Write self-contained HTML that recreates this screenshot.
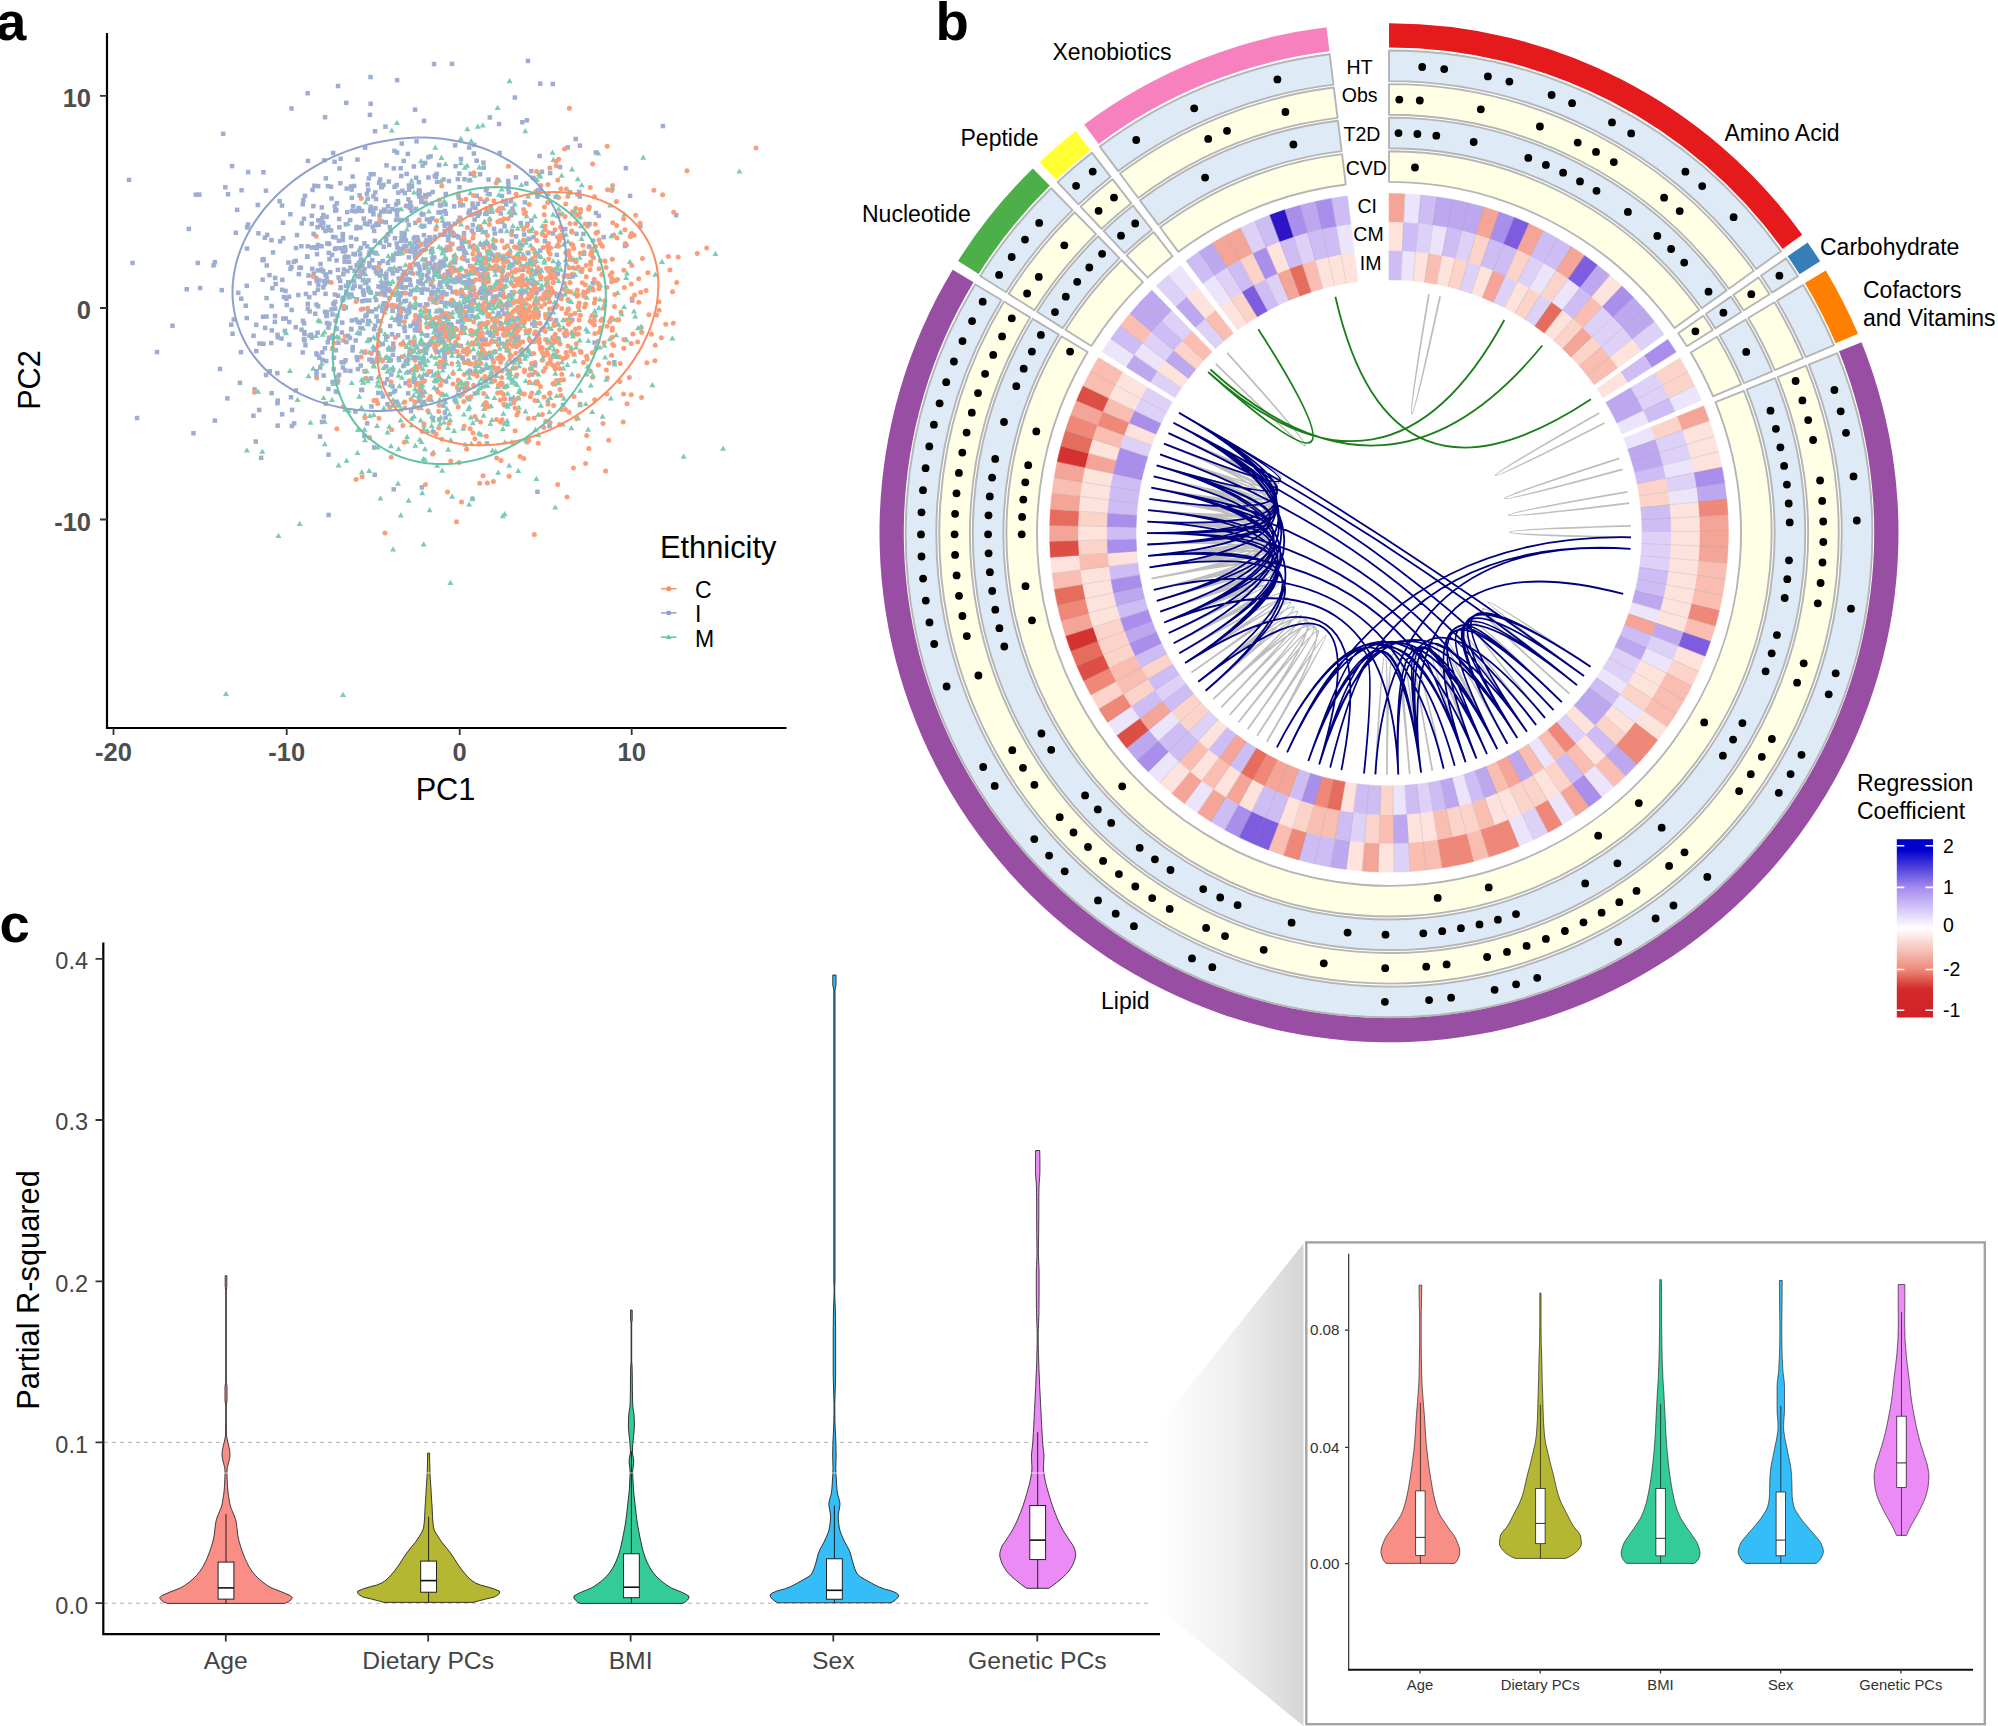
<!DOCTYPE html>
<html><head><meta charset="utf-8"><title>Figure</title>
<style>html,body{margin:0;padding:0;background:#fff}svg{display:block}text{font-family:"Liberation Sans", sans-serif}</style>
</head><body>
<svg width="1998" height="1726" viewBox="0 0 1998 1726">
<rect width="1998" height="1726" fill="#fff"/>
<g opacity="0.85">
<rect x="301.8" y="321.1" width="4.5" height="4.5" fill="#8da0cb"/>
<path d="M520 358.8l3 5.2h-6z" fill="#66c2a5"/>
<rect x="516.2" y="334.8" width="4.5" height="4.5" fill="#8da0cb"/>
<path d="M423.3 352.8l3 5.2h-6z" fill="#66c2a5"/>
<rect x="387.7" y="392" width="4.5" height="4.5" fill="#8da0cb"/>
<circle cx="520" cy="328.2" r="2.5" fill="#fc8d62"/>
<circle cx="481.9" cy="339.1" r="2.5" fill="#fc8d62"/>
<rect x="272.9" y="275.7" width="4.5" height="4.5" fill="#8da0cb"/>
<path d="M466.6 249.7l3 5.2h-6z" fill="#66c2a5"/>
<path d="M434.5 377.4l3 5.2h-6z" fill="#66c2a5"/>
<path d="M511 311l3 5.2h-6z" fill="#66c2a5"/>
<rect x="469.1" y="212.5" width="4.5" height="4.5" fill="#8da0cb"/>
<path d="M496.4 330.2l3 5.2h-6z" fill="#66c2a5"/>
<path d="M450.1 329.1l3 5.2h-6z" fill="#66c2a5"/>
<path d="M376.6 335.3l3 5.2h-6z" fill="#66c2a5"/>
<rect x="456.4" y="387.8" width="4.5" height="4.5" fill="#8da0cb"/>
<circle cx="427.4" cy="346.5" r="2.5" fill="#fc8d62"/>
<circle cx="494.5" cy="327.1" r="2.5" fill="#fc8d62"/>
<rect x="493" y="268.3" width="4.5" height="4.5" fill="#8da0cb"/>
<rect x="261.2" y="257.8" width="4.5" height="4.5" fill="#8da0cb"/>
<path d="M483.1 401.4l3 5.2h-6z" fill="#66c2a5"/>
<circle cx="520.8" cy="292.9" r="2.5" fill="#fc8d62"/>
<circle cx="565.6" cy="320" r="2.5" fill="#fc8d62"/>
<rect x="433.9" y="333.9" width="4.5" height="4.5" fill="#8da0cb"/>
<rect x="264.3" y="295.9" width="4.5" height="4.5" fill="#8da0cb"/>
<circle cx="557.9" cy="245.3" r="2.5" fill="#fc8d62"/>
<path d="M553.4 309.2l3 5.2h-6z" fill="#66c2a5"/>
<circle cx="457.3" cy="387.5" r="2.5" fill="#fc8d62"/>
<rect x="370" y="357.8" width="4.5" height="4.5" fill="#8da0cb"/>
<circle cx="609.6" cy="321.7" r="2.5" fill="#fc8d62"/>
<path d="M453.1 369l3 5.2h-6z" fill="#66c2a5"/>
<circle cx="544.7" cy="297" r="2.5" fill="#fc8d62"/>
<path d="M442.5 217.5l3 5.2h-6z" fill="#66c2a5"/>
<rect x="412.2" y="339.2" width="4.5" height="4.5" fill="#8da0cb"/>
<circle cx="547.7" cy="342.6" r="2.5" fill="#fc8d62"/>
<rect x="573.4" y="136.7" width="4.5" height="4.5" fill="#8da0cb"/>
<path d="M406.6 290.1l3 5.2h-6z" fill="#66c2a5"/>
<path d="M448.7 373.8l3 5.2h-6z" fill="#66c2a5"/>
<path d="M501.4 291.7l3 5.2h-6z" fill="#66c2a5"/>
<circle cx="557.8" cy="180.1" r="2.5" fill="#fc8d62"/>
<path d="M448 424.9l3 5.2h-6z" fill="#66c2a5"/>
<path d="M541.7 282.4l3 5.2h-6z" fill="#66c2a5"/>
<rect x="378.1" y="328.4" width="4.5" height="4.5" fill="#8da0cb"/>
<path d="M558.8 206l3 5.2h-6z" fill="#66c2a5"/>
<rect x="293.6" y="388.2" width="4.5" height="4.5" fill="#8da0cb"/>
<rect x="402.1" y="299" width="4.5" height="4.5" fill="#8da0cb"/>
<circle cx="579.2" cy="328" r="2.5" fill="#fc8d62"/>
<path d="M392.8 308.1l3 5.2h-6z" fill="#66c2a5"/>
<rect x="321" y="212.8" width="4.5" height="4.5" fill="#8da0cb"/>
<circle cx="550.6" cy="294.1" r="2.5" fill="#fc8d62"/>
<path d="M525.7 377.9l3 5.2h-6z" fill="#66c2a5"/>
<rect x="442.6" y="398" width="4.5" height="4.5" fill="#8da0cb"/>
<circle cx="542.4" cy="414.5" r="2.5" fill="#fc8d62"/>
<circle cx="470.1" cy="291.7" r="2.5" fill="#fc8d62"/>
<path d="M532.8 319.9l3 5.2h-6z" fill="#66c2a5"/>
<path d="M620.5 229.3l3 5.2h-6z" fill="#66c2a5"/>
<rect x="481.3" y="280.4" width="4.5" height="4.5" fill="#8da0cb"/>
<circle cx="756" cy="148" r="2.5" fill="#fc8d62"/>
<circle cx="485.5" cy="275.3" r="2.5" fill="#fc8d62"/>
<circle cx="510.2" cy="325.6" r="2.5" fill="#fc8d62"/>
<rect x="360.9" y="289.4" width="4.5" height="4.5" fill="#8da0cb"/>
<circle cx="550.4" cy="268.4" r="2.5" fill="#fc8d62"/>
<rect x="390.3" y="384.2" width="4.5" height="4.5" fill="#8da0cb"/>
<path d="M357.5 449.9l3 5.2h-6z" fill="#66c2a5"/>
<path d="M534.7 213.3l3 5.2h-6z" fill="#66c2a5"/>
<rect x="154.8" y="349.8" width="4.5" height="4.5" fill="#8da0cb"/>
<rect x="313.8" y="275.9" width="4.5" height="4.5" fill="#8da0cb"/>
<rect x="372.8" y="129" width="4.5" height="4.5" fill="#8da0cb"/>
<path d="M431.4 249.2l3 5.2h-6z" fill="#66c2a5"/>
<circle cx="521.8" cy="321.2" r="2.5" fill="#fc8d62"/>
<path d="M465.3 441.5l3 5.2h-6z" fill="#66c2a5"/>
<path d="M442.9 392l3 5.2h-6z" fill="#66c2a5"/>
<rect x="275.6" y="335.1" width="4.5" height="4.5" fill="#8da0cb"/>
<circle cx="485.8" cy="354.3" r="2.5" fill="#fc8d62"/>
<rect x="419.7" y="290.5" width="4.5" height="4.5" fill="#8da0cb"/>
<rect x="391" y="253" width="4.5" height="4.5" fill="#8da0cb"/>
<path d="M410.5 281.4l3 5.2h-6z" fill="#66c2a5"/>
<path d="M435.5 354.5l3 5.2h-6z" fill="#66c2a5"/>
<path d="M388.9 266.3l3 5.2h-6z" fill="#66c2a5"/>
<rect x="431.2" y="284.6" width="4.5" height="4.5" fill="#8da0cb"/>
<rect x="291.6" y="259.6" width="4.5" height="4.5" fill="#8da0cb"/>
<rect x="359.8" y="387.8" width="4.5" height="4.5" fill="#8da0cb"/>
<circle cx="634.6" cy="295" r="2.5" fill="#fc8d62"/>
<path d="M468.8 276.3l3 5.2h-6z" fill="#66c2a5"/>
<rect x="422.3" y="262.5" width="4.5" height="4.5" fill="#8da0cb"/>
<rect x="416.8" y="398.7" width="4.5" height="4.5" fill="#8da0cb"/>
<path d="M441.6 339.1l3 5.2h-6z" fill="#66c2a5"/>
<circle cx="554.1" cy="323.2" r="2.5" fill="#fc8d62"/>
<rect x="439.1" y="299.7" width="4.5" height="4.5" fill="#8da0cb"/>
<path d="M550 298.1l3 5.2h-6z" fill="#66c2a5"/>
<rect x="326.1" y="224.7" width="4.5" height="4.5" fill="#8da0cb"/>
<path d="M444.7 246.5l3 5.2h-6z" fill="#66c2a5"/>
<path d="M511.8 439.1l3 5.2h-6z" fill="#66c2a5"/>
<rect x="359.1" y="387.6" width="4.5" height="4.5" fill="#8da0cb"/>
<path d="M361.7 376.7l3 5.2h-6z" fill="#66c2a5"/>
<circle cx="586.6" cy="356.2" r="2.5" fill="#fc8d62"/>
<rect x="324.6" y="313.9" width="4.5" height="4.5" fill="#8da0cb"/>
<circle cx="337.2" cy="377.3" r="2.5" fill="#fc8d62"/>
<rect x="474.8" y="255.2" width="4.5" height="4.5" fill="#8da0cb"/>
<rect x="477.6" y="210.1" width="4.5" height="4.5" fill="#8da0cb"/>
<rect x="413.9" y="175.5" width="4.5" height="4.5" fill="#8da0cb"/>
<path d="M556.6 392.9l3 5.2h-6z" fill="#66c2a5"/>
<rect x="437" y="417.3" width="4.5" height="4.5" fill="#8da0cb"/>
<rect x="398.5" y="309.4" width="4.5" height="4.5" fill="#8da0cb"/>
<rect x="386.6" y="179.3" width="4.5" height="4.5" fill="#8da0cb"/>
<path d="M496.4 266.9l3 5.2h-6z" fill="#66c2a5"/>
<rect x="402.4" y="231.4" width="4.5" height="4.5" fill="#8da0cb"/>
<circle cx="579.2" cy="303.1" r="2.5" fill="#fc8d62"/>
<path d="M380.4 495.3l3 5.2h-6z" fill="#66c2a5"/>
<path d="M416.4 284.5l3 5.2h-6z" fill="#66c2a5"/>
<path d="M398.4 372.6l3 5.2h-6z" fill="#66c2a5"/>
<path d="M373.6 362.3l3 5.2h-6z" fill="#66c2a5"/>
<circle cx="544.6" cy="355.6" r="2.5" fill="#fc8d62"/>
<circle cx="476.3" cy="372.7" r="2.5" fill="#fc8d62"/>
<circle cx="438.7" cy="411.6" r="2.5" fill="#fc8d62"/>
<path d="M415.6 324.5l3 5.2h-6z" fill="#66c2a5"/>
<path d="M478 314.1l3 5.2h-6z" fill="#66c2a5"/>
<rect x="470.6" y="222.8" width="4.5" height="4.5" fill="#8da0cb"/>
<path d="M569.3 274.1l3 5.2h-6z" fill="#66c2a5"/>
<rect x="480.5" y="256.8" width="4.5" height="4.5" fill="#8da0cb"/>
<path d="M500.4 227.5l3 5.2h-6z" fill="#66c2a5"/>
<path d="M426.9 199.9l3 5.2h-6z" fill="#66c2a5"/>
<rect x="401.5" y="158.7" width="4.5" height="4.5" fill="#8da0cb"/>
<circle cx="604.1" cy="342.8" r="2.5" fill="#fc8d62"/>
<path d="M438.9 329.9l3 5.2h-6z" fill="#66c2a5"/>
<rect x="472" y="270" width="4.5" height="4.5" fill="#8da0cb"/>
<circle cx="448.4" cy="229.3" r="2.5" fill="#fc8d62"/>
<circle cx="598.4" cy="364.9" r="2.5" fill="#fc8d62"/>
<circle cx="421.1" cy="383.1" r="2.5" fill="#fc8d62"/>
<rect x="483.4" y="337.5" width="4.5" height="4.5" fill="#8da0cb"/>
<circle cx="473.5" cy="233.7" r="2.5" fill="#fc8d62"/>
<circle cx="610.9" cy="319.3" r="2.5" fill="#fc8d62"/>
<circle cx="555.1" cy="367.9" r="2.5" fill="#fc8d62"/>
<rect x="351.3" y="251.7" width="4.5" height="4.5" fill="#8da0cb"/>
<rect x="392.7" y="236" width="4.5" height="4.5" fill="#8da0cb"/>
<circle cx="528.3" cy="267.3" r="2.5" fill="#fc8d62"/>
<circle cx="518.3" cy="397.9" r="2.5" fill="#fc8d62"/>
<rect x="425.2" y="302.2" width="4.5" height="4.5" fill="#8da0cb"/>
<circle cx="528.6" cy="294.1" r="2.5" fill="#fc8d62"/>
<circle cx="590.6" cy="264.3" r="2.5" fill="#fc8d62"/>
<path d="M532.3 225.6l3 5.2h-6z" fill="#66c2a5"/>
<rect x="455.6" y="309" width="4.5" height="4.5" fill="#8da0cb"/>
<rect x="423.9" y="302.1" width="4.5" height="4.5" fill="#8da0cb"/>
<path d="M533.5 261.6l3 5.2h-6z" fill="#66c2a5"/>
<path d="M345.1 253.3l3 5.2h-6z" fill="#66c2a5"/>
<circle cx="508.5" cy="325.9" r="2.5" fill="#fc8d62"/>
<path d="M554.6 381.2l3 5.2h-6z" fill="#66c2a5"/>
<rect x="451.8" y="279" width="4.5" height="4.5" fill="#8da0cb"/>
<path d="M336.8 333.7l3 5.2h-6z" fill="#66c2a5"/>
<circle cx="532.1" cy="363.7" r="2.5" fill="#fc8d62"/>
<rect x="509.8" y="289.9" width="4.5" height="4.5" fill="#8da0cb"/>
<path d="M453.9 297.9l3 5.2h-6z" fill="#66c2a5"/>
<path d="M420.7 417.3l3 5.2h-6z" fill="#66c2a5"/>
<rect x="211.3" y="263.1" width="4.5" height="4.5" fill="#8da0cb"/>
<path d="M492.8 308.6l3 5.2h-6z" fill="#66c2a5"/>
<circle cx="441.1" cy="393.9" r="2.5" fill="#fc8d62"/>
<path d="M469.5 305.2l3 5.2h-6z" fill="#66c2a5"/>
<rect x="457.1" y="171.3" width="4.5" height="4.5" fill="#8da0cb"/>
<rect x="419.9" y="272.6" width="4.5" height="4.5" fill="#8da0cb"/>
<rect x="486.3" y="177.3" width="4.5" height="4.5" fill="#8da0cb"/>
<path d="M469.4 374.5l3 5.2h-6z" fill="#66c2a5"/>
<circle cx="443.9" cy="342.6" r="2.5" fill="#fc8d62"/>
<rect x="279.9" y="412.1" width="4.5" height="4.5" fill="#8da0cb"/>
<circle cx="519.3" cy="344.6" r="2.5" fill="#fc8d62"/>
<path d="M406.2 242.8l3 5.2h-6z" fill="#66c2a5"/>
<path d="M519.6 238.8l3 5.2h-6z" fill="#66c2a5"/>
<rect x="525.3" y="221.5" width="4.5" height="4.5" fill="#8da0cb"/>
<circle cx="473.2" cy="287.7" r="2.5" fill="#fc8d62"/>
<circle cx="553.6" cy="338.8" r="2.5" fill="#fc8d62"/>
<path d="M470.3 209.4l3 5.2h-6z" fill="#66c2a5"/>
<rect x="419" y="199.6" width="4.5" height="4.5" fill="#8da0cb"/>
<path d="M392.7 389.4l3 5.2h-6z" fill="#66c2a5"/>
<path d="M441.6 283.7l3 5.2h-6z" fill="#66c2a5"/>
<path d="M481.5 306.8l3 5.2h-6z" fill="#66c2a5"/>
<circle cx="634.1" cy="235.3" r="2.5" fill="#fc8d62"/>
<circle cx="494.5" cy="351.7" r="2.5" fill="#fc8d62"/>
<circle cx="537.7" cy="303.3" r="2.5" fill="#fc8d62"/>
<circle cx="522.2" cy="349.5" r="2.5" fill="#fc8d62"/>
<rect x="298.6" y="265.6" width="4.5" height="4.5" fill="#8da0cb"/>
<circle cx="502.2" cy="279.8" r="2.5" fill="#fc8d62"/>
<path d="M464.7 348l3 5.2h-6z" fill="#66c2a5"/>
<rect x="340.6" y="249.1" width="4.5" height="4.5" fill="#8da0cb"/>
<rect x="420.9" y="342.1" width="4.5" height="4.5" fill="#8da0cb"/>
<path d="M579.1 306.8l3 5.2h-6z" fill="#66c2a5"/>
<circle cx="502.5" cy="271.7" r="2.5" fill="#fc8d62"/>
<rect x="399" y="173.8" width="4.5" height="4.5" fill="#8da0cb"/>
<path d="M453.3 302.8l3 5.2h-6z" fill="#66c2a5"/>
<path d="M477.5 302.9l3 5.2h-6z" fill="#66c2a5"/>
<circle cx="495.3" cy="368.9" r="2.5" fill="#fc8d62"/>
<path d="M449.5 411l3 5.2h-6z" fill="#66c2a5"/>
<circle cx="412" cy="370" r="2.5" fill="#fc8d62"/>
<rect x="506.8" y="369" width="4.5" height="4.5" fill="#8da0cb"/>
<rect x="412.2" y="319.4" width="4.5" height="4.5" fill="#8da0cb"/>
<rect x="404.4" y="171.7" width="4.5" height="4.5" fill="#8da0cb"/>
<circle cx="511.2" cy="336.8" r="2.5" fill="#fc8d62"/>
<circle cx="469.2" cy="373.5" r="2.5" fill="#fc8d62"/>
<path d="M451.9 349l3 5.2h-6z" fill="#66c2a5"/>
<path d="M493.2 299l3 5.2h-6z" fill="#66c2a5"/>
<circle cx="569.1" cy="412.2" r="2.5" fill="#fc8d62"/>
<circle cx="585.2" cy="224" r="2.5" fill="#fc8d62"/>
<path d="M538.2 330.3l3 5.2h-6z" fill="#66c2a5"/>
<path d="M431.6 336.9l3 5.2h-6z" fill="#66c2a5"/>
<circle cx="424.7" cy="307.5" r="2.5" fill="#fc8d62"/>
<path d="M594.8 308l3 5.2h-6z" fill="#66c2a5"/>
<circle cx="422.2" cy="431.6" r="2.5" fill="#fc8d62"/>
<rect x="275.2" y="401" width="4.5" height="4.5" fill="#8da0cb"/>
<rect x="460.5" y="245.5" width="4.5" height="4.5" fill="#8da0cb"/>
<rect x="281" y="316.4" width="4.5" height="4.5" fill="#8da0cb"/>
<path d="M554.1 346.4l3 5.2h-6z" fill="#66c2a5"/>
<rect x="355.7" y="366.9" width="4.5" height="4.5" fill="#8da0cb"/>
<circle cx="459.1" cy="355.4" r="2.5" fill="#fc8d62"/>
<rect x="422.5" y="265.7" width="4.5" height="4.5" fill="#8da0cb"/>
<path d="M517.6 225.4l3 5.2h-6z" fill="#66c2a5"/>
<circle cx="520.7" cy="351.5" r="2.5" fill="#fc8d62"/>
<path d="M332.5 345.7l3 5.2h-6z" fill="#66c2a5"/>
<path d="M540.7 276.2l3 5.2h-6z" fill="#66c2a5"/>
<rect x="536.4" y="312.7" width="4.5" height="4.5" fill="#8da0cb"/>
<rect x="355.2" y="157.3" width="4.5" height="4.5" fill="#8da0cb"/>
<rect x="401" y="246.8" width="4.5" height="4.5" fill="#8da0cb"/>
<rect x="428.6" y="282.2" width="4.5" height="4.5" fill="#8da0cb"/>
<circle cx="449.1" cy="423.3" r="2.5" fill="#fc8d62"/>
<circle cx="504.6" cy="398.9" r="2.5" fill="#fc8d62"/>
<rect x="419" y="248.6" width="4.5" height="4.5" fill="#8da0cb"/>
<circle cx="502.7" cy="286" r="2.5" fill="#fc8d62"/>
<circle cx="519.3" cy="359.5" r="2.5" fill="#fc8d62"/>
<circle cx="653.9" cy="190.3" r="2.5" fill="#fc8d62"/>
<circle cx="492.2" cy="318.7" r="2.5" fill="#fc8d62"/>
<circle cx="546.5" cy="315.4" r="2.5" fill="#fc8d62"/>
<path d="M588.2 426.5l3 5.2h-6z" fill="#66c2a5"/>
<path d="M508.4 314.4l3 5.2h-6z" fill="#66c2a5"/>
<circle cx="493.4" cy="303.4" r="2.5" fill="#fc8d62"/>
<circle cx="502.6" cy="289.1" r="2.5" fill="#fc8d62"/>
<rect x="434.5" y="387.1" width="4.5" height="4.5" fill="#8da0cb"/>
<circle cx="544.2" cy="397" r="2.5" fill="#fc8d62"/>
<path d="M403.9 340.3l3 5.2h-6z" fill="#66c2a5"/>
<path d="M494.2 283.8l3 5.2h-6z" fill="#66c2a5"/>
<rect x="534.5" y="379.5" width="4.5" height="4.5" fill="#8da0cb"/>
<rect x="520.1" y="242.8" width="4.5" height="4.5" fill="#8da0cb"/>
<circle cx="553.7" cy="405.4" r="2.5" fill="#fc8d62"/>
<rect x="309.6" y="245.3" width="4.5" height="4.5" fill="#8da0cb"/>
<circle cx="483.9" cy="307.5" r="2.5" fill="#fc8d62"/>
<circle cx="463.8" cy="401.6" r="2.5" fill="#fc8d62"/>
<path d="M506.7 326.9l3 5.2h-6z" fill="#66c2a5"/>
<rect x="590.9" y="238.4" width="4.5" height="4.5" fill="#8da0cb"/>
<path d="M511.5 296.9l3 5.2h-6z" fill="#66c2a5"/>
<path d="M478.4 290.1l3 5.2h-6z" fill="#66c2a5"/>
<rect x="512.6" y="95.3" width="4.5" height="4.5" fill="#8da0cb"/>
<circle cx="513.8" cy="286" r="2.5" fill="#fc8d62"/>
<rect x="422.9" y="200.5" width="4.5" height="4.5" fill="#8da0cb"/>
<rect x="356.6" y="260.7" width="4.5" height="4.5" fill="#8da0cb"/>
<path d="M423.6 541.2l3 5.2h-6z" fill="#66c2a5"/>
<path d="M723.1 445.6l3 5.2h-6z" fill="#66c2a5"/>
<path d="M461.3 384.5l3 5.2h-6z" fill="#66c2a5"/>
<circle cx="420.6" cy="343.5" r="2.5" fill="#fc8d62"/>
<rect x="269" y="340.8" width="4.5" height="4.5" fill="#8da0cb"/>
<rect x="311.1" y="203.9" width="4.5" height="4.5" fill="#8da0cb"/>
<rect x="442.7" y="208.7" width="4.5" height="4.5" fill="#8da0cb"/>
<path d="M461.4 327.6l3 5.2h-6z" fill="#66c2a5"/>
<rect x="354.4" y="297.7" width="4.5" height="4.5" fill="#8da0cb"/>
<path d="M519.8 278.2l3 5.2h-6z" fill="#66c2a5"/>
<rect x="367.1" y="337.4" width="4.5" height="4.5" fill="#8da0cb"/>
<rect x="436.2" y="210.2" width="4.5" height="4.5" fill="#8da0cb"/>
<path d="M443.2 311.5l3 5.2h-6z" fill="#66c2a5"/>
<path d="M485 282.2l3 5.2h-6z" fill="#66c2a5"/>
<path d="M591.2 313.3l3 5.2h-6z" fill="#66c2a5"/>
<path d="M437.2 338.4l3 5.2h-6z" fill="#66c2a5"/>
<circle cx="562.2" cy="230" r="2.5" fill="#fc8d62"/>
<circle cx="464.2" cy="374.4" r="2.5" fill="#fc8d62"/>
<rect x="500" y="307.9" width="4.5" height="4.5" fill="#8da0cb"/>
<path d="M506.9 366.2l3 5.2h-6z" fill="#66c2a5"/>
<path d="M626.4 336.6l3 5.2h-6z" fill="#66c2a5"/>
<rect x="326.3" y="452.4" width="4.5" height="4.5" fill="#8da0cb"/>
<path d="M574.1 256.5l3 5.2h-6z" fill="#66c2a5"/>
<rect x="279.8" y="203.3" width="4.5" height="4.5" fill="#8da0cb"/>
<path d="M544.4 257.5l3 5.2h-6z" fill="#66c2a5"/>
<rect x="460.7" y="326.6" width="4.5" height="4.5" fill="#8da0cb"/>
<rect x="426.7" y="308.8" width="4.5" height="4.5" fill="#8da0cb"/>
<rect x="344.1" y="289.5" width="4.5" height="4.5" fill="#8da0cb"/>
<rect x="234.9" y="207.6" width="4.5" height="4.5" fill="#8da0cb"/>
<rect x="469.9" y="308.8" width="4.5" height="4.5" fill="#8da0cb"/>
<circle cx="599" cy="288.8" r="2.5" fill="#fc8d62"/>
<circle cx="453" cy="383.9" r="2.5" fill="#fc8d62"/>
<rect x="374.3" y="314.3" width="4.5" height="4.5" fill="#8da0cb"/>
<path d="M327.3 227.1l3 5.2h-6z" fill="#66c2a5"/>
<path d="M399.4 402.4l3 5.2h-6z" fill="#66c2a5"/>
<path d="M397 402.4l3 5.2h-6z" fill="#66c2a5"/>
<rect x="557.7" y="164.8" width="4.5" height="4.5" fill="#8da0cb"/>
<circle cx="560.4" cy="227" r="2.5" fill="#fc8d62"/>
<circle cx="503.8" cy="335.2" r="2.5" fill="#fc8d62"/>
<rect x="443.8" y="379.2" width="4.5" height="4.5" fill="#8da0cb"/>
<circle cx="517.9" cy="255.8" r="2.5" fill="#fc8d62"/>
<path d="M525.9 239.6l3 5.2h-6z" fill="#66c2a5"/>
<rect x="456.3" y="235.1" width="4.5" height="4.5" fill="#8da0cb"/>
<path d="M387.5 368.5l3 5.2h-6z" fill="#66c2a5"/>
<path d="M484 405.9l3 5.2h-6z" fill="#66c2a5"/>
<circle cx="575.5" cy="329" r="2.5" fill="#fc8d62"/>
<circle cx="506.7" cy="319.8" r="2.5" fill="#fc8d62"/>
<circle cx="525.4" cy="291.6" r="2.5" fill="#fc8d62"/>
<path d="M365.6 199.2l3 5.2h-6z" fill="#66c2a5"/>
<rect x="321" y="225.6" width="4.5" height="4.5" fill="#8da0cb"/>
<path d="M519.5 258.4l3 5.2h-6z" fill="#66c2a5"/>
<path d="M526.4 236.6l3 5.2h-6z" fill="#66c2a5"/>
<rect x="461.7" y="238.1" width="4.5" height="4.5" fill="#8da0cb"/>
<rect x="406.7" y="369.7" width="4.5" height="4.5" fill="#8da0cb"/>
<path d="M498.8 303.3l3 5.2h-6z" fill="#66c2a5"/>
<circle cx="489" cy="406.6" r="2.5" fill="#fc8d62"/>
<path d="M572.7 256.4l3 5.2h-6z" fill="#66c2a5"/>
<circle cx="331.2" cy="282.5" r="2.5" fill="#fc8d62"/>
<circle cx="447.9" cy="333" r="2.5" fill="#fc8d62"/>
<rect x="326.8" y="241.7" width="4.5" height="4.5" fill="#8da0cb"/>
<rect x="612.1" y="360" width="4.5" height="4.5" fill="#8da0cb"/>
<rect x="367.5" y="337.6" width="4.5" height="4.5" fill="#8da0cb"/>
<circle cx="489.8" cy="352.7" r="2.5" fill="#fc8d62"/>
<rect x="379.7" y="184.6" width="4.5" height="4.5" fill="#8da0cb"/>
<rect x="381.8" y="207.3" width="4.5" height="4.5" fill="#8da0cb"/>
<rect x="311.5" y="271.4" width="4.5" height="4.5" fill="#8da0cb"/>
<path d="M419.7 269.6l3 5.2h-6z" fill="#66c2a5"/>
<path d="M439.9 319.7l3 5.2h-6z" fill="#66c2a5"/>
<path d="M549.4 408.9l3 5.2h-6z" fill="#66c2a5"/>
<rect x="574.2" y="231.6" width="4.5" height="4.5" fill="#8da0cb"/>
<path d="M418.2 315.5l3 5.2h-6z" fill="#66c2a5"/>
<circle cx="457" cy="351.5" r="2.5" fill="#fc8d62"/>
<path d="M555.4 332.1l3 5.2h-6z" fill="#66c2a5"/>
<rect x="467.3" y="279.2" width="4.5" height="4.5" fill="#8da0cb"/>
<circle cx="594.4" cy="325" r="2.5" fill="#fc8d62"/>
<circle cx="433" cy="338.2" r="2.5" fill="#fc8d62"/>
<rect x="449.7" y="232.4" width="4.5" height="4.5" fill="#8da0cb"/>
<path d="M496.6 372.9l3 5.2h-6z" fill="#66c2a5"/>
<rect x="326.5" y="250.6" width="4.5" height="4.5" fill="#8da0cb"/>
<path d="M538.4 431.7l3 5.2h-6z" fill="#66c2a5"/>
<rect x="355.6" y="319.5" width="4.5" height="4.5" fill="#8da0cb"/>
<rect x="362.9" y="145.4" width="4.5" height="4.5" fill="#8da0cb"/>
<rect x="471.1" y="285.4" width="4.5" height="4.5" fill="#8da0cb"/>
<path d="M504.9 439.2l3 5.2h-6z" fill="#66c2a5"/>
<rect x="417.7" y="267.6" width="4.5" height="4.5" fill="#8da0cb"/>
<rect x="436.4" y="270.1" width="4.5" height="4.5" fill="#8da0cb"/>
<path d="M576.3 257l3 5.2h-6z" fill="#66c2a5"/>
<circle cx="482.1" cy="332.8" r="2.5" fill="#fc8d62"/>
<rect x="486.1" y="278" width="4.5" height="4.5" fill="#8da0cb"/>
<path d="M478.5 325.4l3 5.2h-6z" fill="#66c2a5"/>
<path d="M424 422.2l3 5.2h-6z" fill="#66c2a5"/>
<path d="M426.1 260.8l3 5.2h-6z" fill="#66c2a5"/>
<circle cx="453.3" cy="261.8" r="2.5" fill="#fc8d62"/>
<circle cx="572.8" cy="213.3" r="2.5" fill="#fc8d62"/>
<path d="M525.3 128.1l3 5.2h-6z" fill="#66c2a5"/>
<rect x="367.7" y="112.6" width="4.5" height="4.5" fill="#8da0cb"/>
<circle cx="549.1" cy="296.6" r="2.5" fill="#fc8d62"/>
<rect x="126.8" y="177.6" width="4.5" height="4.5" fill="#8da0cb"/>
<rect x="368.3" y="74.8" width="4.5" height="4.5" fill="#8da0cb"/>
<path d="M542.3 222.9l3 5.2h-6z" fill="#66c2a5"/>
<rect x="387.9" y="288.6" width="4.5" height="4.5" fill="#8da0cb"/>
<rect x="450.3" y="289.9" width="4.5" height="4.5" fill="#8da0cb"/>
<rect x="403.6" y="238" width="4.5" height="4.5" fill="#8da0cb"/>
<path d="M481.7 258.4l3 5.2h-6z" fill="#66c2a5"/>
<circle cx="536.1" cy="232.9" r="2.5" fill="#fc8d62"/>
<path d="M440.7 178.5l3 5.2h-6z" fill="#66c2a5"/>
<rect x="314.5" y="278.7" width="4.5" height="4.5" fill="#8da0cb"/>
<circle cx="456.4" cy="351.5" r="2.5" fill="#fc8d62"/>
<rect x="333" y="208.4" width="4.5" height="4.5" fill="#8da0cb"/>
<circle cx="409.7" cy="265.1" r="2.5" fill="#fc8d62"/>
<circle cx="474.6" cy="331.7" r="2.5" fill="#fc8d62"/>
<circle cx="612.8" cy="222.7" r="2.5" fill="#fc8d62"/>
<rect x="334.1" y="207.6" width="4.5" height="4.5" fill="#8da0cb"/>
<rect x="406.2" y="197.1" width="4.5" height="4.5" fill="#8da0cb"/>
<rect x="320.3" y="268.8" width="4.5" height="4.5" fill="#8da0cb"/>
<circle cx="530.4" cy="396.7" r="2.5" fill="#fc8d62"/>
<rect x="362.2" y="241.1" width="4.5" height="4.5" fill="#8da0cb"/>
<circle cx="591.6" cy="252" r="2.5" fill="#fc8d62"/>
<path d="M471.3 280.8l3 5.2h-6z" fill="#66c2a5"/>
<circle cx="529.3" cy="204.4" r="2.5" fill="#fc8d62"/>
<rect x="323.9" y="313" width="4.5" height="4.5" fill="#8da0cb"/>
<circle cx="676.7" cy="282.6" r="2.5" fill="#fc8d62"/>
<rect x="399.5" y="141.3" width="4.5" height="4.5" fill="#8da0cb"/>
<circle cx="594.2" cy="320.5" r="2.5" fill="#fc8d62"/>
<circle cx="452.4" cy="234.5" r="2.5" fill="#fc8d62"/>
<rect x="382.9" y="198.7" width="4.5" height="4.5" fill="#8da0cb"/>
<rect x="275.4" y="423.4" width="4.5" height="4.5" fill="#8da0cb"/>
<rect x="345" y="209.9" width="4.5" height="4.5" fill="#8da0cb"/>
<path d="M506.2 197.3l3 5.2h-6z" fill="#66c2a5"/>
<circle cx="592.4" cy="352.7" r="2.5" fill="#fc8d62"/>
<rect x="348.1" y="368.7" width="4.5" height="4.5" fill="#8da0cb"/>
<circle cx="548.4" cy="250.3" r="2.5" fill="#fc8d62"/>
<path d="M495.7 448.2l3 5.2h-6z" fill="#66c2a5"/>
<rect x="494.3" y="294" width="4.5" height="4.5" fill="#8da0cb"/>
<rect x="328" y="269.9" width="4.5" height="4.5" fill="#8da0cb"/>
<rect x="344" y="100.6" width="4.5" height="4.5" fill="#8da0cb"/>
<rect x="395.2" y="291.9" width="4.5" height="4.5" fill="#8da0cb"/>
<rect x="459.2" y="309.4" width="4.5" height="4.5" fill="#8da0cb"/>
<path d="M459.7 365.9l3 5.2h-6z" fill="#66c2a5"/>
<path d="M643.2 154.6l3 5.2h-6z" fill="#66c2a5"/>
<circle cx="440.6" cy="385.2" r="2.5" fill="#fc8d62"/>
<rect x="460.4" y="238.3" width="4.5" height="4.5" fill="#8da0cb"/>
<circle cx="425.1" cy="351.2" r="2.5" fill="#fc8d62"/>
<path d="M363.3 325.2l3 5.2h-6z" fill="#66c2a5"/>
<rect x="373" y="190.1" width="4.5" height="4.5" fill="#8da0cb"/>
<path d="M414.1 376.5l3 5.2h-6z" fill="#66c2a5"/>
<circle cx="581.7" cy="271.7" r="2.5" fill="#fc8d62"/>
<rect x="438.7" y="203" width="4.5" height="4.5" fill="#8da0cb"/>
<circle cx="486" cy="208.7" r="2.5" fill="#fc8d62"/>
<path d="M420.7 307l3 5.2h-6z" fill="#66c2a5"/>
<rect x="403.8" y="298.4" width="4.5" height="4.5" fill="#8da0cb"/>
<rect x="415.6" y="271.1" width="4.5" height="4.5" fill="#8da0cb"/>
<rect x="375.1" y="358.3" width="4.5" height="4.5" fill="#8da0cb"/>
<path d="M429.6 507.1l3 5.2h-6z" fill="#66c2a5"/>
<rect x="458.7" y="156.8" width="4.5" height="4.5" fill="#8da0cb"/>
<path d="M580.6 267.4l3 5.2h-6z" fill="#66c2a5"/>
<path d="M494.3 316.1l3 5.2h-6z" fill="#66c2a5"/>
<circle cx="514.6" cy="336.9" r="2.5" fill="#fc8d62"/>
<path d="M486 354.7l3 5.2h-6z" fill="#66c2a5"/>
<path d="M478.9 430.2l3 5.2h-6z" fill="#66c2a5"/>
<path d="M507.9 293.9l3 5.2h-6z" fill="#66c2a5"/>
<circle cx="624.4" cy="287.4" r="2.5" fill="#fc8d62"/>
<rect x="375.2" y="271.5" width="4.5" height="4.5" fill="#8da0cb"/>
<path d="M340.6 285l3 5.2h-6z" fill="#66c2a5"/>
<circle cx="580.2" cy="212.6" r="2.5" fill="#fc8d62"/>
<circle cx="613.8" cy="345.6" r="2.5" fill="#fc8d62"/>
<path d="M476.5 336.3l3 5.2h-6z" fill="#66c2a5"/>
<circle cx="544.2" cy="214.7" r="2.5" fill="#fc8d62"/>
<path d="M534.2 258.7l3 5.2h-6z" fill="#66c2a5"/>
<path d="M600.4 282.2l3 5.2h-6z" fill="#66c2a5"/>
<circle cx="470.5" cy="397.2" r="2.5" fill="#fc8d62"/>
<circle cx="503.2" cy="394" r="2.5" fill="#fc8d62"/>
<rect x="387.5" y="209.4" width="4.5" height="4.5" fill="#8da0cb"/>
<rect x="362.3" y="368.9" width="4.5" height="4.5" fill="#8da0cb"/>
<rect x="395.5" y="199" width="4.5" height="4.5" fill="#8da0cb"/>
<path d="M466.6 369.5l3 5.2h-6z" fill="#66c2a5"/>
<path d="M435.5 345l3 5.2h-6z" fill="#66c2a5"/>
<rect x="442.6" y="410.4" width="4.5" height="4.5" fill="#8da0cb"/>
<circle cx="637.6" cy="341.9" r="2.5" fill="#fc8d62"/>
<path d="M359.2 393.5l3 5.2h-6z" fill="#66c2a5"/>
<circle cx="487.5" cy="274" r="2.5" fill="#fc8d62"/>
<path d="M381.7 389.2l3 5.2h-6z" fill="#66c2a5"/>
<rect x="407" y="353.1" width="4.5" height="4.5" fill="#8da0cb"/>
<path d="M387.6 429.3l3 5.2h-6z" fill="#66c2a5"/>
<rect x="284.5" y="302.7" width="4.5" height="4.5" fill="#8da0cb"/>
<rect x="400.9" y="285.6" width="4.5" height="4.5" fill="#8da0cb"/>
<circle cx="494.7" cy="323.8" r="2.5" fill="#fc8d62"/>
<path d="M536.3 257.7l3 5.2h-6z" fill="#66c2a5"/>
<path d="M485.6 354.9l3 5.2h-6z" fill="#66c2a5"/>
<circle cx="551.8" cy="342.9" r="2.5" fill="#fc8d62"/>
<rect x="442.9" y="303.2" width="4.5" height="4.5" fill="#8da0cb"/>
<circle cx="570.9" cy="351.2" r="2.5" fill="#fc8d62"/>
<path d="M512.4 294.6l3 5.2h-6z" fill="#66c2a5"/>
<path d="M460.2 309.1l3 5.2h-6z" fill="#66c2a5"/>
<rect x="260.3" y="257.8" width="4.5" height="4.5" fill="#8da0cb"/>
<path d="M470.3 316.5l3 5.2h-6z" fill="#66c2a5"/>
<path d="M510.3 336.7l3 5.2h-6z" fill="#66c2a5"/>
<rect x="244.5" y="283.6" width="4.5" height="4.5" fill="#8da0cb"/>
<path d="M393.2 342.4l3 5.2h-6z" fill="#66c2a5"/>
<circle cx="550.2" cy="274.5" r="2.5" fill="#fc8d62"/>
<rect x="426.2" y="175.2" width="4.5" height="4.5" fill="#8da0cb"/>
<circle cx="560.1" cy="380.2" r="2.5" fill="#fc8d62"/>
<path d="M483.5 284l3 5.2h-6z" fill="#66c2a5"/>
<path d="M497.9 383.9l3 5.2h-6z" fill="#66c2a5"/>
<circle cx="441.8" cy="380.6" r="2.5" fill="#fc8d62"/>
<circle cx="500.7" cy="362.3" r="2.5" fill="#fc8d62"/>
<rect x="518.4" y="295.4" width="4.5" height="4.5" fill="#8da0cb"/>
<circle cx="543.5" cy="299.5" r="2.5" fill="#fc8d62"/>
<path d="M426.5 344.3l3 5.2h-6z" fill="#66c2a5"/>
<circle cx="480.8" cy="371.6" r="2.5" fill="#fc8d62"/>
<path d="M583.8 289l3 5.2h-6z" fill="#66c2a5"/>
<circle cx="527" cy="442.3" r="2.5" fill="#fc8d62"/>
<rect x="340.6" y="237.8" width="4.5" height="4.5" fill="#8da0cb"/>
<circle cx="313.4" cy="276.4" r="2.5" fill="#fc8d62"/>
<path d="M496.2 372.2l3 5.2h-6z" fill="#66c2a5"/>
<circle cx="552.9" cy="338.1" r="2.5" fill="#fc8d62"/>
<circle cx="500.2" cy="400.1" r="2.5" fill="#fc8d62"/>
<rect x="458.7" y="343.8" width="4.5" height="4.5" fill="#8da0cb"/>
<path d="M415 386l3 5.2h-6z" fill="#66c2a5"/>
<path d="M448.7 231.5l3 5.2h-6z" fill="#66c2a5"/>
<path d="M378.2 378.4l3 5.2h-6z" fill="#66c2a5"/>
<path d="M401.3 206l3 5.2h-6z" fill="#66c2a5"/>
<circle cx="540.9" cy="276.9" r="2.5" fill="#fc8d62"/>
<path d="M384.9 309.3l3 5.2h-6z" fill="#66c2a5"/>
<rect x="516" y="316" width="4.5" height="4.5" fill="#8da0cb"/>
<rect x="390.7" y="352.6" width="4.5" height="4.5" fill="#8da0cb"/>
<circle cx="495.2" cy="351.8" r="2.5" fill="#fc8d62"/>
<path d="M506.1 332l3 5.2h-6z" fill="#66c2a5"/>
<path d="M410 300.6l3 5.2h-6z" fill="#66c2a5"/>
<rect x="459.6" y="242.1" width="4.5" height="4.5" fill="#8da0cb"/>
<rect x="239" y="296.5" width="4.5" height="4.5" fill="#8da0cb"/>
<rect x="479.4" y="266.6" width="4.5" height="4.5" fill="#8da0cb"/>
<circle cx="582.2" cy="269.2" r="2.5" fill="#fc8d62"/>
<path d="M423.1 392.4l3 5.2h-6z" fill="#66c2a5"/>
<rect x="351.8" y="283.8" width="4.5" height="4.5" fill="#8da0cb"/>
<circle cx="380.5" cy="294.3" r="2.5" fill="#fc8d62"/>
<circle cx="665.8" cy="324.3" r="2.5" fill="#fc8d62"/>
<rect x="412.9" y="305.6" width="4.5" height="4.5" fill="#8da0cb"/>
<rect x="335.8" y="83.8" width="4.5" height="4.5" fill="#8da0cb"/>
<rect x="382.8" y="209.1" width="4.5" height="4.5" fill="#8da0cb"/>
<rect x="459.4" y="238" width="4.5" height="4.5" fill="#8da0cb"/>
<rect x="463.8" y="304.5" width="4.5" height="4.5" fill="#8da0cb"/>
<rect x="423.8" y="350.6" width="4.5" height="4.5" fill="#8da0cb"/>
<path d="M469.3 367.4l3 5.2h-6z" fill="#66c2a5"/>
<circle cx="557.5" cy="236.9" r="2.5" fill="#fc8d62"/>
<rect x="465.2" y="283.3" width="4.5" height="4.5" fill="#8da0cb"/>
<path d="M445.5 160.9l3 5.2h-6z" fill="#66c2a5"/>
<circle cx="497" cy="298.9" r="2.5" fill="#fc8d62"/>
<rect x="315.5" y="268.2" width="4.5" height="4.5" fill="#8da0cb"/>
<circle cx="561.4" cy="299.1" r="2.5" fill="#fc8d62"/>
<path d="M470.4 190.1l3 5.2h-6z" fill="#66c2a5"/>
<rect x="385.7" y="232.2" width="4.5" height="4.5" fill="#8da0cb"/>
<rect x="442.6" y="229.5" width="4.5" height="4.5" fill="#8da0cb"/>
<path d="M504.1 329.5l3 5.2h-6z" fill="#66c2a5"/>
<rect x="371.7" y="265.4" width="4.5" height="4.5" fill="#8da0cb"/>
<path d="M378.9 337.9l3 5.2h-6z" fill="#66c2a5"/>
<circle cx="560.9" cy="188.8" r="2.5" fill="#fc8d62"/>
<rect x="390.3" y="308.1" width="4.5" height="4.5" fill="#8da0cb"/>
<path d="M569.2 297.2l3 5.2h-6z" fill="#66c2a5"/>
<path d="M469.3 301.8l3 5.2h-6z" fill="#66c2a5"/>
<circle cx="590.2" cy="370.9" r="2.5" fill="#fc8d62"/>
<rect x="341.1" y="272" width="4.5" height="4.5" fill="#8da0cb"/>
<rect x="251.2" y="413.5" width="4.5" height="4.5" fill="#8da0cb"/>
<rect x="305.5" y="301.6" width="4.5" height="4.5" fill="#8da0cb"/>
<rect x="302" y="329.9" width="4.5" height="4.5" fill="#8da0cb"/>
<circle cx="596" cy="233.1" r="2.5" fill="#fc8d62"/>
<rect x="417" y="217.6" width="4.5" height="4.5" fill="#8da0cb"/>
<rect x="490.6" y="317.3" width="4.5" height="4.5" fill="#8da0cb"/>
<circle cx="594.6" cy="316.8" r="2.5" fill="#fc8d62"/>
<path d="M510.5 302.1l3 5.2h-6z" fill="#66c2a5"/>
<path d="M448.1 315.8l3 5.2h-6z" fill="#66c2a5"/>
<path d="M433.5 449.3l3 5.2h-6z" fill="#66c2a5"/>
<path d="M445 355.9l3 5.2h-6z" fill="#66c2a5"/>
<rect x="387.1" y="295.7" width="4.5" height="4.5" fill="#8da0cb"/>
<path d="M423.8 354.9l3 5.2h-6z" fill="#66c2a5"/>
<circle cx="529.1" cy="298.7" r="2.5" fill="#fc8d62"/>
<rect x="448.2" y="285.6" width="4.5" height="4.5" fill="#8da0cb"/>
<rect x="384" y="364.3" width="4.5" height="4.5" fill="#8da0cb"/>
<path d="M476.5 336.4l3 5.2h-6z" fill="#66c2a5"/>
<rect x="475.7" y="213.6" width="4.5" height="4.5" fill="#8da0cb"/>
<circle cx="647.9" cy="272.7" r="2.5" fill="#fc8d62"/>
<circle cx="545.5" cy="339.4" r="2.5" fill="#fc8d62"/>
<rect x="396.7" y="281.3" width="4.5" height="4.5" fill="#8da0cb"/>
<path d="M481 259.7l3 5.2h-6z" fill="#66c2a5"/>
<path d="M440.3 262l3 5.2h-6z" fill="#66c2a5"/>
<path d="M432.7 427.2l3 5.2h-6z" fill="#66c2a5"/>
<circle cx="464.8" cy="317.6" r="2.5" fill="#fc8d62"/>
<path d="M365.5 271.1l3 5.2h-6z" fill="#66c2a5"/>
<path d="M313.2 365.5l3 5.2h-6z" fill="#66c2a5"/>
<path d="M553.1 211.5l3 5.2h-6z" fill="#66c2a5"/>
<path d="M548.9 324.3l3 5.2h-6z" fill="#66c2a5"/>
<rect x="469.5" y="264.6" width="4.5" height="4.5" fill="#8da0cb"/>
<rect x="395.1" y="245.3" width="4.5" height="4.5" fill="#8da0cb"/>
<circle cx="532" cy="258.9" r="2.5" fill="#fc8d62"/>
<rect x="364.4" y="312.6" width="4.5" height="4.5" fill="#8da0cb"/>
<rect x="507.5" y="318.1" width="4.5" height="4.5" fill="#8da0cb"/>
<circle cx="374" cy="362.3" r="2.5" fill="#fc8d62"/>
<circle cx="466.5" cy="286.2" r="2.5" fill="#fc8d62"/>
<path d="M547.8 397l3 5.2h-6z" fill="#66c2a5"/>
<rect x="553.1" y="305" width="4.5" height="4.5" fill="#8da0cb"/>
<circle cx="510.5" cy="340.1" r="2.5" fill="#fc8d62"/>
<path d="M454.1 427.8l3 5.2h-6z" fill="#66c2a5"/>
<circle cx="465.8" cy="298.5" r="2.5" fill="#fc8d62"/>
<path d="M529.1 334.3l3 5.2h-6z" fill="#66c2a5"/>
<path d="M430.5 338l3 5.2h-6z" fill="#66c2a5"/>
<rect x="465.9" y="271.9" width="4.5" height="4.5" fill="#8da0cb"/>
<path d="M436.5 324.2l3 5.2h-6z" fill="#66c2a5"/>
<path d="M536.2 294.6l3 5.2h-6z" fill="#66c2a5"/>
<path d="M672.4 335.3l3 5.2h-6z" fill="#66c2a5"/>
<path d="M443 313.9l3 5.2h-6z" fill="#66c2a5"/>
<circle cx="458.7" cy="248.5" r="2.5" fill="#fc8d62"/>
<circle cx="516.2" cy="301.3" r="2.5" fill="#fc8d62"/>
<rect x="481.4" y="165.4" width="4.5" height="4.5" fill="#8da0cb"/>
<path d="M428.9 208.2l3 5.2h-6z" fill="#66c2a5"/>
<circle cx="486.8" cy="188.8" r="2.5" fill="#fc8d62"/>
<path d="M432.4 252.7l3 5.2h-6z" fill="#66c2a5"/>
<circle cx="599" cy="268.7" r="2.5" fill="#fc8d62"/>
<path d="M490.4 328.6l3 5.2h-6z" fill="#66c2a5"/>
<rect x="488.2" y="332.9" width="4.5" height="4.5" fill="#8da0cb"/>
<path d="M435.4 297l3 5.2h-6z" fill="#66c2a5"/>
<circle cx="515.7" cy="269.7" r="2.5" fill="#fc8d62"/>
<rect x="563" y="226.8" width="4.5" height="4.5" fill="#8da0cb"/>
<rect x="506.8" y="264.9" width="4.5" height="4.5" fill="#8da0cb"/>
<circle cx="482.1" cy="305.7" r="2.5" fill="#fc8d62"/>
<rect x="521.9" y="232.3" width="4.5" height="4.5" fill="#8da0cb"/>
<path d="M452.3 265.9l3 5.2h-6z" fill="#66c2a5"/>
<path d="M429.2 340.8l3 5.2h-6z" fill="#66c2a5"/>
<path d="M361.8 469l3 5.2h-6z" fill="#66c2a5"/>
<path d="M479.1 341.3l3 5.2h-6z" fill="#66c2a5"/>
<path d="M435.5 370.8l3 5.2h-6z" fill="#66c2a5"/>
<circle cx="485.9" cy="324.7" r="2.5" fill="#fc8d62"/>
<circle cx="502.3" cy="268.8" r="2.5" fill="#fc8d62"/>
<path d="M484.2 255.9l3 5.2h-6z" fill="#66c2a5"/>
<path d="M567.4 361.7l3 5.2h-6z" fill="#66c2a5"/>
<circle cx="611.9" cy="190.5" r="2.5" fill="#fc8d62"/>
<rect x="289.4" y="307.7" width="4.5" height="4.5" fill="#8da0cb"/>
<circle cx="483.1" cy="350.8" r="2.5" fill="#fc8d62"/>
<circle cx="518.4" cy="248.2" r="2.5" fill="#fc8d62"/>
<rect x="413.6" y="250.1" width="4.5" height="4.5" fill="#8da0cb"/>
<circle cx="524.4" cy="394.1" r="2.5" fill="#fc8d62"/>
<rect x="550.5" y="81.8" width="4.5" height="4.5" fill="#8da0cb"/>
<rect x="396.1" y="190.4" width="4.5" height="4.5" fill="#8da0cb"/>
<rect x="411.5" y="236.2" width="4.5" height="4.5" fill="#8da0cb"/>
<rect x="503.9" y="202.2" width="4.5" height="4.5" fill="#8da0cb"/>
<path d="M446.2 333.7l3 5.2h-6z" fill="#66c2a5"/>
<circle cx="487.3" cy="251.4" r="2.5" fill="#fc8d62"/>
<path d="M480.2 240.1l3 5.2h-6z" fill="#66c2a5"/>
<circle cx="523.7" cy="209.4" r="2.5" fill="#fc8d62"/>
<circle cx="415.4" cy="315.9" r="2.5" fill="#fc8d62"/>
<path d="M635.2 313.4l3 5.2h-6z" fill="#66c2a5"/>
<path d="M477.9 387.4l3 5.2h-6z" fill="#66c2a5"/>
<rect x="431.4" y="290.1" width="4.5" height="4.5" fill="#8da0cb"/>
<rect x="437.4" y="261.6" width="4.5" height="4.5" fill="#8da0cb"/>
<circle cx="471" cy="271.3" r="2.5" fill="#fc8d62"/>
<circle cx="540.7" cy="349.1" r="2.5" fill="#fc8d62"/>
<circle cx="556.6" cy="380.6" r="2.5" fill="#fc8d62"/>
<circle cx="542.2" cy="352.4" r="2.5" fill="#fc8d62"/>
<path d="M365 437.1l3 5.2h-6z" fill="#66c2a5"/>
<rect x="674" y="213" width="4.5" height="4.5" fill="#8da0cb"/>
<rect x="301.1" y="198" width="4.5" height="4.5" fill="#8da0cb"/>
<path d="M488.5 374.4l3 5.2h-6z" fill="#66c2a5"/>
<rect x="467.7" y="263.7" width="4.5" height="4.5" fill="#8da0cb"/>
<path d="M421.8 384.8l3 5.2h-6z" fill="#66c2a5"/>
<circle cx="546.7" cy="291.6" r="2.5" fill="#fc8d62"/>
<path d="M534.4 317.2l3 5.2h-6z" fill="#66c2a5"/>
<path d="M484.4 289.2l3 5.2h-6z" fill="#66c2a5"/>
<path d="M226 690.8l3 5.2h-6z" fill="#66c2a5"/>
<rect x="396.1" y="217.4" width="4.5" height="4.5" fill="#8da0cb"/>
<rect x="347.7" y="335.7" width="4.5" height="4.5" fill="#8da0cb"/>
<rect x="396.6" y="297.8" width="4.5" height="4.5" fill="#8da0cb"/>
<rect x="518.5" y="220.9" width="4.5" height="4.5" fill="#8da0cb"/>
<circle cx="343.5" cy="340.4" r="2.5" fill="#fc8d62"/>
<rect x="365.4" y="222.1" width="4.5" height="4.5" fill="#8da0cb"/>
<path d="M535.3 304.3l3 5.2h-6z" fill="#66c2a5"/>
<circle cx="522.7" cy="279.4" r="2.5" fill="#fc8d62"/>
<circle cx="511.4" cy="283.8" r="2.5" fill="#fc8d62"/>
<rect x="338.1" y="181" width="4.5" height="4.5" fill="#8da0cb"/>
<path d="M595.7 311.8l3 5.2h-6z" fill="#66c2a5"/>
<path d="M424.5 399.6l3 5.2h-6z" fill="#66c2a5"/>
<circle cx="571.8" cy="231" r="2.5" fill="#fc8d62"/>
<circle cx="411.3" cy="306.1" r="2.5" fill="#fc8d62"/>
<rect x="385.7" y="260.8" width="4.5" height="4.5" fill="#8da0cb"/>
<circle cx="564.4" cy="283.3" r="2.5" fill="#fc8d62"/>
<rect x="406.7" y="183.3" width="4.5" height="4.5" fill="#8da0cb"/>
<rect x="411.7" y="342.6" width="4.5" height="4.5" fill="#8da0cb"/>
<circle cx="459.8" cy="274.9" r="2.5" fill="#fc8d62"/>
<rect x="403.4" y="380.8" width="4.5" height="4.5" fill="#8da0cb"/>
<circle cx="547" cy="350.1" r="2.5" fill="#fc8d62"/>
<rect x="318" y="365.3" width="4.5" height="4.5" fill="#8da0cb"/>
<path d="M480.3 344.1l3 5.2h-6z" fill="#66c2a5"/>
<path d="M390.3 346.3l3 5.2h-6z" fill="#66c2a5"/>
<path d="M393.1 397l3 5.2h-6z" fill="#66c2a5"/>
<rect x="451.5" y="343.5" width="4.5" height="4.5" fill="#8da0cb"/>
<circle cx="535" cy="362.5" r="2.5" fill="#fc8d62"/>
<circle cx="573.7" cy="248.4" r="2.5" fill="#fc8d62"/>
<rect x="416.6" y="188.2" width="4.5" height="4.5" fill="#8da0cb"/>
<rect x="391.5" y="487.1" width="4.5" height="4.5" fill="#8da0cb"/>
<rect x="303.7" y="291.7" width="4.5" height="4.5" fill="#8da0cb"/>
<rect x="492.7" y="245.9" width="4.5" height="4.5" fill="#8da0cb"/>
<path d="M452.4 313.8l3 5.2h-6z" fill="#66c2a5"/>
<circle cx="561.8" cy="296.1" r="2.5" fill="#fc8d62"/>
<circle cx="393.7" cy="347.5" r="2.5" fill="#fc8d62"/>
<rect x="307.4" y="309.2" width="4.5" height="4.5" fill="#8da0cb"/>
<circle cx="486.5" cy="403.4" r="2.5" fill="#fc8d62"/>
<circle cx="537.9" cy="254.9" r="2.5" fill="#fc8d62"/>
<path d="M538.1 263.9l3 5.2h-6z" fill="#66c2a5"/>
<circle cx="436.3" cy="352" r="2.5" fill="#fc8d62"/>
<circle cx="409.4" cy="380.7" r="2.5" fill="#fc8d62"/>
<circle cx="451" cy="348.6" r="2.5" fill="#fc8d62"/>
<path d="M324.8 441.1l3 5.2h-6z" fill="#66c2a5"/>
<path d="M412.8 355l3 5.2h-6z" fill="#66c2a5"/>
<circle cx="399.4" cy="306.6" r="2.5" fill="#fc8d62"/>
<rect x="474.5" y="193.6" width="4.5" height="4.5" fill="#8da0cb"/>
<path d="M443.7 364.1l3 5.2h-6z" fill="#66c2a5"/>
<rect x="452.4" y="221.4" width="4.5" height="4.5" fill="#8da0cb"/>
<circle cx="392.2" cy="293.1" r="2.5" fill="#fc8d62"/>
<path d="M574.7 358l3 5.2h-6z" fill="#66c2a5"/>
<path d="M508.3 293.9l3 5.2h-6z" fill="#66c2a5"/>
<rect x="398.6" y="281.2" width="4.5" height="4.5" fill="#8da0cb"/>
<path d="M493.8 328.6l3 5.2h-6z" fill="#66c2a5"/>
<path d="M481 431.6l3 5.2h-6z" fill="#66c2a5"/>
<rect x="541.9" y="292.8" width="4.5" height="4.5" fill="#8da0cb"/>
<circle cx="626.4" cy="245" r="2.5" fill="#fc8d62"/>
<rect x="343.1" y="247.6" width="4.5" height="4.5" fill="#8da0cb"/>
<path d="M406.1 369.5l3 5.2h-6z" fill="#66c2a5"/>
<rect x="402.6" y="328.7" width="4.5" height="4.5" fill="#8da0cb"/>
<path d="M424.9 388.8l3 5.2h-6z" fill="#66c2a5"/>
<path d="M536.5 304.3l3 5.2h-6z" fill="#66c2a5"/>
<rect x="371.2" y="212" width="4.5" height="4.5" fill="#8da0cb"/>
<path d="M419.4 372.5l3 5.2h-6z" fill="#66c2a5"/>
<rect x="419.6" y="485.1" width="4.5" height="4.5" fill="#8da0cb"/>
<rect x="505.9" y="178.7" width="4.5" height="4.5" fill="#8da0cb"/>
<circle cx="472.7" cy="271.9" r="2.5" fill="#fc8d62"/>
<path d="M404.7 322.5l3 5.2h-6z" fill="#66c2a5"/>
<circle cx="507.1" cy="307.7" r="2.5" fill="#fc8d62"/>
<rect x="507.6" y="292.9" width="4.5" height="4.5" fill="#8da0cb"/>
<path d="M389.3 423.6l3 5.2h-6z" fill="#66c2a5"/>
<circle cx="491.2" cy="374" r="2.5" fill="#fc8d62"/>
<circle cx="493.4" cy="367" r="2.5" fill="#fc8d62"/>
<circle cx="563.5" cy="289.3" r="2.5" fill="#fc8d62"/>
<rect x="445.9" y="238" width="4.5" height="4.5" fill="#8da0cb"/>
<circle cx="646.9" cy="362.8" r="2.5" fill="#fc8d62"/>
<path d="M380.1 383.4l3 5.2h-6z" fill="#66c2a5"/>
<path d="M575.2 271.7l3 5.2h-6z" fill="#66c2a5"/>
<rect x="396.4" y="276.2" width="4.5" height="4.5" fill="#8da0cb"/>
<circle cx="570.9" cy="292.1" r="2.5" fill="#fc8d62"/>
<path d="M403.5 362.1l3 5.2h-6z" fill="#66c2a5"/>
<rect x="442.6" y="223.8" width="4.5" height="4.5" fill="#8da0cb"/>
<circle cx="593.2" cy="290" r="2.5" fill="#fc8d62"/>
<rect x="427.4" y="219.8" width="4.5" height="4.5" fill="#8da0cb"/>
<rect x="130.3" y="260.7" width="4.5" height="4.5" fill="#8da0cb"/>
<rect x="437.7" y="203.1" width="4.5" height="4.5" fill="#8da0cb"/>
<path d="M433.2 417.2l3 5.2h-6z" fill="#66c2a5"/>
<path d="M386.9 353.4l3 5.2h-6z" fill="#66c2a5"/>
<circle cx="415.1" cy="253.3" r="2.5" fill="#fc8d62"/>
<path d="M464.4 381.3l3 5.2h-6z" fill="#66c2a5"/>
<rect x="408.2" y="323.7" width="4.5" height="4.5" fill="#8da0cb"/>
<circle cx="493.4" cy="320.3" r="2.5" fill="#fc8d62"/>
<path d="M571.4 425.1l3 5.2h-6z" fill="#66c2a5"/>
<path d="M395.1 316.7l3 5.2h-6z" fill="#66c2a5"/>
<circle cx="547.3" cy="281.4" r="2.5" fill="#fc8d62"/>
<path d="M478.9 320.7l3 5.2h-6z" fill="#66c2a5"/>
<rect x="518" y="243.9" width="4.5" height="4.5" fill="#8da0cb"/>
<circle cx="477.2" cy="375.9" r="2.5" fill="#fc8d62"/>
<circle cx="538.9" cy="338.7" r="2.5" fill="#fc8d62"/>
<circle cx="506.4" cy="386.5" r="2.5" fill="#fc8d62"/>
<circle cx="506.7" cy="278" r="2.5" fill="#fc8d62"/>
<path d="M411.7 415.5l3 5.2h-6z" fill="#66c2a5"/>
<circle cx="466.6" cy="449.2" r="2.5" fill="#fc8d62"/>
<rect x="352.8" y="209.1" width="4.5" height="4.5" fill="#8da0cb"/>
<path d="M400.8 512.3l3 5.2h-6z" fill="#66c2a5"/>
<path d="M715.5 250.8l3 5.2h-6z" fill="#66c2a5"/>
<circle cx="507.7" cy="350.2" r="2.5" fill="#fc8d62"/>
<rect x="269.4" y="390.9" width="4.5" height="4.5" fill="#8da0cb"/>
<path d="M438.6 288.2l3 5.2h-6z" fill="#66c2a5"/>
<rect x="438.1" y="232.6" width="4.5" height="4.5" fill="#8da0cb"/>
<rect x="458.8" y="312.5" width="4.5" height="4.5" fill="#8da0cb"/>
<path d="M556.4 243.1l3 5.2h-6z" fill="#66c2a5"/>
<path d="M739.4 168.4l3 5.2h-6z" fill="#66c2a5"/>
<path d="M415.2 317.2l3 5.2h-6z" fill="#66c2a5"/>
<path d="M558.6 277.8l3 5.2h-6z" fill="#66c2a5"/>
<rect x="430.9" y="297.6" width="4.5" height="4.5" fill="#8da0cb"/>
<path d="M469 279.1l3 5.2h-6z" fill="#66c2a5"/>
<rect x="411.6" y="164.2" width="4.5" height="4.5" fill="#8da0cb"/>
<rect x="338.4" y="156.5" width="4.5" height="4.5" fill="#8da0cb"/>
<rect x="412.8" y="107.4" width="4.5" height="4.5" fill="#8da0cb"/>
<path d="M503.5 205.4l3 5.2h-6z" fill="#66c2a5"/>
<circle cx="570.2" cy="257.2" r="2.5" fill="#fc8d62"/>
<rect x="369.2" y="404.2" width="4.5" height="4.5" fill="#8da0cb"/>
<circle cx="458.8" cy="381.6" r="2.5" fill="#fc8d62"/>
<circle cx="489.4" cy="210.8" r="2.5" fill="#fc8d62"/>
<circle cx="480.2" cy="278.2" r="2.5" fill="#fc8d62"/>
<circle cx="582.3" cy="282.7" r="2.5" fill="#fc8d62"/>
<circle cx="553.8" cy="269.8" r="2.5" fill="#fc8d62"/>
<circle cx="460.8" cy="199.9" r="2.5" fill="#fc8d62"/>
<rect x="372.6" y="238.6" width="4.5" height="4.5" fill="#8da0cb"/>
<circle cx="542.4" cy="234.2" r="2.5" fill="#fc8d62"/>
<circle cx="495.5" cy="258.5" r="2.5" fill="#fc8d62"/>
<path d="M491 363.9l3 5.2h-6z" fill="#66c2a5"/>
<rect x="357.5" y="320.4" width="4.5" height="4.5" fill="#8da0cb"/>
<rect x="438.8" y="293.4" width="4.5" height="4.5" fill="#8da0cb"/>
<circle cx="466.1" cy="271.1" r="2.5" fill="#fc8d62"/>
<rect x="407.1" y="309.6" width="4.5" height="4.5" fill="#8da0cb"/>
<path d="M474.4 367.8l3 5.2h-6z" fill="#66c2a5"/>
<circle cx="373.9" cy="400.6" r="2.5" fill="#fc8d62"/>
<circle cx="609" cy="362.9" r="2.5" fill="#fc8d62"/>
<rect x="420.3" y="163.4" width="4.5" height="4.5" fill="#8da0cb"/>
<rect x="452.9" y="260.2" width="4.5" height="4.5" fill="#8da0cb"/>
<rect x="354.3" y="263.1" width="4.5" height="4.5" fill="#8da0cb"/>
<circle cx="550.1" cy="393" r="2.5" fill="#fc8d62"/>
<path d="M414 189.4l3 5.2h-6z" fill="#66c2a5"/>
<rect x="390.3" y="206.9" width="4.5" height="4.5" fill="#8da0cb"/>
<rect x="493.2" y="295.3" width="4.5" height="4.5" fill="#8da0cb"/>
<rect x="421.2" y="212.2" width="4.5" height="4.5" fill="#8da0cb"/>
<circle cx="535.5" cy="331.8" r="2.5" fill="#fc8d62"/>
<circle cx="612" cy="272.8" r="2.5" fill="#fc8d62"/>
<circle cx="548.6" cy="232.4" r="2.5" fill="#fc8d62"/>
<circle cx="603" cy="423.5" r="2.5" fill="#fc8d62"/>
<circle cx="473.4" cy="281.8" r="2.5" fill="#fc8d62"/>
<rect x="313" y="311.5" width="4.5" height="4.5" fill="#8da0cb"/>
<path d="M367.9 378l3 5.2h-6z" fill="#66c2a5"/>
<rect x="473.5" y="211.5" width="4.5" height="4.5" fill="#8da0cb"/>
<rect x="476.6" y="211.4" width="4.5" height="4.5" fill="#8da0cb"/>
<path d="M626.1 274.7l3 5.2h-6z" fill="#66c2a5"/>
<circle cx="592.2" cy="323.1" r="2.5" fill="#fc8d62"/>
<circle cx="432.9" cy="293.1" r="2.5" fill="#fc8d62"/>
<path d="M526.2 330.1l3 5.2h-6z" fill="#66c2a5"/>
<path d="M624.2 303.9l3 5.2h-6z" fill="#66c2a5"/>
<rect x="423.9" y="242.9" width="4.5" height="4.5" fill="#8da0cb"/>
<path d="M504.3 384.1l3 5.2h-6z" fill="#66c2a5"/>
<circle cx="517.5" cy="262.8" r="2.5" fill="#fc8d62"/>
<circle cx="495.8" cy="341.5" r="2.5" fill="#fc8d62"/>
<path d="M509.6 356.5l3 5.2h-6z" fill="#66c2a5"/>
<rect x="497.8" y="356.8" width="4.5" height="4.5" fill="#8da0cb"/>
<rect x="336.4" y="275.2" width="4.5" height="4.5" fill="#8da0cb"/>
<circle cx="523.2" cy="309.1" r="2.5" fill="#fc8d62"/>
<rect x="395.9" y="333" width="4.5" height="4.5" fill="#8da0cb"/>
<circle cx="462.9" cy="351.4" r="2.5" fill="#fc8d62"/>
<circle cx="559.8" cy="213.9" r="2.5" fill="#fc8d62"/>
<circle cx="536" cy="340.5" r="2.5" fill="#fc8d62"/>
<path d="M580.2 214l3 5.2h-6z" fill="#66c2a5"/>
<path d="M474.7 291.9l3 5.2h-6z" fill="#66c2a5"/>
<path d="M416 301.3l3 5.2h-6z" fill="#66c2a5"/>
<circle cx="552.4" cy="223.1" r="2.5" fill="#fc8d62"/>
<circle cx="494.9" cy="380.7" r="2.5" fill="#fc8d62"/>
<circle cx="553.3" cy="282.6" r="2.5" fill="#fc8d62"/>
<path d="M377.1 422.8l3 5.2h-6z" fill="#66c2a5"/>
<path d="M585.8 400.9l3 5.2h-6z" fill="#66c2a5"/>
<circle cx="527.9" cy="252.8" r="2.5" fill="#fc8d62"/>
<rect x="417.1" y="194.2" width="4.5" height="4.5" fill="#8da0cb"/>
<rect x="445.6" y="348.2" width="4.5" height="4.5" fill="#8da0cb"/>
<path d="M513.7 394.3l3 5.2h-6z" fill="#66c2a5"/>
<path d="M369.5 349l3 5.2h-6z" fill="#66c2a5"/>
<path d="M535.2 251.8l3 5.2h-6z" fill="#66c2a5"/>
<path d="M425 446l3 5.2h-6z" fill="#66c2a5"/>
<path d="M469.9 282.9l3 5.2h-6z" fill="#66c2a5"/>
<path d="M474.6 270.3l3 5.2h-6z" fill="#66c2a5"/>
<path d="M508 319.7l3 5.2h-6z" fill="#66c2a5"/>
<rect x="462.3" y="177" width="4.5" height="4.5" fill="#8da0cb"/>
<path d="M541.8 285.2l3 5.2h-6z" fill="#66c2a5"/>
<path d="M549.1 344.9l3 5.2h-6z" fill="#66c2a5"/>
<circle cx="620.2" cy="363.4" r="2.5" fill="#fc8d62"/>
<path d="M246.9 447.3l3 5.2h-6z" fill="#66c2a5"/>
<path d="M504 343.3l3 5.2h-6z" fill="#66c2a5"/>
<path d="M474.5 172.5l3 5.2h-6z" fill="#66c2a5"/>
<rect x="521.6" y="264.1" width="4.5" height="4.5" fill="#8da0cb"/>
<rect x="354.2" y="226.1" width="4.5" height="4.5" fill="#8da0cb"/>
<rect x="366" y="187.7" width="4.5" height="4.5" fill="#8da0cb"/>
<path d="M398.6 445.9l3 5.2h-6z" fill="#66c2a5"/>
<rect x="428.8" y="369.4" width="4.5" height="4.5" fill="#8da0cb"/>
<rect x="323.5" y="272.4" width="4.5" height="4.5" fill="#8da0cb"/>
<path d="M433 275.7l3 5.2h-6z" fill="#66c2a5"/>
<circle cx="567.3" cy="356.1" r="2.5" fill="#fc8d62"/>
<circle cx="465.3" cy="327.9" r="2.5" fill="#fc8d62"/>
<rect x="401.8" y="269.6" width="4.5" height="4.5" fill="#8da0cb"/>
<rect x="586.8" y="244.3" width="4.5" height="4.5" fill="#8da0cb"/>
<path d="M420.7 382.3l3 5.2h-6z" fill="#66c2a5"/>
<circle cx="413.4" cy="351.4" r="2.5" fill="#fc8d62"/>
<path d="M380.9 283.5l3 5.2h-6z" fill="#66c2a5"/>
<path d="M473.1 299l3 5.2h-6z" fill="#66c2a5"/>
<circle cx="566.3" cy="313.5" r="2.5" fill="#fc8d62"/>
<circle cx="522.2" cy="321.1" r="2.5" fill="#fc8d62"/>
<path d="M563.3 365.2l3 5.2h-6z" fill="#66c2a5"/>
<rect x="354.5" y="224.7" width="4.5" height="4.5" fill="#8da0cb"/>
<path d="M488 273.4l3 5.2h-6z" fill="#66c2a5"/>
<rect x="470.2" y="496.6" width="4.5" height="4.5" fill="#8da0cb"/>
<rect x="565.5" y="145.2" width="4.5" height="4.5" fill="#8da0cb"/>
<path d="M398.9 284.1l3 5.2h-6z" fill="#66c2a5"/>
<path d="M262.3 448.6l3 5.2h-6z" fill="#66c2a5"/>
<rect x="460.8" y="202.9" width="4.5" height="4.5" fill="#8da0cb"/>
<rect x="291.9" y="421.1" width="4.5" height="4.5" fill="#8da0cb"/>
<rect x="577.6" y="143.4" width="4.5" height="4.5" fill="#8da0cb"/>
<rect x="397.7" y="251.3" width="4.5" height="4.5" fill="#8da0cb"/>
<rect x="357" y="206.7" width="4.5" height="4.5" fill="#8da0cb"/>
<circle cx="361.3" cy="198.5" r="2.5" fill="#fc8d62"/>
<rect x="629.9" y="298.3" width="4.5" height="4.5" fill="#8da0cb"/>
<path d="M545.6 281.6l3 5.2h-6z" fill="#66c2a5"/>
<path d="M497.7 312.2l3 5.2h-6z" fill="#66c2a5"/>
<path d="M440.8 273.6l3 5.2h-6z" fill="#66c2a5"/>
<path d="M501.7 186.3l3 5.2h-6z" fill="#66c2a5"/>
<path d="M495.6 324.6l3 5.2h-6z" fill="#66c2a5"/>
<rect x="422.8" y="160.7" width="4.5" height="4.5" fill="#8da0cb"/>
<rect x="360.4" y="318.4" width="4.5" height="4.5" fill="#8da0cb"/>
<rect x="371.3" y="171.9" width="4.5" height="4.5" fill="#8da0cb"/>
<rect x="279.3" y="336.3" width="4.5" height="4.5" fill="#8da0cb"/>
<circle cx="359.9" cy="272.3" r="2.5" fill="#fc8d62"/>
<circle cx="540.1" cy="346.9" r="2.5" fill="#fc8d62"/>
<path d="M554.6 299.2l3 5.2h-6z" fill="#66c2a5"/>
<rect x="344.5" y="186.3" width="4.5" height="4.5" fill="#8da0cb"/>
<rect x="446" y="235.3" width="4.5" height="4.5" fill="#8da0cb"/>
<circle cx="592.4" cy="288.3" r="2.5" fill="#fc8d62"/>
<rect x="417.1" y="191.4" width="4.5" height="4.5" fill="#8da0cb"/>
<path d="M321.6 360.5l3 5.2h-6z" fill="#66c2a5"/>
<rect x="385.1" y="377" width="4.5" height="4.5" fill="#8da0cb"/>
<path d="M399.7 367.8l3 5.2h-6z" fill="#66c2a5"/>
<path d="M437.4 314.4l3 5.2h-6z" fill="#66c2a5"/>
<rect x="134.8" y="415.8" width="4.5" height="4.5" fill="#8da0cb"/>
<path d="M531.5 271.5l3 5.2h-6z" fill="#66c2a5"/>
<circle cx="641.7" cy="332.2" r="2.5" fill="#fc8d62"/>
<rect x="312.1" y="183.5" width="4.5" height="4.5" fill="#8da0cb"/>
<rect x="414.3" y="252" width="4.5" height="4.5" fill="#8da0cb"/>
<rect x="371.9" y="228.7" width="4.5" height="4.5" fill="#8da0cb"/>
<circle cx="480.1" cy="226.6" r="2.5" fill="#fc8d62"/>
<circle cx="607.1" cy="326.3" r="2.5" fill="#fc8d62"/>
<path d="M518.4 308l3 5.2h-6z" fill="#66c2a5"/>
<rect x="332.9" y="299.6" width="4.5" height="4.5" fill="#8da0cb"/>
<circle cx="462.2" cy="357.4" r="2.5" fill="#fc8d62"/>
<path d="M505.1 319.4l3 5.2h-6z" fill="#66c2a5"/>
<rect x="468.5" y="171.6" width="4.5" height="4.5" fill="#8da0cb"/>
<circle cx="451.9" cy="299.9" r="2.5" fill="#fc8d62"/>
<path d="M508.1 298.1l3 5.2h-6z" fill="#66c2a5"/>
<rect x="351.9" y="183.7" width="4.5" height="4.5" fill="#8da0cb"/>
<path d="M492.8 293.3l3 5.2h-6z" fill="#66c2a5"/>
<rect x="319.7" y="220.5" width="4.5" height="4.5" fill="#8da0cb"/>
<circle cx="502.5" cy="328.8" r="2.5" fill="#fc8d62"/>
<path d="M440.1 374.7l3 5.2h-6z" fill="#66c2a5"/>
<rect x="330.4" y="379.7" width="4.5" height="4.5" fill="#8da0cb"/>
<path d="M400.9 279.2l3 5.2h-6z" fill="#66c2a5"/>
<path d="M483.2 354.9l3 5.2h-6z" fill="#66c2a5"/>
<rect x="371.9" y="265.7" width="4.5" height="4.5" fill="#8da0cb"/>
<rect x="261.1" y="256.9" width="4.5" height="4.5" fill="#8da0cb"/>
<path d="M542.4 228.8l3 5.2h-6z" fill="#66c2a5"/>
<rect x="483.9" y="355.8" width="4.5" height="4.5" fill="#8da0cb"/>
<rect x="427.6" y="239.2" width="4.5" height="4.5" fill="#8da0cb"/>
<rect x="191.2" y="431" width="4.5" height="4.5" fill="#8da0cb"/>
<path d="M421 337.7l3 5.2h-6z" fill="#66c2a5"/>
<path d="M555.2 504.4l3 5.2h-6z" fill="#66c2a5"/>
<rect x="370" y="257.9" width="4.5" height="4.5" fill="#8da0cb"/>
<circle cx="516.9" cy="374.8" r="2.5" fill="#fc8d62"/>
<rect x="306.3" y="273.3" width="4.5" height="4.5" fill="#8da0cb"/>
<rect x="405.9" y="391.1" width="4.5" height="4.5" fill="#8da0cb"/>
<circle cx="458.3" cy="380" r="2.5" fill="#fc8d62"/>
<circle cx="529.6" cy="340.2" r="2.5" fill="#fc8d62"/>
<rect x="252.3" y="387.1" width="4.5" height="4.5" fill="#8da0cb"/>
<path d="M490.6 256l3 5.2h-6z" fill="#66c2a5"/>
<rect x="332.6" y="292.3" width="4.5" height="4.5" fill="#8da0cb"/>
<path d="M495.1 298.1l3 5.2h-6z" fill="#66c2a5"/>
<rect x="557.8" y="292.4" width="4.5" height="4.5" fill="#8da0cb"/>
<circle cx="444.9" cy="346.6" r="2.5" fill="#fc8d62"/>
<rect x="317.1" y="355.5" width="4.5" height="4.5" fill="#8da0cb"/>
<rect x="530.7" y="175.5" width="4.5" height="4.5" fill="#8da0cb"/>
<rect x="357.4" y="331.2" width="4.5" height="4.5" fill="#8da0cb"/>
<rect x="287" y="319.8" width="4.5" height="4.5" fill="#8da0cb"/>
<path d="M486.5 209.1l3 5.2h-6z" fill="#66c2a5"/>
<rect x="431.6" y="290.2" width="4.5" height="4.5" fill="#8da0cb"/>
<rect x="421.1" y="358.5" width="4.5" height="4.5" fill="#8da0cb"/>
<path d="M445.5 332.8l3 5.2h-6z" fill="#66c2a5"/>
<circle cx="581.1" cy="352.6" r="2.5" fill="#fc8d62"/>
<circle cx="534.1" cy="263.7" r="2.5" fill="#fc8d62"/>
<path d="M488.9 247.9l3 5.2h-6z" fill="#66c2a5"/>
<path d="M338.6 462.2l3 5.2h-6z" fill="#66c2a5"/>
<path d="M458.4 380.4l3 5.2h-6z" fill="#66c2a5"/>
<rect x="377.8" y="240.7" width="4.5" height="4.5" fill="#8da0cb"/>
<path d="M445.1 325l3 5.2h-6z" fill="#66c2a5"/>
<rect x="383.2" y="288.9" width="4.5" height="4.5" fill="#8da0cb"/>
<rect x="446.3" y="221.5" width="4.5" height="4.5" fill="#8da0cb"/>
<circle cx="567" cy="497" r="2.5" fill="#fc8d62"/>
<circle cx="498" cy="266.9" r="2.5" fill="#fc8d62"/>
<path d="M521.4 181.7l3 5.2h-6z" fill="#66c2a5"/>
<circle cx="540.1" cy="323.4" r="2.5" fill="#fc8d62"/>
<circle cx="485.8" cy="402.5" r="2.5" fill="#fc8d62"/>
<circle cx="584.1" cy="252.3" r="2.5" fill="#fc8d62"/>
<circle cx="526.8" cy="225.9" r="2.5" fill="#fc8d62"/>
<circle cx="530.7" cy="341.6" r="2.5" fill="#fc8d62"/>
<rect x="354.7" y="297.1" width="4.5" height="4.5" fill="#8da0cb"/>
<circle cx="497.5" cy="358.2" r="2.5" fill="#fc8d62"/>
<path d="M477.2 306l3 5.2h-6z" fill="#66c2a5"/>
<rect x="376" y="390.7" width="4.5" height="4.5" fill="#8da0cb"/>
<circle cx="458.1" cy="194.1" r="2.5" fill="#fc8d62"/>
<circle cx="553.1" cy="282.8" r="2.5" fill="#fc8d62"/>
<path d="M435.2 377.5l3 5.2h-6z" fill="#66c2a5"/>
<rect x="452.4" y="279.9" width="4.5" height="4.5" fill="#8da0cb"/>
<path d="M510.1 340.4l3 5.2h-6z" fill="#66c2a5"/>
<circle cx="538.9" cy="338.7" r="2.5" fill="#fc8d62"/>
<circle cx="608.7" cy="440.2" r="2.5" fill="#fc8d62"/>
<circle cx="468.2" cy="360.6" r="2.5" fill="#fc8d62"/>
<rect x="417.4" y="250.7" width="4.5" height="4.5" fill="#8da0cb"/>
<path d="M561.9 359.1l3 5.2h-6z" fill="#66c2a5"/>
<rect x="384.5" y="286.8" width="4.5" height="4.5" fill="#8da0cb"/>
<circle cx="597.6" cy="283" r="2.5" fill="#fc8d62"/>
<circle cx="577.2" cy="295" r="2.5" fill="#fc8d62"/>
<rect x="244.5" y="315.8" width="4.5" height="4.5" fill="#8da0cb"/>
<rect x="479" y="227.3" width="4.5" height="4.5" fill="#8da0cb"/>
<rect x="322.6" y="346" width="4.5" height="4.5" fill="#8da0cb"/>
<path d="M577.8 176.1l3 5.2h-6z" fill="#66c2a5"/>
<path d="M352.8 293.4l3 5.2h-6z" fill="#66c2a5"/>
<path d="M487.7 190.6l3 5.2h-6z" fill="#66c2a5"/>
<path d="M569 315.1l3 5.2h-6z" fill="#66c2a5"/>
<path d="M530.7 275.1l3 5.2h-6z" fill="#66c2a5"/>
<rect x="408" y="200.3" width="4.5" height="4.5" fill="#8da0cb"/>
<rect x="537.8" y="187.6" width="4.5" height="4.5" fill="#8da0cb"/>
<rect x="350.9" y="204" width="4.5" height="4.5" fill="#8da0cb"/>
<path d="M525.5 408.3l3 5.2h-6z" fill="#66c2a5"/>
<rect x="340.6" y="231.8" width="4.5" height="4.5" fill="#8da0cb"/>
<circle cx="547.7" cy="287" r="2.5" fill="#fc8d62"/>
<rect x="322.8" y="309.5" width="4.5" height="4.5" fill="#8da0cb"/>
<rect x="461.8" y="236.2" width="4.5" height="4.5" fill="#8da0cb"/>
<rect x="509.6" y="228.7" width="4.5" height="4.5" fill="#8da0cb"/>
<path d="M507.2 417.7l3 5.2h-6z" fill="#66c2a5"/>
<circle cx="528.3" cy="418.6" r="2.5" fill="#fc8d62"/>
<circle cx="515.2" cy="324.4" r="2.5" fill="#fc8d62"/>
<path d="M480.6 324.9l3 5.2h-6z" fill="#66c2a5"/>
<rect x="289.7" y="423.7" width="4.5" height="4.5" fill="#8da0cb"/>
<rect x="424.9" y="372.4" width="4.5" height="4.5" fill="#8da0cb"/>
<path d="M411.5 177.6l3 5.2h-6z" fill="#66c2a5"/>
<rect x="289.3" y="106.2" width="4.5" height="4.5" fill="#8da0cb"/>
<rect x="468.3" y="293.4" width="4.5" height="4.5" fill="#8da0cb"/>
<rect x="535.2" y="489.5" width="4.5" height="4.5" fill="#8da0cb"/>
<path d="M416.7 381.5l3 5.2h-6z" fill="#66c2a5"/>
<path d="M507.4 293.7l3 5.2h-6z" fill="#66c2a5"/>
<path d="M510.9 278.2l3 5.2h-6z" fill="#66c2a5"/>
<rect x="305" y="254.5" width="4.5" height="4.5" fill="#8da0cb"/>
<rect x="321.1" y="285.2" width="4.5" height="4.5" fill="#8da0cb"/>
<rect x="525.9" y="278.6" width="4.5" height="4.5" fill="#8da0cb"/>
<rect x="323.5" y="401.4" width="4.5" height="4.5" fill="#8da0cb"/>
<rect x="312.4" y="245" width="4.5" height="4.5" fill="#8da0cb"/>
<circle cx="515.6" cy="359.8" r="2.5" fill="#fc8d62"/>
<path d="M540.3 173.2l3 5.2h-6z" fill="#66c2a5"/>
<path d="M501 265.3l3 5.2h-6z" fill="#66c2a5"/>
<rect x="394.5" y="241.2" width="4.5" height="4.5" fill="#8da0cb"/>
<circle cx="555.6" cy="320.8" r="2.5" fill="#fc8d62"/>
<rect x="315.9" y="183.9" width="4.5" height="4.5" fill="#8da0cb"/>
<circle cx="585.4" cy="292.5" r="2.5" fill="#fc8d62"/>
<rect x="380.5" y="258.8" width="4.5" height="4.5" fill="#8da0cb"/>
<circle cx="596.4" cy="347.2" r="2.5" fill="#fc8d62"/>
<rect x="373.6" y="269.4" width="4.5" height="4.5" fill="#8da0cb"/>
<path d="M586.1 326.3l3 5.2h-6z" fill="#66c2a5"/>
<path d="M548.7 309.4l3 5.2h-6z" fill="#66c2a5"/>
<circle cx="488.3" cy="281.4" r="2.5" fill="#fc8d62"/>
<path d="M502.7 218.7l3 5.2h-6z" fill="#66c2a5"/>
<circle cx="487" cy="199.4" r="2.5" fill="#fc8d62"/>
<rect x="425.2" y="333.1" width="4.5" height="4.5" fill="#8da0cb"/>
<circle cx="379" cy="418.3" r="2.5" fill="#fc8d62"/>
<circle cx="564.3" cy="333.8" r="2.5" fill="#fc8d62"/>
<rect x="350.4" y="174.3" width="4.5" height="4.5" fill="#8da0cb"/>
<rect x="348.9" y="326.7" width="4.5" height="4.5" fill="#8da0cb"/>
<rect x="472.1" y="142.6" width="4.5" height="4.5" fill="#8da0cb"/>
<circle cx="618.7" cy="319.7" r="2.5" fill="#fc8d62"/>
<circle cx="504.6" cy="247.8" r="2.5" fill="#fc8d62"/>
<rect x="378.9" y="185" width="4.5" height="4.5" fill="#8da0cb"/>
<circle cx="484.5" cy="276.9" r="2.5" fill="#fc8d62"/>
<circle cx="415.1" cy="298.3" r="2.5" fill="#fc8d62"/>
<circle cx="577.4" cy="194.4" r="2.5" fill="#fc8d62"/>
<rect x="429.1" y="249.1" width="4.5" height="4.5" fill="#8da0cb"/>
<rect x="319.4" y="244" width="4.5" height="4.5" fill="#8da0cb"/>
<rect x="421.8" y="118.7" width="4.5" height="4.5" fill="#8da0cb"/>
<path d="M508.6 374.1l3 5.2h-6z" fill="#66c2a5"/>
<rect x="492.6" y="231.2" width="4.5" height="4.5" fill="#8da0cb"/>
<circle cx="484.3" cy="343.8" r="2.5" fill="#fc8d62"/>
<path d="M484.3 219.1l3 5.2h-6z" fill="#66c2a5"/>
<circle cx="518.2" cy="412" r="2.5" fill="#fc8d62"/>
<path d="M614.6 361.3l3 5.2h-6z" fill="#66c2a5"/>
<circle cx="404.9" cy="408" r="2.5" fill="#fc8d62"/>
<path d="M475.8 366.5l3 5.2h-6z" fill="#66c2a5"/>
<rect x="341.6" y="304.2" width="4.5" height="4.5" fill="#8da0cb"/>
<circle cx="413.2" cy="341.8" r="2.5" fill="#fc8d62"/>
<path d="M529.8 303.3l3 5.2h-6z" fill="#66c2a5"/>
<rect x="443.5" y="191.8" width="4.5" height="4.5" fill="#8da0cb"/>
<circle cx="545.9" cy="279.1" r="2.5" fill="#fc8d62"/>
<path d="M476.1 368.2l3 5.2h-6z" fill="#66c2a5"/>
<rect x="362.7" y="221.2" width="4.5" height="4.5" fill="#8da0cb"/>
<rect x="325.3" y="279.5" width="4.5" height="4.5" fill="#8da0cb"/>
<circle cx="594.5" cy="196.8" r="2.5" fill="#fc8d62"/>
<rect x="424.9" y="273.4" width="4.5" height="4.5" fill="#8da0cb"/>
<path d="M534.8 248.7l3 5.2h-6z" fill="#66c2a5"/>
<path d="M421.9 329.7l3 5.2h-6z" fill="#66c2a5"/>
<circle cx="551" cy="278.1" r="2.5" fill="#fc8d62"/>
<rect x="388.7" y="266.8" width="4.5" height="4.5" fill="#8da0cb"/>
<path d="M638 325l3 5.2h-6z" fill="#66c2a5"/>
<circle cx="448.8" cy="339.9" r="2.5" fill="#fc8d62"/>
<rect x="382.8" y="301.1" width="4.5" height="4.5" fill="#8da0cb"/>
<rect x="524.1" y="181.3" width="4.5" height="4.5" fill="#8da0cb"/>
<path d="M484.4 287.8l3 5.2h-6z" fill="#66c2a5"/>
<rect x="430.8" y="415.8" width="4.5" height="4.5" fill="#8da0cb"/>
<circle cx="435" cy="344.8" r="2.5" fill="#fc8d62"/>
<path d="M537.5 252.2l3 5.2h-6z" fill="#66c2a5"/>
<rect x="452.6" y="325.8" width="4.5" height="4.5" fill="#8da0cb"/>
<circle cx="606.1" cy="267.6" r="2.5" fill="#fc8d62"/>
<rect x="460.5" y="326.9" width="4.5" height="4.5" fill="#8da0cb"/>
<rect x="338.4" y="285.1" width="4.5" height="4.5" fill="#8da0cb"/>
<rect x="487.6" y="115.2" width="4.5" height="4.5" fill="#8da0cb"/>
<circle cx="583.4" cy="362.6" r="2.5" fill="#fc8d62"/>
<circle cx="687" cy="170.7" r="2.5" fill="#fc8d62"/>
<circle cx="443.2" cy="251.5" r="2.5" fill="#fc8d62"/>
<path d="M518.9 404.4l3 5.2h-6z" fill="#66c2a5"/>
<path d="M397 314.9l3 5.2h-6z" fill="#66c2a5"/>
<path d="M434.3 272.3l3 5.2h-6z" fill="#66c2a5"/>
<circle cx="450.4" cy="266.8" r="2.5" fill="#fc8d62"/>
<path d="M499.4 365.3l3 5.2h-6z" fill="#66c2a5"/>
<rect x="237.7" y="380.6" width="4.5" height="4.5" fill="#8da0cb"/>
<circle cx="467.9" cy="388.2" r="2.5" fill="#fc8d62"/>
<circle cx="402.9" cy="425.6" r="2.5" fill="#fc8d62"/>
<circle cx="560" cy="343.9" r="2.5" fill="#fc8d62"/>
<circle cx="557.7" cy="484.6" r="2.5" fill="#fc8d62"/>
<path d="M530.7 242.3l3 5.2h-6z" fill="#66c2a5"/>
<path d="M419.8 436.6l3 5.2h-6z" fill="#66c2a5"/>
<circle cx="661.3" cy="337.8" r="2.5" fill="#fc8d62"/>
<rect x="638.1" y="224" width="4.5" height="4.5" fill="#8da0cb"/>
<rect x="342.5" y="248.8" width="4.5" height="4.5" fill="#8da0cb"/>
<circle cx="579.1" cy="319.9" r="2.5" fill="#fc8d62"/>
<path d="M492.6 355.5l3 5.2h-6z" fill="#66c2a5"/>
<rect x="195.5" y="260.7" width="4.5" height="4.5" fill="#8da0cb"/>
<path d="M492.4 447.5l3 5.2h-6z" fill="#66c2a5"/>
<path d="M448.4 245.9l3 5.2h-6z" fill="#66c2a5"/>
<rect x="360.5" y="306.7" width="4.5" height="4.5" fill="#8da0cb"/>
<rect x="262.6" y="235.4" width="4.5" height="4.5" fill="#8da0cb"/>
<rect x="350.3" y="348.1" width="4.5" height="4.5" fill="#8da0cb"/>
<circle cx="485" cy="377.6" r="2.5" fill="#fc8d62"/>
<circle cx="631.2" cy="343.5" r="2.5" fill="#fc8d62"/>
<circle cx="428.5" cy="399.4" r="2.5" fill="#fc8d62"/>
<rect x="358" y="284.6" width="4.5" height="4.5" fill="#8da0cb"/>
<path d="M529.9 379.1l3 5.2h-6z" fill="#66c2a5"/>
<rect x="334.7" y="200.9" width="4.5" height="4.5" fill="#8da0cb"/>
<path d="M555.5 353.8l3 5.2h-6z" fill="#66c2a5"/>
<circle cx="501" cy="460.4" r="2.5" fill="#fc8d62"/>
<circle cx="578.4" cy="307.1" r="2.5" fill="#fc8d62"/>
<rect x="438.4" y="259.3" width="4.5" height="4.5" fill="#8da0cb"/>
<circle cx="543" cy="329.4" r="2.5" fill="#fc8d62"/>
<path d="M379.7 325.6l3 5.2h-6z" fill="#66c2a5"/>
<circle cx="484.4" cy="298.4" r="2.5" fill="#fc8d62"/>
<path d="M422.3 400.4l3 5.2h-6z" fill="#66c2a5"/>
<path d="M407 433.8l3 5.2h-6z" fill="#66c2a5"/>
<path d="M535.1 297.2l3 5.2h-6z" fill="#66c2a5"/>
<circle cx="613.8" cy="235" r="2.5" fill="#fc8d62"/>
<circle cx="507.6" cy="313.9" r="2.5" fill="#fc8d62"/>
<circle cx="460" cy="202.7" r="2.5" fill="#fc8d62"/>
<rect x="412.2" y="404.3" width="4.5" height="4.5" fill="#8da0cb"/>
<rect x="457.6" y="246.7" width="4.5" height="4.5" fill="#8da0cb"/>
<circle cx="522.7" cy="341.8" r="2.5" fill="#fc8d62"/>
<rect x="453.3" y="163.9" width="4.5" height="4.5" fill="#8da0cb"/>
<path d="M522.9 315.1l3 5.2h-6z" fill="#66c2a5"/>
<circle cx="361" cy="357.1" r="2.5" fill="#fc8d62"/>
<rect x="323.6" y="176.1" width="4.5" height="4.5" fill="#8da0cb"/>
<path d="M413.8 372.9l3 5.2h-6z" fill="#66c2a5"/>
<rect x="397.3" y="308.4" width="4.5" height="4.5" fill="#8da0cb"/>
<rect x="244.7" y="246.3" width="4.5" height="4.5" fill="#8da0cb"/>
<circle cx="461.3" cy="290" r="2.5" fill="#fc8d62"/>
<path d="M445.8 262.4l3 5.2h-6z" fill="#66c2a5"/>
<path d="M525 288.6l3 5.2h-6z" fill="#66c2a5"/>
<path d="M406.4 343.9l3 5.2h-6z" fill="#66c2a5"/>
<path d="M568 238.6l3 5.2h-6z" fill="#66c2a5"/>
<circle cx="507.8" cy="261.3" r="2.5" fill="#fc8d62"/>
<path d="M392.4 278.5l3 5.2h-6z" fill="#66c2a5"/>
<circle cx="617.6" cy="279.5" r="2.5" fill="#fc8d62"/>
<rect x="456.9" y="277.1" width="4.5" height="4.5" fill="#8da0cb"/>
<circle cx="535.7" cy="273.3" r="2.5" fill="#fc8d62"/>
<circle cx="467.1" cy="383.2" r="2.5" fill="#fc8d62"/>
<rect x="355.5" y="274.1" width="4.5" height="4.5" fill="#8da0cb"/>
<path d="M367.3 338l3 5.2h-6z" fill="#66c2a5"/>
<circle cx="616.7" cy="225.6" r="2.5" fill="#fc8d62"/>
<circle cx="528.9" cy="440.6" r="2.5" fill="#fc8d62"/>
<rect x="366.2" y="308.9" width="4.5" height="4.5" fill="#8da0cb"/>
<rect x="401.2" y="363.8" width="4.5" height="4.5" fill="#8da0cb"/>
<circle cx="638.7" cy="302.3" r="2.5" fill="#fc8d62"/>
<path d="M537.9 397.7l3 5.2h-6z" fill="#66c2a5"/>
<rect x="352.8" y="252.1" width="4.5" height="4.5" fill="#8da0cb"/>
<path d="M482.5 283.6l3 5.2h-6z" fill="#66c2a5"/>
<path d="M402.4 250.1l3 5.2h-6z" fill="#66c2a5"/>
<circle cx="527.3" cy="298.7" r="2.5" fill="#fc8d62"/>
<path d="M613.7 316.3l3 5.2h-6z" fill="#66c2a5"/>
<rect x="441.2" y="321.1" width="4.5" height="4.5" fill="#8da0cb"/>
<circle cx="500.8" cy="392.3" r="2.5" fill="#fc8d62"/>
<rect x="348.9" y="243.8" width="4.5" height="4.5" fill="#8da0cb"/>
<rect x="416.1" y="243.7" width="4.5" height="4.5" fill="#8da0cb"/>
<path d="M468.5 357.9l3 5.2h-6z" fill="#66c2a5"/>
<path d="M498.3 265l3 5.2h-6z" fill="#66c2a5"/>
<path d="M590.4 368.2l3 5.2h-6z" fill="#66c2a5"/>
<circle cx="415" cy="360.2" r="2.5" fill="#fc8d62"/>
<circle cx="391.1" cy="457.3" r="2.5" fill="#fc8d62"/>
<circle cx="416.1" cy="330.2" r="2.5" fill="#fc8d62"/>
<rect x="432.9" y="262.5" width="4.5" height="4.5" fill="#8da0cb"/>
<rect x="484.2" y="211.6" width="4.5" height="4.5" fill="#8da0cb"/>
<path d="M558.8 321.8l3 5.2h-6z" fill="#66c2a5"/>
<path d="M552.4 340.4l3 5.2h-6z" fill="#66c2a5"/>
<rect x="477.8" y="172" width="4.5" height="4.5" fill="#8da0cb"/>
<circle cx="534.1" cy="305" r="2.5" fill="#fc8d62"/>
<circle cx="488.8" cy="305" r="2.5" fill="#fc8d62"/>
<circle cx="550.6" cy="319.1" r="2.5" fill="#fc8d62"/>
<rect x="418.9" y="242.4" width="4.5" height="4.5" fill="#8da0cb"/>
<circle cx="512.9" cy="211.3" r="2.5" fill="#fc8d62"/>
<rect x="352.4" y="283.5" width="4.5" height="4.5" fill="#8da0cb"/>
<path d="M361.5 348.3l3 5.2h-6z" fill="#66c2a5"/>
<path d="M323.6 394.9l3 5.2h-6z" fill="#66c2a5"/>
<rect x="258.9" y="455.6" width="4.5" height="4.5" fill="#8da0cb"/>
<circle cx="585.6" cy="463.5" r="2.5" fill="#fc8d62"/>
<rect x="409.1" y="265.9" width="4.5" height="4.5" fill="#8da0cb"/>
<circle cx="536.7" cy="240.4" r="2.5" fill="#fc8d62"/>
<rect x="357.7" y="274.7" width="4.5" height="4.5" fill="#8da0cb"/>
<circle cx="487.8" cy="316.4" r="2.5" fill="#fc8d62"/>
<path d="M419.8 316.7l3 5.2h-6z" fill="#66c2a5"/>
<circle cx="545.4" cy="367.9" r="2.5" fill="#fc8d62"/>
<path d="M455.8 326l3 5.2h-6z" fill="#66c2a5"/>
<path d="M370.1 318.2l3 5.2h-6z" fill="#66c2a5"/>
<circle cx="421" cy="391.9" r="2.5" fill="#fc8d62"/>
<rect x="448" y="347.2" width="4.5" height="4.5" fill="#8da0cb"/>
<rect x="441.8" y="358.6" width="4.5" height="4.5" fill="#8da0cb"/>
<circle cx="496.7" cy="457.9" r="2.5" fill="#fc8d62"/>
<path d="M324.7 418.5l3 5.2h-6z" fill="#66c2a5"/>
<path d="M553.4 352.4l3 5.2h-6z" fill="#66c2a5"/>
<rect x="366.3" y="278.1" width="4.5" height="4.5" fill="#8da0cb"/>
<circle cx="580.3" cy="315.3" r="2.5" fill="#fc8d62"/>
<circle cx="437.8" cy="375.5" r="2.5" fill="#fc8d62"/>
<rect x="325.5" y="340" width="4.5" height="4.5" fill="#8da0cb"/>
<circle cx="423.9" cy="424" r="2.5" fill="#fc8d62"/>
<path d="M516.1 276.6l3 5.2h-6z" fill="#66c2a5"/>
<rect x="436.9" y="162.8" width="4.5" height="4.5" fill="#8da0cb"/>
<circle cx="590.6" cy="262.1" r="2.5" fill="#fc8d62"/>
<path d="M509.1 329.3l3 5.2h-6z" fill="#66c2a5"/>
<circle cx="444.8" cy="332.9" r="2.5" fill="#fc8d62"/>
<circle cx="516.6" cy="246.9" r="2.5" fill="#fc8d62"/>
<path d="M449.9 345.8l3 5.2h-6z" fill="#66c2a5"/>
<rect x="393.9" y="202.2" width="4.5" height="4.5" fill="#8da0cb"/>
<circle cx="583.8" cy="296.1" r="2.5" fill="#fc8d62"/>
<circle cx="254.5" cy="392.3" r="2.5" fill="#fc8d62"/>
<rect x="365.5" y="196.6" width="4.5" height="4.5" fill="#8da0cb"/>
<circle cx="487.9" cy="322.2" r="2.5" fill="#fc8d62"/>
<rect x="414.6" y="345.4" width="4.5" height="4.5" fill="#8da0cb"/>
<circle cx="498.4" cy="345.1" r="2.5" fill="#fc8d62"/>
<circle cx="529.1" cy="311.1" r="2.5" fill="#fc8d62"/>
<circle cx="474.2" cy="344.1" r="2.5" fill="#fc8d62"/>
<path d="M480.5 272.6l3 5.2h-6z" fill="#66c2a5"/>
<circle cx="496.9" cy="256.2" r="2.5" fill="#fc8d62"/>
<path d="M468.1 295.3l3 5.2h-6z" fill="#66c2a5"/>
<path d="M538.3 411.5l3 5.2h-6z" fill="#66c2a5"/>
<rect x="467.2" y="305.8" width="4.5" height="4.5" fill="#8da0cb"/>
<rect x="467.6" y="208.2" width="4.5" height="4.5" fill="#8da0cb"/>
<rect x="307" y="294.9" width="4.5" height="4.5" fill="#8da0cb"/>
<rect x="320.3" y="357.7" width="4.5" height="4.5" fill="#8da0cb"/>
<path d="M461.2 313.2l3 5.2h-6z" fill="#66c2a5"/>
<circle cx="553" cy="383.5" r="2.5" fill="#fc8d62"/>
<circle cx="632.9" cy="334.1" r="2.5" fill="#fc8d62"/>
<path d="M423.8 425.9l3 5.2h-6z" fill="#66c2a5"/>
<path d="M507.2 344.3l3 5.2h-6z" fill="#66c2a5"/>
<circle cx="514.5" cy="246.9" r="2.5" fill="#fc8d62"/>
<circle cx="600.3" cy="243.8" r="2.5" fill="#fc8d62"/>
<circle cx="361.1" cy="309.5" r="2.5" fill="#fc8d62"/>
<path d="M431.6 353l3 5.2h-6z" fill="#66c2a5"/>
<circle cx="537.5" cy="382.1" r="2.5" fill="#fc8d62"/>
<circle cx="492.1" cy="327.5" r="2.5" fill="#fc8d62"/>
<circle cx="503.3" cy="256.1" r="2.5" fill="#fc8d62"/>
<rect x="309.6" y="213.5" width="4.5" height="4.5" fill="#8da0cb"/>
<circle cx="465.1" cy="386.1" r="2.5" fill="#fc8d62"/>
<rect x="376.9" y="180.5" width="4.5" height="4.5" fill="#8da0cb"/>
<rect x="408.8" y="408.9" width="4.5" height="4.5" fill="#8da0cb"/>
<rect x="438.4" y="209.9" width="4.5" height="4.5" fill="#8da0cb"/>
<circle cx="567.2" cy="291.8" r="2.5" fill="#fc8d62"/>
<path d="M373.1 343.4l3 5.2h-6z" fill="#66c2a5"/>
<rect x="399.8" y="277.9" width="4.5" height="4.5" fill="#8da0cb"/>
<rect x="369.7" y="309.2" width="4.5" height="4.5" fill="#8da0cb"/>
<circle cx="545.3" cy="331.4" r="2.5" fill="#fc8d62"/>
<rect x="384.3" y="163.1" width="4.5" height="4.5" fill="#8da0cb"/>
<path d="M444 419.2l3 5.2h-6z" fill="#66c2a5"/>
<circle cx="508.4" cy="166.2" r="2.5" fill="#fc8d62"/>
<path d="M523.3 251.6l3 5.2h-6z" fill="#66c2a5"/>
<path d="M445.5 303.2l3 5.2h-6z" fill="#66c2a5"/>
<rect x="394.8" y="150.3" width="4.5" height="4.5" fill="#8da0cb"/>
<rect x="440.6" y="263.9" width="4.5" height="4.5" fill="#8da0cb"/>
<path d="M425.7 361.7l3 5.2h-6z" fill="#66c2a5"/>
<path d="M299.7 520.7l3 5.2h-6z" fill="#66c2a5"/>
<circle cx="559.5" cy="357.1" r="2.5" fill="#fc8d62"/>
<rect x="326.6" y="241.5" width="4.5" height="4.5" fill="#8da0cb"/>
<path d="M457.3 391.3l3 5.2h-6z" fill="#66c2a5"/>
<path d="M515.2 257l3 5.2h-6z" fill="#66c2a5"/>
<rect x="432.2" y="266.3" width="4.5" height="4.5" fill="#8da0cb"/>
<path d="M500.3 339.2l3 5.2h-6z" fill="#66c2a5"/>
<circle cx="448.3" cy="303.2" r="2.5" fill="#fc8d62"/>
<circle cx="543.8" cy="355.3" r="2.5" fill="#fc8d62"/>
<path d="M492 416.9l3 5.2h-6z" fill="#66c2a5"/>
<circle cx="506.3" cy="334.9" r="2.5" fill="#fc8d62"/>
<circle cx="431.9" cy="281.8" r="2.5" fill="#fc8d62"/>
<path d="M506.9 228.1l3 5.2h-6z" fill="#66c2a5"/>
<circle cx="545.3" cy="236.3" r="2.5" fill="#fc8d62"/>
<rect x="401.9" y="325" width="4.5" height="4.5" fill="#8da0cb"/>
<rect x="279.9" y="287.6" width="4.5" height="4.5" fill="#8da0cb"/>
<path d="M450 260.2l3 5.2h-6z" fill="#66c2a5"/>
<circle cx="524.3" cy="371.7" r="2.5" fill="#fc8d62"/>
<rect x="490.9" y="244.5" width="4.5" height="4.5" fill="#8da0cb"/>
<rect x="413.7" y="206.7" width="4.5" height="4.5" fill="#8da0cb"/>
<path d="M417 388.6l3 5.2h-6z" fill="#66c2a5"/>
<rect x="415.5" y="261.7" width="4.5" height="4.5" fill="#8da0cb"/>
<path d="M486.3 378.4l3 5.2h-6z" fill="#66c2a5"/>
<circle cx="420.4" cy="351.2" r="2.5" fill="#fc8d62"/>
<rect x="355.1" y="357.7" width="4.5" height="4.5" fill="#8da0cb"/>
<rect x="380.2" y="289.5" width="4.5" height="4.5" fill="#8da0cb"/>
<circle cx="512.1" cy="272" r="2.5" fill="#fc8d62"/>
<path d="M507 337.9l3 5.2h-6z" fill="#66c2a5"/>
<path d="M537.2 390l3 5.2h-6z" fill="#66c2a5"/>
<circle cx="458.2" cy="270.9" r="2.5" fill="#fc8d62"/>
<rect x="415.2" y="235.2" width="4.5" height="4.5" fill="#8da0cb"/>
<rect x="596.5" y="213.6" width="4.5" height="4.5" fill="#8da0cb"/>
<path d="M447.3 316.6l3 5.2h-6z" fill="#66c2a5"/>
<rect x="467.1" y="209.5" width="4.5" height="4.5" fill="#8da0cb"/>
<path d="M586.8 294.6l3 5.2h-6z" fill="#66c2a5"/>
<circle cx="532.4" cy="315.1" r="2.5" fill="#fc8d62"/>
<circle cx="412.9" cy="273.4" r="2.5" fill="#fc8d62"/>
<path d="M345.1 406.6l3 5.2h-6z" fill="#66c2a5"/>
<rect x="506.2" y="182.4" width="4.5" height="4.5" fill="#8da0cb"/>
<path d="M450.7 436.9l3 5.2h-6z" fill="#66c2a5"/>
<rect x="567.7" y="190" width="4.5" height="4.5" fill="#8da0cb"/>
<rect x="230.3" y="331.5" width="4.5" height="4.5" fill="#8da0cb"/>
<circle cx="646.1" cy="290.5" r="2.5" fill="#fc8d62"/>
<rect x="451.5" y="233.4" width="4.5" height="4.5" fill="#8da0cb"/>
<rect x="375.9" y="319" width="4.5" height="4.5" fill="#8da0cb"/>
<circle cx="560" cy="389.5" r="2.5" fill="#fc8d62"/>
<rect x="251.3" y="333.5" width="4.5" height="4.5" fill="#8da0cb"/>
<circle cx="500.2" cy="316.4" r="2.5" fill="#fc8d62"/>
<rect x="225.1" y="396.1" width="4.5" height="4.5" fill="#8da0cb"/>
<circle cx="569.4" cy="108.3" r="2.5" fill="#fc8d62"/>
<rect x="403.3" y="238.4" width="4.5" height="4.5" fill="#8da0cb"/>
<circle cx="440.9" cy="315.9" r="2.5" fill="#fc8d62"/>
<circle cx="448.5" cy="334.1" r="2.5" fill="#fc8d62"/>
<path d="M514.2 339.8l3 5.2h-6z" fill="#66c2a5"/>
<rect x="455" y="275.5" width="4.5" height="4.5" fill="#8da0cb"/>
<rect x="310" y="266.6" width="4.5" height="4.5" fill="#8da0cb"/>
<rect x="255.6" y="202.7" width="4.5" height="4.5" fill="#8da0cb"/>
<path d="M403.1 338.4l3 5.2h-6z" fill="#66c2a5"/>
<circle cx="507.7" cy="254.1" r="2.5" fill="#fc8d62"/>
<path d="M580.3 387.5l3 5.2h-6z" fill="#66c2a5"/>
<circle cx="523.6" cy="229.5" r="2.5" fill="#fc8d62"/>
<rect x="560.8" y="402.8" width="4.5" height="4.5" fill="#8da0cb"/>
<rect x="315.9" y="304.1" width="4.5" height="4.5" fill="#8da0cb"/>
<circle cx="577" cy="296.2" r="2.5" fill="#fc8d62"/>
<path d="M414.6 404l3 5.2h-6z" fill="#66c2a5"/>
<path d="M574.8 290.6l3 5.2h-6z" fill="#66c2a5"/>
<rect x="470.4" y="292.6" width="4.5" height="4.5" fill="#8da0cb"/>
<path d="M511.5 376.2l3 5.2h-6z" fill="#66c2a5"/>
<path d="M532.3 366.1l3 5.2h-6z" fill="#66c2a5"/>
<rect x="358.2" y="325.9" width="4.5" height="4.5" fill="#8da0cb"/>
<path d="M379.1 303.2l3 5.2h-6z" fill="#66c2a5"/>
<circle cx="607.3" cy="377.9" r="2.5" fill="#fc8d62"/>
<rect x="451.5" y="268.3" width="4.5" height="4.5" fill="#8da0cb"/>
<rect x="383.9" y="236.5" width="4.5" height="4.5" fill="#8da0cb"/>
<circle cx="575" cy="313.6" r="2.5" fill="#fc8d62"/>
<path d="M448.7 313.4l3 5.2h-6z" fill="#66c2a5"/>
<rect x="377.7" y="356.9" width="4.5" height="4.5" fill="#8da0cb"/>
<circle cx="548.1" cy="341.6" r="2.5" fill="#fc8d62"/>
<circle cx="575.7" cy="261.7" r="2.5" fill="#fc8d62"/>
<rect x="623.6" y="165.9" width="4.5" height="4.5" fill="#8da0cb"/>
<rect x="336.9" y="216.7" width="4.5" height="4.5" fill="#8da0cb"/>
<circle cx="430.7" cy="344.1" r="2.5" fill="#fc8d62"/>
<path d="M452.9 327.5l3 5.2h-6z" fill="#66c2a5"/>
<circle cx="587.9" cy="291.2" r="2.5" fill="#fc8d62"/>
<circle cx="611.5" cy="318.1" r="2.5" fill="#fc8d62"/>
<path d="M490.3 420.9l3 5.2h-6z" fill="#66c2a5"/>
<circle cx="585.3" cy="284.8" r="2.5" fill="#fc8d62"/>
<rect x="280.1" y="277.6" width="4.5" height="4.5" fill="#8da0cb"/>
<rect x="413.3" y="262.3" width="4.5" height="4.5" fill="#8da0cb"/>
<path d="M487.1 298.8l3 5.2h-6z" fill="#66c2a5"/>
<circle cx="519.7" cy="308.5" r="2.5" fill="#fc8d62"/>
<path d="M483.7 412.6l3 5.2h-6z" fill="#66c2a5"/>
<rect x="442.7" y="248.2" width="4.5" height="4.5" fill="#8da0cb"/>
<circle cx="451.3" cy="335.5" r="2.5" fill="#fc8d62"/>
<rect x="326.2" y="325.4" width="4.5" height="4.5" fill="#8da0cb"/>
<circle cx="565.7" cy="204.1" r="2.5" fill="#fc8d62"/>
<rect x="501.9" y="311.5" width="4.5" height="4.5" fill="#8da0cb"/>
<circle cx="547.9" cy="184.4" r="2.5" fill="#fc8d62"/>
<rect x="296.1" y="292.8" width="4.5" height="4.5" fill="#8da0cb"/>
<rect x="360.2" y="263.7" width="4.5" height="4.5" fill="#8da0cb"/>
<rect x="336.7" y="238.5" width="4.5" height="4.5" fill="#8da0cb"/>
<path d="M561.1 266.6l3 5.2h-6z" fill="#66c2a5"/>
<path d="M399.2 357.1l3 5.2h-6z" fill="#66c2a5"/>
<circle cx="387.4" cy="336.8" r="2.5" fill="#fc8d62"/>
<circle cx="561.7" cy="308.6" r="2.5" fill="#fc8d62"/>
<circle cx="559.7" cy="368.5" r="2.5" fill="#fc8d62"/>
<rect x="406.6" y="255.1" width="4.5" height="4.5" fill="#8da0cb"/>
<path d="M576.3 265.5l3 5.2h-6z" fill="#66c2a5"/>
<path d="M595.5 345.5l3 5.2h-6z" fill="#66c2a5"/>
<circle cx="513.8" cy="318.3" r="2.5" fill="#fc8d62"/>
<path d="M515 210.1l3 5.2h-6z" fill="#66c2a5"/>
<path d="M486.1 364.5l3 5.2h-6z" fill="#66c2a5"/>
<path d="M525.1 355.5l3 5.2h-6z" fill="#66c2a5"/>
<rect x="327.1" y="321.5" width="4.5" height="4.5" fill="#8da0cb"/>
<circle cx="556.2" cy="165.7" r="2.5" fill="#fc8d62"/>
<circle cx="654.9" cy="360.8" r="2.5" fill="#fc8d62"/>
<circle cx="564.1" cy="276.4" r="2.5" fill="#fc8d62"/>
<path d="M426 278.1l3 5.2h-6z" fill="#66c2a5"/>
<rect x="432.1" y="268" width="4.5" height="4.5" fill="#8da0cb"/>
<rect x="513.6" y="175.1" width="4.5" height="4.5" fill="#8da0cb"/>
<circle cx="560.8" cy="395.6" r="2.5" fill="#fc8d62"/>
<path d="M518.5 395.4l3 5.2h-6z" fill="#66c2a5"/>
<rect x="468.4" y="300" width="4.5" height="4.5" fill="#8da0cb"/>
<rect x="324.4" y="214.6" width="4.5" height="4.5" fill="#8da0cb"/>
<circle cx="466.9" cy="354.3" r="2.5" fill="#fc8d62"/>
<rect x="383.2" y="284.5" width="4.5" height="4.5" fill="#8da0cb"/>
<path d="M547 278.9l3 5.2h-6z" fill="#66c2a5"/>
<path d="M459.8 278.5l3 5.2h-6z" fill="#66c2a5"/>
<path d="M581 223l3 5.2h-6z" fill="#66c2a5"/>
<rect x="369.9" y="249.6" width="4.5" height="4.5" fill="#8da0cb"/>
<circle cx="611.6" cy="355.2" r="2.5" fill="#fc8d62"/>
<path d="M404.5 352.5l3 5.2h-6z" fill="#66c2a5"/>
<path d="M512.5 316.9l3 5.2h-6z" fill="#66c2a5"/>
<rect x="397" y="249.7" width="4.5" height="4.5" fill="#8da0cb"/>
<circle cx="525.9" cy="330.7" r="2.5" fill="#fc8d62"/>
<path d="M555.6 351l3 5.2h-6z" fill="#66c2a5"/>
<circle cx="600.9" cy="320.5" r="2.5" fill="#fc8d62"/>
<path d="M477.1 244.6l3 5.2h-6z" fill="#66c2a5"/>
<path d="M598.3 150.3l3 5.2h-6z" fill="#66c2a5"/>
<circle cx="473.1" cy="433" r="2.5" fill="#fc8d62"/>
<circle cx="536.8" cy="313.1" r="2.5" fill="#fc8d62"/>
<path d="M363.2 379.2l3 5.2h-6z" fill="#66c2a5"/>
<circle cx="497.5" cy="210.5" r="2.5" fill="#fc8d62"/>
<circle cx="545.8" cy="317.7" r="2.5" fill="#fc8d62"/>
<path d="M520.4 313.3l3 5.2h-6z" fill="#66c2a5"/>
<rect x="323.3" y="291.6" width="4.5" height="4.5" fill="#8da0cb"/>
<rect x="340.4" y="298.1" width="4.5" height="4.5" fill="#8da0cb"/>
<rect x="483.1" y="240.8" width="4.5" height="4.5" fill="#8da0cb"/>
<rect x="325.1" y="241.2" width="4.5" height="4.5" fill="#8da0cb"/>
<rect x="233.5" y="230.5" width="4.5" height="4.5" fill="#8da0cb"/>
<rect x="529.8" y="372.3" width="4.5" height="4.5" fill="#8da0cb"/>
<rect x="466.9" y="145.3" width="4.5" height="4.5" fill="#8da0cb"/>
<rect x="323.2" y="228.7" width="4.5" height="4.5" fill="#8da0cb"/>
<path d="M562.7 211.1l3 5.2h-6z" fill="#66c2a5"/>
<circle cx="499.9" cy="220.5" r="2.5" fill="#fc8d62"/>
<path d="M400.4 299.5l3 5.2h-6z" fill="#66c2a5"/>
<rect x="486.1" y="305.3" width="4.5" height="4.5" fill="#8da0cb"/>
<path d="M511.8 379.5l3 5.2h-6z" fill="#66c2a5"/>
<circle cx="436.6" cy="220.8" r="2.5" fill="#fc8d62"/>
<rect x="406.7" y="248.4" width="4.5" height="4.5" fill="#8da0cb"/>
<path d="M558 265.5l3 5.2h-6z" fill="#66c2a5"/>
<rect x="433.3" y="347.3" width="4.5" height="4.5" fill="#8da0cb"/>
<rect x="443.4" y="247.7" width="4.5" height="4.5" fill="#8da0cb"/>
<circle cx="485" cy="269.7" r="2.5" fill="#fc8d62"/>
<circle cx="472.9" cy="253.9" r="2.5" fill="#fc8d62"/>
<path d="M479.3 301.1l3 5.2h-6z" fill="#66c2a5"/>
<path d="M516.4 357l3 5.2h-6z" fill="#66c2a5"/>
<path d="M467.3 293.6l3 5.2h-6z" fill="#66c2a5"/>
<circle cx="473.7" cy="249.8" r="2.5" fill="#fc8d62"/>
<rect x="553.5" y="194.7" width="4.5" height="4.5" fill="#8da0cb"/>
<circle cx="640.1" cy="223.2" r="2.5" fill="#fc8d62"/>
<rect x="365.7" y="321.9" width="4.5" height="4.5" fill="#8da0cb"/>
<rect x="442.1" y="352.7" width="4.5" height="4.5" fill="#8da0cb"/>
<circle cx="371.3" cy="353.4" r="2.5" fill="#fc8d62"/>
<circle cx="532.8" cy="249.1" r="2.5" fill="#fc8d62"/>
<circle cx="467.6" cy="397.7" r="2.5" fill="#fc8d62"/>
<circle cx="430.5" cy="323.1" r="2.5" fill="#fc8d62"/>
<rect x="407.4" y="349.3" width="4.5" height="4.5" fill="#8da0cb"/>
<path d="M436.4 271.9l3 5.2h-6z" fill="#66c2a5"/>
<circle cx="530.3" cy="368.7" r="2.5" fill="#fc8d62"/>
<rect x="332.3" y="159.5" width="4.5" height="4.5" fill="#8da0cb"/>
<rect x="396.2" y="313" width="4.5" height="4.5" fill="#8da0cb"/>
<path d="M316 332.7l3 5.2h-6z" fill="#66c2a5"/>
<path d="M420.1 339.6l3 5.2h-6z" fill="#66c2a5"/>
<rect x="315.7" y="287.4" width="4.5" height="4.5" fill="#8da0cb"/>
<rect x="484.1" y="287.5" width="4.5" height="4.5" fill="#8da0cb"/>
<circle cx="490.1" cy="287.3" r="2.5" fill="#fc8d62"/>
<path d="M397.7 398.8l3 5.2h-6z" fill="#66c2a5"/>
<path d="M422.4 398.9l3 5.2h-6z" fill="#66c2a5"/>
<path d="M523.4 319.9l3 5.2h-6z" fill="#66c2a5"/>
<circle cx="480.4" cy="199" r="2.5" fill="#fc8d62"/>
<rect x="409.6" y="340.1" width="4.5" height="4.5" fill="#8da0cb"/>
<rect x="443.4" y="300.7" width="4.5" height="4.5" fill="#8da0cb"/>
<circle cx="475.9" cy="365.3" r="2.5" fill="#fc8d62"/>
<circle cx="433.1" cy="324.9" r="2.5" fill="#fc8d62"/>
<circle cx="450.1" cy="338.2" r="2.5" fill="#fc8d62"/>
<circle cx="572.4" cy="273.9" r="2.5" fill="#fc8d62"/>
<circle cx="457.2" cy="269.9" r="2.5" fill="#fc8d62"/>
<path d="M337.9 389.1l3 5.2h-6z" fill="#66c2a5"/>
<rect x="353.1" y="208.6" width="4.5" height="4.5" fill="#8da0cb"/>
<circle cx="508" cy="218.8" r="2.5" fill="#fc8d62"/>
<circle cx="485.3" cy="294" r="2.5" fill="#fc8d62"/>
<rect x="404.7" y="218.2" width="4.5" height="4.5" fill="#8da0cb"/>
<circle cx="610.2" cy="275.2" r="2.5" fill="#fc8d62"/>
<rect x="405.4" y="335" width="4.5" height="4.5" fill="#8da0cb"/>
<rect x="449.4" y="323.6" width="4.5" height="4.5" fill="#8da0cb"/>
<path d="M413.7 370.1l3 5.2h-6z" fill="#66c2a5"/>
<rect x="394.4" y="304.5" width="4.5" height="4.5" fill="#8da0cb"/>
<rect x="451.9" y="204.1" width="4.5" height="4.5" fill="#8da0cb"/>
<circle cx="548" cy="278.1" r="2.5" fill="#fc8d62"/>
<rect x="380.3" y="308.6" width="4.5" height="4.5" fill="#8da0cb"/>
<circle cx="578.3" cy="375.7" r="2.5" fill="#fc8d62"/>
<path d="M408.6 497.6l3 5.2h-6z" fill="#66c2a5"/>
<path d="M590.8 382.3l3 5.2h-6z" fill="#66c2a5"/>
<path d="M526.7 260.2l3 5.2h-6z" fill="#66c2a5"/>
<circle cx="547.6" cy="285.1" r="2.5" fill="#fc8d62"/>
<circle cx="563.7" cy="379.7" r="2.5" fill="#fc8d62"/>
<path d="M450.5 340.6l3 5.2h-6z" fill="#66c2a5"/>
<path d="M374.7 344.9l3 5.2h-6z" fill="#66c2a5"/>
<path d="M534.1 380.1l3 5.2h-6z" fill="#66c2a5"/>
<rect x="282.7" y="328.7" width="4.5" height="4.5" fill="#8da0cb"/>
<circle cx="572" cy="332.6" r="2.5" fill="#fc8d62"/>
<path d="M437.2 462.5l3 5.2h-6z" fill="#66c2a5"/>
<path d="M477.6 312.8l3 5.2h-6z" fill="#66c2a5"/>
<path d="M510.1 350.4l3 5.2h-6z" fill="#66c2a5"/>
<rect x="184.5" y="287" width="4.5" height="4.5" fill="#8da0cb"/>
<rect x="348.7" y="235.2" width="4.5" height="4.5" fill="#8da0cb"/>
<rect x="315.9" y="242.7" width="4.5" height="4.5" fill="#8da0cb"/>
<circle cx="461.5" cy="501.9" r="2.5" fill="#fc8d62"/>
<circle cx="585.6" cy="303.9" r="2.5" fill="#fc8d62"/>
<path d="M513.5 377.7l3 5.2h-6z" fill="#66c2a5"/>
<path d="M426.2 245.9l3 5.2h-6z" fill="#66c2a5"/>
<rect x="461.8" y="230.9" width="4.5" height="4.5" fill="#8da0cb"/>
<path d="M463.9 411.4l3 5.2h-6z" fill="#66c2a5"/>
<rect x="380.7" y="394.2" width="4.5" height="4.5" fill="#8da0cb"/>
<rect x="305.4" y="91" width="4.5" height="4.5" fill="#8da0cb"/>
<rect x="314.3" y="369.1" width="4.5" height="4.5" fill="#8da0cb"/>
<circle cx="511.7" cy="234.7" r="2.5" fill="#fc8d62"/>
<path d="M470.4 177.1l3 5.2h-6z" fill="#66c2a5"/>
<rect x="305.7" y="158.7" width="4.5" height="4.5" fill="#8da0cb"/>
<rect x="337.1" y="225" width="4.5" height="4.5" fill="#8da0cb"/>
<path d="M522 285.4l3 5.2h-6z" fill="#66c2a5"/>
<path d="M436.1 265l3 5.2h-6z" fill="#66c2a5"/>
<path d="M491.2 204.4l3 5.2h-6z" fill="#66c2a5"/>
<circle cx="455.6" cy="342.2" r="2.5" fill="#fc8d62"/>
<path d="M410.4 345.1l3 5.2h-6z" fill="#66c2a5"/>
<rect x="367.2" y="264" width="4.5" height="4.5" fill="#8da0cb"/>
<rect x="553.7" y="317.8" width="4.5" height="4.5" fill="#8da0cb"/>
<rect x="478.9" y="287.1" width="4.5" height="4.5" fill="#8da0cb"/>
<rect x="394.4" y="182.9" width="4.5" height="4.5" fill="#8da0cb"/>
<path d="M415.6 299.1l3 5.2h-6z" fill="#66c2a5"/>
<path d="M415.3 442.6l3 5.2h-6z" fill="#66c2a5"/>
<path d="M440 316.5l3 5.2h-6z" fill="#66c2a5"/>
<rect x="436.7" y="329.2" width="4.5" height="4.5" fill="#8da0cb"/>
<rect x="315.9" y="243.7" width="4.5" height="4.5" fill="#8da0cb"/>
<rect x="483.1" y="211.6" width="4.5" height="4.5" fill="#8da0cb"/>
<circle cx="567.6" cy="310.2" r="2.5" fill="#fc8d62"/>
<path d="M373.6 334.3l3 5.2h-6z" fill="#66c2a5"/>
<circle cx="576.3" cy="343.8" r="2.5" fill="#fc8d62"/>
<rect x="245.9" y="169.9" width="4.5" height="4.5" fill="#8da0cb"/>
<circle cx="441.8" cy="297" r="2.5" fill="#fc8d62"/>
<rect x="331.1" y="301.3" width="4.5" height="4.5" fill="#8da0cb"/>
<rect x="365.5" y="182.2" width="4.5" height="4.5" fill="#8da0cb"/>
<rect x="363.3" y="313.8" width="4.5" height="4.5" fill="#8da0cb"/>
<rect x="424.3" y="237.9" width="4.5" height="4.5" fill="#8da0cb"/>
<rect x="508.9" y="213.1" width="4.5" height="4.5" fill="#8da0cb"/>
<rect x="462.8" y="387.4" width="4.5" height="4.5" fill="#8da0cb"/>
<circle cx="316.7" cy="378" r="2.5" fill="#fc8d62"/>
<rect x="504.2" y="278" width="4.5" height="4.5" fill="#8da0cb"/>
<rect x="459.6" y="323.6" width="4.5" height="4.5" fill="#8da0cb"/>
<circle cx="462.2" cy="312.8" r="2.5" fill="#fc8d62"/>
<rect x="475.2" y="258.8" width="4.5" height="4.5" fill="#8da0cb"/>
<circle cx="519.1" cy="313.2" r="2.5" fill="#fc8d62"/>
<circle cx="538.9" cy="341.9" r="2.5" fill="#fc8d62"/>
<rect x="421.7" y="232.9" width="4.5" height="4.5" fill="#8da0cb"/>
<circle cx="425.1" cy="311.6" r="2.5" fill="#fc8d62"/>
<path d="M563.5 241.5l3 5.2h-6z" fill="#66c2a5"/>
<circle cx="519.2" cy="278.5" r="2.5" fill="#fc8d62"/>
<path d="M490.9 371.2l3 5.2h-6z" fill="#66c2a5"/>
<path d="M564.5 271l3 5.2h-6z" fill="#66c2a5"/>
<rect x="399.5" y="230.8" width="4.5" height="4.5" fill="#8da0cb"/>
<rect x="322.6" y="281.6" width="4.5" height="4.5" fill="#8da0cb"/>
<rect x="528.1" y="258.5" width="4.5" height="4.5" fill="#8da0cb"/>
<circle cx="535.4" cy="312" r="2.5" fill="#fc8d62"/>
<rect x="318.3" y="223.1" width="4.5" height="4.5" fill="#8da0cb"/>
<rect x="554.6" y="252.6" width="4.5" height="4.5" fill="#8da0cb"/>
<path d="M412.6 303.7l3 5.2h-6z" fill="#66c2a5"/>
<rect x="286.1" y="260.3" width="4.5" height="4.5" fill="#8da0cb"/>
<circle cx="523.5" cy="239.9" r="2.5" fill="#fc8d62"/>
<rect x="417.5" y="188.5" width="4.5" height="4.5" fill="#8da0cb"/>
<circle cx="515.1" cy="399.8" r="2.5" fill="#fc8d62"/>
<path d="M450.8 268.1l3 5.2h-6z" fill="#66c2a5"/>
<rect x="428.1" y="217" width="4.5" height="4.5" fill="#8da0cb"/>
<rect x="432.8" y="234.5" width="4.5" height="4.5" fill="#8da0cb"/>
<path d="M383.8 405.2l3 5.2h-6z" fill="#66c2a5"/>
<path d="M547.1 320.1l3 5.2h-6z" fill="#66c2a5"/>
<path d="M605.1 354.2l3 5.2h-6z" fill="#66c2a5"/>
<path d="M528.8 329.4l3 5.2h-6z" fill="#66c2a5"/>
<rect x="441.8" y="364.3" width="4.5" height="4.5" fill="#8da0cb"/>
<circle cx="545.2" cy="226" r="2.5" fill="#fc8d62"/>
<rect x="275.3" y="332.5" width="4.5" height="4.5" fill="#8da0cb"/>
<path d="M377.3 382.4l3 5.2h-6z" fill="#66c2a5"/>
<circle cx="404.4" cy="321.7" r="2.5" fill="#fc8d62"/>
<rect x="373.2" y="206.1" width="4.5" height="4.5" fill="#8da0cb"/>
<circle cx="529.3" cy="230.9" r="2.5" fill="#fc8d62"/>
<rect x="377.2" y="261" width="4.5" height="4.5" fill="#8da0cb"/>
<rect x="349.5" y="318.2" width="4.5" height="4.5" fill="#8da0cb"/>
<circle cx="586.7" cy="435.6" r="2.5" fill="#fc8d62"/>
<path d="M471.4 440.7l3 5.2h-6z" fill="#66c2a5"/>
<path d="M472.9 304l3 5.2h-6z" fill="#66c2a5"/>
<path d="M492 300.5l3 5.2h-6z" fill="#66c2a5"/>
<path d="M494.3 282.9l3 5.2h-6z" fill="#66c2a5"/>
<path d="M431.6 422.8l3 5.2h-6z" fill="#66c2a5"/>
<circle cx="524.5" cy="321.9" r="2.5" fill="#fc8d62"/>
<circle cx="332.3" cy="335.5" r="2.5" fill="#fc8d62"/>
<rect x="622.7" y="243.8" width="4.5" height="4.5" fill="#8da0cb"/>
<circle cx="516.9" cy="309.5" r="2.5" fill="#fc8d62"/>
<circle cx="471" cy="363.9" r="2.5" fill="#fc8d62"/>
<rect x="412.8" y="255.1" width="4.5" height="4.5" fill="#8da0cb"/>
<circle cx="463.9" cy="256.3" r="2.5" fill="#fc8d62"/>
<path d="M324.6 329l3 5.2h-6z" fill="#66c2a5"/>
<path d="M504.5 420.5l3 5.2h-6z" fill="#66c2a5"/>
<circle cx="506.4" cy="347.5" r="2.5" fill="#fc8d62"/>
<rect x="256.2" y="231.1" width="4.5" height="4.5" fill="#8da0cb"/>
<circle cx="570" cy="223.5" r="2.5" fill="#fc8d62"/>
<circle cx="460.2" cy="276.2" r="2.5" fill="#fc8d62"/>
<circle cx="416.4" cy="370.3" r="2.5" fill="#fc8d62"/>
<circle cx="580" cy="403.9" r="2.5" fill="#fc8d62"/>
<circle cx="429" cy="371.7" r="2.5" fill="#fc8d62"/>
<path d="M408.4 305.1l3 5.2h-6z" fill="#66c2a5"/>
<rect x="340.7" y="365.3" width="4.5" height="4.5" fill="#8da0cb"/>
<circle cx="494.7" cy="289.5" r="2.5" fill="#fc8d62"/>
<rect x="293.5" y="258.6" width="4.5" height="4.5" fill="#8da0cb"/>
<path d="M422.3 490.1l3 5.2h-6z" fill="#66c2a5"/>
<circle cx="550" cy="422.6" r="2.5" fill="#fc8d62"/>
<path d="M610.3 202.2l3 5.2h-6z" fill="#66c2a5"/>
<path d="M422.3 313l3 5.2h-6z" fill="#66c2a5"/>
<circle cx="575.8" cy="208.2" r="2.5" fill="#fc8d62"/>
<rect x="469.6" y="228.3" width="4.5" height="4.5" fill="#8da0cb"/>
<circle cx="527.6" cy="349.5" r="2.5" fill="#fc8d62"/>
<rect x="236" y="290.6" width="4.5" height="4.5" fill="#8da0cb"/>
<circle cx="377.5" cy="357.5" r="2.5" fill="#fc8d62"/>
<rect x="416.2" y="191.3" width="4.5" height="4.5" fill="#8da0cb"/>
<circle cx="443" cy="338.7" r="2.5" fill="#fc8d62"/>
<rect x="229" y="322.5" width="4.5" height="4.5" fill="#8da0cb"/>
<rect x="469.6" y="280.1" width="4.5" height="4.5" fill="#8da0cb"/>
<path d="M415.3 362.9l3 5.2h-6z" fill="#66c2a5"/>
<path d="M465.8 380.6l3 5.2h-6z" fill="#66c2a5"/>
<circle cx="403.2" cy="344.3" r="2.5" fill="#fc8d62"/>
<circle cx="432.6" cy="453.9" r="2.5" fill="#fc8d62"/>
<rect x="509.1" y="264" width="4.5" height="4.5" fill="#8da0cb"/>
<rect x="362.3" y="266.9" width="4.5" height="4.5" fill="#8da0cb"/>
<rect x="454.2" y="302.3" width="4.5" height="4.5" fill="#8da0cb"/>
<rect x="386.2" y="347.1" width="4.5" height="4.5" fill="#8da0cb"/>
<rect x="263.8" y="372.7" width="4.5" height="4.5" fill="#8da0cb"/>
<path d="M421.4 438.7l3 5.2h-6z" fill="#66c2a5"/>
<circle cx="535" cy="302" r="2.5" fill="#fc8d62"/>
<circle cx="611.6" cy="281.8" r="2.5" fill="#fc8d62"/>
<path d="M422.4 280.9l3 5.2h-6z" fill="#66c2a5"/>
<rect x="382.6" y="381.1" width="4.5" height="4.5" fill="#8da0cb"/>
<rect x="498.1" y="291.7" width="4.5" height="4.5" fill="#8da0cb"/>
<path d="M458 358.9l3 5.2h-6z" fill="#66c2a5"/>
<circle cx="505.4" cy="261.5" r="2.5" fill="#fc8d62"/>
<circle cx="485.5" cy="344.2" r="2.5" fill="#fc8d62"/>
<rect x="443.4" y="415.4" width="4.5" height="4.5" fill="#8da0cb"/>
<circle cx="594.7" cy="399.7" r="2.5" fill="#fc8d62"/>
<rect x="489.5" y="299.6" width="4.5" height="4.5" fill="#8da0cb"/>
<rect x="312.4" y="290.9" width="4.5" height="4.5" fill="#8da0cb"/>
<rect x="370.4" y="224.4" width="4.5" height="4.5" fill="#8da0cb"/>
<rect x="506.7" y="189.9" width="4.5" height="4.5" fill="#8da0cb"/>
<circle cx="497.6" cy="393" r="2.5" fill="#fc8d62"/>
<rect x="432.3" y="236.3" width="4.5" height="4.5" fill="#8da0cb"/>
<path d="M388.6 279.5l3 5.2h-6z" fill="#66c2a5"/>
<rect x="539.7" y="169.5" width="4.5" height="4.5" fill="#8da0cb"/>
<rect x="509.5" y="239.3" width="4.5" height="4.5" fill="#8da0cb"/>
<rect x="314.2" y="372.6" width="4.5" height="4.5" fill="#8da0cb"/>
<path d="M447.1 281.3l3 5.2h-6z" fill="#66c2a5"/>
<path d="M381.9 271.3l3 5.2h-6z" fill="#66c2a5"/>
<circle cx="555.6" cy="293.5" r="2.5" fill="#fc8d62"/>
<path d="M538.1 306.8l3 5.2h-6z" fill="#66c2a5"/>
<circle cx="545.4" cy="314.6" r="2.5" fill="#fc8d62"/>
<rect x="309.5" y="221.6" width="4.5" height="4.5" fill="#8da0cb"/>
<path d="M430.5 321l3 5.2h-6z" fill="#66c2a5"/>
<circle cx="623.5" cy="394" r="2.5" fill="#fc8d62"/>
<rect x="499.3" y="268.8" width="4.5" height="4.5" fill="#8da0cb"/>
<path d="M446.8 405.8l3 5.2h-6z" fill="#66c2a5"/>
<rect x="593.8" y="210.7" width="4.5" height="4.5" fill="#8da0cb"/>
<circle cx="503.2" cy="293.1" r="2.5" fill="#fc8d62"/>
<circle cx="516.6" cy="285" r="2.5" fill="#fc8d62"/>
<circle cx="526.3" cy="303.7" r="2.5" fill="#fc8d62"/>
<rect x="423" y="257.3" width="4.5" height="4.5" fill="#8da0cb"/>
<circle cx="543.4" cy="371.3" r="2.5" fill="#fc8d62"/>
<circle cx="590.3" cy="187.4" r="2.5" fill="#fc8d62"/>
<path d="M463.2 279.6l3 5.2h-6z" fill="#66c2a5"/>
<rect x="301.8" y="336.9" width="4.5" height="4.5" fill="#8da0cb"/>
<circle cx="571.8" cy="232.2" r="2.5" fill="#fc8d62"/>
<path d="M385.1 354.7l3 5.2h-6z" fill="#66c2a5"/>
<circle cx="389.6" cy="407.6" r="2.5" fill="#fc8d62"/>
<rect x="383.3" y="274.6" width="4.5" height="4.5" fill="#8da0cb"/>
<path d="M457.9 342.2l3 5.2h-6z" fill="#66c2a5"/>
<path d="M523.9 352.1l3 5.2h-6z" fill="#66c2a5"/>
<rect x="455.7" y="319.5" width="4.5" height="4.5" fill="#8da0cb"/>
<circle cx="439.3" cy="337.1" r="2.5" fill="#fc8d62"/>
<rect x="416" y="238.5" width="4.5" height="4.5" fill="#8da0cb"/>
<rect x="314.2" y="302.3" width="4.5" height="4.5" fill="#8da0cb"/>
<rect x="272.6" y="319.6" width="4.5" height="4.5" fill="#8da0cb"/>
<circle cx="588.6" cy="209.3" r="2.5" fill="#fc8d62"/>
<path d="M493.4 332.7l3 5.2h-6z" fill="#66c2a5"/>
<path d="M450.4 579.8l3 5.2h-6z" fill="#66c2a5"/>
<circle cx="631.2" cy="284.1" r="2.5" fill="#fc8d62"/>
<rect x="437.3" y="339.2" width="4.5" height="4.5" fill="#8da0cb"/>
<circle cx="452.9" cy="328.2" r="2.5" fill="#fc8d62"/>
<rect x="395.4" y="207.6" width="4.5" height="4.5" fill="#8da0cb"/>
<circle cx="641.5" cy="397.4" r="2.5" fill="#fc8d62"/>
<rect x="481.4" y="244.6" width="4.5" height="4.5" fill="#8da0cb"/>
<rect x="349.5" y="195.6" width="4.5" height="4.5" fill="#8da0cb"/>
<circle cx="555" cy="229.8" r="2.5" fill="#fc8d62"/>
<path d="M592.2 408.8l3 5.2h-6z" fill="#66c2a5"/>
<path d="M481.2 376l3 5.2h-6z" fill="#66c2a5"/>
<rect x="431.2" y="429.8" width="4.5" height="4.5" fill="#8da0cb"/>
<rect x="353.9" y="317.3" width="4.5" height="4.5" fill="#8da0cb"/>
<circle cx="512.7" cy="346.3" r="2.5" fill="#fc8d62"/>
<circle cx="606.9" cy="393.9" r="2.5" fill="#fc8d62"/>
<path d="M478 223.4l3 5.2h-6z" fill="#66c2a5"/>
<rect x="344" y="254.7" width="4.5" height="4.5" fill="#8da0cb"/>
<circle cx="529.6" cy="306.8" r="2.5" fill="#fc8d62"/>
<rect x="522.7" y="200.1" width="4.5" height="4.5" fill="#8da0cb"/>
<rect x="407.9" y="241.3" width="4.5" height="4.5" fill="#8da0cb"/>
<path d="M558 321l3 5.2h-6z" fill="#66c2a5"/>
<rect x="383.1" y="287.5" width="4.5" height="4.5" fill="#8da0cb"/>
<circle cx="425.8" cy="345.3" r="2.5" fill="#fc8d62"/>
<path d="M517.7 335.9l3 5.2h-6z" fill="#66c2a5"/>
<circle cx="531.7" cy="296.6" r="2.5" fill="#fc8d62"/>
<path d="M509.5 320.9l3 5.2h-6z" fill="#66c2a5"/>
<rect x="416.9" y="264.4" width="4.5" height="4.5" fill="#8da0cb"/>
<circle cx="444.7" cy="327.7" r="2.5" fill="#fc8d62"/>
<path d="M502.8 513l3 5.2h-6z" fill="#66c2a5"/>
<rect x="243.5" y="303.5" width="4.5" height="4.5" fill="#8da0cb"/>
<rect x="537.4" y="153.8" width="4.5" height="4.5" fill="#8da0cb"/>
<rect x="339.4" y="360" width="4.5" height="4.5" fill="#8da0cb"/>
<path d="M405.4 262l3 5.2h-6z" fill="#66c2a5"/>
<path d="M458.9 361.5l3 5.2h-6z" fill="#66c2a5"/>
<rect x="277.9" y="239.1" width="4.5" height="4.5" fill="#8da0cb"/>
<path d="M553.4 156.7l3 5.2h-6z" fill="#66c2a5"/>
<circle cx="520.6" cy="248.7" r="2.5" fill="#fc8d62"/>
<path d="M380.6 328.1l3 5.2h-6z" fill="#66c2a5"/>
<circle cx="673.7" cy="212.2" r="2.5" fill="#fc8d62"/>
<path d="M493.3 236l3 5.2h-6z" fill="#66c2a5"/>
<circle cx="464" cy="362.3" r="2.5" fill="#fc8d62"/>
<circle cx="482.6" cy="337" r="2.5" fill="#fc8d62"/>
<path d="M522.1 314.9l3 5.2h-6z" fill="#66c2a5"/>
<circle cx="522.5" cy="258.2" r="2.5" fill="#fc8d62"/>
<rect x="445.2" y="311.3" width="4.5" height="4.5" fill="#8da0cb"/>
<rect x="371.9" y="445.2" width="4.5" height="4.5" fill="#8da0cb"/>
<path d="M399.4 383l3 5.2h-6z" fill="#66c2a5"/>
<path d="M507.2 382.5l3 5.2h-6z" fill="#66c2a5"/>
<rect x="260.4" y="277.4" width="4.5" height="4.5" fill="#8da0cb"/>
<path d="M406.7 438.3l3 5.2h-6z" fill="#66c2a5"/>
<circle cx="558.7" cy="159.2" r="2.5" fill="#fc8d62"/>
<circle cx="497.1" cy="254.5" r="2.5" fill="#fc8d62"/>
<path d="M514 320.2l3 5.2h-6z" fill="#66c2a5"/>
<circle cx="555.9" cy="161.3" r="2.5" fill="#fc8d62"/>
<rect x="272.8" y="313.8" width="4.5" height="4.5" fill="#8da0cb"/>
<path d="M472.3 495.5l3 5.2h-6z" fill="#66c2a5"/>
<rect x="434.5" y="321.7" width="4.5" height="4.5" fill="#8da0cb"/>
<circle cx="391.9" cy="305.1" r="2.5" fill="#fc8d62"/>
<rect x="326.2" y="386.7" width="4.5" height="4.5" fill="#8da0cb"/>
<path d="M502.9 425.9l3 5.2h-6z" fill="#66c2a5"/>
<path d="M604.4 342.5l3 5.2h-6z" fill="#66c2a5"/>
<path d="M520 244.9l3 5.2h-6z" fill="#66c2a5"/>
<path d="M506.1 282.5l3 5.2h-6z" fill="#66c2a5"/>
<rect x="528.4" y="351.8" width="4.5" height="4.5" fill="#8da0cb"/>
<circle cx="411.1" cy="399.3" r="2.5" fill="#fc8d62"/>
<circle cx="464.9" cy="391" r="2.5" fill="#fc8d62"/>
<rect x="355" y="263.4" width="4.5" height="4.5" fill="#8da0cb"/>
<rect x="385.3" y="402" width="4.5" height="4.5" fill="#8da0cb"/>
<path d="M401.3 232.9l3 5.2h-6z" fill="#66c2a5"/>
<circle cx="477" cy="272.2" r="2.5" fill="#fc8d62"/>
<path d="M436.8 326.8l3 5.2h-6z" fill="#66c2a5"/>
<circle cx="611.8" cy="278.3" r="2.5" fill="#fc8d62"/>
<rect x="269.6" y="328.2" width="4.5" height="4.5" fill="#8da0cb"/>
<rect x="510.7" y="262.2" width="4.5" height="4.5" fill="#8da0cb"/>
<path d="M423.3 456.1l3 5.2h-6z" fill="#66c2a5"/>
<circle cx="448.2" cy="329.4" r="2.5" fill="#fc8d62"/>
<circle cx="447.2" cy="247" r="2.5" fill="#fc8d62"/>
<circle cx="655.2" cy="345.2" r="2.5" fill="#fc8d62"/>
<circle cx="456.8" cy="309.5" r="2.5" fill="#fc8d62"/>
<path d="M518.1 322.8l3 5.2h-6z" fill="#66c2a5"/>
<path d="M512.5 273.6l3 5.2h-6z" fill="#66c2a5"/>
<circle cx="440.5" cy="310.2" r="2.5" fill="#fc8d62"/>
<path d="M436.3 308.2l3 5.2h-6z" fill="#66c2a5"/>
<rect x="390.6" y="367.9" width="4.5" height="4.5" fill="#8da0cb"/>
<rect x="229.8" y="163.8" width="4.5" height="4.5" fill="#8da0cb"/>
<rect x="502.3" y="224" width="4.5" height="4.5" fill="#8da0cb"/>
<circle cx="464.5" cy="318.6" r="2.5" fill="#fc8d62"/>
<path d="M420.5 364l3 5.2h-6z" fill="#66c2a5"/>
<circle cx="555.1" cy="334.3" r="2.5" fill="#fc8d62"/>
<rect x="362.1" y="433.7" width="4.5" height="4.5" fill="#8da0cb"/>
<rect x="479.1" y="291" width="4.5" height="4.5" fill="#8da0cb"/>
<circle cx="336.8" cy="428.8" r="2.5" fill="#fc8d62"/>
<rect x="484.7" y="441.2" width="4.5" height="4.5" fill="#8da0cb"/>
<path d="M526.5 275.6l3 5.2h-6z" fill="#66c2a5"/>
<path d="M406.6 343.8l3 5.2h-6z" fill="#66c2a5"/>
<path d="M363 379.6l3 5.2h-6z" fill="#66c2a5"/>
<rect x="441.7" y="277.1" width="4.5" height="4.5" fill="#8da0cb"/>
<circle cx="473" cy="238" r="2.5" fill="#fc8d62"/>
<path d="M357.9 426.7l3 5.2h-6z" fill="#66c2a5"/>
<circle cx="536.7" cy="292.2" r="2.5" fill="#fc8d62"/>
<rect x="263.7" y="188.4" width="4.5" height="4.5" fill="#8da0cb"/>
<path d="M509.6 78.1l3 5.2h-6z" fill="#66c2a5"/>
<path d="M483.8 282.7l3 5.2h-6z" fill="#66c2a5"/>
<rect x="422" y="223.6" width="4.5" height="4.5" fill="#8da0cb"/>
<rect x="373.7" y="222.9" width="4.5" height="4.5" fill="#8da0cb"/>
<path d="M414.4 333.6l3 5.2h-6z" fill="#66c2a5"/>
<path d="M407.5 359.9l3 5.2h-6z" fill="#66c2a5"/>
<path d="M521.7 222.7l3 5.2h-6z" fill="#66c2a5"/>
<path d="M412.9 243.2l3 5.2h-6z" fill="#66c2a5"/>
<rect x="322.1" y="158" width="4.5" height="4.5" fill="#8da0cb"/>
<path d="M617.6 289.7l3 5.2h-6z" fill="#66c2a5"/>
<circle cx="516.9" cy="415" r="2.5" fill="#fc8d62"/>
<path d="M415.3 366.3l3 5.2h-6z" fill="#66c2a5"/>
<circle cx="512.8" cy="312" r="2.5" fill="#fc8d62"/>
<circle cx="493.4" cy="260.6" r="2.5" fill="#fc8d62"/>
<path d="M553.2 258.1l3 5.2h-6z" fill="#66c2a5"/>
<path d="M469.4 284.9l3 5.2h-6z" fill="#66c2a5"/>
<path d="M430.2 314.1l3 5.2h-6z" fill="#66c2a5"/>
<circle cx="605.1" cy="261.1" r="2.5" fill="#fc8d62"/>
<rect x="485.4" y="241.6" width="4.5" height="4.5" fill="#8da0cb"/>
<path d="M513.7 327.4l3 5.2h-6z" fill="#66c2a5"/>
<rect x="335.1" y="313.4" width="4.5" height="4.5" fill="#8da0cb"/>
<path d="M509.2 264.9l3 5.2h-6z" fill="#66c2a5"/>
<path d="M487.1 278.5l3 5.2h-6z" fill="#66c2a5"/>
<rect x="294.8" y="232.8" width="4.5" height="4.5" fill="#8da0cb"/>
<circle cx="525" cy="258.4" r="2.5" fill="#fc8d62"/>
<path d="M389.7 355.1l3 5.2h-6z" fill="#66c2a5"/>
<path d="M486.9 265.9l3 5.2h-6z" fill="#66c2a5"/>
<circle cx="524.9" cy="284.7" r="2.5" fill="#fc8d62"/>
<circle cx="537.9" cy="312.7" r="2.5" fill="#fc8d62"/>
<rect x="244.9" y="225.2" width="4.5" height="4.5" fill="#8da0cb"/>
<rect x="424.2" y="333.4" width="4.5" height="4.5" fill="#8da0cb"/>
<path d="M579.8 254.5l3 5.2h-6z" fill="#66c2a5"/>
<circle cx="500.3" cy="258.8" r="2.5" fill="#fc8d62"/>
<path d="M425.1 456.5l3 5.2h-6z" fill="#66c2a5"/>
<path d="M587.6 363.4l3 5.2h-6z" fill="#66c2a5"/>
<path d="M467.9 272l3 5.2h-6z" fill="#66c2a5"/>
<rect x="413.2" y="220.6" width="4.5" height="4.5" fill="#8da0cb"/>
<circle cx="531.8" cy="393.1" r="2.5" fill="#fc8d62"/>
<rect x="420.3" y="224.4" width="4.5" height="4.5" fill="#8da0cb"/>
<rect x="462.2" y="250.6" width="4.5" height="4.5" fill="#8da0cb"/>
<rect x="479.6" y="350.9" width="4.5" height="4.5" fill="#8da0cb"/>
<path d="M495.9 326.7l3 5.2h-6z" fill="#66c2a5"/>
<circle cx="558.6" cy="197.5" r="2.5" fill="#fc8d62"/>
<rect x="496.6" y="336.6" width="4.5" height="4.5" fill="#8da0cb"/>
<circle cx="416.3" cy="253.9" r="2.5" fill="#fc8d62"/>
<rect x="485.4" y="352.6" width="4.5" height="4.5" fill="#8da0cb"/>
<rect x="364.8" y="244.1" width="4.5" height="4.5" fill="#8da0cb"/>
<path d="M520.1 248.9l3 5.2h-6z" fill="#66c2a5"/>
<circle cx="467" cy="319.4" r="2.5" fill="#fc8d62"/>
<circle cx="503.7" cy="218.8" r="2.5" fill="#fc8d62"/>
<rect x="367.1" y="260.8" width="4.5" height="4.5" fill="#8da0cb"/>
<circle cx="623.9" cy="270.3" r="2.5" fill="#fc8d62"/>
<rect x="409.2" y="208.6" width="4.5" height="4.5" fill="#8da0cb"/>
<path d="M370.8 288.2l3 5.2h-6z" fill="#66c2a5"/>
<circle cx="554.1" cy="342" r="2.5" fill="#fc8d62"/>
<path d="M286.1 330.1l3 5.2h-6z" fill="#66c2a5"/>
<rect x="416.8" y="314.7" width="4.5" height="4.5" fill="#8da0cb"/>
<circle cx="672.5" cy="291.8" r="2.5" fill="#fc8d62"/>
<rect x="333.4" y="318.5" width="4.5" height="4.5" fill="#8da0cb"/>
<circle cx="495.7" cy="328" r="2.5" fill="#fc8d62"/>
<path d="M505.4 402.2l3 5.2h-6z" fill="#66c2a5"/>
<circle cx="445.8" cy="313.8" r="2.5" fill="#fc8d62"/>
<path d="M499 191.9l3 5.2h-6z" fill="#66c2a5"/>
<circle cx="515.1" cy="430.8" r="2.5" fill="#fc8d62"/>
<path d="M549.3 248.7l3 5.2h-6z" fill="#66c2a5"/>
<circle cx="535.2" cy="311.3" r="2.5" fill="#fc8d62"/>
<path d="M423.7 309.4l3 5.2h-6z" fill="#66c2a5"/>
<rect x="448.8" y="322.9" width="4.5" height="4.5" fill="#8da0cb"/>
<path d="M491.5 368l3 5.2h-6z" fill="#66c2a5"/>
<circle cx="417.6" cy="366.6" r="2.5" fill="#fc8d62"/>
<path d="M579.7 337.2l3 5.2h-6z" fill="#66c2a5"/>
<path d="M482 353.4l3 5.2h-6z" fill="#66c2a5"/>
<circle cx="568.5" cy="324.2" r="2.5" fill="#fc8d62"/>
<circle cx="575.8" cy="334.3" r="2.5" fill="#fc8d62"/>
<circle cx="543.8" cy="427.4" r="2.5" fill="#fc8d62"/>
<path d="M548.3 190.9l3 5.2h-6z" fill="#66c2a5"/>
<rect x="479.7" y="295.8" width="4.5" height="4.5" fill="#8da0cb"/>
<rect x="474.4" y="158.5" width="4.5" height="4.5" fill="#8da0cb"/>
<path d="M389.8 345.3l3 5.2h-6z" fill="#66c2a5"/>
<circle cx="455.3" cy="400.4" r="2.5" fill="#fc8d62"/>
<circle cx="659" cy="301.8" r="2.5" fill="#fc8d62"/>
<rect x="394.4" y="208.4" width="4.5" height="4.5" fill="#8da0cb"/>
<rect x="289.2" y="264.7" width="4.5" height="4.5" fill="#8da0cb"/>
<circle cx="419.8" cy="330.7" r="2.5" fill="#fc8d62"/>
<rect x="333.6" y="389.2" width="4.5" height="4.5" fill="#8da0cb"/>
<rect x="342.5" y="254.9" width="4.5" height="4.5" fill="#8da0cb"/>
<rect x="330.4" y="336" width="4.5" height="4.5" fill="#8da0cb"/>
<path d="M535.4 426.5l3 5.2h-6z" fill="#66c2a5"/>
<rect x="370" y="359.4" width="4.5" height="4.5" fill="#8da0cb"/>
<path d="M509.8 401l3 5.2h-6z" fill="#66c2a5"/>
<path d="M348.8 407.5l3 5.2h-6z" fill="#66c2a5"/>
<rect x="382.5" y="302.8" width="4.5" height="4.5" fill="#8da0cb"/>
<rect x="489.8" y="265.4" width="4.5" height="4.5" fill="#8da0cb"/>
<rect x="590.6" y="281" width="4.5" height="4.5" fill="#8da0cb"/>
<rect x="286.8" y="294.5" width="4.5" height="4.5" fill="#8da0cb"/>
<rect x="461.4" y="255.7" width="4.5" height="4.5" fill="#8da0cb"/>
<circle cx="612.3" cy="259.3" r="2.5" fill="#fc8d62"/>
<circle cx="548.3" cy="248" r="2.5" fill="#fc8d62"/>
<rect x="392.3" y="184.6" width="4.5" height="4.5" fill="#8da0cb"/>
<path d="M414 413.5l3 5.2h-6z" fill="#66c2a5"/>
<path d="M464.8 164.5l3 5.2h-6z" fill="#66c2a5"/>
<rect x="284.1" y="296.5" width="4.5" height="4.5" fill="#8da0cb"/>
<circle cx="592.1" cy="315.4" r="2.5" fill="#fc8d62"/>
<rect x="416.8" y="318.8" width="4.5" height="4.5" fill="#8da0cb"/>
<rect x="443.5" y="256.9" width="4.5" height="4.5" fill="#8da0cb"/>
<circle cx="502.7" cy="358.1" r="2.5" fill="#fc8d62"/>
<circle cx="614.8" cy="294.5" r="2.5" fill="#fc8d62"/>
<circle cx="513.5" cy="402.7" r="2.5" fill="#fc8d62"/>
<rect x="288.1" y="212" width="4.5" height="4.5" fill="#8da0cb"/>
<path d="M364.9 280l3 5.2h-6z" fill="#66c2a5"/>
<rect x="264.3" y="314.3" width="4.5" height="4.5" fill="#8da0cb"/>
<circle cx="550.1" cy="254" r="2.5" fill="#fc8d62"/>
<path d="M450.2 416.9l3 5.2h-6z" fill="#66c2a5"/>
<rect x="316.1" y="282.5" width="4.5" height="4.5" fill="#8da0cb"/>
<circle cx="509.1" cy="476.3" r="2.5" fill="#fc8d62"/>
<circle cx="572.5" cy="211.8" r="2.5" fill="#fc8d62"/>
<circle cx="526" cy="309.9" r="2.5" fill="#fc8d62"/>
<circle cx="640.7" cy="292.3" r="2.5" fill="#fc8d62"/>
<rect x="361.2" y="259" width="4.5" height="4.5" fill="#8da0cb"/>
<rect x="327.2" y="256.9" width="4.5" height="4.5" fill="#8da0cb"/>
<path d="M403.1 273.6l3 5.2h-6z" fill="#66c2a5"/>
<rect x="270.1" y="286" width="4.5" height="4.5" fill="#8da0cb"/>
<path d="M468.4 406.1l3 5.2h-6z" fill="#66c2a5"/>
<rect x="419.5" y="375.5" width="4.5" height="4.5" fill="#8da0cb"/>
<rect x="481" y="367.4" width="4.5" height="4.5" fill="#8da0cb"/>
<circle cx="382.6" cy="360.9" r="2.5" fill="#fc8d62"/>
<rect x="257.2" y="341.3" width="4.5" height="4.5" fill="#8da0cb"/>
<rect x="386.5" y="287.1" width="4.5" height="4.5" fill="#8da0cb"/>
<rect x="328.8" y="184.5" width="4.5" height="4.5" fill="#8da0cb"/>
<rect x="416.7" y="321.9" width="4.5" height="4.5" fill="#8da0cb"/>
<circle cx="565.3" cy="336" r="2.5" fill="#fc8d62"/>
<rect x="337.3" y="166.2" width="4.5" height="4.5" fill="#8da0cb"/>
<rect x="340.8" y="295.6" width="4.5" height="4.5" fill="#8da0cb"/>
<circle cx="398.7" cy="268.8" r="2.5" fill="#fc8d62"/>
<circle cx="498.9" cy="304.7" r="2.5" fill="#fc8d62"/>
<path d="M443.2 360.4l3 5.2h-6z" fill="#66c2a5"/>
<path d="M443.6 391.4l3 5.2h-6z" fill="#66c2a5"/>
<rect x="556" y="336.6" width="4.5" height="4.5" fill="#8da0cb"/>
<circle cx="592.6" cy="377.2" r="2.5" fill="#fc8d62"/>
<circle cx="496.6" cy="419.4" r="2.5" fill="#fc8d62"/>
<circle cx="456" cy="258.2" r="2.5" fill="#fc8d62"/>
<circle cx="474" cy="289.6" r="2.5" fill="#fc8d62"/>
<path d="M320 318.3l3 5.2h-6z" fill="#66c2a5"/>
<rect x="440.3" y="327.4" width="4.5" height="4.5" fill="#8da0cb"/>
<circle cx="593.4" cy="257.8" r="2.5" fill="#fc8d62"/>
<rect x="416.6" y="180" width="4.5" height="4.5" fill="#8da0cb"/>
<circle cx="482.1" cy="323.3" r="2.5" fill="#fc8d62"/>
<rect x="470.3" y="201.3" width="4.5" height="4.5" fill="#8da0cb"/>
<circle cx="453.5" cy="333.4" r="2.5" fill="#fc8d62"/>
<path d="M629.9 258.7l3 5.2h-6z" fill="#66c2a5"/>
<circle cx="470.1" cy="428.7" r="2.5" fill="#fc8d62"/>
<path d="M361.5 404.5l3 5.2h-6z" fill="#66c2a5"/>
<path d="M377.5 358.4l3 5.2h-6z" fill="#66c2a5"/>
<rect x="426.1" y="155" width="4.5" height="4.5" fill="#8da0cb"/>
<rect x="383.2" y="124.4" width="4.5" height="4.5" fill="#8da0cb"/>
<rect x="452.9" y="143.1" width="4.5" height="4.5" fill="#8da0cb"/>
<circle cx="556.4" cy="273.4" r="2.5" fill="#fc8d62"/>
<rect x="457.6" y="215.5" width="4.5" height="4.5" fill="#8da0cb"/>
<circle cx="439.1" cy="405.3" r="2.5" fill="#fc8d62"/>
<circle cx="540.8" cy="185.6" r="2.5" fill="#fc8d62"/>
<path d="M436.3 376.7l3 5.2h-6z" fill="#66c2a5"/>
<path d="M467.1 162.6l3 5.2h-6z" fill="#66c2a5"/>
<rect x="360.2" y="269.7" width="4.5" height="4.5" fill="#8da0cb"/>
<circle cx="483.1" cy="475.7" r="2.5" fill="#fc8d62"/>
<circle cx="489.7" cy="219.7" r="2.5" fill="#fc8d62"/>
<circle cx="589.3" cy="207" r="2.5" fill="#fc8d62"/>
<path d="M464.7 329.8l3 5.2h-6z" fill="#66c2a5"/>
<circle cx="566.9" cy="334.8" r="2.5" fill="#fc8d62"/>
<rect x="441.3" y="331.5" width="4.5" height="4.5" fill="#8da0cb"/>
<path d="M460 309.8l3 5.2h-6z" fill="#66c2a5"/>
<circle cx="467.3" cy="227.6" r="2.5" fill="#fc8d62"/>
<rect x="300.7" y="318.6" width="4.5" height="4.5" fill="#8da0cb"/>
<rect x="414.7" y="245.1" width="4.5" height="4.5" fill="#8da0cb"/>
<circle cx="463.9" cy="295.3" r="2.5" fill="#fc8d62"/>
<rect x="489" y="354.5" width="4.5" height="4.5" fill="#8da0cb"/>
<rect x="488.6" y="203.9" width="4.5" height="4.5" fill="#8da0cb"/>
<circle cx="515.1" cy="407.9" r="2.5" fill="#fc8d62"/>
<rect x="513.2" y="336" width="4.5" height="4.5" fill="#8da0cb"/>
<rect x="332.9" y="306.5" width="4.5" height="4.5" fill="#8da0cb"/>
<path d="M503.1 293.1l3 5.2h-6z" fill="#66c2a5"/>
<rect x="335.6" y="267.6" width="4.5" height="4.5" fill="#8da0cb"/>
<circle cx="429.4" cy="344.4" r="2.5" fill="#fc8d62"/>
<rect x="373.8" y="196.8" width="4.5" height="4.5" fill="#8da0cb"/>
<circle cx="535.2" cy="282.7" r="2.5" fill="#fc8d62"/>
<path d="M461 287.2l3 5.2h-6z" fill="#66c2a5"/>
<rect x="267.5" y="369" width="4.5" height="4.5" fill="#8da0cb"/>
<rect x="403.8" y="314.9" width="4.5" height="4.5" fill="#8da0cb"/>
<circle cx="501.6" cy="377.5" r="2.5" fill="#fc8d62"/>
<rect x="427.6" y="296.8" width="4.5" height="4.5" fill="#8da0cb"/>
<circle cx="502" cy="419.8" r="2.5" fill="#fc8d62"/>
<rect x="349.9" y="208.5" width="4.5" height="4.5" fill="#8da0cb"/>
<rect x="368.6" y="247.2" width="4.5" height="4.5" fill="#8da0cb"/>
<rect x="435.9" y="287.6" width="4.5" height="4.5" fill="#8da0cb"/>
<rect x="366.3" y="287.9" width="4.5" height="4.5" fill="#8da0cb"/>
<circle cx="475.3" cy="317.6" r="2.5" fill="#fc8d62"/>
<circle cx="480.1" cy="336.4" r="2.5" fill="#fc8d62"/>
<path d="M514.7 201.3l3 5.2h-6z" fill="#66c2a5"/>
<circle cx="462.3" cy="308.8" r="2.5" fill="#fc8d62"/>
<rect x="368.5" y="204.6" width="4.5" height="4.5" fill="#8da0cb"/>
<rect x="502.6" y="326.5" width="4.5" height="4.5" fill="#8da0cb"/>
<circle cx="490.5" cy="288.3" r="2.5" fill="#fc8d62"/>
<circle cx="454.1" cy="256.2" r="2.5" fill="#fc8d62"/>
<rect x="254" y="348.8" width="4.5" height="4.5" fill="#8da0cb"/>
<path d="M396.7 216.9l3 5.2h-6z" fill="#66c2a5"/>
<circle cx="509.6" cy="372.2" r="2.5" fill="#fc8d62"/>
<path d="M390.3 381.9l3 5.2h-6z" fill="#66c2a5"/>
<circle cx="531.2" cy="290" r="2.5" fill="#fc8d62"/>
<circle cx="478.8" cy="338.6" r="2.5" fill="#fc8d62"/>
<rect x="358" y="252.2" width="4.5" height="4.5" fill="#8da0cb"/>
<rect x="381.5" y="290.5" width="4.5" height="4.5" fill="#8da0cb"/>
<path d="M535.6 248.1l3 5.2h-6z" fill="#66c2a5"/>
<rect x="408.2" y="282.8" width="4.5" height="4.5" fill="#8da0cb"/>
<rect x="373" y="323.5" width="4.5" height="4.5" fill="#8da0cb"/>
<circle cx="568.4" cy="308.7" r="2.5" fill="#fc8d62"/>
<path d="M485 382.5l3 5.2h-6z" fill="#66c2a5"/>
<rect x="339.7" y="330.3" width="4.5" height="4.5" fill="#8da0cb"/>
<rect x="324.4" y="275.3" width="4.5" height="4.5" fill="#8da0cb"/>
<circle cx="495.8" cy="265.8" r="2.5" fill="#fc8d62"/>
<rect x="368.8" y="376.2" width="4.5" height="4.5" fill="#8da0cb"/>
<path d="M462.1 265.2l3 5.2h-6z" fill="#66c2a5"/>
<rect x="336.1" y="340.5" width="4.5" height="4.5" fill="#8da0cb"/>
<path d="M397.4 287.9l3 5.2h-6z" fill="#66c2a5"/>
<rect x="542.7" y="239" width="4.5" height="4.5" fill="#8da0cb"/>
<rect x="447.9" y="229.6" width="4.5" height="4.5" fill="#8da0cb"/>
<path d="M479.2 379.9l3 5.2h-6z" fill="#66c2a5"/>
<circle cx="557" cy="305.6" r="2.5" fill="#fc8d62"/>
<path d="M507.7 390.5l3 5.2h-6z" fill="#66c2a5"/>
<circle cx="497.7" cy="179.7" r="2.5" fill="#fc8d62"/>
<circle cx="491.2" cy="379.8" r="2.5" fill="#fc8d62"/>
<circle cx="369.5" cy="437.4" r="2.5" fill="#fc8d62"/>
<path d="M439.2 273.7l3 5.2h-6z" fill="#66c2a5"/>
<rect x="474.6" y="267" width="4.5" height="4.5" fill="#8da0cb"/>
<path d="M493 240.2l3 5.2h-6z" fill="#66c2a5"/>
<path d="M536.5 268.5l3 5.2h-6z" fill="#66c2a5"/>
<rect x="390.7" y="347.4" width="4.5" height="4.5" fill="#8da0cb"/>
<rect x="412.9" y="234.8" width="4.5" height="4.5" fill="#8da0cb"/>
<path d="M421.2 336.4l3 5.2h-6z" fill="#66c2a5"/>
<rect x="470.4" y="205.1" width="4.5" height="4.5" fill="#8da0cb"/>
<rect x="331.7" y="355.6" width="4.5" height="4.5" fill="#8da0cb"/>
<circle cx="612.5" cy="328" r="2.5" fill="#fc8d62"/>
<rect x="358.8" y="245.7" width="4.5" height="4.5" fill="#8da0cb"/>
<rect x="343.6" y="222.1" width="4.5" height="4.5" fill="#8da0cb"/>
<path d="M423.2 347.3l3 5.2h-6z" fill="#66c2a5"/>
<circle cx="521.2" cy="393.6" r="2.5" fill="#fc8d62"/>
<circle cx="483.8" cy="393.4" r="2.5" fill="#fc8d62"/>
<rect x="331.4" y="366.9" width="4.5" height="4.5" fill="#8da0cb"/>
<rect x="446.6" y="246.9" width="4.5" height="4.5" fill="#8da0cb"/>
<path d="M450.9 273.6l3 5.2h-6z" fill="#66c2a5"/>
<rect x="448.6" y="322.1" width="4.5" height="4.5" fill="#8da0cb"/>
<rect x="425.4" y="287.4" width="4.5" height="4.5" fill="#8da0cb"/>
<path d="M440.2 363.1l3 5.2h-6z" fill="#66c2a5"/>
<path d="M536.4 475.7l3 5.2h-6z" fill="#66c2a5"/>
<path d="M497.5 302.9l3 5.2h-6z" fill="#66c2a5"/>
<circle cx="493.6" cy="362.3" r="2.5" fill="#fc8d62"/>
<rect x="477.8" y="272.4" width="4.5" height="4.5" fill="#8da0cb"/>
<path d="M420.5 405l3 5.2h-6z" fill="#66c2a5"/>
<path d="M489.8 304.8l3 5.2h-6z" fill="#66c2a5"/>
<path d="M504.7 511.1l3 5.2h-6z" fill="#66c2a5"/>
<path d="M427.3 264l3 5.2h-6z" fill="#66c2a5"/>
<rect x="408.8" y="288.6" width="4.5" height="4.5" fill="#8da0cb"/>
<rect x="409.5" y="183.2" width="4.5" height="4.5" fill="#8da0cb"/>
<circle cx="550.6" cy="359" r="2.5" fill="#fc8d62"/>
<circle cx="457.3" cy="308.3" r="2.5" fill="#fc8d62"/>
<rect x="459.4" y="318.3" width="4.5" height="4.5" fill="#8da0cb"/>
<rect x="423.7" y="194.5" width="4.5" height="4.5" fill="#8da0cb"/>
<circle cx="486" cy="404.2" r="2.5" fill="#fc8d62"/>
<rect x="512.8" y="326.5" width="4.5" height="4.5" fill="#8da0cb"/>
<rect x="186.6" y="226.7" width="4.5" height="4.5" fill="#8da0cb"/>
<circle cx="338.1" cy="380.9" r="2.5" fill="#fc8d62"/>
<path d="M393.5 402.1l3 5.2h-6z" fill="#66c2a5"/>
<path d="M538.4 330.7l3 5.2h-6z" fill="#66c2a5"/>
<rect x="452.5" y="397.6" width="4.5" height="4.5" fill="#8da0cb"/>
<circle cx="501.7" cy="258.2" r="2.5" fill="#fc8d62"/>
<path d="M403.4 399.4l3 5.2h-6z" fill="#66c2a5"/>
<rect x="404.3" y="308.7" width="4.5" height="4.5" fill="#8da0cb"/>
<rect x="462" y="299.9" width="4.5" height="4.5" fill="#8da0cb"/>
<rect x="392.2" y="148.6" width="4.5" height="4.5" fill="#8da0cb"/>
<circle cx="533.9" cy="341.7" r="2.5" fill="#fc8d62"/>
<path d="M421 404.6l3 5.2h-6z" fill="#66c2a5"/>
<circle cx="505.5" cy="344.9" r="2.5" fill="#fc8d62"/>
<rect x="401.1" y="306.5" width="4.5" height="4.5" fill="#8da0cb"/>
<rect x="270.8" y="250.2" width="4.5" height="4.5" fill="#8da0cb"/>
<rect x="441.6" y="248.1" width="4.5" height="4.5" fill="#8da0cb"/>
<circle cx="552.1" cy="273.8" r="2.5" fill="#fc8d62"/>
<circle cx="432.6" cy="319.5" r="2.5" fill="#fc8d62"/>
<path d="M464.8 325.1l3 5.2h-6z" fill="#66c2a5"/>
<circle cx="496.8" cy="372" r="2.5" fill="#fc8d62"/>
<rect x="321.5" y="414.3" width="4.5" height="4.5" fill="#8da0cb"/>
<circle cx="473.9" cy="245.4" r="2.5" fill="#fc8d62"/>
<circle cx="507.4" cy="245.9" r="2.5" fill="#fc8d62"/>
<rect x="529.1" y="218.3" width="4.5" height="4.5" fill="#8da0cb"/>
<circle cx="508.4" cy="331.2" r="2.5" fill="#fc8d62"/>
<circle cx="566.1" cy="330.8" r="2.5" fill="#fc8d62"/>
<rect x="442.7" y="346.3" width="4.5" height="4.5" fill="#8da0cb"/>
<rect x="345.3" y="268.9" width="4.5" height="4.5" fill="#8da0cb"/>
<path d="M388.7 344.5l3 5.2h-6z" fill="#66c2a5"/>
<rect x="303.2" y="343" width="4.5" height="4.5" fill="#8da0cb"/>
<path d="M625.5 337l3 5.2h-6z" fill="#66c2a5"/>
<circle cx="524.2" cy="318.9" r="2.5" fill="#fc8d62"/>
<circle cx="481.2" cy="310" r="2.5" fill="#fc8d62"/>
<circle cx="456.1" cy="291.4" r="2.5" fill="#fc8d62"/>
<rect x="296.6" y="271.8" width="4.5" height="4.5" fill="#8da0cb"/>
<path d="M506 301.1l3 5.2h-6z" fill="#66c2a5"/>
<path d="M525.7 287.2l3 5.2h-6z" fill="#66c2a5"/>
<circle cx="546.6" cy="268.3" r="2.5" fill="#fc8d62"/>
<circle cx="453.1" cy="373.4" r="2.5" fill="#fc8d62"/>
<path d="M464.9 280.3l3 5.2h-6z" fill="#66c2a5"/>
<path d="M522.5 310.6l3 5.2h-6z" fill="#66c2a5"/>
<path d="M454.1 276.7l3 5.2h-6z" fill="#66c2a5"/>
<rect x="537.4" y="287.1" width="4.5" height="4.5" fill="#8da0cb"/>
<path d="M492 208.7l3 5.2h-6z" fill="#66c2a5"/>
<circle cx="465.9" cy="199.3" r="2.5" fill="#fc8d62"/>
<rect x="554.5" y="293.7" width="4.5" height="4.5" fill="#8da0cb"/>
<circle cx="486.3" cy="436.2" r="2.5" fill="#fc8d62"/>
<rect x="418.1" y="280.4" width="4.5" height="4.5" fill="#8da0cb"/>
<rect x="371.7" y="347.8" width="4.5" height="4.5" fill="#8da0cb"/>
<rect x="447.6" y="245.8" width="4.5" height="4.5" fill="#8da0cb"/>
<path d="M509.2 462.5l3 5.2h-6z" fill="#66c2a5"/>
<circle cx="516.1" cy="194.2" r="2.5" fill="#fc8d62"/>
<path d="M537 176.9l3 5.2h-6z" fill="#66c2a5"/>
<rect x="499.5" y="278.1" width="4.5" height="4.5" fill="#8da0cb"/>
<rect x="361.7" y="292.5" width="4.5" height="4.5" fill="#8da0cb"/>
<path d="M509.6 312.6l3 5.2h-6z" fill="#66c2a5"/>
<circle cx="406.2" cy="251.2" r="2.5" fill="#fc8d62"/>
<circle cx="485.4" cy="408.1" r="2.5" fill="#fc8d62"/>
<rect x="420.6" y="281.9" width="4.5" height="4.5" fill="#8da0cb"/>
<rect x="383.4" y="280.3" width="4.5" height="4.5" fill="#8da0cb"/>
<rect x="451.1" y="265.7" width="4.5" height="4.5" fill="#8da0cb"/>
<path d="M574.2 351.3l3 5.2h-6z" fill="#66c2a5"/>
<circle cx="435.4" cy="266.8" r="2.5" fill="#fc8d62"/>
<rect x="467.8" y="244.3" width="4.5" height="4.5" fill="#8da0cb"/>
<path d="M683.7 453.6l3 5.2h-6z" fill="#66c2a5"/>
<rect x="372.9" y="250.6" width="4.5" height="4.5" fill="#8da0cb"/>
<circle cx="577.3" cy="290.1" r="2.5" fill="#fc8d62"/>
<path d="M467.9 339.8l3 5.2h-6z" fill="#66c2a5"/>
<rect x="589.5" y="252.9" width="4.5" height="4.5" fill="#8da0cb"/>
<rect x="408.4" y="249.3" width="4.5" height="4.5" fill="#8da0cb"/>
<rect x="334.4" y="246" width="4.5" height="4.5" fill="#8da0cb"/>
<path d="M494.7 254.6l3 5.2h-6z" fill="#66c2a5"/>
<circle cx="522.4" cy="275.5" r="2.5" fill="#fc8d62"/>
<path d="M390 255.9l3 5.2h-6z" fill="#66c2a5"/>
<rect x="397.5" y="247.3" width="4.5" height="4.5" fill="#8da0cb"/>
<circle cx="560.6" cy="235.1" r="2.5" fill="#fc8d62"/>
<path d="M413.7 392.3l3 5.2h-6z" fill="#66c2a5"/>
<circle cx="453.5" cy="233.2" r="2.5" fill="#fc8d62"/>
<path d="M513.2 330l3 5.2h-6z" fill="#66c2a5"/>
<circle cx="439.3" cy="297.2" r="2.5" fill="#fc8d62"/>
<path d="M400.6 417.3l3 5.2h-6z" fill="#66c2a5"/>
<path d="M381.2 277.8l3 5.2h-6z" fill="#66c2a5"/>
<path d="M497.7 283.1l3 5.2h-6z" fill="#66c2a5"/>
<rect x="390.7" y="258" width="4.5" height="4.5" fill="#8da0cb"/>
<rect x="570" y="317.7" width="4.5" height="4.5" fill="#8da0cb"/>
<rect x="467.2" y="178" width="4.5" height="4.5" fill="#8da0cb"/>
<path d="M477.8 123.5l3 5.2h-6z" fill="#66c2a5"/>
<circle cx="573.6" cy="275.3" r="2.5" fill="#fc8d62"/>
<path d="M452.6 328.2l3 5.2h-6z" fill="#66c2a5"/>
<path d="M566.1 231.5l3 5.2h-6z" fill="#66c2a5"/>
<circle cx="469.1" cy="363.6" r="2.5" fill="#fc8d62"/>
<rect x="441.3" y="259.8" width="4.5" height="4.5" fill="#8da0cb"/>
<rect x="319.1" y="267.2" width="4.5" height="4.5" fill="#8da0cb"/>
<path d="M471.3 341.4l3 5.2h-6z" fill="#66c2a5"/>
<path d="M360.5 256.4l3 5.2h-6z" fill="#66c2a5"/>
<path d="M551.5 342.5l3 5.2h-6z" fill="#66c2a5"/>
<rect x="280.9" y="236" width="4.5" height="4.5" fill="#8da0cb"/>
<path d="M461.6 306.5l3 5.2h-6z" fill="#66c2a5"/>
<circle cx="641.2" cy="327.5" r="2.5" fill="#fc8d62"/>
<circle cx="501.1" cy="384.9" r="2.5" fill="#fc8d62"/>
<path d="M465.5 359.8l3 5.2h-6z" fill="#66c2a5"/>
<circle cx="547.6" cy="292.6" r="2.5" fill="#fc8d62"/>
<rect x="397.1" y="307.7" width="4.5" height="4.5" fill="#8da0cb"/>
<path d="M493 349.3l3 5.2h-6z" fill="#66c2a5"/>
<path d="M526.6 213l3 5.2h-6z" fill="#66c2a5"/>
<rect x="381.8" y="283.8" width="4.5" height="4.5" fill="#8da0cb"/>
<circle cx="502.4" cy="305.7" r="2.5" fill="#fc8d62"/>
<circle cx="498.1" cy="316.3" r="2.5" fill="#fc8d62"/>
<path d="M423.2 347.6l3 5.2h-6z" fill="#66c2a5"/>
<rect x="346.8" y="259.6" width="4.5" height="4.5" fill="#8da0cb"/>
<path d="M641 323.6l3 5.2h-6z" fill="#66c2a5"/>
<path d="M392 314.8l3 5.2h-6z" fill="#66c2a5"/>
<path d="M528.1 347.7l3 5.2h-6z" fill="#66c2a5"/>
<circle cx="559.2" cy="241.1" r="2.5" fill="#fc8d62"/>
<rect x="380.1" y="282.3" width="4.5" height="4.5" fill="#8da0cb"/>
<circle cx="542.3" cy="360.2" r="2.5" fill="#fc8d62"/>
<path d="M418.5 393.4l3 5.2h-6z" fill="#66c2a5"/>
<path d="M510.1 246.7l3 5.2h-6z" fill="#66c2a5"/>
<path d="M482.9 289.1l3 5.2h-6z" fill="#66c2a5"/>
<path d="M454.3 301.9l3 5.2h-6z" fill="#66c2a5"/>
<path d="M539.2 388.2l3 5.2h-6z" fill="#66c2a5"/>
<rect x="412.7" y="328" width="4.5" height="4.5" fill="#8da0cb"/>
<path d="M588.3 337.7l3 5.2h-6z" fill="#66c2a5"/>
<path d="M483.8 263l3 5.2h-6z" fill="#66c2a5"/>
<circle cx="462.5" cy="394.2" r="2.5" fill="#fc8d62"/>
<circle cx="624.9" cy="229.8" r="2.5" fill="#fc8d62"/>
<path d="M499.8 251.8l3 5.2h-6z" fill="#66c2a5"/>
<path d="M407.5 310.4l3 5.2h-6z" fill="#66c2a5"/>
<path d="M477.6 246.8l3 5.2h-6z" fill="#66c2a5"/>
<circle cx="497.9" cy="368.3" r="2.5" fill="#fc8d62"/>
<rect x="532.8" y="363.1" width="4.5" height="4.5" fill="#8da0cb"/>
<rect x="299.1" y="244" width="4.5" height="4.5" fill="#8da0cb"/>
<circle cx="572.9" cy="245.2" r="2.5" fill="#fc8d62"/>
<circle cx="629.3" cy="377.4" r="2.5" fill="#fc8d62"/>
<rect x="394.8" y="212.6" width="4.5" height="4.5" fill="#8da0cb"/>
<path d="M442.3 339.1l3 5.2h-6z" fill="#66c2a5"/>
<path d="M385.7 270.6l3 5.2h-6z" fill="#66c2a5"/>
<circle cx="436.2" cy="317.4" r="2.5" fill="#fc8d62"/>
<rect x="324.6" y="310.1" width="4.5" height="4.5" fill="#8da0cb"/>
<circle cx="538.3" cy="443.2" r="2.5" fill="#fc8d62"/>
<circle cx="420.4" cy="407.5" r="2.5" fill="#fc8d62"/>
<circle cx="490.8" cy="291.9" r="2.5" fill="#fc8d62"/>
<circle cx="395.4" cy="337.4" r="2.5" fill="#fc8d62"/>
<rect x="398.5" y="314.5" width="4.5" height="4.5" fill="#8da0cb"/>
<rect x="465.3" y="258.5" width="4.5" height="4.5" fill="#8da0cb"/>
<rect x="397.7" y="318.3" width="4.5" height="4.5" fill="#8da0cb"/>
<rect x="456.4" y="195.2" width="4.5" height="4.5" fill="#8da0cb"/>
<circle cx="503.8" cy="404.2" r="2.5" fill="#fc8d62"/>
<circle cx="565.7" cy="252.7" r="2.5" fill="#fc8d62"/>
<rect x="438" y="280.2" width="4.5" height="4.5" fill="#8da0cb"/>
<path d="M459.5 266.6l3 5.2h-6z" fill="#66c2a5"/>
<circle cx="466.7" cy="362.7" r="2.5" fill="#fc8d62"/>
<circle cx="623.8" cy="348.3" r="2.5" fill="#fc8d62"/>
<circle cx="526.2" cy="316.7" r="2.5" fill="#fc8d62"/>
<circle cx="551.1" cy="288.3" r="2.5" fill="#fc8d62"/>
<rect x="412.8" y="240.4" width="4.5" height="4.5" fill="#8da0cb"/>
<rect x="371.9" y="327" width="4.5" height="4.5" fill="#8da0cb"/>
<circle cx="519.8" cy="323.4" r="2.5" fill="#fc8d62"/>
<circle cx="553.3" cy="307.8" r="2.5" fill="#fc8d62"/>
<path d="M581.7 182.1l3 5.2h-6z" fill="#66c2a5"/>
<circle cx="548.6" cy="243.4" r="2.5" fill="#fc8d62"/>
<circle cx="565.4" cy="409.6" r="2.5" fill="#fc8d62"/>
<circle cx="513.2" cy="303.1" r="2.5" fill="#fc8d62"/>
<rect x="329.2" y="307.2" width="4.5" height="4.5" fill="#8da0cb"/>
<path d="M524 303.9l3 5.2h-6z" fill="#66c2a5"/>
<rect x="482.3" y="267.7" width="4.5" height="4.5" fill="#8da0cb"/>
<circle cx="446.7" cy="331.1" r="2.5" fill="#fc8d62"/>
<circle cx="392.4" cy="306" r="2.5" fill="#fc8d62"/>
<path d="M516 380.8l3 5.2h-6z" fill="#66c2a5"/>
<rect x="408" y="292.1" width="4.5" height="4.5" fill="#8da0cb"/>
<path d="M537.9 280l3 5.2h-6z" fill="#66c2a5"/>
<rect x="317" y="277.8" width="4.5" height="4.5" fill="#8da0cb"/>
<rect x="361.5" y="216.4" width="4.5" height="4.5" fill="#8da0cb"/>
<rect x="429.7" y="201.3" width="4.5" height="4.5" fill="#8da0cb"/>
<path d="M530.2 349l3 5.2h-6z" fill="#66c2a5"/>
<path d="M575.8 330.2l3 5.2h-6z" fill="#66c2a5"/>
<path d="M377.6 444.2l3 5.2h-6z" fill="#66c2a5"/>
<rect x="408.9" y="204.2" width="4.5" height="4.5" fill="#8da0cb"/>
<path d="M446.4 360.4l3 5.2h-6z" fill="#66c2a5"/>
<rect x="406.5" y="222.8" width="4.5" height="4.5" fill="#8da0cb"/>
<circle cx="456.5" cy="521.7" r="2.5" fill="#fc8d62"/>
<path d="M523.7 323l3 5.2h-6z" fill="#66c2a5"/>
<circle cx="543.1" cy="247.4" r="2.5" fill="#fc8d62"/>
<circle cx="631.8" cy="265.4" r="2.5" fill="#fc8d62"/>
<path d="M426.8 345.4l3 5.2h-6z" fill="#66c2a5"/>
<rect x="383.6" y="306.6" width="4.5" height="4.5" fill="#8da0cb"/>
<path d="M406.9 226.4l3 5.2h-6z" fill="#66c2a5"/>
<rect x="407" y="187.4" width="4.5" height="4.5" fill="#8da0cb"/>
<circle cx="463.7" cy="237" r="2.5" fill="#fc8d62"/>
<circle cx="503.7" cy="267" r="2.5" fill="#fc8d62"/>
<circle cx="566.1" cy="352.4" r="2.5" fill="#fc8d62"/>
<rect x="307.3" y="281" width="4.5" height="4.5" fill="#8da0cb"/>
<path d="M455.7 396l3 5.2h-6z" fill="#66c2a5"/>
<circle cx="500.3" cy="281.2" r="2.5" fill="#fc8d62"/>
<rect x="367" y="298.2" width="4.5" height="4.5" fill="#8da0cb"/>
<rect x="372.5" y="472.5" width="4.5" height="4.5" fill="#8da0cb"/>
<rect x="520.1" y="120" width="4.5" height="4.5" fill="#8da0cb"/>
<circle cx="384.9" cy="533" r="2.5" fill="#fc8d62"/>
<rect x="305.6" y="306.4" width="4.5" height="4.5" fill="#8da0cb"/>
<path d="M439.7 396.8l3 5.2h-6z" fill="#66c2a5"/>
<rect x="342.4" y="259.4" width="4.5" height="4.5" fill="#8da0cb"/>
<rect x="400.2" y="188.5" width="4.5" height="4.5" fill="#8da0cb"/>
<rect x="300.5" y="350.2" width="4.5" height="4.5" fill="#8da0cb"/>
<circle cx="568" cy="299.5" r="2.5" fill="#fc8d62"/>
<path d="M357.3 329.8l3 5.2h-6z" fill="#66c2a5"/>
<circle cx="473.8" cy="321.9" r="2.5" fill="#fc8d62"/>
<path d="M392.6 402.2l3 5.2h-6z" fill="#66c2a5"/>
<circle cx="404.3" cy="442.2" r="2.5" fill="#fc8d62"/>
<circle cx="377.6" cy="403.4" r="2.5" fill="#fc8d62"/>
<rect x="489.8" y="252.6" width="4.5" height="4.5" fill="#8da0cb"/>
<path d="M378.5 270.4l3 5.2h-6z" fill="#66c2a5"/>
<path d="M479.3 257.8l3 5.2h-6z" fill="#66c2a5"/>
<rect x="449.8" y="61.6" width="4.5" height="4.5" fill="#8da0cb"/>
<circle cx="524.3" cy="213.4" r="2.5" fill="#fc8d62"/>
<circle cx="555.2" cy="369.1" r="2.5" fill="#fc8d62"/>
<circle cx="450.7" cy="460.9" r="2.5" fill="#fc8d62"/>
<circle cx="356" cy="301.5" r="2.5" fill="#fc8d62"/>
<rect x="520.4" y="290" width="4.5" height="4.5" fill="#8da0cb"/>
<path d="M439.1 243.7l3 5.2h-6z" fill="#66c2a5"/>
<circle cx="545.7" cy="421.3" r="2.5" fill="#fc8d62"/>
<circle cx="590.6" cy="254.3" r="2.5" fill="#fc8d62"/>
<circle cx="612.6" cy="185.6" r="2.5" fill="#fc8d62"/>
<path d="M549.2 310.2l3 5.2h-6z" fill="#66c2a5"/>
<path d="M493.1 338l3 5.2h-6z" fill="#66c2a5"/>
<circle cx="485.1" cy="261.4" r="2.5" fill="#fc8d62"/>
<path d="M390 366.2l3 5.2h-6z" fill="#66c2a5"/>
<rect x="352.3" y="268.5" width="4.5" height="4.5" fill="#8da0cb"/>
<rect x="458.6" y="303.3" width="4.5" height="4.5" fill="#8da0cb"/>
<circle cx="567.8" cy="196.5" r="2.5" fill="#fc8d62"/>
<rect x="380.9" y="302.9" width="4.5" height="4.5" fill="#8da0cb"/>
<rect x="504.4" y="311.9" width="4.5" height="4.5" fill="#8da0cb"/>
<rect x="310.3" y="187.7" width="4.5" height="4.5" fill="#8da0cb"/>
<rect x="277.4" y="199" width="4.5" height="4.5" fill="#8da0cb"/>
<path d="M599.9 296.2l3 5.2h-6z" fill="#66c2a5"/>
<circle cx="606.9" cy="287.4" r="2.5" fill="#fc8d62"/>
<rect x="383.5" y="220" width="4.5" height="4.5" fill="#8da0cb"/>
<circle cx="485.5" cy="311.5" r="2.5" fill="#fc8d62"/>
<rect x="368.4" y="172" width="4.5" height="4.5" fill="#8da0cb"/>
<path d="M391.8 127.4l3 5.2h-6z" fill="#66c2a5"/>
<circle cx="557.9" cy="363.7" r="2.5" fill="#fc8d62"/>
<circle cx="513" cy="293.8" r="2.5" fill="#fc8d62"/>
<path d="M500.4 298.1l3 5.2h-6z" fill="#66c2a5"/>
<path d="M468 297.8l3 5.2h-6z" fill="#66c2a5"/>
<path d="M419.6 279l3 5.2h-6z" fill="#66c2a5"/>
<circle cx="473.8" cy="299.9" r="2.5" fill="#fc8d62"/>
<circle cx="572.6" cy="334.5" r="2.5" fill="#fc8d62"/>
<path d="M484.7 218.5l3 5.2h-6z" fill="#66c2a5"/>
<circle cx="480.8" cy="363.3" r="2.5" fill="#fc8d62"/>
<path d="M580.1 402.1l3 5.2h-6z" fill="#66c2a5"/>
<path d="M509.7 260.5l3 5.2h-6z" fill="#66c2a5"/>
<circle cx="376.4" cy="400.2" r="2.5" fill="#fc8d62"/>
<rect x="375" y="291.5" width="4.5" height="4.5" fill="#8da0cb"/>
<rect x="368.5" y="290.5" width="4.5" height="4.5" fill="#8da0cb"/>
<rect x="374.4" y="221.2" width="4.5" height="4.5" fill="#8da0cb"/>
<path d="M526.6 352.7l3 5.2h-6z" fill="#66c2a5"/>
<rect x="461.8" y="256.8" width="4.5" height="4.5" fill="#8da0cb"/>
<path d="M548.3 316.3l3 5.2h-6z" fill="#66c2a5"/>
<circle cx="513.3" cy="443.2" r="2.5" fill="#fc8d62"/>
<rect x="483.2" y="278.5" width="4.5" height="4.5" fill="#8da0cb"/>
<rect x="498.7" y="228.8" width="4.5" height="4.5" fill="#8da0cb"/>
<path d="M383.4 364.9l3 5.2h-6z" fill="#66c2a5"/>
<path d="M460.5 330.1l3 5.2h-6z" fill="#66c2a5"/>
<circle cx="406" cy="206.1" r="2.5" fill="#fc8d62"/>
<rect x="262.9" y="325.7" width="4.5" height="4.5" fill="#8da0cb"/>
<circle cx="577.2" cy="215.3" r="2.5" fill="#fc8d62"/>
<path d="M565.8 256.9l3 5.2h-6z" fill="#66c2a5"/>
<path d="M420.9 222.3l3 5.2h-6z" fill="#66c2a5"/>
<rect x="340" y="320.4" width="4.5" height="4.5" fill="#8da0cb"/>
<circle cx="422.4" cy="395.5" r="2.5" fill="#fc8d62"/>
<circle cx="595.2" cy="299.1" r="2.5" fill="#fc8d62"/>
<circle cx="583.7" cy="292.1" r="2.5" fill="#fc8d62"/>
<path d="M544.4 293.4l3 5.2h-6z" fill="#66c2a5"/>
<rect x="475.8" y="227.5" width="4.5" height="4.5" fill="#8da0cb"/>
<path d="M278.5 532.9l3 5.2h-6z" fill="#66c2a5"/>
<rect x="466.3" y="210.8" width="4.5" height="4.5" fill="#8da0cb"/>
<circle cx="591.8" cy="248.8" r="2.5" fill="#fc8d62"/>
<path d="M492.6 337.6l3 5.2h-6z" fill="#66c2a5"/>
<rect x="427.3" y="235" width="4.5" height="4.5" fill="#8da0cb"/>
<path d="M422.4 331l3 5.2h-6z" fill="#66c2a5"/>
<rect x="364.6" y="191.7" width="4.5" height="4.5" fill="#8da0cb"/>
<rect x="321.4" y="373.3" width="4.5" height="4.5" fill="#8da0cb"/>
<rect x="491.8" y="226.5" width="4.5" height="4.5" fill="#8da0cb"/>
<path d="M395 291.8l3 5.2h-6z" fill="#66c2a5"/>
<path d="M494.3 304.8l3 5.2h-6z" fill="#66c2a5"/>
<rect x="368.4" y="208.9" width="4.5" height="4.5" fill="#8da0cb"/>
<rect x="366" y="285.5" width="4.5" height="4.5" fill="#8da0cb"/>
<rect x="393.9" y="217.6" width="4.5" height="4.5" fill="#8da0cb"/>
<circle cx="489.7" cy="246.6" r="2.5" fill="#fc8d62"/>
<rect x="443.3" y="202.2" width="4.5" height="4.5" fill="#8da0cb"/>
<path d="M519.1 288.4l3 5.2h-6z" fill="#66c2a5"/>
<circle cx="468.8" cy="241.9" r="2.5" fill="#fc8d62"/>
<circle cx="425.4" cy="484.6" r="2.5" fill="#fc8d62"/>
<rect x="362.3" y="350.3" width="4.5" height="4.5" fill="#8da0cb"/>
<circle cx="561.6" cy="409.4" r="2.5" fill="#fc8d62"/>
<rect x="461.9" y="273.9" width="4.5" height="4.5" fill="#8da0cb"/>
<path d="M369.2 467.7l3 5.2h-6z" fill="#66c2a5"/>
<circle cx="573.3" cy="267.8" r="2.5" fill="#fc8d62"/>
<path d="M530.9 227.8l3 5.2h-6z" fill="#66c2a5"/>
<rect x="546.2" y="289.9" width="4.5" height="4.5" fill="#8da0cb"/>
<path d="M446.4 391.9l3 5.2h-6z" fill="#66c2a5"/>
<path d="M506.4 272l3 5.2h-6z" fill="#66c2a5"/>
<path d="M348.9 294.3l3 5.2h-6z" fill="#66c2a5"/>
<path d="M450.3 311.3l3 5.2h-6z" fill="#66c2a5"/>
<path d="M479.1 362.8l3 5.2h-6z" fill="#66c2a5"/>
<circle cx="590.1" cy="321.2" r="2.5" fill="#fc8d62"/>
<path d="M523.2 297.3l3 5.2h-6z" fill="#66c2a5"/>
<path d="M487.9 250.6l3 5.2h-6z" fill="#66c2a5"/>
<rect x="424.6" y="217.2" width="4.5" height="4.5" fill="#8da0cb"/>
<rect x="332.7" y="246.7" width="4.5" height="4.5" fill="#8da0cb"/>
<path d="M448.7 331.3l3 5.2h-6z" fill="#66c2a5"/>
<circle cx="445.8" cy="294.2" r="2.5" fill="#fc8d62"/>
<circle cx="515.8" cy="353.2" r="2.5" fill="#fc8d62"/>
<path d="M460.2 265l3 5.2h-6z" fill="#66c2a5"/>
<circle cx="439.3" cy="200.2" r="2.5" fill="#fc8d62"/>
<circle cx="484.2" cy="303" r="2.5" fill="#fc8d62"/>
<rect x="348.2" y="265.5" width="4.5" height="4.5" fill="#8da0cb"/>
<rect x="404.4" y="203.7" width="4.5" height="4.5" fill="#8da0cb"/>
<rect x="373.8" y="307" width="4.5" height="4.5" fill="#8da0cb"/>
<circle cx="427.9" cy="263" r="2.5" fill="#fc8d62"/>
<circle cx="520" cy="310.9" r="2.5" fill="#fc8d62"/>
<path d="M413.7 286.8l3 5.2h-6z" fill="#66c2a5"/>
<rect x="576.9" y="189.7" width="4.5" height="4.5" fill="#8da0cb"/>
<path d="M467.4 347.4l3 5.2h-6z" fill="#66c2a5"/>
<path d="M491.2 379l3 5.2h-6z" fill="#66c2a5"/>
<rect x="273.4" y="281.7" width="4.5" height="4.5" fill="#8da0cb"/>
<circle cx="527.6" cy="283.4" r="2.5" fill="#fc8d62"/>
<path d="M389.9 281l3 5.2h-6z" fill="#66c2a5"/>
<rect x="527.1" y="236.5" width="4.5" height="4.5" fill="#8da0cb"/>
<path d="M480.5 321.1l3 5.2h-6z" fill="#66c2a5"/>
<circle cx="521.1" cy="316.1" r="2.5" fill="#fc8d62"/>
<rect x="283.3" y="288.7" width="4.5" height="4.5" fill="#8da0cb"/>
<circle cx="552.4" cy="291.1" r="2.5" fill="#fc8d62"/>
<circle cx="496" cy="297.4" r="2.5" fill="#fc8d62"/>
<path d="M470.4 270.5l3 5.2h-6z" fill="#66c2a5"/>
<rect x="265" y="232.6" width="4.5" height="4.5" fill="#8da0cb"/>
<circle cx="401" cy="311.7" r="2.5" fill="#fc8d62"/>
<path d="M559.5 339.1l3 5.2h-6z" fill="#66c2a5"/>
<rect x="337.9" y="278.7" width="4.5" height="4.5" fill="#8da0cb"/>
<rect x="434.8" y="308.8" width="4.5" height="4.5" fill="#8da0cb"/>
<rect x="492.1" y="295.7" width="4.5" height="4.5" fill="#8da0cb"/>
<circle cx="534.9" cy="400.4" r="2.5" fill="#fc8d62"/>
<rect x="341.6" y="306.3" width="4.5" height="4.5" fill="#8da0cb"/>
<circle cx="542.2" cy="347.7" r="2.5" fill="#fc8d62"/>
<path d="M427.1 342.4l3 5.2h-6z" fill="#66c2a5"/>
<path d="M492.2 207.2l3 5.2h-6z" fill="#66c2a5"/>
<path d="M516.9 326l3 5.2h-6z" fill="#66c2a5"/>
<circle cx="431.1" cy="299.2" r="2.5" fill="#fc8d62"/>
<circle cx="587.7" cy="226.3" r="2.5" fill="#fc8d62"/>
<path d="M381 318.1l3 5.2h-6z" fill="#66c2a5"/>
<path d="M459.7 312.5l3 5.2h-6z" fill="#66c2a5"/>
<path d="M551.2 325.7l3 5.2h-6z" fill="#66c2a5"/>
<circle cx="535.8" cy="256.3" r="2.5" fill="#fc8d62"/>
<rect x="472.3" y="217.3" width="4.5" height="4.5" fill="#8da0cb"/>
<circle cx="635.7" cy="215.3" r="2.5" fill="#fc8d62"/>
<path d="M487.5 382.7l3 5.2h-6z" fill="#66c2a5"/>
<rect x="441.2" y="403.4" width="4.5" height="4.5" fill="#8da0cb"/>
<circle cx="498.8" cy="269.9" r="2.5" fill="#fc8d62"/>
<circle cx="600.4" cy="260.7" r="2.5" fill="#fc8d62"/>
<circle cx="469.3" cy="351.5" r="2.5" fill="#fc8d62"/>
<path d="M439.4 353.1l3 5.2h-6z" fill="#66c2a5"/>
<rect x="429.1" y="292.1" width="4.5" height="4.5" fill="#8da0cb"/>
<rect x="402.6" y="190.8" width="4.5" height="4.5" fill="#8da0cb"/>
<circle cx="514.2" cy="292.2" r="2.5" fill="#fc8d62"/>
<circle cx="669.9" cy="270" r="2.5" fill="#fc8d62"/>
<path d="M421.5 209.8l3 5.2h-6z" fill="#66c2a5"/>
<circle cx="417.1" cy="383" r="2.5" fill="#fc8d62"/>
<circle cx="479.2" cy="443.4" r="2.5" fill="#fc8d62"/>
<path d="M435.3 144.6l3 5.2h-6z" fill="#66c2a5"/>
<circle cx="416.4" cy="385.1" r="2.5" fill="#fc8d62"/>
<circle cx="571.3" cy="244.1" r="2.5" fill="#fc8d62"/>
<path d="M415.9 342.3l3 5.2h-6z" fill="#66c2a5"/>
<circle cx="533.1" cy="317.2" r="2.5" fill="#fc8d62"/>
<path d="M483 310l3 5.2h-6z" fill="#66c2a5"/>
<rect x="437.3" y="283" width="4.5" height="4.5" fill="#8da0cb"/>
<path d="M489.7 215.4l3 5.2h-6z" fill="#66c2a5"/>
<circle cx="487.3" cy="482.9" r="2.5" fill="#fc8d62"/>
<rect x="411.4" y="321.8" width="4.5" height="4.5" fill="#8da0cb"/>
<rect x="322.8" y="115" width="4.5" height="4.5" fill="#8da0cb"/>
<path d="M557.8 212.7l3 5.2h-6z" fill="#66c2a5"/>
<path d="M358.9 246.7l3 5.2h-6z" fill="#66c2a5"/>
<rect x="519.2" y="292" width="4.5" height="4.5" fill="#8da0cb"/>
<rect x="341.8" y="359.9" width="4.5" height="4.5" fill="#8da0cb"/>
<path d="M504.8 253.8l3 5.2h-6z" fill="#66c2a5"/>
<path d="M558.3 258.8l3 5.2h-6z" fill="#66c2a5"/>
<path d="M512.6 291.3l3 5.2h-6z" fill="#66c2a5"/>
<rect x="434.9" y="179.6" width="4.5" height="4.5" fill="#8da0cb"/>
<rect x="483.2" y="229.9" width="4.5" height="4.5" fill="#8da0cb"/>
<rect x="526.2" y="250.9" width="4.5" height="4.5" fill="#8da0cb"/>
<rect x="513.9" y="234" width="4.5" height="4.5" fill="#8da0cb"/>
<circle cx="584.6" cy="306.9" r="2.5" fill="#fc8d62"/>
<circle cx="516.7" cy="331.4" r="2.5" fill="#fc8d62"/>
<path d="M480 385l3 5.2h-6z" fill="#66c2a5"/>
<rect x="341.3" y="296.3" width="4.5" height="4.5" fill="#8da0cb"/>
<rect x="556.2" y="262.3" width="4.5" height="4.5" fill="#8da0cb"/>
<rect x="375.8" y="332.3" width="4.5" height="4.5" fill="#8da0cb"/>
<circle cx="547.3" cy="246" r="2.5" fill="#fc8d62"/>
<path d="M486.2 361l3 5.2h-6z" fill="#66c2a5"/>
<path d="M388.3 252.9l3 5.2h-6z" fill="#66c2a5"/>
<rect x="485.8" y="365.7" width="4.5" height="4.5" fill="#8da0cb"/>
<path d="M453.8 300.2l3 5.2h-6z" fill="#66c2a5"/>
<path d="M473.5 346.1l3 5.2h-6z" fill="#66c2a5"/>
<circle cx="541.3" cy="329.5" r="2.5" fill="#fc8d62"/>
<circle cx="484.9" cy="376.6" r="2.5" fill="#fc8d62"/>
<circle cx="513.1" cy="368.2" r="2.5" fill="#fc8d62"/>
<rect x="340.6" y="233.7" width="4.5" height="4.5" fill="#8da0cb"/>
<rect x="397.8" y="266.2" width="4.5" height="4.5" fill="#8da0cb"/>
<rect x="342.8" y="245" width="4.5" height="4.5" fill="#8da0cb"/>
<rect x="495.3" y="279.4" width="4.5" height="4.5" fill="#8da0cb"/>
<circle cx="498.5" cy="385.2" r="2.5" fill="#fc8d62"/>
<circle cx="496.3" cy="183" r="2.5" fill="#fc8d62"/>
<rect x="332.6" y="204.1" width="4.5" height="4.5" fill="#8da0cb"/>
<circle cx="418.6" cy="407.7" r="2.5" fill="#fc8d62"/>
<rect x="419.6" y="212.3" width="4.5" height="4.5" fill="#8da0cb"/>
<path d="M463.2 425.6l3 5.2h-6z" fill="#66c2a5"/>
<path d="M364.9 412l3 5.2h-6z" fill="#66c2a5"/>
<path d="M593 372.5l3 5.2h-6z" fill="#66c2a5"/>
<circle cx="473.7" cy="385.3" r="2.5" fill="#fc8d62"/>
<path d="M599.9 344.4l3 5.2h-6z" fill="#66c2a5"/>
<path d="M515.4 373.4l3 5.2h-6z" fill="#66c2a5"/>
<path d="M517.3 250.9l3 5.2h-6z" fill="#66c2a5"/>
<circle cx="430.3" cy="396.5" r="2.5" fill="#fc8d62"/>
<circle cx="556.7" cy="351.3" r="2.5" fill="#fc8d62"/>
<path d="M337.3 373.3l3 5.2h-6z" fill="#66c2a5"/>
<rect x="475.7" y="201.5" width="4.5" height="4.5" fill="#8da0cb"/>
<circle cx="594.3" cy="302.9" r="2.5" fill="#fc8d62"/>
<rect x="366.7" y="176.2" width="4.5" height="4.5" fill="#8da0cb"/>
<circle cx="599" cy="240" r="2.5" fill="#fc8d62"/>
<rect x="448.2" y="224.2" width="4.5" height="4.5" fill="#8da0cb"/>
<circle cx="574" cy="396.5" r="2.5" fill="#fc8d62"/>
<rect x="524.6" y="118.1" width="4.5" height="4.5" fill="#8da0cb"/>
<circle cx="485.3" cy="405.5" r="2.5" fill="#fc8d62"/>
<rect x="432.9" y="328.4" width="4.5" height="4.5" fill="#8da0cb"/>
<rect x="446.1" y="284.5" width="4.5" height="4.5" fill="#8da0cb"/>
<circle cx="488.6" cy="344.3" r="2.5" fill="#fc8d62"/>
<rect x="507" y="253.9" width="4.5" height="4.5" fill="#8da0cb"/>
<rect x="318.3" y="261.8" width="4.5" height="4.5" fill="#8da0cb"/>
<circle cx="549.2" cy="277.7" r="2.5" fill="#fc8d62"/>
<rect x="593.6" y="150.2" width="4.5" height="4.5" fill="#8da0cb"/>
<circle cx="365.4" cy="371.5" r="2.5" fill="#fc8d62"/>
<rect x="328.8" y="228.2" width="4.5" height="4.5" fill="#8da0cb"/>
<rect x="430.3" y="216.1" width="4.5" height="4.5" fill="#8da0cb"/>
<path d="M480.5 309.1l3 5.2h-6z" fill="#66c2a5"/>
<path d="M485.9 276.3l3 5.2h-6z" fill="#66c2a5"/>
<path d="M610.8 395.4l3 5.2h-6z" fill="#66c2a5"/>
<circle cx="438.3" cy="344.3" r="2.5" fill="#fc8d62"/>
<path d="M609.8 336l3 5.2h-6z" fill="#66c2a5"/>
<circle cx="518.9" cy="270.3" r="2.5" fill="#fc8d62"/>
<circle cx="474" cy="172.8" r="2.5" fill="#fc8d62"/>
<rect x="390.7" y="271.2" width="4.5" height="4.5" fill="#8da0cb"/>
<rect x="344.2" y="339.8" width="4.5" height="4.5" fill="#8da0cb"/>
<path d="M475.2 300l3 5.2h-6z" fill="#66c2a5"/>
<path d="M519.8 386.6l3 5.2h-6z" fill="#66c2a5"/>
<path d="M551.9 268l3 5.2h-6z" fill="#66c2a5"/>
<circle cx="470.8" cy="396.8" r="2.5" fill="#fc8d62"/>
<circle cx="493.9" cy="200.7" r="2.5" fill="#fc8d62"/>
<rect x="421.7" y="399.7" width="4.5" height="4.5" fill="#8da0cb"/>
<circle cx="461.1" cy="219.3" r="2.5" fill="#fc8d62"/>
<rect x="403.6" y="359" width="4.5" height="4.5" fill="#8da0cb"/>
<path d="M586.6 371.3l3 5.2h-6z" fill="#66c2a5"/>
<rect x="360.7" y="278.1" width="4.5" height="4.5" fill="#8da0cb"/>
<rect x="414.3" y="139.1" width="4.5" height="4.5" fill="#8da0cb"/>
<rect x="360.5" y="271.4" width="4.5" height="4.5" fill="#8da0cb"/>
<path d="M634 308.4l3 5.2h-6z" fill="#66c2a5"/>
<circle cx="576.7" cy="418.8" r="2.5" fill="#fc8d62"/>
<path d="M308.5 373l3 5.2h-6z" fill="#66c2a5"/>
<rect x="350.5" y="344.8" width="4.5" height="4.5" fill="#8da0cb"/>
<circle cx="417.7" cy="323" r="2.5" fill="#fc8d62"/>
<rect x="378.9" y="209.5" width="4.5" height="4.5" fill="#8da0cb"/>
<circle cx="524.5" cy="369.9" r="2.5" fill="#fc8d62"/>
<path d="M627 270.2l3 5.2h-6z" fill="#66c2a5"/>
<circle cx="419.8" cy="366.9" r="2.5" fill="#fc8d62"/>
<path d="M463.1 318.5l3 5.2h-6z" fill="#66c2a5"/>
<circle cx="472.2" cy="335.2" r="2.5" fill="#fc8d62"/>
<circle cx="662.6" cy="194.7" r="2.5" fill="#fc8d62"/>
<circle cx="462" cy="332.7" r="2.5" fill="#fc8d62"/>
<path d="M655.3 271.6l3 5.2h-6z" fill="#66c2a5"/>
<rect x="409.8" y="184.3" width="4.5" height="4.5" fill="#8da0cb"/>
<circle cx="467.9" cy="347.9" r="2.5" fill="#fc8d62"/>
<path d="M520.7 262.4l3 5.2h-6z" fill="#66c2a5"/>
<circle cx="507.2" cy="303.8" r="2.5" fill="#fc8d62"/>
<circle cx="503" cy="358.7" r="2.5" fill="#fc8d62"/>
<circle cx="630.5" cy="236.4" r="2.5" fill="#fc8d62"/>
<circle cx="580.4" cy="351.2" r="2.5" fill="#fc8d62"/>
<circle cx="578.3" cy="305.9" r="2.5" fill="#fc8d62"/>
<circle cx="499.3" cy="208.4" r="2.5" fill="#fc8d62"/>
<rect x="193.6" y="192.4" width="4.5" height="4.5" fill="#8da0cb"/>
<path d="M369.9 412.7l3 5.2h-6z" fill="#66c2a5"/>
<circle cx="568.7" cy="250.8" r="2.5" fill="#fc8d62"/>
<path d="M432.7 338.7l3 5.2h-6z" fill="#66c2a5"/>
<circle cx="508.7" cy="343.7" r="2.5" fill="#fc8d62"/>
<rect x="447.8" y="272.8" width="4.5" height="4.5" fill="#8da0cb"/>
<rect x="407.5" y="205.5" width="4.5" height="4.5" fill="#8da0cb"/>
<rect x="390" y="268.6" width="4.5" height="4.5" fill="#8da0cb"/>
<circle cx="457.9" cy="338.2" r="2.5" fill="#fc8d62"/>
<circle cx="528.9" cy="319.3" r="2.5" fill="#fc8d62"/>
<circle cx="468.4" cy="284.1" r="2.5" fill="#fc8d62"/>
<circle cx="582.8" cy="245.3" r="2.5" fill="#fc8d62"/>
<rect x="377.6" y="273.4" width="4.5" height="4.5" fill="#8da0cb"/>
<circle cx="534.2" cy="287.7" r="2.5" fill="#fc8d62"/>
<circle cx="458.2" cy="406.9" r="2.5" fill="#fc8d62"/>
<rect x="380.5" y="341.9" width="4.5" height="4.5" fill="#8da0cb"/>
<circle cx="402.1" cy="356.7" r="2.5" fill="#fc8d62"/>
<rect x="521" y="267.5" width="4.5" height="4.5" fill="#8da0cb"/>
<path d="M515.3 338l3 5.2h-6z" fill="#66c2a5"/>
<circle cx="518.5" cy="301.8" r="2.5" fill="#fc8d62"/>
<rect x="367.2" y="357.3" width="4.5" height="4.5" fill="#8da0cb"/>
<path d="M332 396.8l3 5.2h-6z" fill="#66c2a5"/>
<rect x="442.6" y="315.2" width="4.5" height="4.5" fill="#8da0cb"/>
<circle cx="535" cy="286.5" r="2.5" fill="#fc8d62"/>
<rect x="454.7" y="306.5" width="4.5" height="4.5" fill="#8da0cb"/>
<rect x="351.8" y="278.7" width="4.5" height="4.5" fill="#8da0cb"/>
<rect x="324.7" y="320.7" width="4.5" height="4.5" fill="#8da0cb"/>
<circle cx="362.2" cy="476.7" r="2.5" fill="#fc8d62"/>
<path d="M536.1 312.3l3 5.2h-6z" fill="#66c2a5"/>
<rect x="419.1" y="275.6" width="4.5" height="4.5" fill="#8da0cb"/>
<rect x="446" y="322" width="4.5" height="4.5" fill="#8da0cb"/>
<circle cx="443.5" cy="360.4" r="2.5" fill="#fc8d62"/>
<path d="M318.3 317.2l3 5.2h-6z" fill="#66c2a5"/>
<rect x="443.6" y="211.5" width="4.5" height="4.5" fill="#8da0cb"/>
<circle cx="539.4" cy="342.8" r="2.5" fill="#fc8d62"/>
<rect x="256.9" y="407.7" width="4.5" height="4.5" fill="#8da0cb"/>
<circle cx="530.3" cy="272.4" r="2.5" fill="#fc8d62"/>
<path d="M584 250.9l3 5.2h-6z" fill="#66c2a5"/>
<path d="M496.9 312.6l3 5.2h-6z" fill="#66c2a5"/>
<circle cx="535.3" cy="372.4" r="2.5" fill="#fc8d62"/>
<circle cx="573.4" cy="467.9" r="2.5" fill="#fc8d62"/>
<rect x="287.1" y="342.4" width="4.5" height="4.5" fill="#8da0cb"/>
<rect x="315.4" y="330.4" width="4.5" height="4.5" fill="#8da0cb"/>
<rect x="546.1" y="268.3" width="4.5" height="4.5" fill="#8da0cb"/>
<path d="M572.3 329.3l3 5.2h-6z" fill="#66c2a5"/>
<circle cx="602.4" cy="319" r="2.5" fill="#fc8d62"/>
<rect x="441.3" y="177.2" width="4.5" height="4.5" fill="#8da0cb"/>
<rect x="426.3" y="269.6" width="4.5" height="4.5" fill="#8da0cb"/>
<rect x="302.7" y="193.6" width="4.5" height="4.5" fill="#8da0cb"/>
<circle cx="570" cy="259.3" r="2.5" fill="#fc8d62"/>
<rect x="387" y="242.7" width="4.5" height="4.5" fill="#8da0cb"/>
<path d="M472.8 420.1l3 5.2h-6z" fill="#66c2a5"/>
<rect x="418" y="302.9" width="4.5" height="4.5" fill="#8da0cb"/>
<circle cx="522.9" cy="315.1" r="2.5" fill="#fc8d62"/>
<rect x="377.9" y="177.3" width="4.5" height="4.5" fill="#8da0cb"/>
<rect x="447.6" y="279" width="4.5" height="4.5" fill="#8da0cb"/>
<circle cx="539.6" cy="273" r="2.5" fill="#fc8d62"/>
<rect x="469.3" y="313.8" width="4.5" height="4.5" fill="#8da0cb"/>
<path d="M494.9 321.4l3 5.2h-6z" fill="#66c2a5"/>
<circle cx="575.6" cy="223.6" r="2.5" fill="#fc8d62"/>
<rect x="398.4" y="166" width="4.5" height="4.5" fill="#8da0cb"/>
<path d="M486.9 329.4l3 5.2h-6z" fill="#66c2a5"/>
<circle cx="550" cy="362.8" r="2.5" fill="#fc8d62"/>
<path d="M479.3 164.3l3 5.2h-6z" fill="#66c2a5"/>
<path d="M471.3 138l3 5.2h-6z" fill="#66c2a5"/>
<path d="M422.9 360l3 5.2h-6z" fill="#66c2a5"/>
<circle cx="524.5" cy="320.5" r="2.5" fill="#fc8d62"/>
<circle cx="436.3" cy="302.8" r="2.5" fill="#fc8d62"/>
<rect x="366.7" y="252.8" width="4.5" height="4.5" fill="#8da0cb"/>
<rect x="412.4" y="251.8" width="4.5" height="4.5" fill="#8da0cb"/>
<path d="M488.9 313.3l3 5.2h-6z" fill="#66c2a5"/>
<rect x="464.9" y="282.7" width="4.5" height="4.5" fill="#8da0cb"/>
<circle cx="598.5" cy="284.6" r="2.5" fill="#fc8d62"/>
<rect x="496.8" y="121.7" width="4.5" height="4.5" fill="#8da0cb"/>
<circle cx="612.3" cy="337.3" r="2.5" fill="#fc8d62"/>
<circle cx="534.3" cy="534.6" r="2.5" fill="#fc8d62"/>
<rect x="547.9" y="170.9" width="4.5" height="4.5" fill="#8da0cb"/>
<rect x="219.5" y="287.9" width="4.5" height="4.5" fill="#8da0cb"/>
<circle cx="464" cy="349.7" r="2.5" fill="#fc8d62"/>
<rect x="430.2" y="257.7" width="4.5" height="4.5" fill="#8da0cb"/>
<rect x="393.9" y="399.6" width="4.5" height="4.5" fill="#8da0cb"/>
<circle cx="550.4" cy="274.1" r="2.5" fill="#fc8d62"/>
<circle cx="536.1" cy="323.3" r="2.5" fill="#fc8d62"/>
<circle cx="600.5" cy="327.7" r="2.5" fill="#fc8d62"/>
<path d="M413.9 374.3l3 5.2h-6z" fill="#66c2a5"/>
<rect x="473.2" y="205.6" width="4.5" height="4.5" fill="#8da0cb"/>
<circle cx="521.4" cy="285.8" r="2.5" fill="#fc8d62"/>
<rect x="170.2" y="323.5" width="4.5" height="4.5" fill="#8da0cb"/>
<circle cx="568" cy="345.9" r="2.5" fill="#fc8d62"/>
<rect x="212.6" y="259.9" width="4.5" height="4.5" fill="#8da0cb"/>
<path d="M322.7 331.6l3 5.2h-6z" fill="#66c2a5"/>
<circle cx="449.6" cy="316.4" r="2.5" fill="#fc8d62"/>
<circle cx="566.4" cy="189.1" r="2.5" fill="#fc8d62"/>
<circle cx="668.3" cy="256.5" r="2.5" fill="#fc8d62"/>
<circle cx="504.3" cy="297.3" r="2.5" fill="#fc8d62"/>
<circle cx="474.9" cy="416.5" r="2.5" fill="#fc8d62"/>
<rect x="314.4" y="245.9" width="4.5" height="4.5" fill="#8da0cb"/>
<circle cx="522.7" cy="267.1" r="2.5" fill="#fc8d62"/>
<rect x="330.8" y="234.7" width="4.5" height="4.5" fill="#8da0cb"/>
<path d="M491 403l3 5.2h-6z" fill="#66c2a5"/>
<circle cx="473.8" cy="259" r="2.5" fill="#fc8d62"/>
<circle cx="449.3" cy="303.1" r="2.5" fill="#fc8d62"/>
<path d="M427.8 357.6l3 5.2h-6z" fill="#66c2a5"/>
<rect x="470.4" y="287.4" width="4.5" height="4.5" fill="#8da0cb"/>
<path d="M417.5 283.9l3 5.2h-6z" fill="#66c2a5"/>
<circle cx="631.2" cy="394.8" r="2.5" fill="#fc8d62"/>
<path d="M611.3 233l3 5.2h-6z" fill="#66c2a5"/>
<circle cx="493.4" cy="481.4" r="2.5" fill="#fc8d62"/>
<path d="M440.8 414.3l3 5.2h-6z" fill="#66c2a5"/>
<path d="M534.7 322.7l3 5.2h-6z" fill="#66c2a5"/>
<path d="M519 363.1l3 5.2h-6z" fill="#66c2a5"/>
<path d="M552.5 149.5l3 5.2h-6z" fill="#66c2a5"/>
<rect x="498.5" y="211.2" width="4.5" height="4.5" fill="#8da0cb"/>
<circle cx="415.6" cy="320.2" r="2.5" fill="#fc8d62"/>
<circle cx="510.1" cy="315" r="2.5" fill="#fc8d62"/>
<rect x="399.3" y="217.9" width="4.5" height="4.5" fill="#8da0cb"/>
<path d="M442.9 250.3l3 5.2h-6z" fill="#66c2a5"/>
<path d="M502.8 266.8l3 5.2h-6z" fill="#66c2a5"/>
<circle cx="410.9" cy="352.3" r="2.5" fill="#fc8d62"/>
<rect x="260.9" y="314.5" width="4.5" height="4.5" fill="#8da0cb"/>
<circle cx="474.9" cy="438.8" r="2.5" fill="#fc8d62"/>
<rect x="356.4" y="205.7" width="4.5" height="4.5" fill="#8da0cb"/>
<circle cx="465.2" cy="312.2" r="2.5" fill="#fc8d62"/>
<circle cx="602.4" cy="246.3" r="2.5" fill="#fc8d62"/>
<path d="M364.5 426.5l3 5.2h-6z" fill="#66c2a5"/>
<circle cx="511.1" cy="361.8" r="2.5" fill="#fc8d62"/>
<circle cx="544.6" cy="293.5" r="2.5" fill="#fc8d62"/>
<rect x="550.4" y="335.5" width="4.5" height="4.5" fill="#8da0cb"/>
<circle cx="615.6" cy="280.5" r="2.5" fill="#fc8d62"/>
<path d="M333.6 332.7l3 5.2h-6z" fill="#66c2a5"/>
<circle cx="378.4" cy="267.2" r="2.5" fill="#fc8d62"/>
<path d="M510.7 374.9l3 5.2h-6z" fill="#66c2a5"/>
<rect x="334.3" y="258.2" width="4.5" height="4.5" fill="#8da0cb"/>
<path d="M454 332.7l3 5.2h-6z" fill="#66c2a5"/>
<circle cx="578.3" cy="294.7" r="2.5" fill="#fc8d62"/>
<circle cx="488.6" cy="268.1" r="2.5" fill="#fc8d62"/>
<circle cx="550.8" cy="248" r="2.5" fill="#fc8d62"/>
<rect x="275.5" y="398.4" width="4.5" height="4.5" fill="#8da0cb"/>
<path d="M420.3 310.7l3 5.2h-6z" fill="#66c2a5"/>
<circle cx="479.7" cy="335.2" r="2.5" fill="#fc8d62"/>
<rect x="379.6" y="219.3" width="4.5" height="4.5" fill="#8da0cb"/>
<circle cx="458.7" cy="345.5" r="2.5" fill="#fc8d62"/>
<path d="M364.4 276.4l3 5.2h-6z" fill="#66c2a5"/>
<rect x="231.5" y="317.2" width="4.5" height="4.5" fill="#8da0cb"/>
<rect x="510.2" y="206.4" width="4.5" height="4.5" fill="#8da0cb"/>
<path d="M470.8 414.3l3 5.2h-6z" fill="#66c2a5"/>
<circle cx="366.2" cy="378.3" r="2.5" fill="#fc8d62"/>
<circle cx="480.4" cy="326.8" r="2.5" fill="#fc8d62"/>
<path d="M478.1 327l3 5.2h-6z" fill="#66c2a5"/>
<path d="M578 415l3 5.2h-6z" fill="#66c2a5"/>
<circle cx="462.1" cy="292.8" r="2.5" fill="#fc8d62"/>
<path d="M481.9 348.8l3 5.2h-6z" fill="#66c2a5"/>
<path d="M432.8 372.5l3 5.2h-6z" fill="#66c2a5"/>
<circle cx="541.1" cy="349.5" r="2.5" fill="#fc8d62"/>
<path d="M366.7 368l3 5.2h-6z" fill="#66c2a5"/>
<rect x="423.2" y="240.6" width="4.5" height="4.5" fill="#8da0cb"/>
<path d="M494.4 394.7l3 5.2h-6z" fill="#66c2a5"/>
<path d="M436.6 222.7l3 5.2h-6z" fill="#66c2a5"/>
<circle cx="316.1" cy="236.2" r="2.5" fill="#fc8d62"/>
<rect x="413" y="247.8" width="4.5" height="4.5" fill="#8da0cb"/>
<rect x="343.3" y="358" width="4.5" height="4.5" fill="#8da0cb"/>
<path d="M569.3 297.7l3 5.2h-6z" fill="#66c2a5"/>
<path d="M517.1 381.7l3 5.2h-6z" fill="#66c2a5"/>
<path d="M539.1 171.2l3 5.2h-6z" fill="#66c2a5"/>
<circle cx="565.8" cy="357.4" r="2.5" fill="#fc8d62"/>
<rect x="461.8" y="248.5" width="4.5" height="4.5" fill="#8da0cb"/>
<circle cx="489" cy="314.6" r="2.5" fill="#fc8d62"/>
<rect x="505.9" y="186.4" width="4.5" height="4.5" fill="#8da0cb"/>
<path d="M419.3 391.3l3 5.2h-6z" fill="#66c2a5"/>
<rect x="501" y="199.2" width="4.5" height="4.5" fill="#8da0cb"/>
<rect x="304.9" y="254.2" width="4.5" height="4.5" fill="#8da0cb"/>
<circle cx="540.5" cy="386.5" r="2.5" fill="#fc8d62"/>
<circle cx="497.2" cy="288.4" r="2.5" fill="#fc8d62"/>
<rect x="357.4" y="265.3" width="4.5" height="4.5" fill="#8da0cb"/>
<circle cx="523.7" cy="458.6" r="2.5" fill="#fc8d62"/>
<circle cx="569.2" cy="267.7" r="2.5" fill="#fc8d62"/>
<rect x="350.4" y="286.2" width="4.5" height="4.5" fill="#8da0cb"/>
<circle cx="500" cy="328.5" r="2.5" fill="#fc8d62"/>
<circle cx="514.9" cy="272.1" r="2.5" fill="#fc8d62"/>
<circle cx="656.6" cy="315.1" r="2.5" fill="#fc8d62"/>
<rect x="417.3" y="324.9" width="4.5" height="4.5" fill="#8da0cb"/>
<path d="M522.3 300.9l3 5.2h-6z" fill="#66c2a5"/>
<rect x="389.1" y="372.4" width="4.5" height="4.5" fill="#8da0cb"/>
<rect x="564" y="332.4" width="4.5" height="4.5" fill="#8da0cb"/>
<path d="M394.4 264.6l3 5.2h-6z" fill="#66c2a5"/>
<circle cx="515.9" cy="367.9" r="2.5" fill="#fc8d62"/>
<path d="M491.7 302l3 5.2h-6z" fill="#66c2a5"/>
<path d="M563.9 395.6l3 5.2h-6z" fill="#66c2a5"/>
<rect x="472.6" y="391.3" width="4.5" height="4.5" fill="#8da0cb"/>
<circle cx="568.4" cy="291.2" r="2.5" fill="#fc8d62"/>
<path d="M469 396.3l3 5.2h-6z" fill="#66c2a5"/>
<circle cx="404.8" cy="401.9" r="2.5" fill="#fc8d62"/>
<path d="M537.2 297.5l3 5.2h-6z" fill="#66c2a5"/>
<rect x="363.1" y="298.2" width="4.5" height="4.5" fill="#8da0cb"/>
<circle cx="520.4" cy="298.4" r="2.5" fill="#fc8d62"/>
<circle cx="592.6" cy="164" r="2.5" fill="#fc8d62"/>
<rect x="587.2" y="221.7" width="4.5" height="4.5" fill="#8da0cb"/>
<circle cx="343.2" cy="406.7" r="2.5" fill="#fc8d62"/>
<circle cx="429" cy="371.6" r="2.5" fill="#fc8d62"/>
<circle cx="425.8" cy="317" r="2.5" fill="#fc8d62"/>
<circle cx="588.8" cy="448.6" r="2.5" fill="#fc8d62"/>
<circle cx="365.2" cy="351.6" r="2.5" fill="#fc8d62"/>
<circle cx="472.5" cy="302.6" r="2.5" fill="#fc8d62"/>
<circle cx="619.8" cy="381.5" r="2.5" fill="#fc8d62"/>
<circle cx="508.6" cy="274.6" r="2.5" fill="#fc8d62"/>
<circle cx="486.3" cy="282.3" r="2.5" fill="#fc8d62"/>
<rect x="471.6" y="151.3" width="4.5" height="4.5" fill="#8da0cb"/>
<circle cx="605.6" cy="470.9" r="2.5" fill="#fc8d62"/>
<path d="M410.8 352l3 5.2h-6z" fill="#66c2a5"/>
<rect x="479.9" y="337.6" width="4.5" height="4.5" fill="#8da0cb"/>
<circle cx="533.7" cy="312" r="2.5" fill="#fc8d62"/>
<circle cx="459.1" cy="462.5" r="2.5" fill="#fc8d62"/>
<circle cx="549.8" cy="167.9" r="2.5" fill="#fc8d62"/>
<path d="M498.2 469.5l3 5.2h-6z" fill="#66c2a5"/>
<circle cx="483.9" cy="324.4" r="2.5" fill="#fc8d62"/>
<rect x="418.8" y="287.5" width="4.5" height="4.5" fill="#8da0cb"/>
<rect x="433.7" y="174.5" width="4.5" height="4.5" fill="#8da0cb"/>
<rect x="334.4" y="326.6" width="4.5" height="4.5" fill="#8da0cb"/>
<rect x="307.3" y="333.5" width="4.5" height="4.5" fill="#8da0cb"/>
<path d="M450.8 323.9l3 5.2h-6z" fill="#66c2a5"/>
<path d="M439 307l3 5.2h-6z" fill="#66c2a5"/>
<circle cx="536.3" cy="289.5" r="2.5" fill="#fc8d62"/>
<path d="M550.3 394.8l3 5.2h-6z" fill="#66c2a5"/>
<rect x="429.8" y="246.6" width="4.5" height="4.5" fill="#8da0cb"/>
<path d="M469.4 404l3 5.2h-6z" fill="#66c2a5"/>
<rect x="367.2" y="250.2" width="4.5" height="4.5" fill="#8da0cb"/>
<circle cx="472.6" cy="303.3" r="2.5" fill="#fc8d62"/>
<circle cx="659" cy="310.2" r="2.5" fill="#fc8d62"/>
<path d="M442.7 367.4l3 5.2h-6z" fill="#66c2a5"/>
<circle cx="441.8" cy="186.1" r="2.5" fill="#fc8d62"/>
<circle cx="452.2" cy="272.2" r="2.5" fill="#fc8d62"/>
<rect x="269.4" y="303.8" width="4.5" height="4.5" fill="#8da0cb"/>
<rect x="404.5" y="358.4" width="4.5" height="4.5" fill="#8da0cb"/>
<rect x="401.9" y="244.2" width="4.5" height="4.5" fill="#8da0cb"/>
<rect x="431.8" y="61.8" width="4.5" height="4.5" fill="#8da0cb"/>
<path d="M445.2 253.8l3 5.2h-6z" fill="#66c2a5"/>
<path d="M413.8 347.5l3 5.2h-6z" fill="#66c2a5"/>
<path d="M448.2 446.5l3 5.2h-6z" fill="#66c2a5"/>
<path d="M431.3 264.5l3 5.2h-6z" fill="#66c2a5"/>
<rect x="416" y="319.8" width="4.5" height="4.5" fill="#8da0cb"/>
<circle cx="517.8" cy="307.2" r="2.5" fill="#fc8d62"/>
<circle cx="517.2" cy="283.9" r="2.5" fill="#fc8d62"/>
<rect x="376.6" y="342.8" width="4.5" height="4.5" fill="#8da0cb"/>
<rect x="486.2" y="330.4" width="4.5" height="4.5" fill="#8da0cb"/>
<path d="M392.6 278.6l3 5.2h-6z" fill="#66c2a5"/>
<circle cx="541.1" cy="306.5" r="2.5" fill="#fc8d62"/>
<circle cx="535.7" cy="191.6" r="2.5" fill="#fc8d62"/>
<path d="M471.5 280l3 5.2h-6z" fill="#66c2a5"/>
<rect x="329.3" y="196.2" width="4.5" height="4.5" fill="#8da0cb"/>
<rect x="403.6" y="272.3" width="4.5" height="4.5" fill="#8da0cb"/>
<circle cx="446.7" cy="327.7" r="2.5" fill="#fc8d62"/>
<circle cx="500.7" cy="383.1" r="2.5" fill="#fc8d62"/>
<circle cx="437.8" cy="338.7" r="2.5" fill="#fc8d62"/>
<rect x="396" y="297.3" width="4.5" height="4.5" fill="#8da0cb"/>
<path d="M434.2 384.5l3 5.2h-6z" fill="#66c2a5"/>
<rect x="239.3" y="188" width="4.5" height="4.5" fill="#8da0cb"/>
<path d="M442 339.1l3 5.2h-6z" fill="#66c2a5"/>
<circle cx="471" cy="266.7" r="2.5" fill="#fc8d62"/>
<rect x="660.7" y="123.8" width="4.5" height="4.5" fill="#8da0cb"/>
<rect x="288.2" y="266.7" width="4.5" height="4.5" fill="#8da0cb"/>
<path d="M476.3 329.6l3 5.2h-6z" fill="#66c2a5"/>
<rect x="514" y="323.3" width="4.5" height="4.5" fill="#8da0cb"/>
<path d="M516.2 316.5l3 5.2h-6z" fill="#66c2a5"/>
<circle cx="414.9" cy="402" r="2.5" fill="#fc8d62"/>
<path d="M529.4 379.5l3 5.2h-6z" fill="#66c2a5"/>
<path d="M452.7 309.2l3 5.2h-6z" fill="#66c2a5"/>
<rect x="349.4" y="187.4" width="4.5" height="4.5" fill="#8da0cb"/>
<rect x="403.2" y="277.6" width="4.5" height="4.5" fill="#8da0cb"/>
<circle cx="473.5" cy="195.5" r="2.5" fill="#fc8d62"/>
<circle cx="673.2" cy="323.3" r="2.5" fill="#fc8d62"/>
<path d="M480.8 367.2l3 5.2h-6z" fill="#66c2a5"/>
<rect x="261.1" y="341.5" width="4.5" height="4.5" fill="#8da0cb"/>
<path d="M441.9 214l3 5.2h-6z" fill="#66c2a5"/>
<rect x="427.8" y="261.6" width="4.5" height="4.5" fill="#8da0cb"/>
<path d="M429.7 338.8l3 5.2h-6z" fill="#66c2a5"/>
<circle cx="549.4" cy="301.8" r="2.5" fill="#fc8d62"/>
<circle cx="642.4" cy="258.5" r="2.5" fill="#fc8d62"/>
<rect x="409.5" y="245.1" width="4.5" height="4.5" fill="#8da0cb"/>
<rect x="376.2" y="284.2" width="4.5" height="4.5" fill="#8da0cb"/>
<path d="M489.2 261.6l3 5.2h-6z" fill="#66c2a5"/>
<circle cx="515" cy="279.4" r="2.5" fill="#fc8d62"/>
<path d="M400.8 406.5l3 5.2h-6z" fill="#66c2a5"/>
<rect x="333.6" y="348" width="4.5" height="4.5" fill="#8da0cb"/>
<rect x="358.8" y="257.2" width="4.5" height="4.5" fill="#8da0cb"/>
<rect x="400.5" y="272.7" width="4.5" height="4.5" fill="#8da0cb"/>
<rect x="359.8" y="208.7" width="4.5" height="4.5" fill="#8da0cb"/>
<path d="M602.5 413.6l3 5.2h-6z" fill="#66c2a5"/>
<circle cx="648.9" cy="314.8" r="2.5" fill="#fc8d62"/>
<path d="M393.1 546.3l3 5.2h-6z" fill="#66c2a5"/>
<rect x="280.8" y="220.5" width="4.5" height="4.5" fill="#8da0cb"/>
<rect x="448" y="224.5" width="4.5" height="4.5" fill="#8da0cb"/>
<circle cx="580.3" cy="253.3" r="2.5" fill="#fc8d62"/>
<circle cx="447.3" cy="352.5" r="2.5" fill="#fc8d62"/>
<rect x="440.4" y="289.9" width="4.5" height="4.5" fill="#8da0cb"/>
<circle cx="415.6" cy="315.2" r="2.5" fill="#fc8d62"/>
<path d="M587.8 328.6l3 5.2h-6z" fill="#66c2a5"/>
<rect x="341.7" y="267.3" width="4.5" height="4.5" fill="#8da0cb"/>
<path d="M433.1 318.4l3 5.2h-6z" fill="#66c2a5"/>
<rect x="383.8" y="238.6" width="4.5" height="4.5" fill="#8da0cb"/>
<circle cx="504.1" cy="398.4" r="2.5" fill="#fc8d62"/>
<path d="M378.9 351.2l3 5.2h-6z" fill="#66c2a5"/>
<circle cx="502.1" cy="276.2" r="2.5" fill="#fc8d62"/>
<path d="M510.6 370.8l3 5.2h-6z" fill="#66c2a5"/>
<path d="M509.1 209l3 5.2h-6z" fill="#66c2a5"/>
<path d="M565.8 283.6l3 5.2h-6z" fill="#66c2a5"/>
<rect x="397.2" y="313.7" width="4.5" height="4.5" fill="#8da0cb"/>
<rect x="336.9" y="372.6" width="4.5" height="4.5" fill="#8da0cb"/>
<rect x="627.8" y="193.6" width="4.5" height="4.5" fill="#8da0cb"/>
<path d="M442.2 467.5l3 5.2h-6z" fill="#66c2a5"/>
<circle cx="485.9" cy="281" r="2.5" fill="#fc8d62"/>
<rect x="394.3" y="251.6" width="4.5" height="4.5" fill="#8da0cb"/>
<circle cx="496.5" cy="259.6" r="2.5" fill="#fc8d62"/>
<path d="M446.8 324.9l3 5.2h-6z" fill="#66c2a5"/>
<rect x="485.7" y="257.1" width="4.5" height="4.5" fill="#8da0cb"/>
<circle cx="378.2" cy="344.9" r="2.5" fill="#fc8d62"/>
<circle cx="431.6" cy="298.4" r="2.5" fill="#fc8d62"/>
<circle cx="553.9" cy="366.1" r="2.5" fill="#fc8d62"/>
<path d="M528.1 193.3l3 5.2h-6z" fill="#66c2a5"/>
<circle cx="511.3" cy="356" r="2.5" fill="#fc8d62"/>
<rect x="254" y="322.6" width="4.5" height="4.5" fill="#8da0cb"/>
<circle cx="471.9" cy="342.7" r="2.5" fill="#fc8d62"/>
<circle cx="451.6" cy="231.9" r="2.5" fill="#fc8d62"/>
<rect x="450" y="241.8" width="4.5" height="4.5" fill="#8da0cb"/>
<rect x="434.3" y="296.2" width="4.5" height="4.5" fill="#8da0cb"/>
<path d="M433.5 299l3 5.2h-6z" fill="#66c2a5"/>
<circle cx="561.8" cy="374.3" r="2.5" fill="#fc8d62"/>
<rect x="504.5" y="302.5" width="4.5" height="4.5" fill="#8da0cb"/>
<circle cx="538" cy="268.7" r="2.5" fill="#fc8d62"/>
<rect x="555.7" y="271.6" width="4.5" height="4.5" fill="#8da0cb"/>
<rect x="437.7" y="265.9" width="4.5" height="4.5" fill="#8da0cb"/>
<rect x="391" y="341.2" width="4.5" height="4.5" fill="#8da0cb"/>
<rect x="423.2" y="344.9" width="4.5" height="4.5" fill="#8da0cb"/>
<rect x="253.5" y="439.3" width="4.5" height="4.5" fill="#8da0cb"/>
<rect x="339" y="246" width="4.5" height="4.5" fill="#8da0cb"/>
<circle cx="620.9" cy="312" r="2.5" fill="#fc8d62"/>
<rect x="483.4" y="295.6" width="4.5" height="4.5" fill="#8da0cb"/>
<rect x="460.5" y="356" width="4.5" height="4.5" fill="#8da0cb"/>
<path d="M368.1 305.5l3 5.2h-6z" fill="#66c2a5"/>
<circle cx="483.9" cy="247.5" r="2.5" fill="#fc8d62"/>
<circle cx="501.3" cy="326" r="2.5" fill="#fc8d62"/>
<path d="M310.5 419.6l3 5.2h-6z" fill="#66c2a5"/>
<circle cx="540.6" cy="348.5" r="2.5" fill="#fc8d62"/>
<path d="M571.2 298.9l3 5.2h-6z" fill="#66c2a5"/>
<rect x="427.4" y="236.6" width="4.5" height="4.5" fill="#8da0cb"/>
<circle cx="532.3" cy="284.1" r="2.5" fill="#fc8d62"/>
<circle cx="503.6" cy="333.8" r="2.5" fill="#fc8d62"/>
<path d="M459.8 393.1l3 5.2h-6z" fill="#66c2a5"/>
<path d="M595.8 247.2l3 5.2h-6z" fill="#66c2a5"/>
<path d="M566.7 261.1l3 5.2h-6z" fill="#66c2a5"/>
<rect x="535.2" y="194.4" width="4.5" height="4.5" fill="#8da0cb"/>
<rect x="358.2" y="225.4" width="4.5" height="4.5" fill="#8da0cb"/>
<circle cx="502.1" cy="383.2" r="2.5" fill="#fc8d62"/>
<path d="M572 166.3l3 5.2h-6z" fill="#66c2a5"/>
<circle cx="400.9" cy="344.2" r="2.5" fill="#fc8d62"/>
<path d="M408.6 340.2l3 5.2h-6z" fill="#66c2a5"/>
<path d="M452 352.6l3 5.2h-6z" fill="#66c2a5"/>
<path d="M499.7 345.5l3 5.2h-6z" fill="#66c2a5"/>
<path d="M415 374.6l3 5.2h-6z" fill="#66c2a5"/>
<rect x="428.3" y="154.1" width="4.5" height="4.5" fill="#8da0cb"/>
<rect x="395.9" y="200.5" width="4.5" height="4.5" fill="#8da0cb"/>
<rect x="346" y="279.9" width="4.5" height="4.5" fill="#8da0cb"/>
<rect x="458" y="203.1" width="4.5" height="4.5" fill="#8da0cb"/>
<rect x="299.5" y="221.1" width="4.5" height="4.5" fill="#8da0cb"/>
<path d="M471.6 286.6l3 5.2h-6z" fill="#66c2a5"/>
<rect x="525.7" y="58.6" width="4.5" height="4.5" fill="#8da0cb"/>
<rect x="354.5" y="354.9" width="4.5" height="4.5" fill="#8da0cb"/>
<rect x="378.5" y="268.4" width="4.5" height="4.5" fill="#8da0cb"/>
<rect x="433.4" y="322.4" width="4.5" height="4.5" fill="#8da0cb"/>
<path d="M451.5 333.9l3 5.2h-6z" fill="#66c2a5"/>
<circle cx="601.8" cy="274.5" r="2.5" fill="#fc8d62"/>
<path d="M431.8 413.6l3 5.2h-6z" fill="#66c2a5"/>
<path d="M456.6 399.3l3 5.2h-6z" fill="#66c2a5"/>
<circle cx="356.1" cy="479.4" r="2.5" fill="#fc8d62"/>
<circle cx="486.3" cy="343.2" r="2.5" fill="#fc8d62"/>
<rect x="335.8" y="293.5" width="4.5" height="4.5" fill="#8da0cb"/>
<path d="M453.6 256.3l3 5.2h-6z" fill="#66c2a5"/>
<rect x="441.9" y="348.2" width="4.5" height="4.5" fill="#8da0cb"/>
<circle cx="395.1" cy="305.6" r="2.5" fill="#fc8d62"/>
<circle cx="491.8" cy="268.6" r="2.5" fill="#fc8d62"/>
<rect x="388.6" y="358.1" width="4.5" height="4.5" fill="#8da0cb"/>
<path d="M477.3 331l3 5.2h-6z" fill="#66c2a5"/>
<rect x="432" y="255.2" width="4.5" height="4.5" fill="#8da0cb"/>
<rect x="364.9" y="421.1" width="4.5" height="4.5" fill="#8da0cb"/>
<circle cx="599.2" cy="332.2" r="2.5" fill="#fc8d62"/>
<circle cx="479.7" cy="483.2" r="2.5" fill="#fc8d62"/>
<circle cx="422.6" cy="382.1" r="2.5" fill="#fc8d62"/>
<path d="M438.1 369.1l3 5.2h-6z" fill="#66c2a5"/>
<circle cx="470.6" cy="331" r="2.5" fill="#fc8d62"/>
<path d="M297.5 396.8l3 5.2h-6z" fill="#66c2a5"/>
<rect x="225.8" y="192" width="4.5" height="4.5" fill="#8da0cb"/>
<path d="M432.9 248.4l3 5.2h-6z" fill="#66c2a5"/>
<rect x="288.8" y="395" width="4.5" height="4.5" fill="#8da0cb"/>
<path d="M477.1 294.4l3 5.2h-6z" fill="#66c2a5"/>
<path d="M506.9 402.1l3 5.2h-6z" fill="#66c2a5"/>
<rect x="385.2" y="303.8" width="4.5" height="4.5" fill="#8da0cb"/>
<circle cx="419.2" cy="326.8" r="2.5" fill="#fc8d62"/>
<path d="M427.2 315l3 5.2h-6z" fill="#66c2a5"/>
<circle cx="438.8" cy="428.1" r="2.5" fill="#fc8d62"/>
<path d="M477.7 340.5l3 5.2h-6z" fill="#66c2a5"/>
<path d="M557.5 353.4l3 5.2h-6z" fill="#66c2a5"/>
<circle cx="507.2" cy="317.1" r="2.5" fill="#fc8d62"/>
<rect x="348.9" y="292.2" width="4.5" height="4.5" fill="#8da0cb"/>
<path d="M351.7 379.9l3 5.2h-6z" fill="#66c2a5"/>
<path d="M423.6 371.2l3 5.2h-6z" fill="#66c2a5"/>
<path d="M563 317.1l3 5.2h-6z" fill="#66c2a5"/>
<circle cx="438.1" cy="392" r="2.5" fill="#fc8d62"/>
<path d="M518.8 388.7l3 5.2h-6z" fill="#66c2a5"/>
<circle cx="420.4" cy="243.7" r="2.5" fill="#fc8d62"/>
<path d="M367.9 320.7l3 5.2h-6z" fill="#66c2a5"/>
<rect x="391.6" y="166.1" width="4.5" height="4.5" fill="#8da0cb"/>
<path d="M503.2 340.5l3 5.2h-6z" fill="#66c2a5"/>
<circle cx="420" cy="389.2" r="2.5" fill="#fc8d62"/>
<path d="M487.4 254.4l3 5.2h-6z" fill="#66c2a5"/>
<circle cx="435.9" cy="229.2" r="2.5" fill="#fc8d62"/>
<circle cx="473.4" cy="373.9" r="2.5" fill="#fc8d62"/>
<path d="M392.9 364.4l3 5.2h-6z" fill="#66c2a5"/>
<circle cx="606.4" cy="370.1" r="2.5" fill="#fc8d62"/>
<rect x="364.1" y="280.5" width="4.5" height="4.5" fill="#8da0cb"/>
<rect x="297.3" y="265.5" width="4.5" height="4.5" fill="#8da0cb"/>
<rect x="387.6" y="224.9" width="4.5" height="4.5" fill="#8da0cb"/>
<path d="M459.6 299.5l3 5.2h-6z" fill="#66c2a5"/>
<rect x="487.4" y="192" width="4.5" height="4.5" fill="#8da0cb"/>
<path d="M460.8 160.1l3 5.2h-6z" fill="#66c2a5"/>
<rect x="601.4" y="234.9" width="4.5" height="4.5" fill="#8da0cb"/>
<path d="M572 371.3l3 5.2h-6z" fill="#66c2a5"/>
<path d="M522.2 351.7l3 5.2h-6z" fill="#66c2a5"/>
<rect x="538" y="81.4" width="4.5" height="4.5" fill="#8da0cb"/>
<rect x="223.1" y="185" width="4.5" height="4.5" fill="#8da0cb"/>
<path d="M507.7 308.9l3 5.2h-6z" fill="#66c2a5"/>
<path d="M470.7 330.6l3 5.2h-6z" fill="#66c2a5"/>
<path d="M507.7 370.2l3 5.2h-6z" fill="#66c2a5"/>
<path d="M460.8 135.7l3 5.2h-6z" fill="#66c2a5"/>
<path d="M531.1 260.1l3 5.2h-6z" fill="#66c2a5"/>
<path d="M499.2 177.4l3 5.2h-6z" fill="#66c2a5"/>
<rect x="550.7" y="231.2" width="4.5" height="4.5" fill="#8da0cb"/>
<rect x="427" y="192.1" width="4.5" height="4.5" fill="#8da0cb"/>
<path d="M420.6 272l3 5.2h-6z" fill="#66c2a5"/>
<circle cx="533.9" cy="314.5" r="2.5" fill="#fc8d62"/>
<circle cx="631.7" cy="233.4" r="2.5" fill="#fc8d62"/>
<path d="M477.6 389.7l3 5.2h-6z" fill="#66c2a5"/>
<circle cx="570" cy="282.5" r="2.5" fill="#fc8d62"/>
<circle cx="516.5" cy="346.8" r="2.5" fill="#fc8d62"/>
<rect x="293.7" y="245.8" width="4.5" height="4.5" fill="#8da0cb"/>
<rect x="371" y="208.1" width="4.5" height="4.5" fill="#8da0cb"/>
<rect x="402.2" y="235.2" width="4.5" height="4.5" fill="#8da0cb"/>
<path d="M425.9 342.4l3 5.2h-6z" fill="#66c2a5"/>
<circle cx="506.7" cy="328.5" r="2.5" fill="#fc8d62"/>
<rect x="442.4" y="354.6" width="4.5" height="4.5" fill="#8da0cb"/>
<path d="M548 336.7l3 5.2h-6z" fill="#66c2a5"/>
<path d="M525.9 437.3l3 5.2h-6z" fill="#66c2a5"/>
<path d="M469.1 307.8l3 5.2h-6z" fill="#66c2a5"/>
<circle cx="441.2" cy="327.4" r="2.5" fill="#fc8d62"/>
<circle cx="578.3" cy="267" r="2.5" fill="#fc8d62"/>
<rect x="392.8" y="388.6" width="4.5" height="4.5" fill="#8da0cb"/>
<path d="M482.8 122.3l3 5.2h-6z" fill="#66c2a5"/>
<circle cx="391" cy="382" r="2.5" fill="#fc8d62"/>
<path d="M363.9 375.9l3 5.2h-6z" fill="#66c2a5"/>
<path d="M444.2 278.5l3 5.2h-6z" fill="#66c2a5"/>
<rect x="378.7" y="285.1" width="4.5" height="4.5" fill="#8da0cb"/>
<rect x="321" y="269" width="4.5" height="4.5" fill="#8da0cb"/>
<circle cx="345.3" cy="336.3" r="2.5" fill="#fc8d62"/>
<path d="M347.9 220.6l3 5.2h-6z" fill="#66c2a5"/>
<path d="M612.3 184.7l3 5.2h-6z" fill="#66c2a5"/>
<path d="M506.8 360.5l3 5.2h-6z" fill="#66c2a5"/>
<rect x="429.9" y="289.5" width="4.5" height="4.5" fill="#8da0cb"/>
<rect x="385.8" y="204.1" width="4.5" height="4.5" fill="#8da0cb"/>
<path d="M621.6 311.1l3 5.2h-6z" fill="#66c2a5"/>
<path d="M598.9 305l3 5.2h-6z" fill="#66c2a5"/>
<rect x="429.4" y="324.1" width="4.5" height="4.5" fill="#8da0cb"/>
<circle cx="549.4" cy="309" r="2.5" fill="#fc8d62"/>
<rect x="316" y="218.1" width="4.5" height="4.5" fill="#8da0cb"/>
<circle cx="436.1" cy="433.9" r="2.5" fill="#fc8d62"/>
<rect x="323.4" y="272.4" width="4.5" height="4.5" fill="#8da0cb"/>
<circle cx="595.3" cy="224.3" r="2.5" fill="#fc8d62"/>
<circle cx="539.9" cy="298.5" r="2.5" fill="#fc8d62"/>
<rect x="245.8" y="222.3" width="4.5" height="4.5" fill="#8da0cb"/>
<circle cx="540.5" cy="276.6" r="2.5" fill="#fc8d62"/>
<path d="M445.3 398.8l3 5.2h-6z" fill="#66c2a5"/>
<path d="M464.2 296.4l3 5.2h-6z" fill="#66c2a5"/>
<path d="M475.9 260.4l3 5.2h-6z" fill="#66c2a5"/>
<path d="M535.5 176.1l3 5.2h-6z" fill="#66c2a5"/>
<circle cx="548" cy="404.2" r="2.5" fill="#fc8d62"/>
<circle cx="450.2" cy="249.8" r="2.5" fill="#fc8d62"/>
<path d="M541 253.9l3 5.2h-6z" fill="#66c2a5"/>
<circle cx="500.8" cy="284.8" r="2.5" fill="#fc8d62"/>
<rect x="212.6" y="418.4" width="4.5" height="4.5" fill="#8da0cb"/>
<circle cx="528.3" cy="271.6" r="2.5" fill="#fc8d62"/>
<path d="M339 334.6l3 5.2h-6z" fill="#66c2a5"/>
<circle cx="484.1" cy="273.7" r="2.5" fill="#fc8d62"/>
<circle cx="475.6" cy="279.7" r="2.5" fill="#fc8d62"/>
<circle cx="523.3" cy="310.4" r="2.5" fill="#fc8d62"/>
<rect x="419.2" y="195.6" width="4.5" height="4.5" fill="#8da0cb"/>
<circle cx="706.7" cy="247.9" r="2.5" fill="#fc8d62"/>
<rect x="388.4" y="229.1" width="4.5" height="4.5" fill="#8da0cb"/>
<path d="M486.1 266.2l3 5.2h-6z" fill="#66c2a5"/>
<rect x="383.9" y="275.8" width="4.5" height="4.5" fill="#8da0cb"/>
<rect x="485.4" y="290" width="4.5" height="4.5" fill="#8da0cb"/>
<path d="M515.6 258.5l3 5.2h-6z" fill="#66c2a5"/>
<rect x="343.1" y="368.3" width="4.5" height="4.5" fill="#8da0cb"/>
<path d="M475.4 314.2l3 5.2h-6z" fill="#66c2a5"/>
<circle cx="457.2" cy="293.6" r="2.5" fill="#fc8d62"/>
<path d="M544.3 259.6l3 5.2h-6z" fill="#66c2a5"/>
<path d="M521.4 347.3l3 5.2h-6z" fill="#66c2a5"/>
<rect x="472.1" y="355.3" width="4.5" height="4.5" fill="#8da0cb"/>
<circle cx="623.6" cy="218.7" r="2.5" fill="#fc8d62"/>
<circle cx="513.7" cy="325.1" r="2.5" fill="#fc8d62"/>
<path d="M411.6 422l3 5.2h-6z" fill="#66c2a5"/>
<circle cx="456.9" cy="329.6" r="2.5" fill="#fc8d62"/>
<path d="M465.7 284.8l3 5.2h-6z" fill="#66c2a5"/>
<rect x="397.1" y="321.9" width="4.5" height="4.5" fill="#8da0cb"/>
<rect x="436.1" y="349.7" width="4.5" height="4.5" fill="#8da0cb"/>
<path d="M467.3 126.1l3 5.2h-6z" fill="#66c2a5"/>
<circle cx="503.5" cy="262.7" r="2.5" fill="#fc8d62"/>
<rect x="349" y="327.2" width="4.5" height="4.5" fill="#8da0cb"/>
<rect x="264.5" y="263.2" width="4.5" height="4.5" fill="#8da0cb"/>
<rect x="394.2" y="317.6" width="4.5" height="4.5" fill="#8da0cb"/>
<path d="M443.7 321.2l3 5.2h-6z" fill="#66c2a5"/>
<rect x="197.9" y="285.8" width="4.5" height="4.5" fill="#8da0cb"/>
<circle cx="526.4" cy="314.1" r="2.5" fill="#fc8d62"/>
<rect x="432.5" y="271.9" width="4.5" height="4.5" fill="#8da0cb"/>
<rect x="384" y="271.7" width="4.5" height="4.5" fill="#8da0cb"/>
<circle cx="612.2" cy="330.3" r="2.5" fill="#fc8d62"/>
<circle cx="379.8" cy="220.1" r="2.5" fill="#fc8d62"/>
<path d="M413.3 347.6l3 5.2h-6z" fill="#66c2a5"/>
<circle cx="607.2" cy="146.2" r="2.5" fill="#fc8d62"/>
<circle cx="586.1" cy="265.5" r="2.5" fill="#fc8d62"/>
<circle cx="451.3" cy="268.3" r="2.5" fill="#fc8d62"/>
<path d="M409.9 240.5l3 5.2h-6z" fill="#66c2a5"/>
<rect x="470.6" y="298.1" width="4.5" height="4.5" fill="#8da0cb"/>
<rect x="440.4" y="339" width="4.5" height="4.5" fill="#8da0cb"/>
<path d="M456.6 341.7l3 5.2h-6z" fill="#66c2a5"/>
<rect x="454.7" y="233.7" width="4.5" height="4.5" fill="#8da0cb"/>
<circle cx="543.1" cy="297" r="2.5" fill="#fc8d62"/>
<rect x="380.2" y="307.6" width="4.5" height="4.5" fill="#8da0cb"/>
<circle cx="479.5" cy="355.6" r="2.5" fill="#fc8d62"/>
<circle cx="508.9" cy="333.3" r="2.5" fill="#fc8d62"/>
<circle cx="564.5" cy="149" r="2.5" fill="#fc8d62"/>
<path d="M616.2 332l3 5.2h-6z" fill="#66c2a5"/>
<rect x="478.6" y="242.3" width="4.5" height="4.5" fill="#8da0cb"/>
<path d="M444.3 197.9l3 5.2h-6z" fill="#66c2a5"/>
<circle cx="471" cy="330.2" r="2.5" fill="#fc8d62"/>
<rect x="220.9" y="131.6" width="4.5" height="4.5" fill="#8da0cb"/>
<rect x="302.3" y="338.3" width="4.5" height="4.5" fill="#8da0cb"/>
<path d="M436 291.3l3 5.2h-6z" fill="#66c2a5"/>
<rect x="408.1" y="270.3" width="4.5" height="4.5" fill="#8da0cb"/>
<circle cx="638.7" cy="278.7" r="2.5" fill="#fc8d62"/>
<path d="M522.1 349.6l3 5.2h-6z" fill="#66c2a5"/>
<rect x="375.8" y="350.7" width="4.5" height="4.5" fill="#8da0cb"/>
<circle cx="563" cy="358.8" r="2.5" fill="#fc8d62"/>
<rect x="391.1" y="256.7" width="4.5" height="4.5" fill="#8da0cb"/>
<rect x="343.6" y="305.3" width="4.5" height="4.5" fill="#8da0cb"/>
<rect x="283.5" y="316.2" width="4.5" height="4.5" fill="#8da0cb"/>
<path d="M374.2 363.4l3 5.2h-6z" fill="#66c2a5"/>
<rect x="376.4" y="222.5" width="4.5" height="4.5" fill="#8da0cb"/>
<path d="M422.5 382l3 5.2h-6z" fill="#66c2a5"/>
<path d="M452.2 493.6l3 5.2h-6z" fill="#66c2a5"/>
<rect x="419.1" y="390.3" width="4.5" height="4.5" fill="#8da0cb"/>
<circle cx="450.8" cy="243.7" r="2.5" fill="#fc8d62"/>
<path d="M561.7 172.5l3 5.2h-6z" fill="#66c2a5"/>
<circle cx="534.2" cy="418.1" r="2.5" fill="#fc8d62"/>
<path d="M369.3 288.1l3 5.2h-6z" fill="#66c2a5"/>
<circle cx="404.6" cy="292.9" r="2.5" fill="#fc8d62"/>
<rect x="483.7" y="188" width="4.5" height="4.5" fill="#8da0cb"/>
<rect x="331.8" y="302.1" width="4.5" height="4.5" fill="#8da0cb"/>
<path d="M542.7 355.4l3 5.2h-6z" fill="#66c2a5"/>
<path d="M475.3 362.9l3 5.2h-6z" fill="#66c2a5"/>
<path d="M355.1 272.2l3 5.2h-6z" fill="#66c2a5"/>
<circle cx="623.2" cy="421.9" r="2.5" fill="#fc8d62"/>
<path d="M487 320.2l3 5.2h-6z" fill="#66c2a5"/>
<path d="M487.1 393.5l3 5.2h-6z" fill="#66c2a5"/>
<path d="M447.4 343.2l3 5.2h-6z" fill="#66c2a5"/>
<rect x="457.2" y="184.9" width="4.5" height="4.5" fill="#8da0cb"/>
<rect x="477.7" y="289.6" width="4.5" height="4.5" fill="#8da0cb"/>
<circle cx="444.1" cy="324.9" r="2.5" fill="#fc8d62"/>
<path d="M433.7 329.3l3 5.2h-6z" fill="#66c2a5"/>
<rect x="368.4" y="101.5" width="4.5" height="4.5" fill="#8da0cb"/>
<circle cx="462.1" cy="258.3" r="2.5" fill="#fc8d62"/>
<path d="M401.8 374.5l3 5.2h-6z" fill="#66c2a5"/>
<rect x="411.6" y="379.7" width="4.5" height="4.5" fill="#8da0cb"/>
<rect x="466.5" y="277.9" width="4.5" height="4.5" fill="#8da0cb"/>
<rect x="531.3" y="235" width="4.5" height="4.5" fill="#8da0cb"/>
<rect x="367.9" y="207.6" width="4.5" height="4.5" fill="#8da0cb"/>
<circle cx="554" cy="325.4" r="2.5" fill="#fc8d62"/>
<rect x="451.3" y="346.5" width="4.5" height="4.5" fill="#8da0cb"/>
<circle cx="514.8" cy="310" r="2.5" fill="#fc8d62"/>
<rect x="345.9" y="333.6" width="4.5" height="4.5" fill="#8da0cb"/>
<path d="M503.4 410.5l3 5.2h-6z" fill="#66c2a5"/>
<rect x="359.8" y="298.9" width="4.5" height="4.5" fill="#8da0cb"/>
<path d="M497.6 104.8l3 5.2h-6z" fill="#66c2a5"/>
<circle cx="534.5" cy="333.9" r="2.5" fill="#fc8d62"/>
<rect x="398.5" y="284.4" width="4.5" height="4.5" fill="#8da0cb"/>
<circle cx="441.4" cy="297.8" r="2.5" fill="#fc8d62"/>
<circle cx="552.7" cy="273.9" r="2.5" fill="#fc8d62"/>
<path d="M538.7 268.4l3 5.2h-6z" fill="#66c2a5"/>
<path d="M512.9 364.4l3 5.2h-6z" fill="#66c2a5"/>
<circle cx="530.8" cy="316.1" r="2.5" fill="#fc8d62"/>
<path d="M433.6 322.2l3 5.2h-6z" fill="#66c2a5"/>
<circle cx="484.9" cy="353.3" r="2.5" fill="#fc8d62"/>
<circle cx="678.2" cy="256.9" r="2.5" fill="#fc8d62"/>
<rect x="358.5" y="363.3" width="4.5" height="4.5" fill="#8da0cb"/>
<circle cx="588.2" cy="290.5" r="2.5" fill="#fc8d62"/>
<circle cx="549.6" cy="393.4" r="2.5" fill="#fc8d62"/>
<rect x="405.8" y="357.8" width="4.5" height="4.5" fill="#8da0cb"/>
<path d="M490.8 248.4l3 5.2h-6z" fill="#66c2a5"/>
<path d="M477 416.5l3 5.2h-6z" fill="#66c2a5"/>
<circle cx="500.4" cy="355.6" r="2.5" fill="#fc8d62"/>
<path d="M343 691.8l3 5.2h-6z" fill="#66c2a5"/>
<circle cx="424.6" cy="380.8" r="2.5" fill="#fc8d62"/>
<rect x="407.7" y="304.9" width="4.5" height="4.5" fill="#8da0cb"/>
<rect x="269.2" y="237.9" width="4.5" height="4.5" fill="#8da0cb"/>
<rect x="403.3" y="243.7" width="4.5" height="4.5" fill="#8da0cb"/>
<path d="M652.4 382l3 5.2h-6z" fill="#66c2a5"/>
<path d="M388.6 357.9l3 5.2h-6z" fill="#66c2a5"/>
<rect x="398.1" y="293.5" width="4.5" height="4.5" fill="#8da0cb"/>
<circle cx="570.5" cy="321.8" r="2.5" fill="#fc8d62"/>
<rect x="360.8" y="288.1" width="4.5" height="4.5" fill="#8da0cb"/>
<circle cx="598" cy="341.3" r="2.5" fill="#fc8d62"/>
<circle cx="484.9" cy="258.3" r="2.5" fill="#fc8d62"/>
<circle cx="515.7" cy="247.2" r="2.5" fill="#fc8d62"/>
<rect x="281.7" y="294.8" width="4.5" height="4.5" fill="#8da0cb"/>
<circle cx="508.7" cy="316" r="2.5" fill="#fc8d62"/>
<path d="M443.3 347.6l3 5.2h-6z" fill="#66c2a5"/>
<rect x="533.3" y="290.8" width="4.5" height="4.5" fill="#8da0cb"/>
<circle cx="485.4" cy="378.9" r="2.5" fill="#fc8d62"/>
<rect x="371.1" y="194.1" width="4.5" height="4.5" fill="#8da0cb"/>
<path d="M442.4 249.5l3 5.2h-6z" fill="#66c2a5"/>
<path d="M373.8 411.8l3 5.2h-6z" fill="#66c2a5"/>
<circle cx="519.1" cy="341.4" r="2.5" fill="#fc8d62"/>
<rect x="458" y="278.2" width="4.5" height="4.5" fill="#8da0cb"/>
<rect x="418.1" y="278.9" width="4.5" height="4.5" fill="#8da0cb"/>
<circle cx="540.6" cy="270.3" r="2.5" fill="#fc8d62"/>
<path d="M486.6 237.5l3 5.2h-6z" fill="#66c2a5"/>
<circle cx="451.8" cy="363.7" r="2.5" fill="#fc8d62"/>
<path d="M416.5 287l3 5.2h-6z" fill="#66c2a5"/>
<path d="M441.9 320.6l3 5.2h-6z" fill="#66c2a5"/>
<path d="M446.5 275.1l3 5.2h-6z" fill="#66c2a5"/>
<path d="M441.3 335.4l3 5.2h-6z" fill="#66c2a5"/>
<rect x="197.1" y="192.4" width="4.5" height="4.5" fill="#8da0cb"/>
<rect x="430.4" y="189.8" width="4.5" height="4.5" fill="#8da0cb"/>
<circle cx="497.8" cy="221.8" r="2.5" fill="#fc8d62"/>
<rect x="348.9" y="184.2" width="4.5" height="4.5" fill="#8da0cb"/>
<rect x="441.1" y="289.8" width="4.5" height="4.5" fill="#8da0cb"/>
<circle cx="427.8" cy="410.7" r="2.5" fill="#fc8d62"/>
<circle cx="616.4" cy="201.5" r="2.5" fill="#fc8d62"/>
<path d="M460 275.6l3 5.2h-6z" fill="#66c2a5"/>
<rect x="480.2" y="286.2" width="4.5" height="4.5" fill="#8da0cb"/>
<circle cx="580.5" cy="209.6" r="2.5" fill="#fc8d62"/>
<path d="M562.8 421.4l3 5.2h-6z" fill="#66c2a5"/>
<circle cx="586.3" cy="276.8" r="2.5" fill="#fc8d62"/>
<rect x="463.6" y="280" width="4.5" height="4.5" fill="#8da0cb"/>
<rect x="437.1" y="334.5" width="4.5" height="4.5" fill="#8da0cb"/>
<circle cx="630.2" cy="236.3" r="2.5" fill="#fc8d62"/>
<circle cx="481.3" cy="344.8" r="2.5" fill="#fc8d62"/>
<rect x="217.8" y="366.7" width="4.5" height="4.5" fill="#8da0cb"/>
<path d="M488.8 350.6l3 5.2h-6z" fill="#66c2a5"/>
<rect x="405.6" y="151.7" width="4.5" height="4.5" fill="#8da0cb"/>
<circle cx="594.8" cy="333.4" r="2.5" fill="#fc8d62"/>
<circle cx="427" cy="326.9" r="2.5" fill="#fc8d62"/>
<path d="M541.5 267.6l3 5.2h-6z" fill="#66c2a5"/>
<circle cx="482.7" cy="349.5" r="2.5" fill="#fc8d62"/>
<path d="M437.2 376.2l3 5.2h-6z" fill="#66c2a5"/>
<rect x="459.4" y="293.8" width="4.5" height="4.5" fill="#8da0cb"/>
<path d="M484.4 283.7l3 5.2h-6z" fill="#66c2a5"/>
<circle cx="475.1" cy="294.2" r="2.5" fill="#fc8d62"/>
<rect x="333.9" y="326.4" width="4.5" height="4.5" fill="#8da0cb"/>
<rect x="498.6" y="287" width="4.5" height="4.5" fill="#8da0cb"/>
<rect x="357.4" y="193.1" width="4.5" height="4.5" fill="#8da0cb"/>
<path d="M429.2 409.4l3 5.2h-6z" fill="#66c2a5"/>
<circle cx="617" cy="320.1" r="2.5" fill="#fc8d62"/>
<path d="M568.9 189.5l3 5.2h-6z" fill="#66c2a5"/>
<path d="M398 480.5l3 5.2h-6z" fill="#66c2a5"/>
<circle cx="559.5" cy="329.7" r="2.5" fill="#fc8d62"/>
<circle cx="568.7" cy="254.7" r="2.5" fill="#fc8d62"/>
<circle cx="487.2" cy="322.9" r="2.5" fill="#fc8d62"/>
<rect x="398.7" y="281.6" width="4.5" height="4.5" fill="#8da0cb"/>
<path d="M454.1 299.8l3 5.2h-6z" fill="#66c2a5"/>
<rect x="394.9" y="77.9" width="4.5" height="4.5" fill="#8da0cb"/>
<rect x="384" y="334.5" width="4.5" height="4.5" fill="#8da0cb"/>
<circle cx="500.1" cy="328.6" r="2.5" fill="#fc8d62"/>
<rect x="508.8" y="199" width="4.5" height="4.5" fill="#8da0cb"/>
<rect x="434.4" y="171.6" width="4.5" height="4.5" fill="#8da0cb"/>
<circle cx="536.8" cy="383.5" r="2.5" fill="#fc8d62"/>
<rect x="309.6" y="335.4" width="4.5" height="4.5" fill="#8da0cb"/>
<rect x="421.8" y="247.7" width="4.5" height="4.5" fill="#8da0cb"/>
<rect x="442.4" y="221.9" width="4.5" height="4.5" fill="#8da0cb"/>
<circle cx="595.5" cy="246.5" r="2.5" fill="#fc8d62"/>
<path d="M547.2 295l3 5.2h-6z" fill="#66c2a5"/>
<rect x="333.3" y="235.1" width="4.5" height="4.5" fill="#8da0cb"/>
<path d="M555.3 370.6l3 5.2h-6z" fill="#66c2a5"/>
<path d="M514.5 359.5l3 5.2h-6z" fill="#66c2a5"/>
<circle cx="343.4" cy="306.4" r="2.5" fill="#fc8d62"/>
<circle cx="480.6" cy="421.9" r="2.5" fill="#fc8d62"/>
<circle cx="509.8" cy="327.4" r="2.5" fill="#fc8d62"/>
<path d="M534.9 271l3 5.2h-6z" fill="#66c2a5"/>
<rect x="441.9" y="232.5" width="4.5" height="4.5" fill="#8da0cb"/>
<path d="M535.3 322.7l3 5.2h-6z" fill="#66c2a5"/>
<circle cx="508.5" cy="349.9" r="2.5" fill="#fc8d62"/>
<circle cx="367.6" cy="308.2" r="2.5" fill="#fc8d62"/>
<circle cx="559.6" cy="424.6" r="2.5" fill="#fc8d62"/>
<rect x="326.8" y="335.5" width="4.5" height="4.5" fill="#8da0cb"/>
<circle cx="501.9" cy="240.8" r="2.5" fill="#fc8d62"/>
<rect x="373.9" y="297.8" width="4.5" height="4.5" fill="#8da0cb"/>
<path d="M478.3 349.4l3 5.2h-6z" fill="#66c2a5"/>
<circle cx="473.2" cy="287.2" r="2.5" fill="#fc8d62"/>
<path d="M458.1 353.1l3 5.2h-6z" fill="#66c2a5"/>
<rect x="367.6" y="219.3" width="4.5" height="4.5" fill="#8da0cb"/>
<path d="M419.8 394l3 5.2h-6z" fill="#66c2a5"/>
<path d="M419.8 354.7l3 5.2h-6z" fill="#66c2a5"/>
<circle cx="544.5" cy="207.1" r="2.5" fill="#fc8d62"/>
<circle cx="511.3" cy="327.5" r="2.5" fill="#fc8d62"/>
<circle cx="464.1" cy="426.3" r="2.5" fill="#fc8d62"/>
<circle cx="499.3" cy="285.8" r="2.5" fill="#fc8d62"/>
<rect x="320" y="350.2" width="4.5" height="4.5" fill="#8da0cb"/>
<rect x="416.1" y="279.2" width="4.5" height="4.5" fill="#8da0cb"/>
<circle cx="552.8" cy="291.9" r="2.5" fill="#fc8d62"/>
<circle cx="578.4" cy="334" r="2.5" fill="#fc8d62"/>
<circle cx="440.3" cy="328.5" r="2.5" fill="#fc8d62"/>
<rect x="330.9" y="150.7" width="4.5" height="4.5" fill="#8da0cb"/>
<rect x="456.2" y="218.9" width="4.5" height="4.5" fill="#8da0cb"/>
<rect x="449.3" y="229.6" width="4.5" height="4.5" fill="#8da0cb"/>
<rect x="321" y="220.8" width="4.5" height="4.5" fill="#8da0cb"/>
<circle cx="554.2" cy="336.9" r="2.5" fill="#fc8d62"/>
<circle cx="332.6" cy="348" r="2.5" fill="#fc8d62"/>
<path d="M455.1 251.7l3 5.2h-6z" fill="#66c2a5"/>
<circle cx="548.7" cy="259.1" r="2.5" fill="#fc8d62"/>
<path d="M606.2 376.6l3 5.2h-6z" fill="#66c2a5"/>
<path d="M491.4 284.5l3 5.2h-6z" fill="#66c2a5"/>
<rect x="547.2" y="423.6" width="4.5" height="4.5" fill="#8da0cb"/>
<rect x="479" y="264.8" width="4.5" height="4.5" fill="#8da0cb"/>
<circle cx="516.5" cy="334.6" r="2.5" fill="#fc8d62"/>
<circle cx="439.7" cy="321.7" r="2.5" fill="#fc8d62"/>
<circle cx="457.4" cy="336.5" r="2.5" fill="#fc8d62"/>
<rect x="501" y="256.8" width="4.5" height="4.5" fill="#8da0cb"/>
<circle cx="445.2" cy="334.8" r="2.5" fill="#fc8d62"/>
<path d="M346.6 457.5l3 5.2h-6z" fill="#66c2a5"/>
<path d="M483.3 271.3l3 5.2h-6z" fill="#66c2a5"/>
<path d="M439.6 397.6l3 5.2h-6z" fill="#66c2a5"/>
<rect x="330.2" y="312.2" width="4.5" height="4.5" fill="#8da0cb"/>
<circle cx="480.5" cy="333.3" r="2.5" fill="#fc8d62"/>
<circle cx="547.7" cy="363.8" r="2.5" fill="#fc8d62"/>
<rect x="399.7" y="237.1" width="4.5" height="4.5" fill="#8da0cb"/>
<rect x="478.8" y="275.7" width="4.5" height="4.5" fill="#8da0cb"/>
<circle cx="419.4" cy="322.9" r="2.5" fill="#fc8d62"/>
<circle cx="518" cy="330.5" r="2.5" fill="#fc8d62"/>
<rect x="456.1" y="277.9" width="4.5" height="4.5" fill="#8da0cb"/>
<circle cx="478.3" cy="273.8" r="2.5" fill="#fc8d62"/>
<path d="M581.5 235.8l3 5.2h-6z" fill="#66c2a5"/>
<rect x="535.8" y="188" width="4.5" height="4.5" fill="#8da0cb"/>
<path d="M564.9 291.3l3 5.2h-6z" fill="#66c2a5"/>
<path d="M445.4 341l3 5.2h-6z" fill="#66c2a5"/>
<path d="M589.3 284l3 5.2h-6z" fill="#66c2a5"/>
<rect x="238.7" y="349.9" width="4.5" height="4.5" fill="#8da0cb"/>
<circle cx="474.1" cy="268.2" r="2.5" fill="#fc8d62"/>
<circle cx="439.3" cy="366.8" r="2.5" fill="#fc8d62"/>
<rect x="398.1" y="246.6" width="4.5" height="4.5" fill="#8da0cb"/>
<circle cx="441.9" cy="439.3" r="2.5" fill="#fc8d62"/>
<rect x="267.2" y="272.9" width="4.5" height="4.5" fill="#8da0cb"/>
<path d="M538.4 371.2l3 5.2h-6z" fill="#66c2a5"/>
<rect x="381.5" y="244.5" width="4.5" height="4.5" fill="#8da0cb"/>
<path d="M556.7 264.2l3 5.2h-6z" fill="#66c2a5"/>
<circle cx="566.8" cy="333.6" r="2.5" fill="#fc8d62"/>
<rect x="403.5" y="285" width="4.5" height="4.5" fill="#8da0cb"/>
<circle cx="500.7" cy="422.2" r="2.5" fill="#fc8d62"/>
<path d="M448 300.4l3 5.2h-6z" fill="#66c2a5"/>
<rect x="497.4" y="150.7" width="4.5" height="4.5" fill="#8da0cb"/>
<rect x="343.7" y="283.7" width="4.5" height="4.5" fill="#8da0cb"/>
<circle cx="604.7" cy="300.8" r="2.5" fill="#fc8d62"/>
<circle cx="594.2" cy="279.3" r="2.5" fill="#fc8d62"/>
<rect x="396.4" y="318.6" width="4.5" height="4.5" fill="#8da0cb"/>
<circle cx="617" cy="238.1" r="2.5" fill="#fc8d62"/>
<rect x="431" y="264.6" width="4.5" height="4.5" fill="#8da0cb"/>
<circle cx="478.7" cy="253.5" r="2.5" fill="#fc8d62"/>
<circle cx="475.8" cy="362.4" r="2.5" fill="#fc8d62"/>
<circle cx="531.3" cy="269.9" r="2.5" fill="#fc8d62"/>
<circle cx="533.7" cy="353.6" r="2.5" fill="#fc8d62"/>
<rect x="300.5" y="202" width="4.5" height="4.5" fill="#8da0cb"/>
<circle cx="496.9" cy="260.4" r="2.5" fill="#fc8d62"/>
<rect x="396.6" y="356" width="4.5" height="4.5" fill="#8da0cb"/>
<rect x="275.1" y="370.9" width="4.5" height="4.5" fill="#8da0cb"/>
<rect x="477.5" y="253.1" width="4.5" height="4.5" fill="#8da0cb"/>
<rect x="426.9" y="342.5" width="4.5" height="4.5" fill="#8da0cb"/>
<circle cx="627.1" cy="403.7" r="2.5" fill="#fc8d62"/>
<rect x="314.8" y="251.9" width="4.5" height="4.5" fill="#8da0cb"/>
<path d="M532.2 266.7l3 5.2h-6z" fill="#66c2a5"/>
<path d="M558.4 379.9l3 5.2h-6z" fill="#66c2a5"/>
<rect x="377.3" y="213.3" width="4.5" height="4.5" fill="#8da0cb"/>
<rect x="570.3" y="274.2" width="4.5" height="4.5" fill="#8da0cb"/>
<rect x="315.3" y="225" width="4.5" height="4.5" fill="#8da0cb"/>
<path d="M558.6 335.5l3 5.2h-6z" fill="#66c2a5"/>
<rect x="416" y="328.4" width="4.5" height="4.5" fill="#8da0cb"/>
<path d="M576.1 344.4l3 5.2h-6z" fill="#66c2a5"/>
<path d="M429.2 310.8l3 5.2h-6z" fill="#66c2a5"/>
<rect x="387.9" y="323.8" width="4.5" height="4.5" fill="#8da0cb"/>
<circle cx="447.5" cy="491.9" r="2.5" fill="#fc8d62"/>
<circle cx="418.8" cy="220.6" r="2.5" fill="#fc8d62"/>
<path d="M533.4 276.3l3 5.2h-6z" fill="#66c2a5"/>
<rect x="448.7" y="302.3" width="4.5" height="4.5" fill="#8da0cb"/>
<path d="M504.4 284.1l3 5.2h-6z" fill="#66c2a5"/>
<path d="M436.3 360.8l3 5.2h-6z" fill="#66c2a5"/>
<path d="M385.8 336.6l3 5.2h-6z" fill="#66c2a5"/>
<circle cx="603.6" cy="308.2" r="2.5" fill="#fc8d62"/>
<circle cx="521.6" cy="305.5" r="2.5" fill="#fc8d62"/>
<circle cx="597.7" cy="231.9" r="2.5" fill="#fc8d62"/>
<circle cx="537.6" cy="268.2" r="2.5" fill="#fc8d62"/>
<rect x="467.7" y="368.7" width="4.5" height="4.5" fill="#8da0cb"/>
<path d="M487.7 328.4l3 5.2h-6z" fill="#66c2a5"/>
<circle cx="614.4" cy="306.6" r="2.5" fill="#fc8d62"/>
<path d="M421 158.1l3 5.2h-6z" fill="#66c2a5"/>
<circle cx="518.9" cy="258.4" r="2.5" fill="#fc8d62"/>
<circle cx="697.3" cy="253.4" r="2.5" fill="#fc8d62"/>
<path d="M258.1 388.5l3 5.2h-6z" fill="#66c2a5"/>
<circle cx="439.9" cy="361.9" r="2.5" fill="#fc8d62"/>
<path d="M395 250.2l3 5.2h-6z" fill="#66c2a5"/>
<rect x="311.4" y="231.6" width="4.5" height="4.5" fill="#8da0cb"/>
<circle cx="529.7" cy="330.3" r="2.5" fill="#fc8d62"/>
<path d="M418 354.5l3 5.2h-6z" fill="#66c2a5"/>
<circle cx="590" cy="269.8" r="2.5" fill="#fc8d62"/>
<rect x="469.4" y="279.3" width="4.5" height="4.5" fill="#8da0cb"/>
<path d="M483 254.8l3 5.2h-6z" fill="#66c2a5"/>
<path d="M540.9 402.6l3 5.2h-6z" fill="#66c2a5"/>
<path d="M333.4 380.8l3 5.2h-6z" fill="#66c2a5"/>
<path d="M507.7 421.2l3 5.2h-6z" fill="#66c2a5"/>
<path d="M486.3 324.1l3 5.2h-6z" fill="#66c2a5"/>
<rect x="530.2" y="321.8" width="4.5" height="4.5" fill="#8da0cb"/>
<rect x="319.5" y="205.2" width="4.5" height="4.5" fill="#8da0cb"/>
<circle cx="544.1" cy="327.7" r="2.5" fill="#fc8d62"/>
<path d="M485 294.3l3 5.2h-6z" fill="#66c2a5"/>
<circle cx="547.7" cy="202.4" r="2.5" fill="#fc8d62"/>
<rect x="389.7" y="332" width="4.5" height="4.5" fill="#8da0cb"/>
<circle cx="607.6" cy="189.8" r="2.5" fill="#fc8d62"/>
<path d="M482.6 383.6l3 5.2h-6z" fill="#66c2a5"/>
<rect x="442.8" y="228.9" width="4.5" height="4.5" fill="#8da0cb"/>
<circle cx="434.6" cy="347.8" r="2.5" fill="#fc8d62"/>
<circle cx="525.4" cy="212.6" r="2.5" fill="#fc8d62"/>
<circle cx="510.1" cy="356.8" r="2.5" fill="#fc8d62"/>
<rect x="464.3" y="313.4" width="4.5" height="4.5" fill="#8da0cb"/>
<path d="M530.6 364.6l3 5.2h-6z" fill="#66c2a5"/>
<circle cx="532.5" cy="292.1" r="2.5" fill="#fc8d62"/>
<path d="M397 119.7l3 5.2h-6z" fill="#66c2a5"/>
<rect x="395" y="268.5" width="4.5" height="4.5" fill="#8da0cb"/>
<rect x="487.2" y="291.2" width="4.5" height="4.5" fill="#8da0cb"/>
<path d="M479 356.2l3 5.2h-6z" fill="#66c2a5"/>
<rect x="301.7" y="216.5" width="4.5" height="4.5" fill="#8da0cb"/>
<circle cx="513.7" cy="257.8" r="2.5" fill="#fc8d62"/>
<rect x="346.2" y="254.6" width="4.5" height="4.5" fill="#8da0cb"/>
<rect x="335.2" y="380.3" width="4.5" height="4.5" fill="#8da0cb"/>
<rect x="305.5" y="244" width="4.5" height="4.5" fill="#8da0cb"/>
<path d="M441.4 154.7l3 5.2h-6z" fill="#66c2a5"/>
<circle cx="500.3" cy="358.4" r="2.5" fill="#fc8d62"/>
<circle cx="632" cy="298.6" r="2.5" fill="#fc8d62"/>
<rect x="455.6" y="176.9" width="4.5" height="4.5" fill="#8da0cb"/>
<path d="M482.8 229l3 5.2h-6z" fill="#66c2a5"/>
<circle cx="501.1" cy="323.9" r="2.5" fill="#fc8d62"/>
<path d="M624.5 211.4l3 5.2h-6z" fill="#66c2a5"/>
<rect x="407.7" y="278" width="4.5" height="4.5" fill="#8da0cb"/>
<path d="M406.6 360.7l3 5.2h-6z" fill="#66c2a5"/>
<circle cx="495.6" cy="240.7" r="2.5" fill="#fc8d62"/>
<rect x="353.5" y="338.2" width="4.5" height="4.5" fill="#8da0cb"/>
<circle cx="612.6" cy="344.2" r="2.5" fill="#fc8d62"/>
<rect x="361.5" y="291.9" width="4.5" height="4.5" fill="#8da0cb"/>
<path d="M507.6 403.6l3 5.2h-6z" fill="#66c2a5"/>
<path d="M436.4 378.3l3 5.2h-6z" fill="#66c2a5"/>
<circle cx="364.9" cy="417.8" r="2.5" fill="#fc8d62"/>
<circle cx="480.3" cy="279.8" r="2.5" fill="#fc8d62"/>
<path d="M426.3 319.6l3 5.2h-6z" fill="#66c2a5"/>
<path d="M512.8 222.9l3 5.2h-6z" fill="#66c2a5"/>
<rect x="482.2" y="199.5" width="4.5" height="4.5" fill="#8da0cb"/>
<circle cx="425.7" cy="197.3" r="2.5" fill="#fc8d62"/>
<rect x="422.9" y="192.9" width="4.5" height="4.5" fill="#8da0cb"/>
<circle cx="623.8" cy="339.5" r="2.5" fill="#fc8d62"/>
<path d="M563.6 324.6l3 5.2h-6z" fill="#66c2a5"/>
<path d="M572.9 333.4l3 5.2h-6z" fill="#66c2a5"/>
<path d="M378.2 374l3 5.2h-6z" fill="#66c2a5"/>
<rect x="317.8" y="434.3" width="4.5" height="4.5" fill="#8da0cb"/>
<rect x="412.7" y="355" width="4.5" height="4.5" fill="#8da0cb"/>
<rect x="481.2" y="160.4" width="4.5" height="4.5" fill="#8da0cb"/>
<rect x="497.6" y="320.8" width="4.5" height="4.5" fill="#8da0cb"/>
<rect x="529" y="168.9" width="4.5" height="4.5" fill="#8da0cb"/>
<rect x="382.7" y="292.9" width="4.5" height="4.5" fill="#8da0cb"/>
<path d="M465.2 238.8l3 5.2h-6z" fill="#66c2a5"/>
<circle cx="496.9" cy="320.8" r="2.5" fill="#fc8d62"/>
<rect x="443.5" y="272.7" width="4.5" height="4.5" fill="#8da0cb"/>
<rect x="356.2" y="208.5" width="4.5" height="4.5" fill="#8da0cb"/>
<circle cx="496.7" cy="333.4" r="2.5" fill="#fc8d62"/>
<circle cx="485.8" cy="263.3" r="2.5" fill="#fc8d62"/>
<circle cx="491.4" cy="341.9" r="2.5" fill="#fc8d62"/>
<circle cx="509.7" cy="253.3" r="2.5" fill="#fc8d62"/>
<circle cx="501.5" cy="207.9" r="2.5" fill="#fc8d62"/>
<rect x="329.8" y="252.5" width="4.5" height="4.5" fill="#8da0cb"/>
<rect x="417.9" y="360.5" width="4.5" height="4.5" fill="#8da0cb"/>
<rect x="398.9" y="291.1" width="4.5" height="4.5" fill="#8da0cb"/>
<path d="M410.1 338.7l3 5.2h-6z" fill="#66c2a5"/>
<rect x="444.3" y="291.8" width="4.5" height="4.5" fill="#8da0cb"/>
<path d="M495.5 280.6l3 5.2h-6z" fill="#66c2a5"/>
<rect x="406.4" y="276.9" width="4.5" height="4.5" fill="#8da0cb"/>
<circle cx="558.6" cy="246.2" r="2.5" fill="#fc8d62"/>
<circle cx="522.9" cy="282.4" r="2.5" fill="#fc8d62"/>
<circle cx="537.8" cy="317.5" r="2.5" fill="#fc8d62"/>
<path d="M437.3 376.1l3 5.2h-6z" fill="#66c2a5"/>
<circle cx="625.3" cy="243.4" r="2.5" fill="#fc8d62"/>
<path d="M528 284.5l3 5.2h-6z" fill="#66c2a5"/>
<rect x="345.6" y="292.7" width="4.5" height="4.5" fill="#8da0cb"/>
<circle cx="552.7" cy="364.9" r="2.5" fill="#fc8d62"/>
<path d="M377.2 250.6l3 5.2h-6z" fill="#66c2a5"/>
<circle cx="568" cy="275.4" r="2.5" fill="#fc8d62"/>
<circle cx="412.5" cy="342.4" r="2.5" fill="#fc8d62"/>
<path d="M461 221.3l3 5.2h-6z" fill="#66c2a5"/>
<circle cx="436.1" cy="345.3" r="2.5" fill="#fc8d62"/>
<path d="M390.9 443.1l3 5.2h-6z" fill="#66c2a5"/>
<path d="M552.9 351.8l3 5.2h-6z" fill="#66c2a5"/>
<rect x="325.8" y="183.9" width="4.5" height="4.5" fill="#8da0cb"/>
<path d="M506.7 347.3l3 5.2h-6z" fill="#66c2a5"/>
<rect x="426.4" y="276.8" width="4.5" height="4.5" fill="#8da0cb"/>
<circle cx="545.5" cy="353.7" r="2.5" fill="#fc8d62"/>
<circle cx="501.9" cy="370.9" r="2.5" fill="#fc8d62"/>
<path d="M604.5 301.2l3 5.2h-6z" fill="#66c2a5"/>
<circle cx="555.6" cy="277.9" r="2.5" fill="#fc8d62"/>
<path d="M662 258.7l3 5.2h-6z" fill="#66c2a5"/>
<rect x="314.1" y="351.2" width="4.5" height="4.5" fill="#8da0cb"/>
<path d="M422.4 256.2l3 5.2h-6z" fill="#66c2a5"/>
<path d="M441.4 346.9l3 5.2h-6z" fill="#66c2a5"/>
<path d="M556.9 192.5l3 5.2h-6z" fill="#66c2a5"/>
<rect x="496.4" y="310.8" width="4.5" height="4.5" fill="#8da0cb"/>
<circle cx="547.5" cy="268.9" r="2.5" fill="#fc8d62"/>
<rect x="432.6" y="173.7" width="4.5" height="4.5" fill="#8da0cb"/>
<rect x="347.9" y="217.9" width="4.5" height="4.5" fill="#8da0cb"/>
<rect x="321.6" y="278.9" width="4.5" height="4.5" fill="#8da0cb"/>
<rect x="534.3" y="269" width="4.5" height="4.5" fill="#8da0cb"/>
<rect x="354.1" y="236.9" width="4.5" height="4.5" fill="#8da0cb"/>
<path d="M502.4 301.1l3 5.2h-6z" fill="#66c2a5"/>
<circle cx="489.4" cy="224.6" r="2.5" fill="#fc8d62"/>
<path d="M571.5 344.8l3 5.2h-6z" fill="#66c2a5"/>
<rect x="395.2" y="251.3" width="4.5" height="4.5" fill="#8da0cb"/>
<circle cx="491.6" cy="340.7" r="2.5" fill="#fc8d62"/>
<rect x="315.2" y="352.6" width="4.5" height="4.5" fill="#8da0cb"/>
<rect x="592.3" y="340.3" width="4.5" height="4.5" fill="#8da0cb"/>
<path d="M441.7 245.4l3 5.2h-6z" fill="#66c2a5"/>
<path d="M445 346.3l3 5.2h-6z" fill="#66c2a5"/>
<rect x="439.7" y="309.3" width="4.5" height="4.5" fill="#8da0cb"/>
<circle cx="444" cy="274.9" r="2.5" fill="#fc8d62"/>
<rect x="445.4" y="269" width="4.5" height="4.5" fill="#8da0cb"/>
<circle cx="391.7" cy="429.7" r="2.5" fill="#fc8d62"/>
<rect x="261.2" y="170" width="4.5" height="4.5" fill="#8da0cb"/>
<circle cx="522.7" cy="300.1" r="2.5" fill="#fc8d62"/>
<circle cx="520" cy="456.5" r="2.5" fill="#fc8d62"/>
<circle cx="476.5" cy="296.1" r="2.5" fill="#fc8d62"/>
<path d="M427.5 427.9l3 5.2h-6z" fill="#66c2a5"/>
<path d="M422.5 357.1l3 5.2h-6z" fill="#66c2a5"/>
<circle cx="548.5" cy="269.7" r="2.5" fill="#fc8d62"/>
<rect x="508.5" y="396.6" width="4.5" height="4.5" fill="#8da0cb"/>
<rect x="366" y="318.7" width="4.5" height="4.5" fill="#8da0cb"/>
<path d="M431.4 396.9l3 5.2h-6z" fill="#66c2a5"/>
<path d="M418.3 349.3l3 5.2h-6z" fill="#66c2a5"/>
<circle cx="333.9" cy="342.9" r="2.5" fill="#fc8d62"/>
<rect x="289.9" y="407.7" width="4.5" height="4.5" fill="#8da0cb"/>
<rect x="299.3" y="327.4" width="4.5" height="4.5" fill="#8da0cb"/>
<rect x="319.8" y="216.2" width="4.5" height="4.5" fill="#8da0cb"/>
<rect x="381.6" y="301" width="4.5" height="4.5" fill="#8da0cb"/>
<rect x="382.9" y="208.7" width="4.5" height="4.5" fill="#8da0cb"/>
<circle cx="561.6" cy="238" r="2.5" fill="#fc8d62"/>
<rect x="581.2" y="231.7" width="4.5" height="4.5" fill="#8da0cb"/>
<path d="M487 362.7l3 5.2h-6z" fill="#66c2a5"/>
<path d="M495.4 271.6l3 5.2h-6z" fill="#66c2a5"/>
<path d="M437.3 337.6l3 5.2h-6z" fill="#66c2a5"/>
<path d="M440 420.6l3 5.2h-6z" fill="#66c2a5"/>
<circle cx="565.1" cy="216.6" r="2.5" fill="#fc8d62"/>
<circle cx="409.6" cy="385.4" r="2.5" fill="#fc8d62"/>
<circle cx="536.6" cy="171.6" r="2.5" fill="#fc8d62"/>
<rect x="530.4" y="281.6" width="4.5" height="4.5" fill="#8da0cb"/>
<path d="M509.3 330.4l3 5.2h-6z" fill="#66c2a5"/>
<circle cx="529.6" cy="382.3" r="2.5" fill="#fc8d62"/>
<rect x="308.9" y="332.5" width="4.5" height="4.5" fill="#8da0cb"/>
<path d="M289.9 367.8l3 5.2h-6z" fill="#66c2a5"/>
<rect x="293.5" y="325" width="4.5" height="4.5" fill="#8da0cb"/>
<rect x="577.6" y="194.4" width="4.5" height="4.5" fill="#8da0cb"/>
<path d="M460.7 379.8l3 5.2h-6z" fill="#66c2a5"/>
<rect x="499.7" y="193.8" width="4.5" height="4.5" fill="#8da0cb"/>
<circle cx="587.3" cy="359" r="2.5" fill="#fc8d62"/>
<path d="M494.9 349l3 5.2h-6z" fill="#66c2a5"/>
<rect x="421.4" y="286.7" width="4.5" height="4.5" fill="#8da0cb"/>
<path d="M422.9 366l3 5.2h-6z" fill="#66c2a5"/>
<circle cx="492.8" cy="301" r="2.5" fill="#fc8d62"/>
<circle cx="529.1" cy="375.2" r="2.5" fill="#fc8d62"/>
<path d="M448.1 278l3 5.2h-6z" fill="#66c2a5"/>
<rect x="381.2" y="182.6" width="4.5" height="4.5" fill="#8da0cb"/>
<circle cx="531.5" cy="363.6" r="2.5" fill="#fc8d62"/>
<circle cx="548.1" cy="354.6" r="2.5" fill="#fc8d62"/>
<rect x="414.8" y="322.7" width="4.5" height="4.5" fill="#8da0cb"/>
<rect x="302.3" y="331.7" width="4.5" height="4.5" fill="#8da0cb"/>
<path d="M469.1 501.4l3 5.2h-6z" fill="#66c2a5"/>
<circle cx="548.1" cy="294.4" r="2.5" fill="#fc8d62"/>
<rect x="398.9" y="238.8" width="4.5" height="4.5" fill="#8da0cb"/>
<path d="M479.6 306.4l3 5.2h-6z" fill="#66c2a5"/>
<rect x="326.4" y="512.7" width="4.5" height="4.5" fill="#8da0cb"/>
<path d="M385 330.9l3 5.2h-6z" fill="#66c2a5"/>
<circle cx="487.5" cy="235.6" r="2.5" fill="#fc8d62"/>
<path d="M518.3 467.7l3 5.2h-6z" fill="#66c2a5"/>
<rect x="538" y="248.4" width="4.5" height="4.5" fill="#8da0cb"/>
<rect x="446.7" y="178.8" width="4.5" height="4.5" fill="#8da0cb"/>
<circle cx="544.9" cy="304" r="2.5" fill="#fc8d62"/>
<path d="M435.6 270.3l3 5.2h-6z" fill="#66c2a5"/>
<path d="M461.8 379.3l3 5.2h-6z" fill="#66c2a5"/>
<rect x="324" y="358.9" width="4.5" height="4.5" fill="#8da0cb"/>
<circle cx="545.1" cy="229.4" r="2.5" fill="#fc8d62"/>
<circle cx="558.1" cy="341.6" r="2.5" fill="#fc8d62"/>
<circle cx="573.9" cy="354.2" r="2.5" fill="#fc8d62"/>
<rect x="353.2" y="409.3" width="4.5" height="4.5" fill="#8da0cb"/>
<path d="M529.5 260.6l3 5.2h-6z" fill="#66c2a5"/>
<circle cx="570.7" cy="314.9" r="2.5" fill="#fc8d62"/>
<path d="M545.6 217.7l3 5.2h-6z" fill="#66c2a5"/>
<path d="M375 293.5l3 5.2h-6z" fill="#66c2a5"/>
<path d="M574.9 208.1l3 5.2h-6z" fill="#66c2a5"/>
<circle cx="651.4" cy="334.2" r="2.5" fill="#fc8d62"/>
<rect x="319.8" y="419.7" width="4.5" height="4.5" fill="#8da0cb"/>
</g>
<path d="M658.4 284.9 L658.2 278.6 L657.6 272.3 L656.7 266.2 L655.3 260.3 L653.6 254.5 L651.5 248.9 L649.1 243.4 L646.2 238.2 L643.1 233.2 L639.6 228.4 L635.7 223.9 L631.5 219.6 L627.1 215.7 L622.3 211.9 L617.2 208.5 L611.9 205.4 L606.3 202.6 L600.4 200.1 L594.4 198 L588.1 196.1 L581.6 194.6 L575 193.5 L568.2 192.7 L561.2 192.2 L554.2 192.1 L547 192.3 L539.8 192.9 L532.5 193.8 L525.2 195.1 L517.8 196.7 L510.4 198.6 L503.1 200.9 L495.8 203.5 L488.6 206.4 L481.4 209.6 L474.4 213.1 L467.4 216.9 L460.6 221 L454 225.3 L447.5 229.9 L441.2 234.8 L435.2 239.9 L429.3 245.2 L423.7 250.7 L418.4 256.3 L413.3 262.2 L408.5 268.2 L404.1 274.3 L399.9 280.6 L396 287 L392.5 293.4 L389.4 300 L386.5 306.5 L384.1 313.1 L382 319.8 L380.3 326.4 L378.9 333 L378 339.6 L377.4 346.1 L377.2 352.5 L377.4 358.8 L378 365.1 L378.9 371.2 L380.3 377.1 L382 382.9 L384.1 388.5 L386.5 394 L389.4 399.2 L392.5 404.2 L396 409 L399.9 413.5 L404.1 417.8 L408.5 421.7 L413.3 425.5 L418.4 428.9 L423.7 432 L429.3 434.8 L435.2 437.3 L441.2 439.4 L447.5 441.3 L454 442.8 L460.6 443.9 L467.4 444.7 L474.4 445.2 L481.4 445.3 L488.6 445.1 L495.8 444.5 L503.1 443.6 L510.4 442.3 L517.8 440.7 L525.2 438.8 L532.5 436.5 L539.8 433.9 L547 431 L554.2 427.8 L561.2 424.3 L568.2 420.5 L575 416.4 L581.6 412.1 L588.1 407.5 L594.4 402.6 L600.4 397.5 L606.3 392.2 L611.9 386.7 L617.2 381.1 L622.3 375.2 L627.1 369.2 L631.5 363.1 L635.7 356.8 L639.6 350.4 L643.1 344 L646.2 337.4 L649.1 330.9 L651.5 324.3 L653.6 317.6 L655.3 311 L656.7 304.4 L657.6 297.8 L658.2 291.3 L658.4 284.9Z" fill="none" stroke="#fc8d62" stroke-width="2"/>
<path d="M565.9 256.5 L565.7 249.5 L565 242.5 L563.8 235.5 L562.3 228.7 L560.2 222.1 L557.7 215.5 L554.8 209.1 L551.5 202.9 L547.7 196.9 L543.6 191.1 L539 185.6 L534.1 180.3 L528.8 175.2 L523.1 170.4 L517.1 165.9 L510.7 161.7 L504.1 157.8 L497.2 154.2 L490 150.9 L482.6 148 L474.9 145.5 L467 143.2 L458.9 141.4 L450.7 139.9 L442.3 138.8 L433.9 138 L425.3 137.6 L416.6 137.6 L407.9 138 L399.2 138.8 L390.5 139.9 L381.8 141.4 L373.1 143.2 L364.5 145.4 L356.1 148 L347.7 150.9 L339.5 154.1 L331.4 157.7 L323.5 161.6 L315.9 165.8 L308.4 170.3 L301.2 175.1 L294.3 180.1 L287.7 185.5 L281.3 191 L275.3 196.8 L269.6 202.8 L264.3 209 L259.4 215.4 L254.8 221.9 L250.7 228.6 L246.9 235.4 L243.6 242.3 L240.7 249.3 L238.2 256.4 L236.1 263.5 L234.6 270.6 L233.4 277.8 L232.7 285 L232.5 292.1 L232.7 299.1 L233.4 306.1 L234.6 313.1 L236.1 319.9 L238.2 326.5 L240.7 333.1 L243.6 339.5 L246.9 345.7 L250.7 351.7 L254.8 357.5 L259.4 363 L264.3 368.3 L269.6 373.4 L275.3 378.2 L281.3 382.7 L287.7 386.9 L294.3 390.8 L301.2 394.4 L308.4 397.7 L315.8 400.6 L323.5 403.1 L331.4 405.4 L339.5 407.2 L347.7 408.7 L356.1 409.8 L364.5 410.6 L373.1 411 L381.8 411 L390.5 410.6 L399.2 409.8 L407.9 408.7 L416.6 407.2 L425.3 405.4 L433.9 403.2 L442.3 400.6 L450.7 397.7 L458.9 394.5 L467 390.9 L474.9 387 L482.5 382.8 L490 378.3 L497.2 373.5 L504.1 368.5 L510.7 363.1 L517.1 357.6 L523.1 351.8 L528.8 345.8 L534.1 339.6 L539 333.2 L543.6 326.7 L547.7 320 L551.5 313.2 L554.8 306.3 L557.7 299.3 L560.2 292.2 L562.3 285.1 L563.8 278 L565 270.8 L565.7 263.6 L565.9 256.5Z" fill="none" stroke="#8da0cb" stroke-width="2"/>
<path d="M605.9 297.9 L605.7 290.8 L605.2 283.9 L604.2 277 L602.9 270.3 L601.2 263.7 L599.2 257.3 L596.8 251.1 L594.1 245.1 L591 239.3 L587.6 233.8 L583.9 228.5 L579.8 223.4 L575.5 218.7 L570.8 214.2 L565.9 210.1 L560.7 206.2 L555.3 202.7 L549.6 199.5 L543.7 196.7 L537.6 194.2 L531.3 192.1 L524.9 190.4 L518.3 189 L511.5 188 L504.7 187.4 L497.7 187.1 L490.7 187.2 L483.6 187.7 L476.4 188.6 L469.3 189.9 L462.2 191.5 L455 193.5 L447.9 195.9 L440.9 198.6 L433.9 201.7 L427.1 205.1 L420.3 208.8 L413.7 212.9 L407.3 217.3 L401 221.9 L394.9 226.9 L389 232.1 L383.3 237.6 L377.9 243.3 L372.7 249.2 L367.8 255.4 L363.1 261.7 L358.8 268.2 L354.7 274.9 L351 281.7 L347.6 288.7 L344.5 295.7 L341.8 302.8 L339.4 310 L337.4 317.2 L335.7 324.5 L334.4 331.7 L333.4 339 L332.9 346.2 L332.7 353.3 L332.9 360.4 L333.4 367.3 L334.4 374.2 L335.7 380.9 L337.4 387.5 L339.4 393.9 L341.8 400.1 L344.5 406.1 L347.6 411.9 L351 417.4 L354.7 422.7 L358.8 427.8 L363.1 432.5 L367.8 437 L372.7 441.1 L377.9 445 L383.3 448.5 L389 451.7 L394.9 454.5 L401 457 L407.3 459.1 L413.7 460.8 L420.3 462.2 L427.1 463.2 L433.9 463.8 L440.9 464.1 L447.9 464 L455 463.5 L462.2 462.6 L469.3 461.3 L476.4 459.7 L483.6 457.7 L490.7 455.3 L497.7 452.6 L504.7 449.5 L511.5 446.1 L518.3 442.4 L524.9 438.3 L531.3 433.9 L537.6 429.3 L543.7 424.3 L549.6 419.1 L555.3 413.6 L560.7 407.9 L565.9 402 L570.8 395.8 L575.5 389.5 L579.8 383 L583.9 376.3 L587.6 369.5 L591 362.5 L594.1 355.5 L596.8 348.4 L599.2 341.2 L601.2 334 L602.9 326.7 L604.2 319.5 L605.2 312.2 L605.7 305 L605.9 297.9Z" fill="none" stroke="#66c2a5" stroke-width="2"/>
<path d="M107 33V728H786.5" fill="none" stroke="#000" stroke-width="2.2"/>
<text x="91" y="106.8" text-anchor="end" font-weight="bold" font-size="25.5" fill="#4d4d4d">10</text>
<text x="91" y="319" text-anchor="end" font-weight="bold" font-size="25.5" fill="#4d4d4d">0</text>
<text x="91" y="530.5" text-anchor="end" font-weight="bold" font-size="25.5" fill="#4d4d4d">-10</text>
<text x="113.5" y="761.3" text-anchor="middle" font-weight="bold" font-size="25.5" fill="#4d4d4d">-20</text>
<text x="286.7" y="761.3" text-anchor="middle" font-weight="bold" font-size="25.5" fill="#4d4d4d">-10</text>
<text x="459.7" y="761.3" text-anchor="middle" font-weight="bold" font-size="25.5" fill="#4d4d4d">0</text>
<text x="631.7" y="761.3" text-anchor="middle" font-weight="bold" font-size="25.5" fill="#4d4d4d">10</text>
<path d="M100 95.8H107 M100 308H107 M100 519.5H107 M113.5 728V735 M286.7 728V735 M459.7 728V735 M631.7 728V735" stroke="#333" stroke-width="1.8" fill="none"/>
<text x="445.5" y="799.5" text-anchor="middle" font-size="30.7" fill="#000">PC1</text>
<text transform="translate(39.5,380) rotate(-90)" text-anchor="middle" font-size="30.7" fill="#000">PC2</text>
<text x="660" y="557.5" font-size="30.8" fill="#000">Ethnicity</text>
<path d="M661 588.7H676.5" stroke="#fc8d62" stroke-width="1.5"/>
<circle cx="668.7" cy="588.7" r="2.5" fill="#fc8d62"/>
<text x="695" y="597.6" font-size="23" fill="#000">C</text>
<path d="M661 612.9H676.5" stroke="#8da0cb" stroke-width="1.5"/>
<rect x="666.6" y="610.8" width="4.2" height="4.2" fill="#8da0cb"/>
<text x="695" y="622.1" font-size="23" fill="#000">I</text>
<path d="M661 637.1H676.5" stroke="#66c2a5" stroke-width="1.5"/>
<path d="M668.7 634.2l2.7 4.7h-5.4z" fill="#66c2a5"/>
<text x="695" y="646.6" font-size="23" fill="#000">M</text>
<path d="M1428.9 294.1Q1389 532.8 1440.1 296.3 M1599.3 413Q1389 532.8 1604.6 423 M1215.8 363.8Q1389 532.8 1227.2 352.8 M1619.3 458.4Q1389 532.8 1622.6 469.4 M1627.5 491.8Q1389 532.8 1629.2 503.1 M1630.9 525.9Q1389 532.8 1631 537.3 M1590.6 666.7Q1389 532.8 1584 676.1 M1584 676.1Q1389 532.8 1569.6 693.9 M1577 685.1Q1389 532.8 1569.6 693.9 M1561.8 702.2Q1389 532.8 1545 717.8 M1536.1 725Q1389 532.8 1526.9 731.7 M1507.4 743.8Q1389 532.8 1497.3 749.2 M1497.3 749.2Q1389 532.8 1476.4 758.5 M1476.4 758.5Q1389 532.8 1465.6 762.3 M1443.6 768.6Q1389 532.8 1432.4 770.9 M1421.1 772.7Q1389 532.8 1409.7 773.9 M1409.7 773.9Q1389 532.8 1386.9 774.8 M1386.9 774.8Q1389 532.8 1375.4 774.4 M1266.8 741.7Q1389 532.8 1257.1 735.7 M1257.1 735.7Q1389 532.8 1238.5 722.3 M1247.7 729.2Q1389 532.8 1229.7 715 M1238.5 722.3Q1389 532.8 1221.3 707.3 M1229.7 715Q1389 532.8 1213.2 699.2 M1221.3 707.3Q1389 532.8 1205.6 690.7 M1213.2 699.2Q1389 532.8 1198.3 681.8 M1205.6 690.7Q1389 532.8 1191.5 672.6 M1198.3 681.8Q1389 532.8 1185.1 663.1 M1191.5 672.6Q1389 532.8 1179.2 653.3 M1185.1 663.1Q1389 532.8 1173.7 643.3 M1266.8 741.7Q1389 532.8 1213.2 699.2 M1247.7 729.2Q1389 532.8 1198.3 681.8 M1173.7 643.3Q1389 532.8 1164.2 622.5 M1168.7 633Q1389 532.8 1160.2 611.7 M1164.2 622.5Q1389 532.8 1156.8 600.8 M1160.2 611.7Q1389 532.8 1153.8 589.8 M1156.8 600.8Q1389 532.8 1151.4 578.6 M1153.8 589.8Q1389 532.8 1149.5 567.3 M1151.4 578.6Q1389 532.8 1148.1 555.9 M1149.5 567.3Q1389 532.8 1147.3 544.5 M1148.1 555.9Q1389 532.8 1147 533.1 M1147.3 544.5Q1389 532.8 1147.3 521.6 M1147 533.1Q1389 532.8 1148.1 510.2 M1147.3 521.6Q1389 532.8 1149.4 498.8 M1148.1 510.2Q1389 532.8 1151.3 487.6 M1149.4 498.8Q1389 532.8 1153.7 476.4 M1151.3 487.6Q1389 532.8 1156.6 465.3 M1153.7 476.4Q1389 532.8 1160.1 454.4 M1156.6 465.3Q1389 532.8 1164 443.7 M1160.1 454.4Q1389 532.8 1168.5 433.1 M1164 443.7Q1389 532.8 1173.4 422.8 M1168.5 433.1Q1389 532.8 1178.9 412.7 M1164.2 622.5Q1389 532.8 1151.4 578.6 M1156.8 600.8Q1389 532.8 1148.1 555.9 M1151.4 578.6Q1389 532.8 1147 533.1 M1148.1 555.9Q1389 532.8 1148.1 510.2 M1147 533.1Q1389 532.8 1151.3 487.6 M1148.1 510.2Q1389 532.8 1156.6 465.3 M1151.3 487.6Q1389 532.8 1164 443.7 M1156.6 465.3Q1389 532.8 1173.4 422.8 M1160.2 611.7Q1389 532.8 1148.1 555.9 M1153.8 589.8Q1389 532.8 1147.3 521.6 M1149.5 567.3Q1389 532.8 1149.4 498.8 M1147.3 544.5Q1389 532.8 1153.7 476.4 M1147.3 521.6Q1389 532.8 1160.1 454.4 M1149.4 498.8Q1389 532.8 1168.5 433.1 M1173.7 643.3Q1389 532.8 1153.8 589.8 M1168.7 633Q1389 532.8 1149.5 567.3 M1164.2 622.5Q1389 532.8 1147.3 544.5 M1160.2 611.7Q1389 532.8 1147 533.1 M1151.4 578.6Q1389 532.8 1149.4 498.8 M1147.3 544.5Q1389 532.8 1156.6 465.3 M1148.1 510.2Q1389 532.8 1168.5 433.1 M1151.3 487.6Q1389 532.8 1178.9 412.7 M1156.8 600.8Q1389 532.8 1148.1 510.2 M1149.5 567.3Q1389 532.8 1153.7 476.4 M1147 533.1Q1389 532.8 1164 443.7" fill="none" stroke="#bebebe" stroke-width="1.8"/>
<path d="M1149.5 567.3Q1389 532.8 1205.6 690.7 M1148.1 555.9Q1389 532.8 1198.3 681.8 M1151.3 487.6Q1389 532.8 1205.6 690.7 M1147 533.1Q1389 532.8 1185.1 663.1 M1147 533.1Q1389 532.8 1179.2 653.3 M1148.1 510.2Q1389 532.8 1185.1 663.1 M1147 533.1Q1389 532.8 1164.2 622.5 M1151.3 487.6Q1389 532.8 1179.2 653.3 M1156.6 465.3Q1389 532.8 1185.1 663.1 M1151.3 487.6Q1389 532.8 1168.7 633 M1148.1 510.2Q1389 532.8 1156.8 600.8 M1153.7 476.4Q1389 532.8 1164.2 622.5 M1173.4 422.8Q1389 532.8 1185.1 663.1 M1156.6 465.3Q1389 532.8 1160.2 611.7 M1173.4 422.8Q1389 532.8 1173.7 643.3 M1173.4 422.8Q1389 532.8 1164.2 622.5 M1151.3 487.6Q1389 532.8 1147.3 544.5 M1151.3 487.6Q1389 532.8 1147 533.1 M1156.6 465.3Q1389 532.8 1147.3 544.5 M1156.6 465.3Q1389 532.8 1147 533.1 M1173.4 422.8Q1389 532.8 1149.5 567.3 M1178.9 412.7Q1389 532.8 1156.8 600.8 M1173.4 422.8Q1389 532.8 1147 533.1 M1173.4 422.8Q1389 532.8 1147.3 521.6 M1178.9 412.7Q1389 532.8 1148.1 555.9 M1178.9 412.7Q1389 532.8 1147.3 544.5 M1173.4 422.8Q1389 532.8 1156.6 465.3 M1178.9 412.7Q1389 532.8 1149.4 498.8 M1178.9 412.7Q1389 532.8 1164 443.7 M1178.9 412.7Q1389 532.8 1584 676.1 M1173.4 422.8Q1389 532.8 1577 685.1 M1168.5 433.1Q1389 532.8 1553.6 710.2 M1160.1 454.4Q1389 532.8 1536.1 725 M1151.3 487.6Q1389 532.8 1517.3 738 M1147.3 521.6Q1389 532.8 1497.3 749.2 M1148.1 555.9Q1389 532.8 1476.4 758.5 M1153.8 589.8Q1389 532.8 1443.6 768.6 M1164.2 622.5Q1389 532.8 1398.3 774.6 M1185.1 663.1Q1389 532.8 1341.4 770.1 M1198.3 681.8Q1389 532.8 1319.2 764.5 M1398.3 774.6Q1389 532.8 1545 717.8 M1421.1 772.7Q1389 532.8 1517.3 738 M1421.1 772.7Q1389 532.8 1487 754.1 M1398.3 774.6Q1389 532.8 1497.3 749.2 M1421.1 772.7Q1389 532.8 1465.6 762.3 M1319.2 764.5Q1389 532.8 1526.9 731.7 M1308.3 761Q1389 532.8 1517.3 738 M1287.1 752.3Q1389 532.8 1497.3 749.2 M1308.3 761Q1389 532.8 1465.6 762.3 M1276.9 747.3Q1389 532.8 1487 754.1 M1330.2 767.6Q1389 532.8 1421.1 772.7 M1319.2 764.5Q1389 532.8 1421.1 772.7 M1276.9 747.3Q1389 532.8 1465.6 762.3 M1276.9 747.3Q1389 532.8 1465.6 762.3 M1287.1 752.3Q1389 532.8 1421.1 772.7 M1276.9 747.3Q1389 532.8 1454.7 765.7 M1308.3 761Q1389 532.8 1364 773.5 M1526.9 731.7Q1389 532.8 1590.6 666.7 M1517.3 738Q1389 532.8 1590.6 666.7 M1507.4 743.8Q1389 532.8 1590.6 666.7 M1507.4 743.8Q1389 532.8 1584 676.1 M1507.4 743.8Q1389 532.8 1577 685.1 M1517.3 738Q1389 532.8 1561.8 702.2 M1497.3 749.2Q1389 532.8 1561.8 702.2 M1465.6 762.3Q1389 532.8 1577 685.1 M1476.4 758.5Q1389 532.8 1561.8 702.2 M1487 754.1Q1389 532.8 1526.9 731.7 M1631 537.3Q1389 532.8 1287.1 752.3 M1630.5 548.8Q1389 532.8 1319.2 764.5 M1623.2 593.9Q1389 532.8 1421.1 772.7 M1630.5 548.8Q1389 532.8 1375.4 774.4" fill="none" stroke="#00007f" stroke-width="1.8"/>
<path d="M1208.1 372Q1389 532.8 1258.3 329.2 M1208.1 372Q1389 532.8 1504.3 320 M1210.4 369.5Q1389 532.8 1542.3 345.5 M1335.4 296.8Q1389 532.8 1590.9 399.3" fill="none" stroke="#1b7e1b" stroke-width="1.8"/>
<path d="M1389 23.3A509.5 509.5 0 0 1 1802.24 234.76L1782.53 248.98A485.2 485.2 0 0 0 1389 47.6Z" fill="#e41a1c"/>
<path d="M1389 50.55A483.3 483.3 0 0 1 1780.99 251.14L1756.17 269.04A452.7 452.7 0 0 0 1389 81.15Z" fill="#deebf7" stroke="#b5b5b5" stroke-width="1.9" stroke-linejoin="round"/>
<path d="M1389 84.15A449.7 449.7 0 0 1 1753.74 270.79L1728.92 288.69A419.1 419.1 0 0 0 1389 114.75Z" fill="#ffffe5" stroke="#b5b5b5" stroke-width="1.9" stroke-linejoin="round"/>
<path d="M1389 117.65A416.2 416.2 0 0 1 1726.56 290.39L1701.75 308.29A385.6 385.6 0 0 0 1389 148.25Z" fill="#deebf7" stroke="#b5b5b5" stroke-width="1.9" stroke-linejoin="round"/>
<path d="M1389 151.25A382.6 382.6 0 0 1 1699.31 310.05L1674.49 327.94A352 352 0 0 0 1389 181.85Z" fill="#ffffe5" stroke="#b5b5b5" stroke-width="1.9" stroke-linejoin="round"/>
<path d="M1389 193.5A339.3 339.3 0 0 1 1405.04 193.88L1403.68 222.65A310.5 310.5 0 0 0 1389 222.3Z" fill="#f5a597" stroke="#f5a597" stroke-width="0.6"/>
<path d="M1405.04 193.88A339.3 339.3 0 0 1 1421.05 195.02L1418.33 223.69A310.5 310.5 0 0 0 1403.68 222.65Z" fill="#ebe4fb" stroke="#ebe4fb" stroke-width="0.6"/>
<path d="M1421.05 195.02A339.3 339.3 0 0 1 1436.98 196.91L1432.91 225.42A310.5 310.5 0 0 0 1418.33 223.69Z" fill="#cdbdf4" stroke="#cdbdf4" stroke-width="0.6"/>
<path d="M1436.98 196.91A339.3 339.3 0 0 1 1452.81 199.55L1447.39 227.84A310.5 310.5 0 0 0 1432.91 225.42Z" fill="#bda8ef" stroke="#bda8ef" stroke-width="0.6"/>
<path d="M1452.81 199.55A339.3 339.3 0 0 1 1468.5 202.94L1461.75 230.94A310.5 310.5 0 0 0 1447.39 227.84Z" fill="#bda8ef" stroke="#bda8ef" stroke-width="0.6"/>
<path d="M1468.5 202.94A339.3 339.3 0 0 1 1484 207.07L1475.94 234.72A310.5 310.5 0 0 0 1461.75 230.94Z" fill="#bda8ef" stroke="#bda8ef" stroke-width="0.6"/>
<path d="M1484 207.07A339.3 339.3 0 0 1 1499.3 211.93L1489.94 239.16A310.5 310.5 0 0 0 1475.94 234.72Z" fill="#f5a597" stroke="#f5a597" stroke-width="0.6"/>
<path d="M1499.3 211.93A339.3 339.3 0 0 1 1514.35 217.5L1503.71 244.26A310.5 310.5 0 0 0 1489.94 239.16Z" fill="#a98eeb" stroke="#a98eeb" stroke-width="0.6"/>
<path d="M1514.35 217.5A339.3 339.3 0 0 1 1529.11 223.78L1517.22 250.01A310.5 310.5 0 0 0 1503.71 244.26Z" fill="#7d5ce0" stroke="#7d5ce0" stroke-width="0.6"/>
<path d="M1529.11 223.78A339.3 339.3 0 0 1 1543.57 230.75L1530.45 256.39A310.5 310.5 0 0 0 1517.22 250.01Z" fill="#f5a597" stroke="#f5a597" stroke-width="0.6"/>
<path d="M1543.57 230.75A339.3 339.3 0 0 1 1557.67 238.4L1543.36 263.39A310.5 310.5 0 0 0 1530.45 256.39Z" fill="#cdbdf4" stroke="#cdbdf4" stroke-width="0.6"/>
<path d="M1557.67 238.4A339.3 339.3 0 0 1 1571.41 246.7L1555.92 270.99A310.5 310.5 0 0 0 1543.36 263.39Z" fill="#cdbdf4" stroke="#cdbdf4" stroke-width="0.6"/>
<path d="M1571.41 246.7A339.3 339.3 0 0 1 1584.73 255.65L1568.12 279.17A310.5 310.5 0 0 0 1555.92 270.99Z" fill="#f5a597" stroke="#f5a597" stroke-width="0.6"/>
<path d="M1584.73 255.65A339.3 339.3 0 0 1 1597.61 265.21L1579.91 287.92A310.5 310.5 0 0 0 1568.12 279.17Z" fill="#7d5ce0" stroke="#7d5ce0" stroke-width="0.6"/>
<path d="M1597.61 265.21A339.3 339.3 0 0 1 1610.03 275.37L1591.27 297.22A310.5 310.5 0 0 0 1579.91 287.92Z" fill="#bda8ef" stroke="#bda8ef" stroke-width="0.6"/>
<path d="M1610.03 275.37A339.3 339.3 0 0 1 1621.96 286.11L1602.18 307.05A310.5 310.5 0 0 0 1591.27 297.22Z" fill="#fde3dc" stroke="#fde3dc" stroke-width="0.6"/>
<path d="M1621.96 286.11A339.3 339.3 0 0 1 1633.36 297.4L1612.62 317.38A310.5 310.5 0 0 0 1602.18 307.05Z" fill="#a98eeb" stroke="#a98eeb" stroke-width="0.6"/>
<path d="M1633.36 297.4A339.3 339.3 0 0 1 1644.22 309.22L1622.55 328.2A310.5 310.5 0 0 0 1612.62 317.38Z" fill="#bda8ef" stroke="#bda8ef" stroke-width="0.6"/>
<path d="M1644.22 309.22A339.3 339.3 0 0 1 1654.5 321.53L1631.97 339.47A310.5 310.5 0 0 0 1622.55 328.2Z" fill="#bda8ef" stroke="#bda8ef" stroke-width="0.6"/>
<path d="M1654.5 321.53A339.3 339.3 0 0 1 1664.19 334.32L1640.84 351.17A310.5 310.5 0 0 0 1631.97 339.47Z" fill="#ddd1f7" stroke="#ddd1f7" stroke-width="0.6"/>
<path d="M1389 222.3A310.5 310.5 0 0 1 1403.68 222.65L1402.32 251.32A281.8 281.8 0 0 0 1389 251Z" fill="#fde3dc" stroke="#fde3dc" stroke-width="0.6"/>
<path d="M1403.68 222.65A310.5 310.5 0 0 1 1418.33 223.69L1415.62 252.26A281.8 281.8 0 0 0 1402.32 251.32Z" fill="#cdbdf4" stroke="#cdbdf4" stroke-width="0.6"/>
<path d="M1418.33 223.69A310.5 310.5 0 0 1 1432.91 225.42L1428.85 253.83A281.8 281.8 0 0 0 1415.62 252.26Z" fill="#ddd1f7" stroke="#ddd1f7" stroke-width="0.6"/>
<path d="M1432.91 225.42A310.5 310.5 0 0 1 1447.39 227.84L1442 256.03A281.8 281.8 0 0 0 1428.85 253.83Z" fill="#ebe4fb" stroke="#ebe4fb" stroke-width="0.6"/>
<path d="M1447.39 227.84A310.5 310.5 0 0 1 1461.75 230.94L1455.02 258.84A281.8 281.8 0 0 0 1442 256.03Z" fill="#cdbdf4" stroke="#cdbdf4" stroke-width="0.6"/>
<path d="M1461.75 230.94A310.5 310.5 0 0 1 1475.94 234.72L1467.9 262.27A281.8 281.8 0 0 0 1455.02 258.84Z" fill="#ddd1f7" stroke="#ddd1f7" stroke-width="0.6"/>
<path d="M1475.94 234.72A310.5 310.5 0 0 1 1489.94 239.16L1480.61 266.3A281.8 281.8 0 0 0 1467.9 262.27Z" fill="#fcd3c9" stroke="#fcd3c9" stroke-width="0.6"/>
<path d="M1489.94 239.16A310.5 310.5 0 0 1 1503.71 244.26L1493.1 270.93A281.8 281.8 0 0 0 1480.61 266.3Z" fill="#cdbdf4" stroke="#cdbdf4" stroke-width="0.6"/>
<path d="M1503.71 244.26A310.5 310.5 0 0 1 1517.22 250.01L1505.37 276.15A281.8 281.8 0 0 0 1493.1 270.93Z" fill="#cdbdf4" stroke="#cdbdf4" stroke-width="0.6"/>
<path d="M1517.22 250.01A310.5 310.5 0 0 1 1530.45 256.39L1517.37 281.94A281.8 281.8 0 0 0 1505.37 276.15Z" fill="#fcd3c9" stroke="#fcd3c9" stroke-width="0.6"/>
<path d="M1530.45 256.39A310.5 310.5 0 0 1 1543.36 263.39L1529.09 288.29A281.8 281.8 0 0 0 1517.37 281.94Z" fill="#ddd1f7" stroke="#ddd1f7" stroke-width="0.6"/>
<path d="M1543.36 263.39A310.5 310.5 0 0 1 1555.92 270.99L1540.49 295.19A281.8 281.8 0 0 0 1529.09 288.29Z" fill="#ebe4fb" stroke="#ebe4fb" stroke-width="0.6"/>
<path d="M1555.92 270.99A310.5 310.5 0 0 1 1568.12 279.17L1551.56 302.61A281.8 281.8 0 0 0 1540.49 295.19Z" fill="#fcd3c9" stroke="#fcd3c9" stroke-width="0.6"/>
<path d="M1568.12 279.17A310.5 310.5 0 0 1 1579.91 287.92L1562.26 310.56A281.8 281.8 0 0 0 1551.56 302.61Z" fill="#ebe4fb" stroke="#ebe4fb" stroke-width="0.6"/>
<path d="M1579.91 287.92A310.5 310.5 0 0 1 1591.27 297.22L1572.57 319A281.8 281.8 0 0 0 1562.26 310.56Z" fill="#cdbdf4" stroke="#cdbdf4" stroke-width="0.6"/>
<path d="M1591.27 297.22A310.5 310.5 0 0 1 1602.18 307.05L1582.48 327.92A281.8 281.8 0 0 0 1572.57 319Z" fill="#f9bdb1" stroke="#f9bdb1" stroke-width="0.6"/>
<path d="M1602.18 307.05A310.5 310.5 0 0 1 1612.62 317.38L1591.95 337.29A281.8 281.8 0 0 0 1582.48 327.92Z" fill="#ddd1f7" stroke="#ddd1f7" stroke-width="0.6"/>
<path d="M1612.62 317.38A310.5 310.5 0 0 1 1622.55 328.2L1600.97 347.11A281.8 281.8 0 0 0 1591.95 337.29Z" fill="#ddd1f7" stroke="#ddd1f7" stroke-width="0.6"/>
<path d="M1622.55 328.2A310.5 310.5 0 0 1 1631.97 339.47L1609.51 357.34A281.8 281.8 0 0 0 1600.97 347.11Z" fill="#ddd1f7" stroke="#ddd1f7" stroke-width="0.6"/>
<path d="M1631.97 339.47A310.5 310.5 0 0 1 1640.84 351.17L1617.56 367.96A281.8 281.8 0 0 0 1609.51 357.34Z" fill="#fde3dc" stroke="#fde3dc" stroke-width="0.6"/>
<path d="M1389 251A281.8 281.8 0 0 1 1402.32 251.32L1400.96 280.08A253 253 0 0 0 1389 279.8Z" fill="#cdbdf4" stroke="#cdbdf4" stroke-width="0.6"/>
<path d="M1402.32 251.32A281.8 281.8 0 0 1 1415.62 252.26L1412.9 280.93A253 253 0 0 0 1400.96 280.08Z" fill="#ebe4fb" stroke="#ebe4fb" stroke-width="0.6"/>
<path d="M1415.62 252.26A281.8 281.8 0 0 1 1428.85 253.83L1424.78 282.34A253 253 0 0 0 1412.9 280.93Z" fill="#fde3dc" stroke="#fde3dc" stroke-width="0.6"/>
<path d="M1428.85 253.83A281.8 281.8 0 0 1 1442 256.03L1436.58 284.31A253 253 0 0 0 1424.78 282.34Z" fill="#f9bdb1" stroke="#f9bdb1" stroke-width="0.6"/>
<path d="M1442 256.03A281.8 281.8 0 0 1 1455.02 258.84L1448.28 286.84A253 253 0 0 0 1436.58 284.31Z" fill="#fde3dc" stroke="#fde3dc" stroke-width="0.6"/>
<path d="M1455.02 258.84A281.8 281.8 0 0 1 1467.9 262.27L1459.84 289.92A253 253 0 0 0 1448.28 286.84Z" fill="#fcd3c9" stroke="#fcd3c9" stroke-width="0.6"/>
<path d="M1467.9 262.27A281.8 281.8 0 0 1 1480.61 266.3L1471.24 293.54A253 253 0 0 0 1459.84 289.92Z" fill="#ddd1f7" stroke="#ddd1f7" stroke-width="0.6"/>
<path d="M1480.61 266.3A281.8 281.8 0 0 1 1493.1 270.93L1482.46 297.7A253 253 0 0 0 1471.24 293.54Z" fill="#fde3dc" stroke="#fde3dc" stroke-width="0.6"/>
<path d="M1493.1 270.93A281.8 281.8 0 0 1 1505.37 276.15L1493.48 302.38A253 253 0 0 0 1482.46 297.7Z" fill="#f5a597" stroke="#f5a597" stroke-width="0.6"/>
<path d="M1505.37 276.15A281.8 281.8 0 0 1 1517.37 281.94L1504.25 307.58A253 253 0 0 0 1493.48 302.38Z" fill="#ddd1f7" stroke="#ddd1f7" stroke-width="0.6"/>
<path d="M1517.37 281.94A281.8 281.8 0 0 1 1529.09 288.29L1514.77 313.28A253 253 0 0 0 1504.25 307.58Z" fill="#fde3dc" stroke="#fde3dc" stroke-width="0.6"/>
<path d="M1529.09 288.29A281.8 281.8 0 0 1 1540.49 295.19L1525.01 319.47A253 253 0 0 0 1514.77 313.28Z" fill="#fcd3c9" stroke="#fcd3c9" stroke-width="0.6"/>
<path d="M1540.49 295.19A281.8 281.8 0 0 1 1551.56 302.61L1534.95 326.14A253 253 0 0 0 1525.01 319.47Z" fill="#ddd1f7" stroke="#ddd1f7" stroke-width="0.6"/>
<path d="M1551.56 302.61A281.8 281.8 0 0 1 1562.26 310.56L1544.55 333.27A253 253 0 0 0 1534.95 326.14Z" fill="#e66c5e" stroke="#e66c5e" stroke-width="0.6"/>
<path d="M1562.26 310.56A281.8 281.8 0 0 1 1572.57 319L1553.81 340.85A253 253 0 0 0 1544.55 333.27Z" fill="#fde3dc" stroke="#fde3dc" stroke-width="0.6"/>
<path d="M1572.57 319A281.8 281.8 0 0 1 1582.48 327.92L1562.7 348.86A253 253 0 0 0 1553.81 340.85Z" fill="#fcd3c9" stroke="#fcd3c9" stroke-width="0.6"/>
<path d="M1582.48 327.92A281.8 281.8 0 0 1 1591.95 337.29L1571.21 357.27A253 253 0 0 0 1562.7 348.86Z" fill="#f5a597" stroke="#f5a597" stroke-width="0.6"/>
<path d="M1591.95 337.29A281.8 281.8 0 0 1 1600.97 347.11L1579.3 366.09A253 253 0 0 0 1571.21 357.27Z" fill="#fcd3c9" stroke="#fcd3c9" stroke-width="0.6"/>
<path d="M1600.97 347.11A281.8 281.8 0 0 1 1609.51 357.34L1586.97 375.27A253 253 0 0 0 1579.3 366.09Z" fill="#f9bdb1" stroke="#f9bdb1" stroke-width="0.6"/>
<path d="M1609.51 357.34A281.8 281.8 0 0 1 1617.56 367.96L1594.2 384.81A253 253 0 0 0 1586.97 375.27Z" fill="#f9bdb1" stroke="#f9bdb1" stroke-width="0.6"/>
<path d="M1405 193.9L1401 280.1 M1421 195L1412.9 280.9 M1437 196.9L1424.8 282.3 M1452.8 199.6L1436.6 284.3 M1468.5 202.9L1448.3 286.8 M1484 207.1L1459.8 289.9 M1499.3 211.9L1471.2 293.5 M1514.3 217.5L1482.5 297.7 M1529.1 223.8L1493.5 302.4 M1543.6 230.8L1504.3 307.6 M1557.7 238.4L1514.8 313.3 M1571.4 246.7L1525 319.5 M1584.7 255.6L1534.9 326.1 M1597.6 265.2L1544.6 333.3 M1610 275.4L1553.8 340.8 M1622 286.1L1562.7 348.9 M1633.4 297.4L1571.2 357.3 M1644.2 309.2L1579.3 366.1 M1654.5 321.5L1587 375.3" stroke="#8c8c8c" stroke-opacity="0.35" stroke-width="0.6" fill="none"/>
<path d="M1807.63 242.39A509.5 509.5 0 0 1 1820.14 261.3L1799.57 274.25A485.2 485.2 0 0 0 1787.66 256.24Z" fill="#377eb8"/>
<path d="M1786.1 258.37A483.3 483.3 0 0 1 1797.97 276.31L1772.07 292.62A452.7 452.7 0 0 0 1760.96 275.81Z" fill="#deebf7" stroke="#b5b5b5" stroke-width="1.9" stroke-linejoin="round"/>
<path d="M1758.49 277.52A449.7 449.7 0 0 1 1769.53 294.22L1743.64 310.52A419.1 419.1 0 0 0 1733.35 294.96Z" fill="#ffffe5" stroke="#b5b5b5" stroke-width="1.9" stroke-linejoin="round"/>
<path d="M1730.97 296.62A416.2 416.2 0 0 1 1741.19 312.07L1715.29 328.37A385.6 385.6 0 0 0 1705.83 314.06Z" fill="#deebf7" stroke="#b5b5b5" stroke-width="1.9" stroke-linejoin="round"/>
<path d="M1703.36 315.77A382.6 382.6 0 0 1 1712.75 329.97L1686.86 346.28A352 352 0 0 0 1678.22 333.21Z" fill="#ffffe5" stroke="#b5b5b5" stroke-width="1.9" stroke-linejoin="round"/>
<path d="M1667.78 339.4A339.3 339.3 0 0 1 1676.11 352L1651.74 367.34A310.5 310.5 0 0 0 1644.12 355.82Z" fill="#a98eeb" stroke="#a98eeb" stroke-width="0.6"/>
<path d="M1644.12 355.82A310.5 310.5 0 0 1 1651.74 367.34L1627.46 382.64A281.8 281.8 0 0 0 1620.54 372.17Z" fill="#cdbdf4" stroke="#cdbdf4" stroke-width="0.6"/>
<path d="M1620.54 372.17A281.8 281.8 0 0 1 1627.46 382.64L1603.09 397.98A253 253 0 0 0 1596.88 388.59Z" fill="#fde3dc" stroke="#fde3dc" stroke-width="0.6"/>
<path d="M1825.73 270.39A509.5 509.5 0 0 1 1858.03 333.8L1835.66 343.3A485.2 485.2 0 0 0 1804.9 282.9Z" fill="#ff7f00"/>
<path d="M1803.27 284.93A483.3 483.3 0 0 1 1833.91 345.09L1805.74 357.04A452.7 452.7 0 0 0 1777.04 300.69Z" fill="#deebf7" stroke="#b5b5b5" stroke-width="1.9" stroke-linejoin="round"/>
<path d="M1774.47 302.24A449.7 449.7 0 0 1 1802.98 358.21L1774.81 370.16A419.1 419.1 0 0 0 1748.24 318Z" fill="#ffffe5" stroke="#b5b5b5" stroke-width="1.9" stroke-linejoin="round"/>
<path d="M1745.75 319.49A416.2 416.2 0 0 1 1772.14 371.29L1743.97 383.25A385.6 385.6 0 0 0 1719.52 335.25Z" fill="#deebf7" stroke="#b5b5b5" stroke-width="1.9" stroke-linejoin="round"/>
<path d="M1716.95 336.8A382.6 382.6 0 0 1 1741.21 384.42L1713.04 396.37A352 352 0 0 0 1690.72 352.56Z" fill="#ffffe5" stroke="#b5b5b5" stroke-width="1.9" stroke-linejoin="round"/>
<path d="M1679.84 358.05A339.3 339.3 0 0 1 1687.66 371.79L1662.31 385.45A310.5 310.5 0 0 0 1655.15 372.88Z" fill="#fcd3c9" stroke="#fcd3c9" stroke-width="0.6"/>
<path d="M1687.66 371.79A339.3 339.3 0 0 1 1694.84 385.87L1668.88 398.34A310.5 310.5 0 0 0 1662.31 385.45Z" fill="#fcd3c9" stroke="#fcd3c9" stroke-width="0.6"/>
<path d="M1694.84 385.87A339.3 339.3 0 0 1 1701.35 400.28L1674.84 411.53A310.5 310.5 0 0 0 1668.88 398.34Z" fill="#ebe4fb" stroke="#ebe4fb" stroke-width="0.6"/>
<path d="M1655.15 372.88A310.5 310.5 0 0 1 1662.31 385.45L1637.05 399.07A281.8 281.8 0 0 0 1630.55 387.66Z" fill="#ddd1f7" stroke="#ddd1f7" stroke-width="0.6"/>
<path d="M1662.31 385.45A310.5 310.5 0 0 1 1668.88 398.34L1643.01 410.77A281.8 281.8 0 0 0 1637.05 399.07Z" fill="#ddd1f7" stroke="#ddd1f7" stroke-width="0.6"/>
<path d="M1668.88 398.34A310.5 310.5 0 0 1 1674.84 411.53L1648.42 422.74A281.8 281.8 0 0 0 1643.01 410.77Z" fill="#cdbdf4" stroke="#cdbdf4" stroke-width="0.6"/>
<path d="M1630.55 387.66A281.8 281.8 0 0 1 1637.05 399.07L1611.7 412.74A253 253 0 0 0 1605.86 402.5Z" fill="#bda8ef" stroke="#bda8ef" stroke-width="0.6"/>
<path d="M1637.05 399.07A281.8 281.8 0 0 1 1643.01 410.77L1617.05 423.24A253 253 0 0 0 1611.7 412.74Z" fill="#bda8ef" stroke="#bda8ef" stroke-width="0.6"/>
<path d="M1643.01 410.77A281.8 281.8 0 0 1 1648.42 422.74L1621.9 433.99A253 253 0 0 0 1617.05 423.24Z" fill="#ebe4fb" stroke="#ebe4fb" stroke-width="0.6"/>
<path d="M1687.7 371.8L1611.7 412.7 M1694.8 385.9L1617 423.2" stroke="#8c8c8c" stroke-opacity="0.35" stroke-width="0.6" fill="none"/>
<path d="M1861.53 342.27A509.5 509.5 0 1 1 952.73 269.63L973.54 282.18A485.2 485.2 0 1 0 1839 351.35Z" fill="#984ea3"/>
<path d="M1837.23 353.12A483.3 483.3 0 1 1 975.17 284.21L1001.37 300.02A452.7 452.7 0 1 0 1808.85 364.56Z" fill="#deebf7" stroke="#b5b5b5" stroke-width="1.9" stroke-linejoin="round"/>
<path d="M1806.07 365.68A449.7 449.7 0 1 1 1003.94 301.56L1030.14 317.37A419.1 419.1 0 1 0 1777.69 377.12Z" fill="#ffffe5" stroke="#b5b5b5" stroke-width="1.9" stroke-linejoin="round"/>
<path d="M1775 378.21A416.2 416.2 0 1 1 1032.62 318.87L1058.82 334.67A385.6 385.6 0 1 0 1746.62 389.65Z" fill="#deebf7" stroke="#b5b5b5" stroke-width="1.9" stroke-linejoin="round"/>
<path d="M1743.84 390.77A382.6 382.6 0 1 1 1061.39 336.22L1087.59 352.03A352 352 0 1 0 1715.46 402.22Z" fill="#ffffe5" stroke="#b5b5b5" stroke-width="1.9" stroke-linejoin="round"/>
<path d="M1703.68 405.92A339.3 339.3 0 0 1 1709.33 420.94L1682.14 430.43A310.5 310.5 0 0 0 1676.97 416.69Z" fill="#f5a597" stroke="#f5a597" stroke-width="0.6"/>
<path d="M1709.33 420.94A339.3 339.3 0 0 1 1714.26 436.21L1686.65 444.41A310.5 310.5 0 0 0 1682.14 430.43Z" fill="#fde3dc" stroke="#fde3dc" stroke-width="0.6"/>
<path d="M1714.26 436.21A339.3 339.3 0 0 1 1718.46 451.69L1690.5 458.58A310.5 310.5 0 0 0 1686.65 444.41Z" fill="#fde3dc" stroke="#fde3dc" stroke-width="0.6"/>
<path d="M1718.46 451.69A339.3 339.3 0 0 1 1721.93 467.36L1693.67 472.92A310.5 310.5 0 0 0 1690.5 458.58Z" fill="#fde3dc" stroke="#fde3dc" stroke-width="0.6"/>
<path d="M1721.93 467.36A339.3 339.3 0 0 1 1724.65 483.18L1696.16 487.39A310.5 310.5 0 0 0 1693.67 472.92Z" fill="#a98eeb" stroke="#a98eeb" stroke-width="0.6"/>
<path d="M1724.65 483.18A339.3 339.3 0 0 1 1726.62 499.1L1697.96 501.96A310.5 310.5 0 0 0 1696.16 487.39Z" fill="#bda8ef" stroke="#bda8ef" stroke-width="0.6"/>
<path d="M1726.62 499.1A339.3 339.3 0 0 1 1727.84 515.1L1699.08 516.6A310.5 310.5 0 0 0 1697.96 501.96Z" fill="#ef8878" stroke="#ef8878" stroke-width="0.6"/>
<path d="M1727.84 515.1A339.3 339.3 0 0 1 1728.3 531.14L1699.5 531.28A310.5 310.5 0 0 0 1699.08 516.6Z" fill="#f5a597" stroke="#f5a597" stroke-width="0.6"/>
<path d="M1728.3 531.14A339.3 339.3 0 0 1 1727.99 547.19L1699.22 545.96A310.5 310.5 0 0 0 1699.5 531.28Z" fill="#f5a597" stroke="#f5a597" stroke-width="0.6"/>
<path d="M1727.99 547.19A339.3 339.3 0 0 1 1726.94 563.2L1698.25 560.62A310.5 310.5 0 0 0 1699.22 545.96Z" fill="#f5a597" stroke="#f5a597" stroke-width="0.6"/>
<path d="M1726.94 563.2A339.3 339.3 0 0 1 1725.12 579.14L1696.59 575.21A310.5 310.5 0 0 0 1698.25 560.62Z" fill="#f9bdb1" stroke="#f9bdb1" stroke-width="0.6"/>
<path d="M1725.12 579.14A339.3 339.3 0 0 1 1722.55 594.98L1694.24 589.7A310.5 310.5 0 0 0 1696.59 575.21Z" fill="#f9bdb1" stroke="#f9bdb1" stroke-width="0.6"/>
<path d="M1722.55 594.98A339.3 339.3 0 0 1 1719.24 610.68L1691.21 604.07A310.5 310.5 0 0 0 1694.24 589.7Z" fill="#f9bdb1" stroke="#f9bdb1" stroke-width="0.6"/>
<path d="M1719.24 610.68A339.3 339.3 0 0 1 1715.19 626.21L1687.5 618.28A310.5 310.5 0 0 0 1691.21 604.07Z" fill="#ef8878" stroke="#ef8878" stroke-width="0.6"/>
<path d="M1715.19 626.21A339.3 339.3 0 0 1 1710.41 641.53L1683.13 632.3A310.5 310.5 0 0 0 1687.5 618.28Z" fill="#f9bdb1" stroke="#f9bdb1" stroke-width="0.6"/>
<path d="M1710.41 641.53A339.3 339.3 0 0 1 1704.91 656.6L1678.09 646.09A310.5 310.5 0 0 0 1683.13 632.3Z" fill="#7d5ce0" stroke="#7d5ce0" stroke-width="0.6"/>
<path d="M1704.91 656.6A339.3 339.3 0 0 1 1698.7 671.4L1672.41 659.64A310.5 310.5 0 0 0 1678.09 646.09Z" fill="#fde3dc" stroke="#fde3dc" stroke-width="0.6"/>
<path d="M1698.7 671.4A339.3 339.3 0 0 1 1691.8 685.89L1666.1 672.89A310.5 310.5 0 0 0 1672.41 659.64Z" fill="#fcd3c9" stroke="#fcd3c9" stroke-width="0.6"/>
<path d="M1691.8 685.89A339.3 339.3 0 0 1 1684.22 700.03L1659.17 685.84A310.5 310.5 0 0 0 1666.1 672.89Z" fill="#f9bdb1" stroke="#f9bdb1" stroke-width="0.6"/>
<path d="M1684.22 700.03A339.3 339.3 0 0 1 1675.99 713.81L1651.63 698.44A310.5 310.5 0 0 0 1659.17 685.84Z" fill="#f9bdb1" stroke="#f9bdb1" stroke-width="0.6"/>
<path d="M1675.99 713.81A339.3 339.3 0 0 1 1667.11 727.17L1643.5 710.67A310.5 310.5 0 0 0 1651.63 698.44Z" fill="#f9bdb1" stroke="#f9bdb1" stroke-width="0.6"/>
<path d="M1667.11 727.17A339.3 339.3 0 0 1 1657.61 740.1L1634.81 722.51A310.5 310.5 0 0 0 1643.5 710.67Z" fill="#fde3dc" stroke="#fde3dc" stroke-width="0.6"/>
<path d="M1657.61 740.1A339.3 339.3 0 0 1 1647.51 752.57L1625.56 733.92A310.5 310.5 0 0 0 1634.81 722.51Z" fill="#ef8878" stroke="#ef8878" stroke-width="0.6"/>
<path d="M1647.51 752.57A339.3 339.3 0 0 1 1636.82 764.55L1615.79 744.88A310.5 310.5 0 0 0 1625.56 733.92Z" fill="#ef8878" stroke="#ef8878" stroke-width="0.6"/>
<path d="M1636.82 764.55A339.3 339.3 0 0 1 1625.59 776.01L1605.51 755.36A310.5 310.5 0 0 0 1615.79 744.88Z" fill="#bda8ef" stroke="#bda8ef" stroke-width="0.6"/>
<path d="M1625.59 776.01A339.3 339.3 0 0 1 1613.83 786.92L1594.74 765.35A310.5 310.5 0 0 0 1605.51 755.36Z" fill="#f9bdb1" stroke="#f9bdb1" stroke-width="0.6"/>
<path d="M1613.83 786.92A339.3 339.3 0 0 1 1601.56 797.27L1583.52 774.82A310.5 310.5 0 0 0 1594.74 765.35Z" fill="#ebe4fb" stroke="#ebe4fb" stroke-width="0.6"/>
<path d="M1601.56 797.27A339.3 339.3 0 0 1 1588.82 807.02L1571.86 783.74A310.5 310.5 0 0 0 1583.52 774.82Z" fill="#a98eeb" stroke="#a98eeb" stroke-width="0.6"/>
<path d="M1588.82 807.02A339.3 339.3 0 0 1 1575.63 816.16L1559.79 792.11A310.5 310.5 0 0 0 1571.86 783.74Z" fill="#f5a597" stroke="#f5a597" stroke-width="0.6"/>
<path d="M1575.63 816.16A339.3 339.3 0 0 1 1562.02 824.67L1547.34 799.89A310.5 310.5 0 0 0 1559.79 792.11Z" fill="#ebe4fb" stroke="#ebe4fb" stroke-width="0.6"/>
<path d="M1562.02 824.67A339.3 339.3 0 0 1 1548.03 832.52L1534.53 807.08A310.5 310.5 0 0 0 1547.34 799.89Z" fill="#ef8878" stroke="#ef8878" stroke-width="0.6"/>
<path d="M1548.03 832.52A339.3 339.3 0 0 1 1533.68 839.71L1521.4 813.66A310.5 310.5 0 0 0 1534.53 807.08Z" fill="#ddd1f7" stroke="#ddd1f7" stroke-width="0.6"/>
<path d="M1533.68 839.71A339.3 339.3 0 0 1 1519.01 846.2L1507.97 819.6A310.5 310.5 0 0 0 1521.4 813.66Z" fill="#ebe4fb" stroke="#ebe4fb" stroke-width="0.6"/>
<path d="M1519.01 846.2A339.3 339.3 0 0 1 1504.05 852L1494.28 824.91A310.5 310.5 0 0 0 1507.97 819.6Z" fill="#ef8878" stroke="#ef8878" stroke-width="0.6"/>
<path d="M1504.05 852A339.3 339.3 0 0 1 1488.82 857.08L1480.35 829.56A310.5 310.5 0 0 0 1494.28 824.91Z" fill="#ef8878" stroke="#ef8878" stroke-width="0.6"/>
<path d="M1488.82 857.08A339.3 339.3 0 0 1 1473.38 861.44L1466.22 833.55A310.5 310.5 0 0 0 1480.35 829.56Z" fill="#f9bdb1" stroke="#f9bdb1" stroke-width="0.6"/>
<path d="M1473.38 861.44A339.3 339.3 0 0 1 1457.75 865.06L1451.91 836.86A310.5 310.5 0 0 0 1466.22 833.55Z" fill="#ef8878" stroke="#ef8878" stroke-width="0.6"/>
<path d="M1457.75 865.06A339.3 339.3 0 0 1 1441.96 867.94L1437.47 839.49A310.5 310.5 0 0 0 1451.91 836.86Z" fill="#ef8878" stroke="#ef8878" stroke-width="0.6"/>
<path d="M1441.96 867.94A339.3 339.3 0 0 1 1426.06 870.07L1422.91 841.44A310.5 310.5 0 0 0 1437.47 839.49Z" fill="#f9bdb1" stroke="#f9bdb1" stroke-width="0.6"/>
<path d="M1426.06 870.07A339.3 339.3 0 0 1 1410.07 871.45L1408.28 842.7A310.5 310.5 0 0 0 1422.91 841.44Z" fill="#f9bdb1" stroke="#f9bdb1" stroke-width="0.6"/>
<path d="M1410.07 871.45A339.3 339.3 0 0 1 1394.03 872.06L1393.61 843.27A310.5 310.5 0 0 0 1408.28 842.7Z" fill="#ddd1f7" stroke="#ddd1f7" stroke-width="0.6"/>
<path d="M1394.03 872.06A339.3 339.3 0 0 1 1377.99 871.92L1378.92 843.14A310.5 310.5 0 0 0 1393.61 843.27Z" fill="#fde3dc" stroke="#fde3dc" stroke-width="0.6"/>
<path d="M1377.99 871.92A339.3 339.3 0 0 1 1361.97 871.02L1364.26 842.31A310.5 310.5 0 0 0 1378.92 843.14Z" fill="#f5a597" stroke="#f5a597" stroke-width="0.6"/>
<path d="M1361.97 871.02A339.3 339.3 0 0 1 1346 869.36L1349.65 840.8A310.5 310.5 0 0 0 1364.26 842.31Z" fill="#fde3dc" stroke="#fde3dc" stroke-width="0.6"/>
<path d="M1346 869.36A339.3 339.3 0 0 1 1330.14 866.96L1335.14 838.59A310.5 310.5 0 0 0 1349.65 840.8Z" fill="#bda8ef" stroke="#bda8ef" stroke-width="0.6"/>
<path d="M1330.14 866.96A339.3 339.3 0 0 1 1314.41 863.8L1320.74 835.7A310.5 310.5 0 0 0 1335.14 838.59Z" fill="#cdbdf4" stroke="#cdbdf4" stroke-width="0.6"/>
<path d="M1314.41 863.8A339.3 339.3 0 0 1 1298.84 859.9L1306.49 832.14A310.5 310.5 0 0 0 1320.74 835.7Z" fill="#cdbdf4" stroke="#cdbdf4" stroke-width="0.6"/>
<path d="M1298.84 859.9A339.3 339.3 0 0 1 1283.47 855.27L1292.43 827.9A310.5 310.5 0 0 0 1306.49 832.14Z" fill="#ef8878" stroke="#ef8878" stroke-width="0.6"/>
<path d="M1283.47 855.27A339.3 339.3 0 0 1 1268.35 849.92L1278.59 823.01A310.5 310.5 0 0 0 1292.43 827.9Z" fill="#f9bdb1" stroke="#f9bdb1" stroke-width="0.6"/>
<path d="M1268.35 849.92A339.3 339.3 0 0 1 1253.49 843.86L1264.99 817.46A310.5 310.5 0 0 0 1278.59 823.01Z" fill="#7d5ce0" stroke="#7d5ce0" stroke-width="0.6"/>
<path d="M1253.49 843.86A339.3 339.3 0 0 1 1238.93 837.11L1251.67 811.28A310.5 310.5 0 0 0 1264.99 817.46Z" fill="#7d5ce0" stroke="#7d5ce0" stroke-width="0.6"/>
<path d="M1238.93 837.11A339.3 339.3 0 0 1 1224.71 829.67L1238.66 804.47A310.5 310.5 0 0 0 1251.67 811.28Z" fill="#a98eeb" stroke="#a98eeb" stroke-width="0.6"/>
<path d="M1224.71 829.67A339.3 339.3 0 0 1 1210.86 821.57L1225.98 797.06A310.5 310.5 0 0 0 1238.66 804.47Z" fill="#cdbdf4" stroke="#cdbdf4" stroke-width="0.6"/>
<path d="M1210.86 821.57A339.3 339.3 0 0 1 1197.4 812.83L1213.67 789.06A310.5 310.5 0 0 0 1225.98 797.06Z" fill="#f5a597" stroke="#f5a597" stroke-width="0.6"/>
<path d="M1197.4 812.83A339.3 339.3 0 0 1 1184.38 803.46L1201.75 780.48A310.5 310.5 0 0 0 1213.67 789.06Z" fill="#ebe4fb" stroke="#ebe4fb" stroke-width="0.6"/>
<path d="M1184.38 803.46A339.3 339.3 0 0 1 1171.81 793.48L1190.25 771.35A310.5 310.5 0 0 0 1201.75 780.48Z" fill="#f5a597" stroke="#f5a597" stroke-width="0.6"/>
<path d="M1171.81 793.48A339.3 339.3 0 0 1 1159.73 782.92L1179.19 761.69A310.5 310.5 0 0 0 1190.25 771.35Z" fill="#fde3dc" stroke="#fde3dc" stroke-width="0.6"/>
<path d="M1159.73 782.92A339.3 339.3 0 0 1 1148.16 771.8L1168.6 751.51A310.5 310.5 0 0 0 1179.19 761.69Z" fill="#ebe4fb" stroke="#ebe4fb" stroke-width="0.6"/>
<path d="M1148.16 771.8A339.3 339.3 0 0 1 1137.13 760.14L1158.51 740.85A310.5 310.5 0 0 0 1168.6 751.51Z" fill="#a98eeb" stroke="#a98eeb" stroke-width="0.6"/>
<path d="M1137.13 760.14A339.3 339.3 0 0 1 1126.66 747.98L1148.93 729.72A310.5 310.5 0 0 0 1158.51 740.85Z" fill="#bda8ef" stroke="#bda8ef" stroke-width="0.6"/>
<path d="M1126.66 747.98A339.3 339.3 0 0 1 1116.78 735.34L1139.89 718.15A310.5 310.5 0 0 0 1148.93 729.72Z" fill="#dd4e45" stroke="#dd4e45" stroke-width="0.6"/>
<path d="M1116.78 735.34A339.3 339.3 0 0 1 1107.51 722.24L1131.4 706.16A310.5 310.5 0 0 0 1139.89 718.15Z" fill="#ebe4fb" stroke="#ebe4fb" stroke-width="0.6"/>
<path d="M1107.51 722.24A339.3 339.3 0 0 1 1098.87 708.72L1123.49 693.79A310.5 310.5 0 0 0 1131.4 706.16Z" fill="#ef8878" stroke="#ef8878" stroke-width="0.6"/>
<path d="M1098.87 708.72A339.3 339.3 0 0 1 1090.87 694.8L1116.18 681.05A310.5 310.5 0 0 0 1123.49 693.79Z" fill="#fcd3c9" stroke="#fcd3c9" stroke-width="0.6"/>
<path d="M1090.87 694.8A339.3 339.3 0 0 1 1083.55 680.53L1109.47 667.99A310.5 310.5 0 0 0 1116.18 681.05Z" fill="#ef8878" stroke="#ef8878" stroke-width="0.6"/>
<path d="M1083.55 680.53A339.3 339.3 0 0 1 1076.9 665.92L1103.4 654.62A310.5 310.5 0 0 0 1109.47 667.99Z" fill="#dd4e45" stroke="#dd4e45" stroke-width="0.6"/>
<path d="M1076.9 665.92A339.3 339.3 0 0 1 1070.96 651.01L1097.96 640.98A310.5 310.5 0 0 0 1103.4 654.62Z" fill="#e66c5e" stroke="#e66c5e" stroke-width="0.6"/>
<path d="M1070.96 651.01A339.3 339.3 0 0 1 1065.73 635.85L1093.17 627.1A310.5 310.5 0 0 0 1097.96 640.98Z" fill="#d5312f" stroke="#d5312f" stroke-width="0.6"/>
<path d="M1065.73 635.85A339.3 339.3 0 0 1 1061.22 620.45L1089.04 613.01A310.5 310.5 0 0 0 1093.17 627.1Z" fill="#f5a597" stroke="#f5a597" stroke-width="0.6"/>
<path d="M1061.22 620.45A339.3 339.3 0 0 1 1057.44 604.85L1085.58 598.73A310.5 310.5 0 0 0 1089.04 613.01Z" fill="#ef8878" stroke="#ef8878" stroke-width="0.6"/>
<path d="M1057.44 604.85A339.3 339.3 0 0 1 1054.4 589.09L1082.8 584.31A310.5 310.5 0 0 0 1085.58 598.73Z" fill="#e66c5e" stroke="#e66c5e" stroke-width="0.6"/>
<path d="M1054.4 589.09A339.3 339.3 0 0 1 1052.11 573.21L1080.71 569.78A310.5 310.5 0 0 0 1082.8 584.31Z" fill="#f9bdb1" stroke="#f9bdb1" stroke-width="0.6"/>
<path d="M1052.11 573.21A339.3 339.3 0 0 1 1050.58 557.24L1079.31 555.16A310.5 310.5 0 0 0 1080.71 569.78Z" fill="#fde3dc" stroke="#fde3dc" stroke-width="0.6"/>
<path d="M1050.58 557.24A339.3 339.3 0 0 1 1049.8 541.21L1078.6 540.49A310.5 310.5 0 0 0 1079.31 555.16Z" fill="#dd4e45" stroke="#dd4e45" stroke-width="0.6"/>
<path d="M1049.8 541.21A339.3 339.3 0 0 1 1049.79 525.16L1078.58 525.81A310.5 310.5 0 0 0 1078.6 540.49Z" fill="#f5a597" stroke="#f5a597" stroke-width="0.6"/>
<path d="M1049.79 525.16A339.3 339.3 0 0 1 1050.53 509.13L1079.26 511.14A310.5 310.5 0 0 0 1078.58 525.81Z" fill="#e66c5e" stroke="#e66c5e" stroke-width="0.6"/>
<path d="M1050.53 509.13A339.3 339.3 0 0 1 1052.02 493.15L1080.63 496.52A310.5 310.5 0 0 0 1079.26 511.14Z" fill="#f5a597" stroke="#f5a597" stroke-width="0.6"/>
<path d="M1052.02 493.15A339.3 339.3 0 0 1 1054.28 477.27L1082.69 481.98A310.5 310.5 0 0 0 1080.63 496.52Z" fill="#f9bdb1" stroke="#f9bdb1" stroke-width="0.6"/>
<path d="M1054.28 477.27A339.3 339.3 0 0 1 1057.28 461.5L1085.43 467.55A310.5 310.5 0 0 0 1082.69 481.98Z" fill="#f5a597" stroke="#f5a597" stroke-width="0.6"/>
<path d="M1057.28 461.5A339.3 339.3 0 0 1 1061.02 445.9L1088.86 453.27A310.5 310.5 0 0 0 1085.43 467.55Z" fill="#d5312f" stroke="#d5312f" stroke-width="0.6"/>
<path d="M1061.02 445.9A339.3 339.3 0 0 1 1065.49 430.49L1092.95 439.17A310.5 310.5 0 0 0 1088.86 453.27Z" fill="#e66c5e" stroke="#e66c5e" stroke-width="0.6"/>
<path d="M1065.49 430.49A339.3 339.3 0 0 1 1070.69 415.31L1097.71 425.28A310.5 310.5 0 0 0 1092.95 439.17Z" fill="#ef8878" stroke="#ef8878" stroke-width="0.6"/>
<path d="M1070.69 415.31A339.3 339.3 0 0 1 1076.6 400.39L1103.12 411.63A310.5 310.5 0 0 0 1097.71 425.28Z" fill="#f5a597" stroke="#f5a597" stroke-width="0.6"/>
<path d="M1076.6 400.39A339.3 339.3 0 0 1 1083.21 385.77L1109.17 398.25A310.5 310.5 0 0 0 1103.12 411.63Z" fill="#dd4e45" stroke="#dd4e45" stroke-width="0.6"/>
<path d="M1083.21 385.77A339.3 339.3 0 0 1 1090.51 371.47L1115.84 385.17A310.5 310.5 0 0 0 1109.17 398.25Z" fill="#f9bdb1" stroke="#f9bdb1" stroke-width="0.6"/>
<path d="M1090.51 371.47A339.3 339.3 0 0 1 1098.47 357.54L1123.13 372.42A310.5 310.5 0 0 0 1115.84 385.17Z" fill="#f9bdb1" stroke="#f9bdb1" stroke-width="0.6"/>
<path d="M1676.97 416.69A310.5 310.5 0 0 1 1682.14 430.43L1655.04 439.89A281.8 281.8 0 0 0 1650.35 427.42Z" fill="#fcd3c9" stroke="#fcd3c9" stroke-width="0.6"/>
<path d="M1682.14 430.43A310.5 310.5 0 0 1 1686.65 444.41L1659.14 452.58A281.8 281.8 0 0 0 1655.04 439.89Z" fill="#ddd1f7" stroke="#ddd1f7" stroke-width="0.6"/>
<path d="M1686.65 444.41A310.5 310.5 0 0 1 1690.5 458.58L1662.63 465.44A281.8 281.8 0 0 0 1659.14 452.58Z" fill="#ddd1f7" stroke="#ddd1f7" stroke-width="0.6"/>
<path d="M1690.5 458.58A310.5 310.5 0 0 1 1693.67 472.92L1665.51 478.45A281.8 281.8 0 0 0 1662.63 465.44Z" fill="#ebe4fb" stroke="#ebe4fb" stroke-width="0.6"/>
<path d="M1693.67 472.92A310.5 310.5 0 0 1 1696.16 487.39L1667.77 491.59A281.8 281.8 0 0 0 1665.51 478.45Z" fill="#ddd1f7" stroke="#ddd1f7" stroke-width="0.6"/>
<path d="M1696.16 487.39A310.5 310.5 0 0 1 1697.96 501.96L1669.41 504.81A281.8 281.8 0 0 0 1667.77 491.59Z" fill="#ebe4fb" stroke="#ebe4fb" stroke-width="0.6"/>
<path d="M1697.96 501.96A310.5 310.5 0 0 1 1699.08 516.6L1670.42 518.1A281.8 281.8 0 0 0 1669.41 504.81Z" fill="#fde3dc" stroke="#fde3dc" stroke-width="0.6"/>
<path d="M1699.08 516.6A310.5 310.5 0 0 1 1699.5 531.28L1670.8 531.42A281.8 281.8 0 0 0 1670.42 518.1Z" fill="#fde3dc" stroke="#fde3dc" stroke-width="0.6"/>
<path d="M1699.5 531.28A310.5 310.5 0 0 1 1699.22 545.96L1670.55 544.75A281.8 281.8 0 0 0 1670.8 531.42Z" fill="#fde3dc" stroke="#fde3dc" stroke-width="0.6"/>
<path d="M1699.22 545.96A310.5 310.5 0 0 1 1698.25 560.62L1669.67 558.05A281.8 281.8 0 0 0 1670.55 544.75Z" fill="#fde3dc" stroke="#fde3dc" stroke-width="0.6"/>
<path d="M1698.25 560.62A310.5 310.5 0 0 1 1696.59 575.21L1668.16 571.29A281.8 281.8 0 0 0 1669.67 558.05Z" fill="#fde3dc" stroke="#fde3dc" stroke-width="0.6"/>
<path d="M1696.59 575.21A310.5 310.5 0 0 1 1694.24 589.7L1666.03 584.44A281.8 281.8 0 0 0 1668.16 571.29Z" fill="#fde3dc" stroke="#fde3dc" stroke-width="0.6"/>
<path d="M1694.24 589.7A310.5 310.5 0 0 1 1691.21 604.07L1663.28 597.48A281.8 281.8 0 0 0 1666.03 584.44Z" fill="#fde3dc" stroke="#fde3dc" stroke-width="0.6"/>
<path d="M1691.21 604.07A310.5 310.5 0 0 1 1687.5 618.28L1659.91 610.38A281.8 281.8 0 0 0 1663.28 597.48Z" fill="#fde3dc" stroke="#fde3dc" stroke-width="0.6"/>
<path d="M1687.5 618.28A310.5 310.5 0 0 1 1683.13 632.3L1655.94 623.1A281.8 281.8 0 0 0 1659.91 610.38Z" fill="#fde3dc" stroke="#fde3dc" stroke-width="0.6"/>
<path d="M1683.13 632.3A310.5 310.5 0 0 1 1678.09 646.09L1651.37 635.62A281.8 281.8 0 0 0 1655.94 623.1Z" fill="#bda8ef" stroke="#bda8ef" stroke-width="0.6"/>
<path d="M1678.09 646.09A310.5 310.5 0 0 1 1672.41 659.64L1646.22 647.91A281.8 281.8 0 0 0 1651.37 635.62Z" fill="#ddd1f7" stroke="#ddd1f7" stroke-width="0.6"/>
<path d="M1672.41 659.64A310.5 310.5 0 0 1 1666.1 672.89L1640.49 659.95A281.8 281.8 0 0 0 1646.22 647.91Z" fill="#ebe4fb" stroke="#ebe4fb" stroke-width="0.6"/>
<path d="M1666.1 672.89A310.5 310.5 0 0 1 1659.17 685.84L1634.19 671.69A281.8 281.8 0 0 0 1640.49 659.95Z" fill="#fde3dc" stroke="#fde3dc" stroke-width="0.6"/>
<path d="M1659.17 685.84A310.5 310.5 0 0 1 1651.63 698.44L1627.35 683.13A281.8 281.8 0 0 0 1634.19 671.69Z" fill="#fde3dc" stroke="#fde3dc" stroke-width="0.6"/>
<path d="M1651.63 698.44A310.5 310.5 0 0 1 1643.5 710.67L1619.98 694.23A281.8 281.8 0 0 0 1627.35 683.13Z" fill="#fcd3c9" stroke="#fcd3c9" stroke-width="0.6"/>
<path d="M1643.5 710.67A310.5 310.5 0 0 1 1634.81 722.51L1612.09 704.97A281.8 281.8 0 0 0 1619.98 694.23Z" fill="#ebe4fb" stroke="#ebe4fb" stroke-width="0.6"/>
<path d="M1634.81 722.51A310.5 310.5 0 0 1 1625.56 733.92L1603.7 715.33A281.8 281.8 0 0 0 1612.09 704.97Z" fill="#fde3dc" stroke="#fde3dc" stroke-width="0.6"/>
<path d="M1625.56 733.92A310.5 310.5 0 0 1 1615.79 744.88L1594.83 725.27A281.8 281.8 0 0 0 1603.7 715.33Z" fill="#fcd3c9" stroke="#fcd3c9" stroke-width="0.6"/>
<path d="M1615.79 744.88A310.5 310.5 0 0 1 1605.51 755.36L1585.5 734.79A281.8 281.8 0 0 0 1594.83 725.27Z" fill="#cdbdf4" stroke="#cdbdf4" stroke-width="0.6"/>
<path d="M1605.51 755.36A310.5 310.5 0 0 1 1594.74 765.35L1575.73 743.86A281.8 281.8 0 0 0 1585.5 734.79Z" fill="#fde3dc" stroke="#fde3dc" stroke-width="0.6"/>
<path d="M1594.74 765.35A310.5 310.5 0 0 1 1583.52 774.82L1565.54 752.45A281.8 281.8 0 0 0 1575.73 743.86Z" fill="#f9bdb1" stroke="#f9bdb1" stroke-width="0.6"/>
<path d="M1583.52 774.82A310.5 310.5 0 0 1 1571.86 783.74L1554.96 760.55A281.8 281.8 0 0 0 1565.54 752.45Z" fill="#cdbdf4" stroke="#cdbdf4" stroke-width="0.6"/>
<path d="M1571.86 783.74A310.5 310.5 0 0 1 1559.79 792.11L1544 768.14A281.8 281.8 0 0 0 1554.96 760.55Z" fill="#fcd3c9" stroke="#fcd3c9" stroke-width="0.6"/>
<path d="M1559.79 792.11A310.5 310.5 0 0 1 1547.34 799.89L1532.7 775.21A281.8 281.8 0 0 0 1544 768.14Z" fill="#fde3dc" stroke="#fde3dc" stroke-width="0.6"/>
<path d="M1547.34 799.89A310.5 310.5 0 0 1 1534.53 807.08L1521.08 781.73A281.8 281.8 0 0 0 1532.7 775.21Z" fill="#fcd3c9" stroke="#fcd3c9" stroke-width="0.6"/>
<path d="M1534.53 807.08A310.5 310.5 0 0 1 1521.4 813.66L1509.16 787.7A281.8 281.8 0 0 0 1521.08 781.73Z" fill="#fcd3c9" stroke="#fcd3c9" stroke-width="0.6"/>
<path d="M1521.4 813.66A310.5 310.5 0 0 1 1507.97 819.6L1496.98 793.09A281.8 281.8 0 0 0 1509.16 787.7Z" fill="#fde3dc" stroke="#fde3dc" stroke-width="0.6"/>
<path d="M1507.97 819.6A310.5 310.5 0 0 1 1494.28 824.91L1484.55 797.91A281.8 281.8 0 0 0 1496.98 793.09Z" fill="#fde3dc" stroke="#fde3dc" stroke-width="0.6"/>
<path d="M1494.28 824.91A310.5 310.5 0 0 1 1480.35 829.56L1471.91 802.13A281.8 281.8 0 0 0 1484.55 797.91Z" fill="#f9bdb1" stroke="#f9bdb1" stroke-width="0.6"/>
<path d="M1480.35 829.56A310.5 310.5 0 0 1 1466.22 833.55L1459.08 805.75A281.8 281.8 0 0 0 1471.91 802.13Z" fill="#fcd3c9" stroke="#fcd3c9" stroke-width="0.6"/>
<path d="M1466.22 833.55A310.5 310.5 0 0 1 1451.91 836.86L1446.1 808.75A281.8 281.8 0 0 0 1459.08 805.75Z" fill="#fcd3c9" stroke="#fcd3c9" stroke-width="0.6"/>
<path d="M1451.91 836.86A310.5 310.5 0 0 1 1437.47 839.49L1432.99 811.15A281.8 281.8 0 0 0 1446.1 808.75Z" fill="#f9bdb1" stroke="#f9bdb1" stroke-width="0.6"/>
<path d="M1437.47 839.49A310.5 310.5 0 0 1 1422.91 841.44L1419.78 812.91A281.8 281.8 0 0 0 1432.99 811.15Z" fill="#fde3dc" stroke="#fde3dc" stroke-width="0.6"/>
<path d="M1422.91 841.44A310.5 310.5 0 0 1 1408.28 842.7L1406.5 814.06A281.8 281.8 0 0 0 1419.78 812.91Z" fill="#fde3dc" stroke="#fde3dc" stroke-width="0.6"/>
<path d="M1408.28 842.7A310.5 310.5 0 0 1 1393.61 843.27L1393.18 814.57A281.8 281.8 0 0 0 1406.5 814.06Z" fill="#bda8ef" stroke="#bda8ef" stroke-width="0.6"/>
<path d="M1393.61 843.27A310.5 310.5 0 0 1 1378.92 843.14L1379.85 814.45A281.8 281.8 0 0 0 1393.18 814.57Z" fill="#f9bdb1" stroke="#f9bdb1" stroke-width="0.6"/>
<path d="M1378.92 843.14A310.5 310.5 0 0 1 1364.26 842.31L1366.55 813.7A281.8 281.8 0 0 0 1379.85 814.45Z" fill="#fcd3c9" stroke="#fcd3c9" stroke-width="0.6"/>
<path d="M1364.26 842.31A310.5 310.5 0 0 1 1349.65 840.8L1353.29 812.33A281.8 281.8 0 0 0 1366.55 813.7Z" fill="#ddd1f7" stroke="#ddd1f7" stroke-width="0.6"/>
<path d="M1349.65 840.8A310.5 310.5 0 0 1 1335.14 838.59L1340.11 810.33A281.8 281.8 0 0 0 1353.29 812.33Z" fill="#cdbdf4" stroke="#cdbdf4" stroke-width="0.6"/>
<path d="M1335.14 838.59A310.5 310.5 0 0 1 1320.74 835.7L1327.05 807.71A281.8 281.8 0 0 0 1340.11 810.33Z" fill="#f9bdb1" stroke="#f9bdb1" stroke-width="0.6"/>
<path d="M1320.74 835.7A310.5 310.5 0 0 1 1306.49 832.14L1314.12 804.47A281.8 281.8 0 0 0 1327.05 807.71Z" fill="#f9bdb1" stroke="#f9bdb1" stroke-width="0.6"/>
<path d="M1306.49 832.14A310.5 310.5 0 0 1 1292.43 827.9L1301.36 800.62A281.8 281.8 0 0 0 1314.12 804.47Z" fill="#fcd3c9" stroke="#fcd3c9" stroke-width="0.6"/>
<path d="M1292.43 827.9A310.5 310.5 0 0 1 1278.59 823.01L1288.79 796.18A281.8 281.8 0 0 0 1301.36 800.62Z" fill="#fde3dc" stroke="#fde3dc" stroke-width="0.6"/>
<path d="M1278.59 823.01A310.5 310.5 0 0 1 1264.99 817.46L1276.45 791.15A281.8 281.8 0 0 0 1288.79 796.18Z" fill="#cdbdf4" stroke="#cdbdf4" stroke-width="0.6"/>
<path d="M1264.99 817.46A310.5 310.5 0 0 1 1251.67 811.28L1264.36 785.54A281.8 281.8 0 0 0 1276.45 791.15Z" fill="#cdbdf4" stroke="#cdbdf4" stroke-width="0.6"/>
<path d="M1251.67 811.28A310.5 310.5 0 0 1 1238.66 804.47L1252.55 779.36A281.8 281.8 0 0 0 1264.36 785.54Z" fill="#fde3dc" stroke="#fde3dc" stroke-width="0.6"/>
<path d="M1238.66 804.47A310.5 310.5 0 0 1 1225.98 797.06L1241.05 772.64A281.8 281.8 0 0 0 1252.55 779.36Z" fill="#f5a597" stroke="#f5a597" stroke-width="0.6"/>
<path d="M1225.98 797.06A310.5 310.5 0 0 1 1213.67 789.06L1229.87 765.37A281.8 281.8 0 0 0 1241.05 772.64Z" fill="#fde3dc" stroke="#fde3dc" stroke-width="0.6"/>
<path d="M1213.67 789.06A310.5 310.5 0 0 1 1201.75 780.48L1219.06 757.59A281.8 281.8 0 0 0 1229.87 765.37Z" fill="#f9bdb1" stroke="#f9bdb1" stroke-width="0.6"/>
<path d="M1201.75 780.48A310.5 310.5 0 0 1 1190.25 771.35L1208.62 749.3A281.8 281.8 0 0 0 1219.06 757.59Z" fill="#fde3dc" stroke="#fde3dc" stroke-width="0.6"/>
<path d="M1190.25 771.35A310.5 310.5 0 0 1 1179.19 761.69L1198.58 740.53A281.8 281.8 0 0 0 1208.62 749.3Z" fill="#f9bdb1" stroke="#f9bdb1" stroke-width="0.6"/>
<path d="M1179.19 761.69A310.5 310.5 0 0 1 1168.6 751.51L1188.97 731.3A281.8 281.8 0 0 0 1198.58 740.53Z" fill="#cdbdf4" stroke="#cdbdf4" stroke-width="0.6"/>
<path d="M1168.6 751.51A310.5 310.5 0 0 1 1158.51 740.85L1179.81 721.62A281.8 281.8 0 0 0 1188.97 731.3Z" fill="#cdbdf4" stroke="#cdbdf4" stroke-width="0.6"/>
<path d="M1158.51 740.85A310.5 310.5 0 0 1 1148.93 729.72L1171.12 711.51A281.8 281.8 0 0 0 1179.81 721.62Z" fill="#ebe4fb" stroke="#ebe4fb" stroke-width="0.6"/>
<path d="M1148.93 729.72A310.5 310.5 0 0 1 1139.89 718.15L1162.91 701.01A281.8 281.8 0 0 0 1171.12 711.51Z" fill="#f5a597" stroke="#f5a597" stroke-width="0.6"/>
<path d="M1139.89 718.15A310.5 310.5 0 0 1 1131.4 706.16L1155.21 690.14A281.8 281.8 0 0 0 1162.91 701.01Z" fill="#cdbdf4" stroke="#cdbdf4" stroke-width="0.6"/>
<path d="M1131.4 706.16A310.5 310.5 0 0 1 1123.49 693.79L1148.03 678.91A281.8 281.8 0 0 0 1155.21 690.14Z" fill="#fcd3c9" stroke="#fcd3c9" stroke-width="0.6"/>
<path d="M1123.49 693.79A310.5 310.5 0 0 1 1116.18 681.05L1141.4 667.35A281.8 281.8 0 0 0 1148.03 678.91Z" fill="#f9bdb1" stroke="#f9bdb1" stroke-width="0.6"/>
<path d="M1116.18 681.05A310.5 310.5 0 0 1 1109.47 667.99L1135.31 655.49A281.8 281.8 0 0 0 1141.4 667.35Z" fill="#f9bdb1" stroke="#f9bdb1" stroke-width="0.6"/>
<path d="M1109.47 667.99A310.5 310.5 0 0 1 1103.4 654.62L1129.79 643.36A281.8 281.8 0 0 0 1135.31 655.49Z" fill="#fcd3c9" stroke="#fcd3c9" stroke-width="0.6"/>
<path d="M1103.4 654.62A310.5 310.5 0 0 1 1097.96 640.98L1124.86 630.98A281.8 281.8 0 0 0 1129.79 643.36Z" fill="#fcd3c9" stroke="#fcd3c9" stroke-width="0.6"/>
<path d="M1097.96 640.98A310.5 310.5 0 0 1 1093.17 627.1L1120.51 618.38A281.8 281.8 0 0 0 1124.86 630.98Z" fill="#fcd3c9" stroke="#fcd3c9" stroke-width="0.6"/>
<path d="M1093.17 627.1A310.5 310.5 0 0 1 1089.04 613.01L1116.76 605.59A281.8 281.8 0 0 0 1120.51 618.38Z" fill="#fde3dc" stroke="#fde3dc" stroke-width="0.6"/>
<path d="M1089.04 613.01A310.5 310.5 0 0 1 1085.58 598.73L1113.63 592.64A281.8 281.8 0 0 0 1116.76 605.59Z" fill="#fde3dc" stroke="#fde3dc" stroke-width="0.6"/>
<path d="M1085.58 598.73A310.5 310.5 0 0 1 1082.8 584.31L1111.11 579.55A281.8 281.8 0 0 0 1113.63 592.64Z" fill="#fde3dc" stroke="#fde3dc" stroke-width="0.6"/>
<path d="M1082.8 584.31A310.5 310.5 0 0 1 1080.71 569.78L1109.21 566.36A281.8 281.8 0 0 0 1111.11 579.55Z" fill="#fde3dc" stroke="#fde3dc" stroke-width="0.6"/>
<path d="M1080.71 569.78A310.5 310.5 0 0 1 1079.31 555.16L1107.93 553.1A281.8 281.8 0 0 0 1109.21 566.36Z" fill="#f9bdb1" stroke="#f9bdb1" stroke-width="0.6"/>
<path d="M1079.31 555.16A310.5 310.5 0 0 1 1078.6 540.49L1107.29 539.78A281.8 281.8 0 0 0 1107.93 553.1Z" fill="#fcd3c9" stroke="#fcd3c9" stroke-width="0.6"/>
<path d="M1078.6 540.49A310.5 310.5 0 0 1 1078.58 525.81L1107.27 526.46A281.8 281.8 0 0 0 1107.29 539.78Z" fill="#fde3dc" stroke="#fde3dc" stroke-width="0.6"/>
<path d="M1078.58 525.81A310.5 310.5 0 0 1 1079.26 511.14L1107.89 513.14A281.8 281.8 0 0 0 1107.27 526.46Z" fill="#fcd3c9" stroke="#fcd3c9" stroke-width="0.6"/>
<path d="M1079.26 511.14A310.5 310.5 0 0 1 1080.63 496.52L1109.13 499.87A281.8 281.8 0 0 0 1107.89 513.14Z" fill="#fde3dc" stroke="#fde3dc" stroke-width="0.6"/>
<path d="M1080.63 496.52A310.5 310.5 0 0 1 1082.69 481.98L1111 486.68A281.8 281.8 0 0 0 1109.13 499.87Z" fill="#fde3dc" stroke="#fde3dc" stroke-width="0.6"/>
<path d="M1082.69 481.98A310.5 310.5 0 0 1 1085.43 467.55L1113.49 473.59A281.8 281.8 0 0 0 1111 486.68Z" fill="#fde3dc" stroke="#fde3dc" stroke-width="0.6"/>
<path d="M1085.43 467.55A310.5 310.5 0 0 1 1088.86 453.27L1116.6 460.63A281.8 281.8 0 0 0 1113.49 473.59Z" fill="#f5a597" stroke="#f5a597" stroke-width="0.6"/>
<path d="M1088.86 453.27A310.5 310.5 0 0 1 1092.95 439.17L1120.32 447.83A281.8 281.8 0 0 0 1116.6 460.63Z" fill="#fde3dc" stroke="#fde3dc" stroke-width="0.6"/>
<path d="M1092.95 439.17A310.5 310.5 0 0 1 1097.71 425.28L1124.63 435.22A281.8 281.8 0 0 0 1120.32 447.83Z" fill="#f9bdb1" stroke="#f9bdb1" stroke-width="0.6"/>
<path d="M1097.71 425.28A310.5 310.5 0 0 1 1103.12 411.63L1129.54 422.83A281.8 281.8 0 0 0 1124.63 435.22Z" fill="#ef8878" stroke="#ef8878" stroke-width="0.6"/>
<path d="M1103.12 411.63A310.5 310.5 0 0 1 1109.17 398.25L1135.03 410.68A281.8 281.8 0 0 0 1129.54 422.83Z" fill="#f9bdb1" stroke="#f9bdb1" stroke-width="0.6"/>
<path d="M1109.17 398.25A310.5 310.5 0 0 1 1115.84 385.17L1141.09 398.81A281.8 281.8 0 0 0 1135.03 410.68Z" fill="#fde3dc" stroke="#fde3dc" stroke-width="0.6"/>
<path d="M1115.84 385.17A310.5 310.5 0 0 1 1123.13 372.42L1147.7 387.24A281.8 281.8 0 0 0 1141.09 398.81Z" fill="#fde3dc" stroke="#fde3dc" stroke-width="0.6"/>
<path d="M1650.35 427.42A281.8 281.8 0 0 1 1655.04 439.89L1627.85 449.39A253 253 0 0 0 1623.64 438.19Z" fill="#ebe4fb" stroke="#ebe4fb" stroke-width="0.6"/>
<path d="M1655.04 439.89A281.8 281.8 0 0 1 1659.14 452.58L1631.53 460.77A253 253 0 0 0 1627.85 449.39Z" fill="#bda8ef" stroke="#bda8ef" stroke-width="0.6"/>
<path d="M1659.14 452.58A281.8 281.8 0 0 1 1662.63 465.44L1634.67 472.32A253 253 0 0 0 1631.53 460.77Z" fill="#bda8ef" stroke="#bda8ef" stroke-width="0.6"/>
<path d="M1662.63 465.44A281.8 281.8 0 0 1 1665.51 478.45L1637.25 484.01A253 253 0 0 0 1634.67 472.32Z" fill="#cdbdf4" stroke="#cdbdf4" stroke-width="0.6"/>
<path d="M1665.51 478.45A281.8 281.8 0 0 1 1667.77 491.59L1639.28 495.8A253 253 0 0 0 1637.25 484.01Z" fill="#fcd3c9" stroke="#fcd3c9" stroke-width="0.6"/>
<path d="M1667.77 491.59A281.8 281.8 0 0 1 1669.41 504.81L1640.75 507.67A253 253 0 0 0 1639.28 495.8Z" fill="#fcd3c9" stroke="#fcd3c9" stroke-width="0.6"/>
<path d="M1669.41 504.81A281.8 281.8 0 0 1 1670.42 518.1L1641.66 519.6A253 253 0 0 0 1640.75 507.67Z" fill="#cdbdf4" stroke="#cdbdf4" stroke-width="0.6"/>
<path d="M1670.42 518.1A281.8 281.8 0 0 1 1670.8 531.42L1642 531.56A253 253 0 0 0 1641.66 519.6Z" fill="#cdbdf4" stroke="#cdbdf4" stroke-width="0.6"/>
<path d="M1670.8 531.42A281.8 281.8 0 0 1 1670.55 544.75L1641.77 543.53A253 253 0 0 0 1642 531.56Z" fill="#ddd1f7" stroke="#ddd1f7" stroke-width="0.6"/>
<path d="M1670.55 544.75A281.8 281.8 0 0 1 1669.67 558.05L1640.98 555.47A253 253 0 0 0 1641.77 543.53Z" fill="#ddd1f7" stroke="#ddd1f7" stroke-width="0.6"/>
<path d="M1669.67 558.05A281.8 281.8 0 0 1 1668.16 571.29L1639.63 567.35A253 253 0 0 0 1640.98 555.47Z" fill="#ddd1f7" stroke="#ddd1f7" stroke-width="0.6"/>
<path d="M1668.16 571.29A281.8 281.8 0 0 1 1666.03 584.44L1637.72 579.17A253 253 0 0 0 1639.63 567.35Z" fill="#cdbdf4" stroke="#cdbdf4" stroke-width="0.6"/>
<path d="M1666.03 584.44A281.8 281.8 0 0 1 1663.28 597.48L1635.24 590.87A253 253 0 0 0 1637.72 579.17Z" fill="#cdbdf4" stroke="#cdbdf4" stroke-width="0.6"/>
<path d="M1663.28 597.48A281.8 281.8 0 0 1 1659.91 610.38L1632.22 602.45A253 253 0 0 0 1635.24 590.87Z" fill="#bda8ef" stroke="#bda8ef" stroke-width="0.6"/>
<path d="M1659.91 610.38A281.8 281.8 0 0 1 1655.94 623.1L1628.66 613.87A253 253 0 0 0 1632.22 602.45Z" fill="#ebe4fb" stroke="#ebe4fb" stroke-width="0.6"/>
<path d="M1655.94 623.1A281.8 281.8 0 0 1 1651.37 635.62L1624.56 625.11A253 253 0 0 0 1628.66 613.87Z" fill="#f5a597" stroke="#f5a597" stroke-width="0.6"/>
<path d="M1651.37 635.62A281.8 281.8 0 0 1 1646.22 647.91L1619.93 636.15A253 253 0 0 0 1624.56 625.11Z" fill="#cdbdf4" stroke="#cdbdf4" stroke-width="0.6"/>
<path d="M1646.22 647.91A281.8 281.8 0 0 1 1640.49 659.95L1614.78 646.95A253 253 0 0 0 1619.93 636.15Z" fill="#bda8ef" stroke="#bda8ef" stroke-width="0.6"/>
<path d="M1640.49 659.95A281.8 281.8 0 0 1 1634.19 671.69L1609.13 657.5A253 253 0 0 0 1614.78 646.95Z" fill="#ddd1f7" stroke="#ddd1f7" stroke-width="0.6"/>
<path d="M1634.19 671.69A281.8 281.8 0 0 1 1627.35 683.13L1602.99 667.77A253 253 0 0 0 1609.13 657.5Z" fill="#ddd1f7" stroke="#ddd1f7" stroke-width="0.6"/>
<path d="M1627.35 683.13A281.8 281.8 0 0 1 1619.98 694.23L1596.37 677.73A253 253 0 0 0 1602.99 667.77Z" fill="#ebe4fb" stroke="#ebe4fb" stroke-width="0.6"/>
<path d="M1619.98 694.23A281.8 281.8 0 0 1 1612.09 704.97L1589.29 687.38A253 253 0 0 0 1596.37 677.73Z" fill="#cdbdf4" stroke="#cdbdf4" stroke-width="0.6"/>
<path d="M1612.09 704.97A281.8 281.8 0 0 1 1603.7 715.33L1581.76 696.67A253 253 0 0 0 1589.29 687.38Z" fill="#bda8ef" stroke="#bda8ef" stroke-width="0.6"/>
<path d="M1603.7 715.33A281.8 281.8 0 0 1 1594.83 725.27L1573.79 705.6A253 253 0 0 0 1581.76 696.67Z" fill="#bda8ef" stroke="#bda8ef" stroke-width="0.6"/>
<path d="M1594.83 725.27A281.8 281.8 0 0 1 1585.5 734.79L1565.41 714.15A253 253 0 0 0 1573.79 705.6Z" fill="#fde3dc" stroke="#fde3dc" stroke-width="0.6"/>
<path d="M1585.5 734.79A281.8 281.8 0 0 1 1575.73 743.86L1556.64 722.29A253 253 0 0 0 1565.41 714.15Z" fill="#ddd1f7" stroke="#ddd1f7" stroke-width="0.6"/>
<path d="M1575.73 743.86A281.8 281.8 0 0 1 1565.54 752.45L1547.5 730A253 253 0 0 0 1556.64 722.29Z" fill="#ef8878" stroke="#ef8878" stroke-width="0.6"/>
<path d="M1565.54 752.45A281.8 281.8 0 0 1 1554.96 760.55L1538 737.27A253 253 0 0 0 1547.5 730Z" fill="#f9bdb1" stroke="#f9bdb1" stroke-width="0.6"/>
<path d="M1554.96 760.55A281.8 281.8 0 0 1 1544 768.14L1528.16 744.09A253 253 0 0 0 1538 737.27Z" fill="#ebe4fb" stroke="#ebe4fb" stroke-width="0.6"/>
<path d="M1544 768.14A281.8 281.8 0 0 1 1532.7 775.21L1518.02 750.43A253 253 0 0 0 1528.16 744.09Z" fill="#f9bdb1" stroke="#f9bdb1" stroke-width="0.6"/>
<path d="M1532.7 775.21A281.8 281.8 0 0 1 1521.08 781.73L1507.58 756.29A253 253 0 0 0 1518.02 750.43Z" fill="#bda8ef" stroke="#bda8ef" stroke-width="0.6"/>
<path d="M1521.08 781.73A281.8 281.8 0 0 1 1509.16 787.7L1496.88 761.65A253 253 0 0 0 1507.58 756.29Z" fill="#f5a597" stroke="#f5a597" stroke-width="0.6"/>
<path d="M1509.16 787.7A281.8 281.8 0 0 1 1496.98 793.09L1485.94 766.49A253 253 0 0 0 1496.88 761.65Z" fill="#f9bdb1" stroke="#f9bdb1" stroke-width="0.6"/>
<path d="M1496.98 793.09A281.8 281.8 0 0 1 1484.55 797.91L1474.78 770.81A253 253 0 0 0 1485.94 766.49Z" fill="#bda8ef" stroke="#bda8ef" stroke-width="0.6"/>
<path d="M1484.55 797.91A281.8 281.8 0 0 1 1471.91 802.13L1463.43 774.6A253 253 0 0 0 1474.78 770.81Z" fill="#cdbdf4" stroke="#cdbdf4" stroke-width="0.6"/>
<path d="M1471.91 802.13A281.8 281.8 0 0 1 1459.08 805.75L1451.92 777.85A253 253 0 0 0 1463.43 774.6Z" fill="#ebe4fb" stroke="#ebe4fb" stroke-width="0.6"/>
<path d="M1459.08 805.75A281.8 281.8 0 0 1 1446.1 808.75L1440.26 780.55A253 253 0 0 0 1451.92 777.85Z" fill="#bda8ef" stroke="#bda8ef" stroke-width="0.6"/>
<path d="M1446.1 808.75A281.8 281.8 0 0 1 1432.99 811.15L1428.49 782.7A253 253 0 0 0 1440.26 780.55Z" fill="#cdbdf4" stroke="#cdbdf4" stroke-width="0.6"/>
<path d="M1432.99 811.15A281.8 281.8 0 0 1 1419.78 812.91L1416.63 784.29A253 253 0 0 0 1428.49 782.7Z" fill="#ddd1f7" stroke="#ddd1f7" stroke-width="0.6"/>
<path d="M1419.78 812.91A281.8 281.8 0 0 1 1406.5 814.06L1404.71 785.31A253 253 0 0 0 1416.63 784.29Z" fill="#cdbdf4" stroke="#cdbdf4" stroke-width="0.6"/>
<path d="M1406.5 814.06A281.8 281.8 0 0 1 1393.18 814.57L1392.75 785.77A253 253 0 0 0 1404.71 785.31Z" fill="#ebe4fb" stroke="#ebe4fb" stroke-width="0.6"/>
<path d="M1393.18 814.57A281.8 281.8 0 0 1 1379.85 814.45L1380.79 785.67A253 253 0 0 0 1392.75 785.77Z" fill="#fcd3c9" stroke="#fcd3c9" stroke-width="0.6"/>
<path d="M1379.85 814.45A281.8 281.8 0 0 1 1366.55 813.7L1368.84 785A253 253 0 0 0 1380.79 785.67Z" fill="#cdbdf4" stroke="#cdbdf4" stroke-width="0.6"/>
<path d="M1366.55 813.7A281.8 281.8 0 0 1 1353.29 812.33L1356.94 783.76A253 253 0 0 0 1368.84 785Z" fill="#cdbdf4" stroke="#cdbdf4" stroke-width="0.6"/>
<path d="M1353.29 812.33A281.8 281.8 0 0 1 1340.11 810.33L1345.11 781.96A253 253 0 0 0 1356.94 783.76Z" fill="#fde3dc" stroke="#fde3dc" stroke-width="0.6"/>
<path d="M1340.11 810.33A281.8 281.8 0 0 1 1327.05 807.71L1333.38 779.61A253 253 0 0 0 1345.11 781.96Z" fill="#e66c5e" stroke="#e66c5e" stroke-width="0.6"/>
<path d="M1327.05 807.71A281.8 281.8 0 0 1 1314.12 804.47L1321.77 776.7A253 253 0 0 0 1333.38 779.61Z" fill="#ef8878" stroke="#ef8878" stroke-width="0.6"/>
<path d="M1314.12 804.47A281.8 281.8 0 0 1 1301.36 800.62L1310.31 773.25A253 253 0 0 0 1321.77 776.7Z" fill="#a98eeb" stroke="#a98eeb" stroke-width="0.6"/>
<path d="M1301.36 800.62A281.8 281.8 0 0 1 1288.79 796.18L1299.03 769.26A253 253 0 0 0 1310.31 773.25Z" fill="#cdbdf4" stroke="#cdbdf4" stroke-width="0.6"/>
<path d="M1288.79 796.18A281.8 281.8 0 0 1 1276.45 791.15L1287.95 764.75A253 253 0 0 0 1299.03 769.26Z" fill="#f5a597" stroke="#f5a597" stroke-width="0.6"/>
<path d="M1276.45 791.15A281.8 281.8 0 0 1 1264.36 785.54L1277.1 759.71A253 253 0 0 0 1287.95 764.75Z" fill="#f5a597" stroke="#f5a597" stroke-width="0.6"/>
<path d="M1264.36 785.54A281.8 281.8 0 0 1 1252.55 779.36L1266.5 754.16A253 253 0 0 0 1277.1 759.71Z" fill="#ef8878" stroke="#ef8878" stroke-width="0.6"/>
<path d="M1252.55 779.36A281.8 281.8 0 0 1 1241.05 772.64L1256.17 748.12A253 253 0 0 0 1266.5 754.16Z" fill="#e66c5e" stroke="#e66c5e" stroke-width="0.6"/>
<path d="M1241.05 772.64A281.8 281.8 0 0 1 1229.87 765.37L1246.14 741.6A253 253 0 0 0 1256.17 748.12Z" fill="#cdbdf4" stroke="#cdbdf4" stroke-width="0.6"/>
<path d="M1229.87 765.37A281.8 281.8 0 0 1 1219.06 757.59L1236.42 734.62A253 253 0 0 0 1246.14 741.6Z" fill="#f5a597" stroke="#f5a597" stroke-width="0.6"/>
<path d="M1219.06 757.59A281.8 281.8 0 0 1 1208.62 749.3L1227.05 727.18A253 253 0 0 0 1236.42 734.62Z" fill="#cdbdf4" stroke="#cdbdf4" stroke-width="0.6"/>
<path d="M1208.62 749.3A281.8 281.8 0 0 1 1198.58 740.53L1218.04 719.3A253 253 0 0 0 1227.05 727.18Z" fill="#fde3dc" stroke="#fde3dc" stroke-width="0.6"/>
<path d="M1198.58 740.53A281.8 281.8 0 0 1 1188.97 731.3L1209.42 711.01A253 253 0 0 0 1218.04 719.3Z" fill="#ddd1f7" stroke="#ddd1f7" stroke-width="0.6"/>
<path d="M1188.97 731.3A281.8 281.8 0 0 1 1179.81 721.62L1201.19 702.32A253 253 0 0 0 1209.42 711.01Z" fill="#fcd3c9" stroke="#fcd3c9" stroke-width="0.6"/>
<path d="M1179.81 721.62A281.8 281.8 0 0 1 1171.12 711.51L1193.39 693.25A253 253 0 0 0 1201.19 702.32Z" fill="#fcd3c9" stroke="#fcd3c9" stroke-width="0.6"/>
<path d="M1171.12 711.51A281.8 281.8 0 0 1 1162.91 701.01L1186.02 683.82A253 253 0 0 0 1193.39 693.25Z" fill="#cdbdf4" stroke="#cdbdf4" stroke-width="0.6"/>
<path d="M1162.91 701.01A281.8 281.8 0 0 1 1155.21 690.14L1179.11 674.06A253 253 0 0 0 1186.02 683.82Z" fill="#ddd1f7" stroke="#ddd1f7" stroke-width="0.6"/>
<path d="M1155.21 690.14A281.8 281.8 0 0 1 1148.03 678.91L1172.66 663.97A253 253 0 0 0 1179.11 674.06Z" fill="#cdbdf4" stroke="#cdbdf4" stroke-width="0.6"/>
<path d="M1148.03 678.91A281.8 281.8 0 0 1 1141.4 667.35L1166.7 653.6A253 253 0 0 0 1172.66 663.97Z" fill="#fcd3c9" stroke="#fcd3c9" stroke-width="0.6"/>
<path d="M1141.4 667.35A281.8 281.8 0 0 1 1135.31 655.49L1161.24 642.95A253 253 0 0 0 1166.7 653.6Z" fill="#cdbdf4" stroke="#cdbdf4" stroke-width="0.6"/>
<path d="M1135.31 655.49A281.8 281.8 0 0 1 1129.79 643.36L1156.29 632.06A253 253 0 0 0 1161.24 642.95Z" fill="#a98eeb" stroke="#a98eeb" stroke-width="0.6"/>
<path d="M1129.79 643.36A281.8 281.8 0 0 1 1124.86 630.98L1151.85 620.95A253 253 0 0 0 1156.29 632.06Z" fill="#bda8ef" stroke="#bda8ef" stroke-width="0.6"/>
<path d="M1124.86 630.98A281.8 281.8 0 0 1 1120.51 618.38L1147.95 609.64A253 253 0 0 0 1151.85 620.95Z" fill="#a98eeb" stroke="#a98eeb" stroke-width="0.6"/>
<path d="M1120.51 618.38A281.8 281.8 0 0 1 1116.76 605.59L1144.59 598.15A253 253 0 0 0 1147.95 609.64Z" fill="#cdbdf4" stroke="#cdbdf4" stroke-width="0.6"/>
<path d="M1116.76 605.59A281.8 281.8 0 0 1 1113.63 592.64L1141.77 586.52A253 253 0 0 0 1144.59 598.15Z" fill="#bda8ef" stroke="#bda8ef" stroke-width="0.6"/>
<path d="M1113.63 592.64A281.8 281.8 0 0 1 1111.11 579.55L1139.51 574.77A253 253 0 0 0 1141.77 586.52Z" fill="#a98eeb" stroke="#a98eeb" stroke-width="0.6"/>
<path d="M1111.11 579.55A281.8 281.8 0 0 1 1109.21 566.36L1137.8 562.93A253 253 0 0 0 1139.51 574.77Z" fill="#cdbdf4" stroke="#cdbdf4" stroke-width="0.6"/>
<path d="M1109.21 566.36A281.8 281.8 0 0 1 1107.93 553.1L1136.66 551.02A253 253 0 0 0 1137.8 562.93Z" fill="#fde3dc" stroke="#fde3dc" stroke-width="0.6"/>
<path d="M1107.93 553.1A281.8 281.8 0 0 1 1107.29 539.78L1136.08 539.07A253 253 0 0 0 1136.66 551.02Z" fill="#a98eeb" stroke="#a98eeb" stroke-width="0.6"/>
<path d="M1107.29 539.78A281.8 281.8 0 0 1 1107.27 526.46L1136.06 527.1A253 253 0 0 0 1136.08 539.07Z" fill="#cdbdf4" stroke="#cdbdf4" stroke-width="0.6"/>
<path d="M1107.27 526.46A281.8 281.8 0 0 1 1107.89 513.14L1136.62 515.15A253 253 0 0 0 1136.06 527.1Z" fill="#a98eeb" stroke="#a98eeb" stroke-width="0.6"/>
<path d="M1107.89 513.14A281.8 281.8 0 0 1 1109.13 499.87L1137.73 503.24A253 253 0 0 0 1136.62 515.15Z" fill="#cdbdf4" stroke="#cdbdf4" stroke-width="0.6"/>
<path d="M1109.13 499.87A281.8 281.8 0 0 1 1111 486.68L1139.41 491.39A253 253 0 0 0 1137.73 503.24Z" fill="#cdbdf4" stroke="#cdbdf4" stroke-width="0.6"/>
<path d="M1111 486.68A281.8 281.8 0 0 1 1113.49 473.59L1141.65 479.64A253 253 0 0 0 1139.41 491.39Z" fill="#cdbdf4" stroke="#cdbdf4" stroke-width="0.6"/>
<path d="M1113.49 473.59A281.8 281.8 0 0 1 1116.6 460.63L1144.44 468A253 253 0 0 0 1141.65 479.64Z" fill="#a98eeb" stroke="#a98eeb" stroke-width="0.6"/>
<path d="M1116.6 460.63A281.8 281.8 0 0 1 1120.32 447.83L1147.78 456.51A253 253 0 0 0 1144.44 468Z" fill="#a98eeb" stroke="#a98eeb" stroke-width="0.6"/>
<path d="M1120.32 447.83A281.8 281.8 0 0 1 1124.63 435.22L1151.65 445.19A253 253 0 0 0 1147.78 456.51Z" fill="#ddd1f7" stroke="#ddd1f7" stroke-width="0.6"/>
<path d="M1124.63 435.22A281.8 281.8 0 0 1 1129.54 422.83L1156.06 434.07A253 253 0 0 0 1151.65 445.19Z" fill="#fde3dc" stroke="#fde3dc" stroke-width="0.6"/>
<path d="M1129.54 422.83A281.8 281.8 0 0 1 1135.03 410.68L1160.99 423.16A253 253 0 0 0 1156.06 434.07Z" fill="#a98eeb" stroke="#a98eeb" stroke-width="0.6"/>
<path d="M1135.03 410.68A281.8 281.8 0 0 1 1141.09 398.81L1166.43 412.51A253 253 0 0 0 1160.99 423.16Z" fill="#ddd1f7" stroke="#ddd1f7" stroke-width="0.6"/>
<path d="M1141.09 398.81A281.8 281.8 0 0 1 1147.7 387.24L1172.36 402.12A253 253 0 0 0 1166.43 412.51Z" fill="#ddd1f7" stroke="#ddd1f7" stroke-width="0.6"/>
<path d="M1709.3 420.9L1627.9 449.4 M1714.3 436.2L1631.5 460.8 M1718.5 451.7L1634.7 472.3 M1721.9 467.4L1637.3 484 M1724.7 483.2L1639.3 495.8 M1726.6 499.1L1640.7 507.7 M1727.8 515.1L1641.7 519.6 M1728.3 531.1L1642 531.6 M1728 547.2L1641.8 543.5 M1726.9 563.2L1641 555.5 M1725.1 579.1L1639.6 567.4 M1722.6 595L1637.7 579.2 M1719.2 610.7L1635.2 590.9 M1715.2 626.2L1632.2 602.5 M1710.4 641.5L1628.7 613.9 M1704.9 656.6L1624.6 625.1 M1698.7 671.4L1619.9 636.1 M1691.8 685.9L1614.8 647 M1684.2 700L1609.1 657.5 M1676 713.8L1603 667.8 M1667.1 727.2L1596.4 677.7 M1657.6 740.1L1589.3 687.4 M1647.5 752.6L1581.8 696.7 M1636.8 764.5L1573.8 705.6 M1625.6 776L1565.4 714.1 M1613.8 786.9L1556.6 722.3 M1601.6 797.3L1547.5 730 M1588.8 807L1538 737.3 M1575.6 816.2L1528.2 744.1 M1562 824.7L1518 750.4 M1548 832.5L1507.6 756.3 M1533.7 839.7L1496.9 761.6 M1519 846.2L1485.9 766.5 M1504 852L1474.8 770.8 M1488.8 857.1L1463.4 774.6 M1473.4 861.4L1451.9 777.9 M1457.7 865.1L1440.3 780.6 M1442 867.9L1428.5 782.7 M1426.1 870.1L1416.6 784.3 M1410.1 871.4L1404.7 785.3 M1394 872.1L1392.8 785.8 M1378 871.9L1380.8 785.7 M1362 871L1368.8 785 M1346 869.4L1356.9 783.8 M1330.1 867L1345.1 782 M1314.4 863.8L1333.4 779.6 M1298.8 859.9L1321.8 776.7 M1283.5 855.3L1310.3 773.3 M1268.3 849.9L1299 769.3 M1253.5 843.9L1288 764.7 M1238.9 837.1L1277.1 759.7 M1224.7 829.7L1266.5 754.2 M1210.9 821.6L1256.2 748.1 M1197.4 812.8L1246.1 741.6 M1184.4 803.5L1236.4 734.6 M1171.8 793.5L1227.1 727.2 M1159.7 782.9L1218 719.3 M1148.2 771.8L1209.4 711 M1137.1 760.1L1201.2 702.3 M1126.7 748L1193.4 693.3 M1116.8 735.3L1186 683.8 M1107.5 722.2L1179.1 674.1 M1098.9 708.7L1172.7 664 M1090.9 694.8L1166.7 653.6 M1083.5 680.5L1161.2 643 M1076.9 665.9L1156.3 632.1 M1071 651L1151.9 620.9 M1065.7 635.8L1147.9 609.6 M1061.2 620.4L1144.6 598.2 M1057.4 604.8L1141.8 586.5 M1054.4 589.1L1139.5 574.8 M1052.1 573.2L1137.8 562.9 M1050.6 557.2L1136.7 551 M1049.8 541.2L1136.1 539.1 M1049.8 525.2L1136.1 527.1 M1050.5 509.1L1136.6 515.2 M1052 493.2L1137.7 503.2 M1054.3 477.3L1139.4 491.4 M1057.3 461.5L1141.6 479.6 M1061 445.9L1144.4 468 M1065.5 430.5L1147.8 456.5 M1070.7 415.3L1151.7 445.2 M1076.6 400.4L1156.1 434.1 M1083.2 385.8L1161 423.2 M1090.5 371.5L1166.4 412.5" stroke="#8c8c8c" stroke-opacity="0.35" stroke-width="0.6" fill="none"/>
<path d="M958.1 260.92A509.5 509.5 0 0 1 1032.84 168.47L1049.83 185.84A485.2 485.2 0 0 0 978.65 273.89Z" fill="#4daf4a"/>
<path d="M980.26 275.95A483.3 483.3 0 0 1 1051.15 188.25L1072.54 210.13A452.7 452.7 0 0 0 1006.14 292.28Z" fill="#deebf7" stroke="#b5b5b5" stroke-width="1.9" stroke-linejoin="round"/>
<path d="M1008.68 293.88A449.7 449.7 0 0 1 1074.64 212.28L1096.03 234.16A419.1 419.1 0 0 0 1034.56 310.21Z" fill="#ffffe5" stroke="#b5b5b5" stroke-width="1.9" stroke-linejoin="round"/>
<path d="M1037.01 311.76A416.2 416.2 0 0 1 1098.06 236.23L1119.45 258.11A385.6 385.6 0 0 0 1062.89 328.09Z" fill="#deebf7" stroke="#b5b5b5" stroke-width="1.9" stroke-linejoin="round"/>
<path d="M1065.42 329.69A382.6 382.6 0 0 1 1121.55 260.26L1142.94 282.14A352 352 0 0 0 1091.3 346.02Z" fill="#ffffe5" stroke="#b5b5b5" stroke-width="1.9" stroke-linejoin="round"/>
<path d="M1102.04 351.74A339.3 339.3 0 0 1 1110.82 338.53L1134.44 355.02A310.5 310.5 0 0 0 1126.4 367.11Z" fill="#ebe4fb" stroke="#ebe4fb" stroke-width="0.6"/>
<path d="M1110.82 338.53A339.3 339.3 0 0 1 1120.21 325.73L1143.03 343.31A310.5 310.5 0 0 0 1134.44 355.02Z" fill="#cdbdf4" stroke="#cdbdf4" stroke-width="0.6"/>
<path d="M1120.21 325.73A339.3 339.3 0 0 1 1130.19 313.39L1152.16 332.01A310.5 310.5 0 0 0 1143.03 343.31Z" fill="#f9bdb1" stroke="#f9bdb1" stroke-width="0.6"/>
<path d="M1130.19 313.39A339.3 339.3 0 0 1 1140.73 301.53L1161.8 321.16A310.5 310.5 0 0 0 1152.16 332.01Z" fill="#bda8ef" stroke="#bda8ef" stroke-width="0.6"/>
<path d="M1140.73 301.53A339.3 339.3 0 0 1 1151.82 290.17L1171.95 310.77A310.5 310.5 0 0 0 1161.8 321.16Z" fill="#bda8ef" stroke="#bda8ef" stroke-width="0.6"/>
<path d="M1126.4 367.11A310.5 310.5 0 0 1 1134.44 355.02L1157.97 371.45A281.8 281.8 0 0 0 1150.67 382.43Z" fill="#bda8ef" stroke="#bda8ef" stroke-width="0.6"/>
<path d="M1134.44 355.02A310.5 310.5 0 0 1 1143.03 343.31L1165.76 360.82A281.8 281.8 0 0 0 1157.97 371.45Z" fill="#ebe4fb" stroke="#ebe4fb" stroke-width="0.6"/>
<path d="M1143.03 343.31A310.5 310.5 0 0 1 1152.16 332.01L1174.05 350.57A281.8 281.8 0 0 0 1165.76 360.82Z" fill="#ddd1f7" stroke="#ddd1f7" stroke-width="0.6"/>
<path d="M1152.16 332.01A310.5 310.5 0 0 1 1161.8 321.16L1182.8 340.72A281.8 281.8 0 0 0 1174.05 350.57Z" fill="#cdbdf4" stroke="#cdbdf4" stroke-width="0.6"/>
<path d="M1161.8 321.16A310.5 310.5 0 0 1 1171.95 310.77L1192.01 331.29A281.8 281.8 0 0 0 1182.8 340.72Z" fill="#ddd1f7" stroke="#ddd1f7" stroke-width="0.6"/>
<path d="M1150.67 382.43A281.8 281.8 0 0 1 1157.97 371.45L1181.58 387.94A253 253 0 0 0 1175.03 397.8Z" fill="#ddd1f7" stroke="#ddd1f7" stroke-width="0.6"/>
<path d="M1157.97 371.45A281.8 281.8 0 0 1 1165.76 360.82L1188.58 378.4A253 253 0 0 0 1181.58 387.94Z" fill="#fde3dc" stroke="#fde3dc" stroke-width="0.6"/>
<path d="M1165.76 360.82A281.8 281.8 0 0 1 1174.05 350.57L1196.02 369.2A253 253 0 0 0 1188.58 378.4Z" fill="#bda8ef" stroke="#bda8ef" stroke-width="0.6"/>
<path d="M1174.05 350.57A281.8 281.8 0 0 1 1182.8 340.72L1203.88 360.35A253 253 0 0 0 1196.02 369.2Z" fill="#fcd3c9" stroke="#fcd3c9" stroke-width="0.6"/>
<path d="M1182.8 340.72A281.8 281.8 0 0 1 1192.01 331.29L1212.14 351.88A253 253 0 0 0 1203.88 360.35Z" fill="#f9bdb1" stroke="#f9bdb1" stroke-width="0.6"/>
<path d="M1110.8 338.5L1181.6 387.9 M1120.2 325.7L1188.6 378.4 M1130.2 313.4L1196 369.2 M1140.7 301.5L1203.9 360.4" stroke="#8c8c8c" stroke-opacity="0.35" stroke-width="0.6" fill="none"/>
<path d="M1039.58 162A509.5 509.5 0 0 1 1075.74 130.98L1090.68 150.14A485.2 485.2 0 0 0 1056.24 179.68Z" fill="#ffff33"/>
<path d="M1057.54 182.12A483.3 483.3 0 0 1 1091.85 152.69L1110.66 176.83A452.7 452.7 0 0 0 1078.53 204.39Z" fill="#deebf7" stroke="#b5b5b5" stroke-width="1.9" stroke-linejoin="round"/>
<path d="M1080.59 206.57A449.7 449.7 0 0 1 1112.51 179.19L1131.32 203.32A419.1 419.1 0 0 0 1101.57 228.84Z" fill="#ffffe5" stroke="#b5b5b5" stroke-width="1.9" stroke-linejoin="round"/>
<path d="M1103.56 230.95A416.2 416.2 0 0 1 1133.11 205.61L1151.92 229.74A385.6 385.6 0 0 0 1124.55 253.22Z" fill="#deebf7" stroke="#b5b5b5" stroke-width="1.9" stroke-linejoin="round"/>
<path d="M1126.61 255.4A382.6 382.6 0 0 1 1153.76 232.11L1172.58 256.24A352 352 0 0 0 1147.59 277.67Z" fill="#ffffe5" stroke="#b5b5b5" stroke-width="1.9" stroke-linejoin="round"/>
<path d="M1156.3 285.87A339.3 339.3 0 0 1 1168.1 275.26L1186.85 297.12A310.5 310.5 0 0 0 1176.05 306.83Z" fill="#ddd1f7" stroke="#ddd1f7" stroke-width="0.6"/>
<path d="M1168.1 275.26A339.3 339.3 0 0 1 1180.39 265.21L1198.09 287.92A310.5 310.5 0 0 0 1186.85 297.12Z" fill="#ebe4fb" stroke="#ebe4fb" stroke-width="0.6"/>
<path d="M1176.05 306.83A310.5 310.5 0 0 1 1186.85 297.12L1205.54 318.9A281.8 281.8 0 0 0 1195.74 327.71Z" fill="#bda8ef" stroke="#bda8ef" stroke-width="0.6"/>
<path d="M1186.85 297.12A310.5 310.5 0 0 1 1198.09 287.92L1215.74 310.56A281.8 281.8 0 0 0 1205.54 318.9Z" fill="#fde3dc" stroke="#fde3dc" stroke-width="0.6"/>
<path d="M1195.74 327.71A281.8 281.8 0 0 1 1205.54 318.9L1224.29 340.76A253 253 0 0 0 1215.49 348.67Z" fill="#ddd1f7" stroke="#ddd1f7" stroke-width="0.6"/>
<path d="M1205.54 318.9A281.8 281.8 0 0 1 1215.74 310.56L1233.45 333.27A253 253 0 0 0 1224.29 340.76Z" fill="#f9bdb1" stroke="#f9bdb1" stroke-width="0.6"/>
<path d="M1168.1 275.3L1224.3 340.8" stroke="#8c8c8c" stroke-opacity="0.35" stroke-width="0.6" fill="none"/>
<path d="M1084.15 124.56A509.5 509.5 0 0 1 1326.47 27.15L1329.45 51.27A485.2 485.2 0 0 0 1098.69 144.03Z" fill="#f781bf"/>
<path d="M1099.83 146.6A483.3 483.3 0 0 1 1329.68 54.2L1333.44 84.57A452.7 452.7 0 0 0 1118.14 171.12Z" fill="#deebf7" stroke="#b5b5b5" stroke-width="1.9" stroke-linejoin="round"/>
<path d="M1119.93 173.53A449.7 449.7 0 0 1 1333.81 87.55L1337.56 117.92A419.1 419.1 0 0 0 1138.24 198.04Z" fill="#ffffe5" stroke="#b5b5b5" stroke-width="1.9" stroke-linejoin="round"/>
<path d="M1139.98 200.37A416.2 416.2 0 0 1 1337.92 120.8L1341.67 151.17A385.6 385.6 0 0 0 1158.29 224.89Z" fill="#deebf7" stroke="#b5b5b5" stroke-width="1.9" stroke-linejoin="round"/>
<path d="M1160.08 227.29A382.6 382.6 0 0 1 1342.04 154.14L1345.8 184.51A352 352 0 0 0 1178.39 251.81Z" fill="#ffffe5" stroke="#b5b5b5" stroke-width="1.9" stroke-linejoin="round"/>
<path d="M1185.99 260.93A339.3 339.3 0 0 1 1199.02 251.67L1215.15 275.54A310.5 310.5 0 0 0 1203.22 284.01Z" fill="#cdbdf4" stroke="#cdbdf4" stroke-width="0.6"/>
<path d="M1199.02 251.67A339.3 339.3 0 0 1 1212.47 243.04L1227.46 267.63A310.5 310.5 0 0 0 1215.15 275.54Z" fill="#bda8ef" stroke="#bda8ef" stroke-width="0.6"/>
<path d="M1212.47 243.04A339.3 339.3 0 0 1 1226.32 235.04L1240.13 260.32A310.5 310.5 0 0 0 1227.46 267.63Z" fill="#f5a597" stroke="#f5a597" stroke-width="0.6"/>
<path d="M1226.32 235.04A339.3 339.3 0 0 1 1240.53 227.71L1253.13 253.61A310.5 310.5 0 0 0 1240.13 260.32Z" fill="#f5a597" stroke="#f5a597" stroke-width="0.6"/>
<path d="M1240.53 227.71A339.3 339.3 0 0 1 1255.06 221.05L1266.43 247.52A310.5 310.5 0 0 0 1253.13 253.61Z" fill="#ddd1f7" stroke="#ddd1f7" stroke-width="0.6"/>
<path d="M1255.06 221.05A339.3 339.3 0 0 1 1269.9 215.09L1280.01 242.06A310.5 310.5 0 0 0 1266.43 247.52Z" fill="#cdbdf4" stroke="#cdbdf4" stroke-width="0.6"/>
<path d="M1269.9 215.09A339.3 339.3 0 0 1 1285 209.83L1293.82 237.25A310.5 310.5 0 0 0 1280.01 242.06Z" fill="#2d14c9" stroke="#2d14c9" stroke-width="0.6"/>
<path d="M1285 209.83A339.3 339.3 0 0 1 1300.32 205.29L1307.85 233.09A310.5 310.5 0 0 0 1293.82 237.25Z" fill="#a98eeb" stroke="#a98eeb" stroke-width="0.6"/>
<path d="M1300.32 205.29A339.3 339.3 0 0 1 1315.85 201.48L1322.06 229.6A310.5 310.5 0 0 0 1307.85 233.09Z" fill="#bda8ef" stroke="#bda8ef" stroke-width="0.6"/>
<path d="M1315.85 201.48A339.3 339.3 0 0 1 1331.54 198.4L1336.42 226.78A310.5 310.5 0 0 0 1322.06 229.6Z" fill="#a98eeb" stroke="#a98eeb" stroke-width="0.6"/>
<path d="M1331.54 198.4A339.3 339.3 0 0 1 1347.36 196.07L1350.89 224.65A310.5 310.5 0 0 0 1336.42 226.78Z" fill="#cdbdf4" stroke="#cdbdf4" stroke-width="0.6"/>
<path d="M1203.22 284.01A310.5 310.5 0 0 1 1215.15 275.54L1231.22 299.31A281.8 281.8 0 0 0 1220.39 307.01Z" fill="#ebe4fb" stroke="#ebe4fb" stroke-width="0.6"/>
<path d="M1215.15 275.54A310.5 310.5 0 0 1 1227.46 267.63L1242.39 292.14A281.8 281.8 0 0 0 1231.22 299.31Z" fill="#ddd1f7" stroke="#ddd1f7" stroke-width="0.6"/>
<path d="M1227.46 267.63A310.5 310.5 0 0 1 1240.13 260.32L1253.89 285.5A281.8 281.8 0 0 0 1242.39 292.14Z" fill="#cdbdf4" stroke="#cdbdf4" stroke-width="0.6"/>
<path d="M1240.13 260.32A310.5 310.5 0 0 1 1253.13 253.61L1265.69 279.41A281.8 281.8 0 0 0 1253.89 285.5Z" fill="#fcd3c9" stroke="#fcd3c9" stroke-width="0.6"/>
<path d="M1253.13 253.61A310.5 310.5 0 0 1 1266.43 247.52L1277.76 273.88A281.8 281.8 0 0 0 1265.69 279.41Z" fill="#a98eeb" stroke="#a98eeb" stroke-width="0.6"/>
<path d="M1266.43 247.52A310.5 310.5 0 0 1 1280.01 242.06L1290.08 268.93A281.8 281.8 0 0 0 1277.76 273.88Z" fill="#fde3dc" stroke="#fde3dc" stroke-width="0.6"/>
<path d="M1280.01 242.06A310.5 310.5 0 0 1 1293.82 237.25L1302.62 264.57A281.8 281.8 0 0 0 1290.08 268.93Z" fill="#cdbdf4" stroke="#cdbdf4" stroke-width="0.6"/>
<path d="M1293.82 237.25A310.5 310.5 0 0 1 1307.85 233.09L1315.35 260.79A281.8 281.8 0 0 0 1302.62 264.57Z" fill="#ddd1f7" stroke="#ddd1f7" stroke-width="0.6"/>
<path d="M1307.85 233.09A310.5 310.5 0 0 1 1322.06 229.6L1328.25 257.63A281.8 281.8 0 0 0 1315.35 260.79Z" fill="#cdbdf4" stroke="#cdbdf4" stroke-width="0.6"/>
<path d="M1322.06 229.6A310.5 310.5 0 0 1 1336.42 226.78L1341.28 255.07A281.8 281.8 0 0 0 1328.25 257.63Z" fill="#cdbdf4" stroke="#cdbdf4" stroke-width="0.6"/>
<path d="M1336.42 226.78A310.5 310.5 0 0 1 1350.89 224.65L1354.41 253.13A281.8 281.8 0 0 0 1341.28 255.07Z" fill="#ebe4fb" stroke="#ebe4fb" stroke-width="0.6"/>
<path d="M1220.39 307.01A281.8 281.8 0 0 1 1231.22 299.31L1247.34 323.18A253 253 0 0 0 1237.62 330.08Z" fill="#fde3dc" stroke="#fde3dc" stroke-width="0.6"/>
<path d="M1231.22 299.31A281.8 281.8 0 0 1 1242.39 292.14L1257.37 316.74A253 253 0 0 0 1247.34 323.18Z" fill="#fcd3c9" stroke="#fcd3c9" stroke-width="0.6"/>
<path d="M1242.39 292.14A281.8 281.8 0 0 1 1253.89 285.5L1267.7 310.78A253 253 0 0 0 1257.37 316.74Z" fill="#7d5ce0" stroke="#7d5ce0" stroke-width="0.6"/>
<path d="M1253.89 285.5A281.8 281.8 0 0 1 1265.69 279.41L1278.29 305.31A253 253 0 0 0 1267.7 310.78Z" fill="#cdbdf4" stroke="#cdbdf4" stroke-width="0.6"/>
<path d="M1265.69 279.41A281.8 281.8 0 0 1 1277.76 273.88L1289.13 300.35A253 253 0 0 0 1278.29 305.31Z" fill="#ddd1f7" stroke="#ddd1f7" stroke-width="0.6"/>
<path d="M1277.76 273.88A281.8 281.8 0 0 1 1290.08 268.93L1300.19 295.9A253 253 0 0 0 1289.13 300.35Z" fill="#f5a597" stroke="#f5a597" stroke-width="0.6"/>
<path d="M1290.08 268.93A281.8 281.8 0 0 1 1302.62 264.57L1311.45 291.98A253 253 0 0 0 1300.19 295.9Z" fill="#e66c5e" stroke="#e66c5e" stroke-width="0.6"/>
<path d="M1302.62 264.57A281.8 281.8 0 0 1 1315.35 260.79L1322.88 288.59A253 253 0 0 0 1311.45 291.98Z" fill="#f9bdb1" stroke="#f9bdb1" stroke-width="0.6"/>
<path d="M1315.35 260.79A281.8 281.8 0 0 1 1328.25 257.63L1334.46 285.75A253 253 0 0 0 1322.88 288.59Z" fill="#fde3dc" stroke="#fde3dc" stroke-width="0.6"/>
<path d="M1328.25 257.63A281.8 281.8 0 0 1 1341.28 255.07L1346.15 283.45A253 253 0 0 0 1334.46 285.75Z" fill="#fde3dc" stroke="#fde3dc" stroke-width="0.6"/>
<path d="M1341.28 255.07A281.8 281.8 0 0 1 1354.41 253.13L1357.95 281.71A253 253 0 0 0 1346.15 283.45Z" fill="#fde3dc" stroke="#fde3dc" stroke-width="0.6"/>
<path d="M1199 251.7L1247.3 323.2 M1212.5 243L1257.4 316.7 M1226.3 235L1267.7 310.8 M1240.5 227.7L1278.3 305.3 M1255.1 221.1L1289.1 300.3 M1269.9 215.1L1300.2 295.9 M1285 209.8L1311.4 292 M1300.3 205.3L1322.9 288.6 M1315.9 201.5L1334.5 285.7 M1331.5 198.4L1346.2 283.5" stroke="#8c8c8c" stroke-opacity="0.35" stroke-width="0.6" fill="none"/>
<g fill="#000"><circle cx="1422.2" cy="67" r="3.9"/><circle cx="1444.2" cy="69.1" r="3.9"/><circle cx="1487.9" cy="76.4" r="3.9"/><circle cx="1509.4" cy="81.6" r="3.9"/><circle cx="1551.6" cy="95" r="3.9"/><circle cx="1572.1" cy="103.2" r="3.9"/><circle cx="1612" cy="122.4" r="3.9"/><circle cx="1631.2" cy="133.4" r="3.9"/><circle cx="1685.4" cy="171.7" r="3.9"/><circle cx="1702.2" cy="186.1" r="3.9"/><circle cx="1733.6" cy="217.2" r="3.9"/><circle cx="1399.3" cy="99.6" r="3.9"/><circle cx="1419.8" cy="100.5" r="3.9"/><circle cx="1480.8" cy="109.3" r="3.9"/><circle cx="1539.9" cy="126.5" r="3.9"/><circle cx="1577.7" cy="142.6" r="3.9"/><circle cx="1596" cy="151.9" r="3.9"/><circle cx="1613.8" cy="162.1" r="3.9"/><circle cx="1664.1" cy="197.7" r="3.9"/><circle cx="1679.7" cy="211.1" r="3.9"/><circle cx="1398.5" cy="133.1" r="3.9"/><circle cx="1417.4" cy="134" r="3.9"/><circle cx="1436.3" cy="135.7" r="3.9"/><circle cx="1473.7" cy="142" r="3.9"/><circle cx="1528.3" cy="157.9" r="3.9"/><circle cx="1545.9" cy="164.9" r="3.9"/><circle cx="1563.1" cy="172.7" r="3.9"/><circle cx="1580" cy="181.4" r="3.9"/><circle cx="1596.5" cy="190.8" r="3.9"/><circle cx="1627.9" cy="211.9" r="3.9"/><circle cx="1657.3" cy="235.9" r="3.9"/><circle cx="1671.1" cy="249" r="3.9"/><circle cx="1684.2" cy="262.6" r="3.9"/><circle cx="1708.5" cy="291.7" r="3.9"/><circle cx="1415" cy="167.5" r="3.9"/><circle cx="1779.4" cy="275.7" r="3.9"/><circle cx="1751.3" cy="294.2" r="3.9"/><circle cx="1723.4" cy="312.7" r="3.9"/><circle cx="1695.4" cy="331.3" r="3.9"/><circle cx="1746.2" cy="351.9" r="3.9"/><circle cx="1834.4" cy="390" r="3.9"/><circle cx="1840.7" cy="411.3" r="3.9"/><circle cx="1846" cy="432.8" r="3.9"/><circle cx="1853.5" cy="476.4" r="3.9"/><circle cx="1856.8" cy="520.5" r="3.9"/><circle cx="1851" cy="608.7" r="3.9"/><circle cx="1835.7" cy="673.3" r="3.9"/><circle cx="1828.7" cy="694.3" r="3.9"/><circle cx="1801.5" cy="754.8" r="3.9"/><circle cx="1790.6" cy="774.1" r="3.9"/><circle cx="1778.8" cy="792.8" r="3.9"/><circle cx="1707.3" cy="876.9" r="3.9"/><circle cx="1673.5" cy="905.5" r="3.9"/><circle cx="1655.6" cy="918.5" r="3.9"/><circle cx="1618.1" cy="942" r="3.9"/><circle cx="1537.2" cy="977.8" r="3.9"/><circle cx="1516.1" cy="984.3" r="3.9"/><circle cx="1494.6" cy="989.8" r="3.9"/><circle cx="1451.1" cy="997.7" r="3.9"/><circle cx="1429.1" cy="1000.1" r="3.9"/><circle cx="1384.9" cy="1001.8" r="3.9"/><circle cx="1212.3" cy="967.2" r="3.9"/><circle cx="1192" cy="958.4" r="3.9"/><circle cx="1133.9" cy="926.2" r="3.9"/><circle cx="1115.7" cy="913.7" r="3.9"/><circle cx="1098" cy="900.4" r="3.9"/><circle cx="1064.7" cy="871.3" r="3.9"/><circle cx="1049.1" cy="855.6" r="3.9"/><circle cx="1034.3" cy="839.1" r="3.9"/><circle cx="994.7" cy="785.9" r="3.9"/><circle cx="983.2" cy="767" r="3.9"/><circle cx="946.6" cy="686.5" r="3.9"/><circle cx="934.2" cy="644" r="3.9"/><circle cx="929.5" cy="622.4" r="3.9"/><circle cx="925.8" cy="600.6" r="3.9"/><circle cx="923.1" cy="578.6" r="3.9"/><circle cx="921.5" cy="556.5" r="3.9"/><circle cx="921" cy="534.4" r="3.9"/><circle cx="921.5" cy="512.3" r="3.9"/><circle cx="923" cy="490.2" r="3.9"/><circle cx="925.6" cy="468.2" r="3.9"/><circle cx="929.3" cy="446.4" r="3.9"/><circle cx="933.9" cy="424.7" r="3.9"/><circle cx="939.6" cy="403.3" r="3.9"/><circle cx="946.2" cy="382.2" r="3.9"/><circle cx="953.9" cy="361.5" r="3.9"/><circle cx="962.5" cy="341.1" r="3.9"/><circle cx="972.1" cy="321.1" r="3.9"/><circle cx="982.7" cy="301.7" r="3.9"/><circle cx="1795.6" cy="381" r="3.9"/><circle cx="1802.4" cy="400.4" r="3.9"/><circle cx="1808.2" cy="420.1" r="3.9"/><circle cx="1813.1" cy="440" r="3.9"/><circle cx="1820.1" cy="480.5" r="3.9"/><circle cx="1822.2" cy="500.9" r="3.9"/><circle cx="1823.2" cy="521.5" r="3.9"/><circle cx="1823.3" cy="542" r="3.9"/><circle cx="1822.5" cy="562.5" r="3.9"/><circle cx="1820.6" cy="583" r="3.9"/><circle cx="1817.8" cy="603.3" r="3.9"/><circle cx="1803.7" cy="663.3" r="3.9"/><circle cx="1797.1" cy="682.7" r="3.9"/><circle cx="1771.9" cy="739" r="3.9"/><circle cx="1761.8" cy="756.8" r="3.9"/><circle cx="1750.8" cy="774.2" r="3.9"/><circle cx="1739.1" cy="791.1" r="3.9"/><circle cx="1684.5" cy="852.3" r="3.9"/><circle cx="1669.1" cy="865.9" r="3.9"/><circle cx="1636.5" cy="890.9" r="3.9"/><circle cx="1619.3" cy="902.2" r="3.9"/><circle cx="1601.6" cy="912.7" r="3.9"/><circle cx="1583.5" cy="922.3" r="3.9"/><circle cx="1564.9" cy="931" r="3.9"/><circle cx="1545.9" cy="938.9" r="3.9"/><circle cx="1526.6" cy="945.9" r="3.9"/><circle cx="1507" cy="951.9" r="3.9"/><circle cx="1487.1" cy="957" r="3.9"/><circle cx="1446.6" cy="964.4" r="3.9"/><circle cx="1426.2" cy="966.7" r="3.9"/><circle cx="1385.2" cy="968.2" r="3.9"/><circle cx="1323.8" cy="963.3" r="3.9"/><circle cx="1263.7" cy="949.8" r="3.9"/><circle cx="1225" cy="936.1" r="3.9"/><circle cx="1206.1" cy="927.9" r="3.9"/><circle cx="1169.7" cy="908.9" r="3.9"/><circle cx="1152.2" cy="898.1" r="3.9"/><circle cx="1135.3" cy="886.5" r="3.9"/><circle cx="1118.9" cy="874.1" r="3.9"/><circle cx="1103.1" cy="860.9" r="3.9"/><circle cx="1088" cy="847" r="3.9"/><circle cx="1073.5" cy="832.5" r="3.9"/><circle cx="1059.7" cy="817.2" r="3.9"/><circle cx="1034.4" cy="784.8" r="3.9"/><circle cx="1023" cy="767.8" r="3.9"/><circle cx="1012.3" cy="750.2" r="3.9"/><circle cx="978.4" cy="675.5" r="3.9"/><circle cx="966.8" cy="636.1" r="3.9"/><circle cx="962.4" cy="616" r="3.9"/><circle cx="959" cy="595.8" r="3.9"/><circle cx="956.6" cy="575.4" r="3.9"/><circle cx="955.1" cy="554.9" r="3.9"/><circle cx="954.6" cy="534.3" r="3.9"/><circle cx="955.1" cy="513.8" r="3.9"/><circle cx="956.5" cy="493.3" r="3.9"/><circle cx="958.9" cy="472.9" r="3.9"/><circle cx="962.3" cy="452.6" r="3.9"/><circle cx="966.6" cy="432.6" r="3.9"/><circle cx="971.8" cy="412.7" r="3.9"/><circle cx="978" cy="393.1" r="3.9"/><circle cx="985.1" cy="373.8" r="3.9"/><circle cx="993.2" cy="354.9" r="3.9"/><circle cx="1002.1" cy="336.4" r="3.9"/><circle cx="1011.8" cy="318.3" r="3.9"/><circle cx="1770.5" cy="410.7" r="3.9"/><circle cx="1775.9" cy="428.8" r="3.9"/><circle cx="1780.4" cy="447.3" r="3.9"/><circle cx="1784.1" cy="465.9" r="3.9"/><circle cx="1786.9" cy="484.6" r="3.9"/><circle cx="1788.7" cy="503.5" r="3.9"/><circle cx="1789.7" cy="522.4" r="3.9"/><circle cx="1789" cy="560.3" r="3.9"/><circle cx="1787.3" cy="579.2" r="3.9"/><circle cx="1784.7" cy="598" r="3.9"/><circle cx="1776.9" cy="635.1" r="3.9"/><circle cx="1771.7" cy="653.3" r="3.9"/><circle cx="1765.6" cy="671.3" r="3.9"/><circle cx="1742.4" cy="723.1" r="3.9"/><circle cx="1733.1" cy="739.6" r="3.9"/><circle cx="1722.9" cy="755.7" r="3.9"/><circle cx="1661.7" cy="827.7" r="3.9"/><circle cx="1617.4" cy="863.3" r="3.9"/><circle cx="1585.2" cy="883.4" r="3.9"/><circle cx="1516" cy="914.1" r="3.9"/><circle cx="1497.9" cy="919.7" r="3.9"/><circle cx="1479.5" cy="924.4" r="3.9"/><circle cx="1460.9" cy="928.2" r="3.9"/><circle cx="1442.2" cy="931.2" r="3.9"/><circle cx="1423.3" cy="933.3" r="3.9"/><circle cx="1385.5" cy="934.7" r="3.9"/><circle cx="1347.6" cy="932.6" r="3.9"/><circle cx="1291.6" cy="922.7" r="3.9"/><circle cx="1237.6" cy="905.1" r="3.9"/><circle cx="1220.2" cy="897.5" r="3.9"/><circle cx="1203.2" cy="889.1" r="3.9"/><circle cx="1170.5" cy="870" r="3.9"/><circle cx="1154.9" cy="859.3" r="3.9"/><circle cx="1139.7" cy="847.8" r="3.9"/><circle cx="1111.2" cy="822.9" r="3.9"/><circle cx="1097.8" cy="809.4" r="3.9"/><circle cx="1085.1" cy="795.4" r="3.9"/><circle cx="1051.2" cy="749.8" r="3.9"/><circle cx="1041.4" cy="733.5" r="3.9"/><circle cx="1004.3" cy="646.5" r="3.9"/><circle cx="999.4" cy="628.2" r="3.9"/><circle cx="995.3" cy="609.7" r="3.9"/><circle cx="992.2" cy="591" r="3.9"/><circle cx="989.9" cy="572.2" r="3.9"/><circle cx="988.6" cy="553.3" r="3.9"/><circle cx="988.1" cy="534.3" r="3.9"/><circle cx="988.5" cy="515.3" r="3.9"/><circle cx="989.8" cy="496.4" r="3.9"/><circle cx="992.1" cy="477.6" r="3.9"/><circle cx="995.2" cy="458.9" r="3.9"/><circle cx="1004" cy="422" r="3.9"/><circle cx="1016.3" cy="386.2" r="3.9"/><circle cx="1023.7" cy="368.7" r="3.9"/><circle cx="1031.9" cy="351.6" r="3.9"/><circle cx="1040.9" cy="334.9" r="3.9"/><circle cx="1704.2" cy="722.4" r="3.9"/><circle cx="1638.8" cy="803.1" r="3.9"/><circle cx="1598.2" cy="835.7" r="3.9"/><circle cx="1488.7" cy="887.4" r="3.9"/><circle cx="1437.7" cy="897.9" r="3.9"/><circle cx="1122.2" cy="786.3" r="3.9"/><circle cx="1032" cy="620.3" r="3.9"/><circle cx="1025.5" cy="586.2" r="3.9"/><circle cx="1021.7" cy="534.3" r="3.9"/><circle cx="1022.1" cy="516.9" r="3.9"/><circle cx="1023.3" cy="499.6" r="3.9"/><circle cx="1025.3" cy="482.3" r="3.9"/><circle cx="1028.2" cy="465.2" r="3.9"/><circle cx="1036.3" cy="431.4" r="3.9"/><circle cx="1070.1" cy="351.6" r="3.9"/><circle cx="999.1" cy="274.9" r="3.9"/><circle cx="1011.7" cy="257" r="3.9"/><circle cx="1025" cy="239.6" r="3.9"/><circle cx="1039.2" cy="222.9" r="3.9"/><circle cx="1027.1" cy="293.5" r="3.9"/><circle cx="1038.8" cy="276.9" r="3.9"/><circle cx="1064.3" cy="245.3" r="3.9"/><circle cx="1055" cy="312.1" r="3.9"/><circle cx="1065.8" cy="296.7" r="3.9"/><circle cx="1077.2" cy="281.8" r="3.9"/><circle cx="1089.3" cy="267.5" r="3.9"/><circle cx="1102.1" cy="253.8" r="3.9"/><circle cx="1076.1" cy="185.8" r="3.9"/><circle cx="1092.7" cy="171.6" r="3.9"/><circle cx="1098.6" cy="210.8" r="3.9"/><circle cx="1114" cy="197.6" r="3.9"/><circle cx="1121" cy="235.7" r="3.9"/><circle cx="1135.2" cy="223.5" r="3.9"/><circle cx="1136.2" cy="140" r="3.9"/><circle cx="1194.2" cy="108.3" r="3.9"/><circle cx="1277.4" cy="79.4" r="3.9"/><circle cx="1208.2" cy="138.9" r="3.9"/><circle cx="1227" cy="130.8" r="3.9"/><circle cx="1285.4" cy="112" r="3.9"/><circle cx="1205.1" cy="177.6" r="3.9"/><circle cx="1293.4" cy="144.5" r="3.9"/></g>
<text x="1052.5" y="60.3" font-size="23" text-anchor="start" fill="#000">Xenobiotics</text>
<text x="960.5" y="146" font-size="23" text-anchor="start" fill="#000">Peptide</text>
<text x="862" y="222" font-size="23" text-anchor="start" fill="#000">Nucleotide</text>
<text x="1724.5" y="141.3" font-size="23" text-anchor="start" fill="#000">Amino Acid</text>
<text x="1820" y="254.6" font-size="23" text-anchor="start" fill="#000">Carbohydrate</text>
<text x="1863" y="298.4" font-size="23" text-anchor="start" fill="#000">Cofactors</text>
<text x="1863" y="325.5" font-size="23" text-anchor="start" fill="#000">and Vitamins</text>
<text x="1101" y="1009" font-size="23" text-anchor="start" fill="#000">Lipid</text>
<text x="1359.6" y="73.8" font-size="19.5" text-anchor="middle" fill="#000">HT</text>
<text x="1359.7" y="102" font-size="19.5" text-anchor="middle" fill="#000">Obs</text>
<text x="1362" y="141" font-size="19.5" text-anchor="middle" fill="#000">T2D</text>
<text x="1366.3" y="174.7" font-size="19.5" text-anchor="middle" fill="#000">CVD</text>
<text x="1367.2" y="213.3" font-size="19.5" text-anchor="middle" fill="#000">CI</text>
<text x="1368.5" y="241" font-size="19.5" text-anchor="middle" fill="#000">CM</text>
<text x="1370.7" y="269.8" font-size="19.5" text-anchor="middle" fill="#000">IM</text>
<text x="1857" y="791" font-size="23" text-anchor="start" fill="#000">Regression</text>
<text x="1857" y="818.8" font-size="23" text-anchor="start" fill="#000">Coefficient</text>
<defs><linearGradient id="rg" x1="0" y1="0" x2="0" y2="1">
<stop offset="0" stop-color="#0000cd"/><stop offset="0.06" stop-color="#0000cd"/><stop offset="0.27" stop-color="#a48aee"/>
<stop offset="0.50" stop-color="#ffffff"/><stop offset="0.73" stop-color="#ef8b7b"/><stop offset="0.84" stop-color="#d22a2a"/><stop offset="1" stop-color="#d32027"/></linearGradient></defs>
<rect x="1896.8" y="839.2" width="36.2" height="178.3" fill="url(#rg)"/>
<text x="1943" y="852.5" font-size="19.5" text-anchor="start" fill="#000">2</text>
<text x="1943" y="894.2" font-size="19.5" text-anchor="start" fill="#000">1</text>
<text x="1943" y="932.2" font-size="19.5" text-anchor="start" fill="#000">0</text>
<text x="1943" y="976.3" font-size="19.5" text-anchor="start" fill="#000">-2</text>
<text x="1943" y="1017.1" font-size="19.5" text-anchor="start" fill="#000">-1</text>
<path d="M1896.8 845.7h7.5M1933 845.7h-7.5 M1896.8 887.4h7.5M1933 887.4h-7.5 M1896.8 969.5h7.5M1933 969.5h-7.5 M1896.8 1010.3h7.5M1933 1010.3h-7.5" stroke="#fff" stroke-width="1.6"/>
<path d="M104 1442.3H1151M104 1603.2H1151" stroke="#b0b0b0" stroke-width="1" stroke-dasharray="4 4" fill="none"/>
<path d="M226.8 1275.7L226.8 1277.7L226.8 1279.7L226.8 1281.7L226.8 1283.7L226.8 1285.7L226.6 1287.7L226.3 1289.7L226.3 1291.7L226.3 1293.7L226.3 1295.7L226.3 1297.7L226.3 1299.7L226.3 1301.7L226.3 1303.7L226.3 1305.7L226.3 1307.7L226.3 1309.7L226.3 1311.7L226.3 1313.7L226.3 1315.7L226.3 1317.7L226.3 1319.7L226.3 1321.7L226.3 1323.7L226.3 1325.7L226.3 1327.7L226.3 1329.7L226.3 1331.7L226.3 1333.7L226.3 1335.7L226.3 1337.7L226.3 1339.7L226.3 1341.7L226.3 1343.7L226.3 1345.7L226.3 1347.7L226.3 1349.7L226.3 1351.7L226.3 1353.7L226.3 1355.7L226.3 1357.7L226.3 1359.7L226.3 1361.7L226.3 1363.7L226.3 1365.7L226.3 1367.7L226.3 1369.7L226.3 1371.7L226.3 1373.7L226.3 1375.7L226.3 1377.7L226.3 1379.7L226.3 1381.7L226.5 1383.7L226.9 1385.7L227 1387.7L227 1389.7L227 1391.7L227 1393.7L227 1395.7L227 1397.7L227 1399.7L226.9 1401.7L226.5 1403.7L226.3 1405.7L226.3 1407.7L226.3 1409.7L226.3 1411.7L226.3 1413.7L226.3 1415.7L226.3 1417.7L226.3 1419.7L226.3 1421.7L226.3 1423.7L226.4 1425.7L226.4 1427.7L226.4 1429.7L226.4 1431.7L226.4 1433.7L226.5 1435.7L226.9 1437.7L227.3 1439.7L227.7 1441.7L228.2 1443.7L228.7 1445.7L229.1 1447.7L229.5 1449.7L229.8 1451.7L229.9 1453.7L229.9 1455.7L229.7 1457.7L229.3 1459.7L228.8 1461.7L228.3 1463.7L227.8 1465.7L227.3 1467.7L227.1 1469.7L227 1471.7L227 1473.7L227.1 1475.7L227.1 1477.7L227.2 1479.7L227.3 1481.7L227.4 1483.7L227.5 1485.7L227.6 1487.7L227.8 1489.7L228 1491.7L228.2 1493.7L228.5 1495.7L228.8 1497.7L229.1 1499.7L229.5 1501.7L229.8 1503.7L230.3 1505.7L230.9 1507.7L231.7 1509.7L232.6 1511.7L233.4 1513.7L234.3 1515.7L235 1517.7L235.6 1519.7L236.1 1521.7L236.4 1523.7L236.7 1525.7L236.9 1527.7L237.2 1529.7L237.4 1531.7L237.6 1533.7L237.9 1535.7L238.3 1537.7L238.7 1539.7L239.2 1541.7L239.8 1543.7L240.4 1545.7L241 1547.7L241.7 1549.7L242.4 1551.7L243.1 1553.7L243.9 1555.7L244.7 1557.7L245.5 1559.7L246.5 1561.7L247.5 1563.7L248.5 1565.7L249.7 1567.7L251 1569.7L252.4 1571.7L254 1573.7L255.7 1575.7L257.7 1577.7L259.8 1579.7L262.2 1581.7L264.9 1583.7L267.7 1585.7L271.1 1587.7L275.9 1589.7L281.2 1591.7L285.9 1593.7L290.4 1595.7L292.4 1597.7L291.1 1599.7L288.6 1601.7L284.8 1603.4L167.2 1603.4L163.4 1601.7L160.9 1599.7L159.6 1597.7L161.6 1595.7L166.1 1593.7L170.8 1591.7L176.1 1589.7L180.9 1587.7L184.3 1585.7L187.1 1583.7L189.8 1581.7L192.2 1579.7L194.3 1577.7L196.3 1575.7L198 1573.7L199.6 1571.7L201 1569.7L202.3 1567.7L203.5 1565.7L204.5 1563.7L205.5 1561.7L206.5 1559.7L207.3 1557.7L208.1 1555.7L208.9 1553.7L209.6 1551.7L210.3 1549.7L211 1547.7L211.6 1545.7L212.2 1543.7L212.8 1541.7L213.3 1539.7L213.7 1537.7L214.1 1535.7L214.4 1533.7L214.6 1531.7L214.8 1529.7L215.1 1527.7L215.3 1525.7L215.6 1523.7L215.9 1521.7L216.4 1519.7L217 1517.7L217.7 1515.7L218.6 1513.7L219.4 1511.7L220.3 1509.7L221.1 1507.7L221.7 1505.7L222.2 1503.7L222.5 1501.7L222.9 1499.7L223.2 1497.7L223.5 1495.7L223.8 1493.7L224 1491.7L224.2 1489.7L224.4 1487.7L224.5 1485.7L224.6 1483.7L224.7 1481.7L224.8 1479.7L224.9 1477.7L224.9 1475.7L225 1473.7L225 1471.7L224.9 1469.7L224.7 1467.7L224.2 1465.7L223.7 1463.7L223.2 1461.7L222.7 1459.7L222.3 1457.7L222.1 1455.7L222.1 1453.7L222.2 1451.7L222.5 1449.7L222.9 1447.7L223.3 1445.7L223.8 1443.7L224.3 1441.7L224.7 1439.7L225.1 1437.7L225.5 1435.7L225.6 1433.7L225.6 1431.7L225.6 1429.7L225.6 1427.7L225.6 1425.7L225.7 1423.7L225.7 1421.7L225.7 1419.7L225.7 1417.7L225.7 1415.7L225.7 1413.7L225.7 1411.7L225.7 1409.7L225.7 1407.7L225.7 1405.7L225.5 1403.7L225.1 1401.7L225 1399.7L225 1397.7L225 1395.7L225 1393.7L225 1391.7L225 1389.7L225 1387.7L225.1 1385.7L225.5 1383.7L225.7 1381.7L225.7 1379.7L225.7 1377.7L225.7 1375.7L225.7 1373.7L225.7 1371.7L225.7 1369.7L225.7 1367.7L225.7 1365.7L225.7 1363.7L225.7 1361.7L225.7 1359.7L225.7 1357.7L225.7 1355.7L225.7 1353.7L225.7 1351.7L225.7 1349.7L225.7 1347.7L225.7 1345.7L225.7 1343.7L225.7 1341.7L225.7 1339.7L225.7 1337.7L225.7 1335.7L225.7 1333.7L225.7 1331.7L225.7 1329.7L225.7 1327.7L225.7 1325.7L225.7 1323.7L225.7 1321.7L225.7 1319.7L225.7 1317.7L225.7 1315.7L225.7 1313.7L225.7 1311.7L225.7 1309.7L225.7 1307.7L225.7 1305.7L225.7 1303.7L225.7 1301.7L225.7 1299.7L225.7 1297.7L225.7 1295.7L225.7 1293.7L225.7 1291.7L225.7 1289.7L225.4 1287.7L225.2 1285.7L225.2 1283.7L225.2 1281.7L225.2 1279.7L225.2 1277.7L225.2 1275.7Z" fill="#f98e87" stroke="#222" stroke-width="0.9" stroke-linejoin="round"/>
<path d="M429.6 1453.1L429.6 1455.1L429.6 1457.1L429.6 1459.1L429.7 1461.1L429.7 1463.1L429.8 1465.1L429.8 1467.1L429.9 1469.1L429.9 1471.1L430 1473.1L430.1 1475.1L430.2 1477.1L430.3 1479.1L430.5 1481.1L430.6 1483.1L430.7 1485.1L430.9 1487.1L431 1489.1L431.1 1491.1L431.2 1493.1L431.3 1495.1L431.5 1497.1L431.6 1499.1L431.7 1501.1L431.8 1503.1L432 1505.1L432.1 1507.1L432.2 1509.1L432.3 1511.1L432.4 1513.1L432.5 1515.1L432.6 1517.1L432.7 1519.1L432.9 1521.1L433 1523.1L433.3 1525.1L433.5 1527.1L434 1529.1L434.8 1531.1L435.9 1533.1L437.1 1535.1L438.4 1537.1L439.6 1539.1L441 1541.1L442.5 1543.1L444.1 1545.1L445.8 1547.1L447.4 1549.1L449 1551.1L450.5 1553.1L451.9 1555.1L453.3 1557.1L454.5 1559.1L455.8 1561.1L457.1 1563.1L458.4 1565.1L459.8 1567.1L461.3 1569.1L462.9 1571.1L464.5 1573.1L466.2 1575.1L468 1577.1L470.1 1579.1L472.6 1581.1L475.7 1583.1L480.6 1585.1L488.3 1587.1L494.5 1589.1L499.4 1591.1L499.6 1593.1L497.7 1595.1L494 1597.1L485.6 1599.1L477.9 1601.1L473.2 1602.4L384 1602.4L379.3 1601.1L371.6 1599.1L363.2 1597.1L359.5 1595.1L357.6 1593.1L357.8 1591.1L362.7 1589.1L368.9 1587.1L376.6 1585.1L381.5 1583.1L384.6 1581.1L387.1 1579.1L389.2 1577.1L391 1575.1L392.7 1573.1L394.3 1571.1L395.9 1569.1L397.4 1567.1L398.8 1565.1L400.1 1563.1L401.4 1561.1L402.7 1559.1L403.9 1557.1L405.3 1555.1L406.7 1553.1L408.2 1551.1L409.8 1549.1L411.4 1547.1L413.1 1545.1L414.7 1543.1L416.2 1541.1L417.6 1539.1L418.8 1537.1L420.1 1535.1L421.3 1533.1L422.4 1531.1L423.2 1529.1L423.7 1527.1L423.9 1525.1L424.2 1523.1L424.3 1521.1L424.5 1519.1L424.6 1517.1L424.7 1515.1L424.8 1513.1L424.9 1511.1L425 1509.1L425.1 1507.1L425.2 1505.1L425.4 1503.1L425.5 1501.1L425.6 1499.1L425.7 1497.1L425.9 1495.1L426 1493.1L426.1 1491.1L426.2 1489.1L426.3 1487.1L426.5 1485.1L426.6 1483.1L426.7 1481.1L426.9 1479.1L427 1477.1L427.1 1475.1L427.2 1473.1L427.3 1471.1L427.3 1469.1L427.4 1467.1L427.4 1465.1L427.5 1463.1L427.5 1461.1L427.6 1459.1L427.6 1457.1L427.6 1455.1L427.6 1453.1Z" fill="#b5b733" stroke="#222" stroke-width="0.9" stroke-linejoin="round"/>
<path d="M632.2 1310L632.2 1312L632.2 1314L632.2 1316L632.2 1318L632.2 1320L631.8 1322L631.7 1324L631.7 1326L631.7 1328L631.7 1330L631.7 1332L631.7 1334L631.7 1336L631.7 1338L631.7 1340L631.7 1342L631.7 1344L631.7 1346L631.7 1348L631.7 1350L631.7 1352L631.7 1354L631.7 1356L631.7 1358L631.7 1360L631.7 1362L631.9 1364L632.1 1366L632.1 1368L632.2 1370L632.2 1372L632.2 1374L632.3 1376L632.3 1378L632.3 1380L632.3 1382L632.3 1384L632.4 1386L632.4 1388L632.4 1390L632.4 1392L632.5 1394L632.5 1396L632.5 1398L632.6 1400L632.6 1402L632.7 1404L632.8 1406L633 1408L633.3 1410L633.7 1412L634 1414L634.1 1416L634.2 1418L634.3 1420L634.3 1422L634.4 1424L634.4 1426L634.3 1428L634.1 1430L634 1432L633.8 1434L633.6 1436L633.4 1438L633.2 1440L633 1442L632.8 1444L632.7 1446L632.5 1448L632.4 1450L632.4 1452L632.6 1454L633 1456L633.4 1458L633.6 1460L633.7 1462L633.5 1464L633.3 1466L633 1468L632.8 1470L632.7 1472L632.7 1474L632.8 1476L632.9 1478L633 1480L633.1 1482L633.2 1484L633.3 1486L633.4 1488L633.5 1490L633.7 1492L633.9 1494L634.1 1496L634.3 1498L634.6 1500L634.8 1502L635 1504L635.2 1506L635.4 1508L635.7 1510L635.9 1512L636.1 1514L636.4 1516L636.6 1518L636.9 1520L637.2 1522L637.5 1524L637.8 1526L638.2 1528L638.6 1530L638.9 1532L639.3 1534L639.7 1536L640.1 1538L640.5 1540L641 1542L641.4 1544L641.8 1546L642.3 1548L642.8 1550L643.4 1552L644 1554L644.7 1556L645.4 1558L646.2 1560L647 1562L648 1564L649 1566L650.1 1568L651.3 1570L652.7 1572L654.3 1574L656 1576L658 1578L660.2 1580L662.6 1582L665.3 1584L668.1 1586L671.5 1588L676.3 1590L681.3 1592L685.3 1594L688.8 1596L688.9 1598L687.5 1600L685.2 1602L682.6 1603.4L580.2 1603.4L577.6 1602L575.3 1600L573.9 1598L574 1596L577.5 1594L581.5 1592L586.5 1590L591.3 1588L594.7 1586L597.5 1584L600.2 1582L602.6 1580L604.8 1578L606.8 1576L608.5 1574L610.1 1572L611.5 1570L612.7 1568L613.8 1566L614.8 1564L615.8 1562L616.6 1560L617.4 1558L618.1 1556L618.8 1554L619.4 1552L620 1550L620.5 1548L621 1546L621.4 1544L621.8 1542L622.3 1540L622.7 1538L623.1 1536L623.5 1534L623.9 1532L624.2 1530L624.6 1528L625 1526L625.3 1524L625.6 1522L625.9 1520L626.2 1518L626.4 1516L626.7 1514L626.9 1512L627.1 1510L627.4 1508L627.6 1506L627.8 1504L628 1502L628.2 1500L628.5 1498L628.7 1496L628.9 1494L629.1 1492L629.3 1490L629.4 1488L629.5 1486L629.6 1484L629.7 1482L629.8 1480L629.9 1478L630 1476L630.1 1474L630.1 1472L630 1470L629.8 1468L629.5 1466L629.3 1464L629.1 1462L629.2 1460L629.4 1458L629.8 1456L630.2 1454L630.4 1452L630.4 1450L630.3 1448L630.1 1446L630 1444L629.8 1442L629.6 1440L629.4 1438L629.2 1436L629 1434L628.8 1432L628.7 1430L628.5 1428L628.4 1426L628.4 1424L628.5 1422L628.5 1420L628.6 1418L628.7 1416L628.8 1414L629.1 1412L629.5 1410L629.8 1408L630 1406L630.1 1404L630.2 1402L630.2 1400L630.3 1398L630.3 1396L630.3 1394L630.4 1392L630.4 1390L630.4 1388L630.4 1386L630.5 1384L630.5 1382L630.5 1380L630.5 1378L630.5 1376L630.6 1374L630.6 1372L630.6 1370L630.7 1368L630.7 1366L630.9 1364L631.1 1362L631.1 1360L631.1 1358L631.1 1356L631.1 1354L631.1 1352L631.1 1350L631.1 1348L631.1 1346L631.1 1344L631.1 1342L631.1 1340L631.1 1338L631.1 1336L631.1 1334L631.1 1332L631.1 1330L631.1 1328L631.1 1326L631.1 1324L631 1322L630.6 1320L630.6 1318L630.6 1316L630.6 1314L630.6 1312L630.6 1310Z" fill="#33cc99" stroke="#222" stroke-width="0.9" stroke-linejoin="round"/>
<path d="M836 975L836 977L836 979L836 981L836 983L836 985L835.6 987L835.1 989L835 991L835 993L835 995L835 997L835 999L835 1001L835 1003L835 1005L835 1007L835 1009L835 1011L835 1013L835 1015L835 1017L835 1019L835 1021L835 1023L835 1025L835 1027L835 1029L835 1031L835 1033L835 1035L835 1037L835 1039L835 1041L835 1043L835 1045L835 1047L835 1049L835 1051L835 1053L835 1055L835 1057L835 1059L835 1061L835 1063L835 1065L835 1067L835 1069L835 1071L835 1073L835 1075L835 1077L835 1079L835 1081L835 1083L835 1085L835 1087L835 1089L835 1091L835 1093L835 1095L835 1097L835 1099L835 1101L835 1103L835 1105L835 1107L835 1109L835 1111L835 1113L835 1115L835 1117L835 1119L835 1121L835 1123L835 1125L835 1127L835 1129L835 1131L835 1133L835 1135L835 1137L835 1139L835 1141L835 1143L835 1145L835 1147L835 1149L835 1151L835 1153L835 1155L835 1157L835 1159L835 1161L835 1163L835 1165L835 1167L835 1169L835 1171L835 1173L835 1175L835 1177L835 1179L835 1181L835 1183L835 1185L835 1187L835 1189L835 1191L835 1193L835 1195L835 1197L835 1199L835 1201L835 1203L835 1205L835 1207L835 1209L835 1211L835 1213L835 1215L835 1217L835 1219L835 1221L835 1223L835 1225L835 1227L835 1229L835 1231L835 1233L835 1235L835 1237L835 1239L835 1241L835 1243L835 1245L835 1247L835 1249L835 1251L835 1253L835 1255L835 1257L835 1259L835 1261L835 1263L835 1265L835 1267L835 1269L835 1271L835 1273L835 1275L835 1277L835 1279L835 1281L834.9 1283L834.8 1285L834.7 1287L834.7 1289L834.7 1291L834.7 1293L834.8 1295L834.8 1297L834.9 1299L835 1301L835.1 1303L835.2 1305L835.2 1307L835.3 1309L835.3 1311L835.4 1313L835.4 1315L835.4 1317L835.5 1319L835.5 1321L835.5 1323L835.5 1325L835.6 1327L835.6 1329L835.6 1331L835.6 1333L835.6 1335L835.6 1337L835.6 1339L835.6 1341L835.6 1343L835.6 1345L835.6 1347L835.6 1349L835.6 1351L835.6 1353L835.6 1355L835.6 1357L835.6 1359L835.6 1361L835.6 1363L835.6 1365L835.6 1367L835.6 1369L835.6 1371L835.6 1373L835.6 1375L835.5 1377L835.5 1379L835.4 1381L835.4 1383L835.3 1385L835.3 1387L835.2 1389L835.2 1391L835.1 1393L835 1395L835 1397L834.9 1399L834.9 1401L834.8 1403L834.8 1405L834.8 1407L834.8 1409L834.8 1411L834.8 1413L834.8 1415L834.9 1417L834.9 1419L834.9 1421L835 1423L835.1 1425L835.1 1427L835.2 1429L835.3 1431L835.4 1433L835.5 1435L835.6 1437L835.7 1439L835.8 1441L835.9 1443L835.9 1445L836 1447L836 1449L836 1451L836.1 1453L836.1 1455L836.1 1457L836 1459L836 1461L835.9 1463L835.9 1465L835.8 1467L835.8 1469L835.9 1471L835.9 1473L836 1475L836.1 1477L836.3 1479L836.4 1481L836.5 1483L836.6 1485L836.8 1487L836.9 1489L837.1 1491L837.4 1493L837.8 1495L838.4 1497L839 1499L839.5 1501L839.9 1503L839.9 1505L839.7 1507L839.3 1509L838.9 1511L838.6 1513L838.3 1515L838.2 1517L838.3 1519L838.5 1521L838.7 1523L838.9 1525L839.2 1527L839.6 1529L840.1 1531L840.8 1533L841.6 1535L842.5 1537L843.4 1539L844.3 1541L845.3 1543L846.4 1545L847.5 1547L848.6 1549L849.5 1551L850.3 1553L850.9 1555L851.4 1557L851.9 1559L852.4 1561L853 1563L853.6 1565L854.2 1567L854.9 1569L855.7 1571L856.7 1573L858.1 1575L860.8 1577L864.2 1579L867.8 1581L871.3 1583L875 1585L879.2 1587L884.4 1589L891.9 1591L896.5 1593L898.8 1595L898.1 1597L896.5 1599L894.1 1601L890.9 1602.8L777.9 1602.8L774.7 1601L772.3 1599L770.7 1597L770 1595L772.3 1593L776.9 1591L784.4 1589L789.6 1587L793.8 1585L797.5 1583L801 1581L804.6 1579L808 1577L810.7 1575L812.1 1573L813.1 1571L813.9 1569L814.6 1567L815.2 1565L815.8 1563L816.4 1561L816.9 1559L817.4 1557L817.9 1555L818.5 1553L819.3 1551L820.2 1549L821.3 1547L822.4 1545L823.5 1543L824.5 1541L825.4 1539L826.3 1537L827.2 1535L828 1533L828.7 1531L829.2 1529L829.6 1527L829.9 1525L830.1 1523L830.3 1521L830.5 1519L830.6 1517L830.5 1515L830.2 1513L829.9 1511L829.5 1509L829.1 1507L828.9 1505L828.9 1503L829.3 1501L829.8 1499L830.4 1497L831 1495L831.4 1493L831.7 1491L831.9 1489L832 1487L832.2 1485L832.3 1483L832.4 1481L832.5 1479L832.7 1477L832.8 1475L832.9 1473L832.9 1471L833 1469L833 1467L832.9 1465L832.9 1463L832.8 1461L832.8 1459L832.7 1457L832.7 1455L832.7 1453L832.8 1451L832.8 1449L832.8 1447L832.9 1445L832.9 1443L833 1441L833.1 1439L833.2 1437L833.3 1435L833.4 1433L833.5 1431L833.6 1429L833.7 1427L833.7 1425L833.8 1423L833.9 1421L833.9 1419L833.9 1417L834 1415L834 1413L834 1411L834 1409L834 1407L834 1405L834 1403L833.9 1401L833.9 1399L833.8 1397L833.8 1395L833.7 1393L833.6 1391L833.6 1389L833.5 1387L833.5 1385L833.4 1383L833.4 1381L833.3 1379L833.3 1377L833.2 1375L833.2 1373L833.2 1371L833.2 1369L833.2 1367L833.2 1365L833.2 1363L833.2 1361L833.2 1359L833.2 1357L833.2 1355L833.2 1353L833.2 1351L833.2 1349L833.2 1347L833.2 1345L833.2 1343L833.2 1341L833.2 1339L833.2 1337L833.2 1335L833.2 1333L833.2 1331L833.2 1329L833.2 1327L833.3 1325L833.3 1323L833.3 1321L833.3 1319L833.4 1317L833.4 1315L833.4 1313L833.5 1311L833.5 1309L833.6 1307L833.6 1305L833.7 1303L833.8 1301L833.9 1299L834 1297L834 1295L834.1 1293L834.1 1291L834.1 1289L834.1 1287L834 1285L833.9 1283L833.8 1281L833.8 1279L833.8 1277L833.8 1275L833.8 1273L833.8 1271L833.8 1269L833.8 1267L833.8 1265L833.8 1263L833.8 1261L833.8 1259L833.8 1257L833.8 1255L833.8 1253L833.8 1251L833.8 1249L833.8 1247L833.8 1245L833.8 1243L833.8 1241L833.8 1239L833.8 1237L833.8 1235L833.8 1233L833.8 1231L833.8 1229L833.8 1227L833.8 1225L833.8 1223L833.8 1221L833.8 1219L833.8 1217L833.8 1215L833.8 1213L833.8 1211L833.8 1209L833.8 1207L833.8 1205L833.8 1203L833.8 1201L833.8 1199L833.8 1197L833.8 1195L833.8 1193L833.8 1191L833.8 1189L833.8 1187L833.8 1185L833.8 1183L833.8 1181L833.8 1179L833.8 1177L833.8 1175L833.8 1173L833.8 1171L833.8 1169L833.8 1167L833.8 1165L833.8 1163L833.8 1161L833.8 1159L833.8 1157L833.8 1155L833.8 1153L833.8 1151L833.8 1149L833.8 1147L833.8 1145L833.8 1143L833.8 1141L833.8 1139L833.8 1137L833.8 1135L833.8 1133L833.8 1131L833.8 1129L833.8 1127L833.8 1125L833.8 1123L833.8 1121L833.8 1119L833.8 1117L833.8 1115L833.8 1113L833.8 1111L833.8 1109L833.8 1107L833.8 1105L833.8 1103L833.8 1101L833.8 1099L833.8 1097L833.8 1095L833.8 1093L833.8 1091L833.8 1089L833.8 1087L833.8 1085L833.8 1083L833.8 1081L833.8 1079L833.8 1077L833.8 1075L833.8 1073L833.8 1071L833.8 1069L833.8 1067L833.8 1065L833.8 1063L833.8 1061L833.8 1059L833.8 1057L833.8 1055L833.8 1053L833.8 1051L833.8 1049L833.8 1047L833.8 1045L833.8 1043L833.8 1041L833.8 1039L833.8 1037L833.8 1035L833.8 1033L833.8 1031L833.8 1029L833.8 1027L833.8 1025L833.8 1023L833.8 1021L833.8 1019L833.8 1017L833.8 1015L833.8 1013L833.8 1011L833.8 1009L833.8 1007L833.8 1005L833.8 1003L833.8 1001L833.8 999L833.8 997L833.8 995L833.8 993L833.8 991L833.7 989L833.2 987L832.8 985L832.8 983L832.8 981L832.8 979L832.8 977L832.8 975Z" fill="#35bdf7" stroke="#222" stroke-width="0.9" stroke-linejoin="round"/>
<path d="M1039.7 1150.5L1039.8 1152.5L1039.8 1154.5L1039.8 1156.5L1039.9 1158.5L1039.9 1160.5L1039.9 1162.5L1039.9 1164.5L1039.9 1166.5L1039.9 1168.5L1039.9 1170.5L1039.9 1172.5L1039.8 1174.5L1039.7 1176.5L1039.5 1178.5L1039.4 1180.5L1039.2 1182.5L1039.1 1184.5L1039 1186.5L1038.9 1188.5L1038.9 1190.5L1038.9 1192.5L1038.9 1194.5L1038.8 1196.5L1038.8 1198.5L1038.8 1200.5L1038.8 1202.5L1038.8 1204.5L1038.8 1206.5L1038.8 1208.5L1038.8 1210.5L1038.8 1212.5L1038.8 1214.5L1038.8 1216.5L1038.8 1218.5L1038.8 1220.5L1038.7 1222.5L1038.7 1224.5L1038.7 1226.5L1038.7 1228.5L1038.7 1230.5L1038.7 1232.5L1038.6 1234.5L1038.6 1236.5L1038.6 1238.5L1038.5 1240.5L1038.5 1242.5L1038.5 1244.5L1038.5 1246.5L1038.4 1248.5L1038.4 1250.5L1038.4 1252.5L1038.4 1254.5L1038.5 1256.5L1038.6 1258.5L1038.6 1260.5L1038.7 1262.5L1038.8 1264.5L1038.9 1266.5L1039 1268.5L1039 1270.5L1039.1 1272.5L1039.1 1274.5L1039.1 1276.5L1039.1 1278.5L1039.1 1280.5L1039.1 1282.5L1039.1 1284.5L1039.1 1286.5L1039.1 1288.5L1039.1 1290.5L1039.1 1292.5L1039.1 1294.5L1039.1 1296.5L1039 1298.5L1039 1300.5L1039 1302.5L1039 1304.5L1039 1306.5L1038.9 1308.5L1038.9 1310.5L1038.9 1312.5L1038.9 1314.5L1038.8 1316.5L1038.7 1318.5L1038.7 1320.5L1038.6 1322.5L1038.5 1324.5L1038.4 1326.5L1038.3 1328.5L1038.3 1330.5L1038.2 1332.5L1038.2 1334.5L1038.2 1336.5L1038.2 1338.5L1038.2 1340.5L1038.2 1342.5L1038.3 1344.5L1038.3 1346.5L1038.3 1348.5L1038.4 1350.5L1038.5 1352.5L1038.5 1354.5L1038.6 1356.5L1038.6 1358.5L1038.7 1360.5L1038.7 1362.5L1038.8 1364.5L1038.9 1366.5L1038.9 1368.5L1039 1370.5L1039.1 1372.5L1039.2 1374.5L1039.3 1376.5L1039.4 1378.5L1039.5 1380.5L1039.5 1382.5L1039.6 1384.5L1039.7 1386.5L1039.8 1388.5L1039.9 1390.5L1040 1392.5L1040.1 1394.5L1040.2 1396.5L1040.3 1398.5L1040.4 1400.5L1040.5 1402.5L1040.6 1404.5L1040.7 1406.5L1040.8 1408.5L1040.9 1410.5L1041 1412.5L1041.1 1414.5L1041.2 1416.5L1041.3 1418.5L1041.4 1420.5L1041.5 1422.5L1041.6 1424.5L1041.7 1426.5L1041.8 1428.5L1041.9 1430.5L1042 1432.5L1042.2 1434.5L1042.3 1436.5L1042.4 1438.5L1042.5 1440.5L1042.6 1442.5L1042.8 1444.5L1043 1446.5L1043.2 1448.5L1043.5 1450.5L1043.7 1452.5L1043.9 1454.5L1043.9 1456.5L1043.9 1458.5L1043.8 1460.5L1043.7 1462.5L1043.6 1464.5L1043.5 1466.5L1043.5 1468.5L1043.6 1470.5L1043.8 1472.5L1044.1 1474.5L1044.4 1476.5L1044.8 1478.5L1045.2 1480.5L1045.6 1482.5L1046.1 1484.5L1046.6 1486.5L1047.2 1488.5L1047.8 1490.5L1048.3 1492.5L1048.9 1494.5L1049.5 1496.5L1050.1 1498.5L1050.7 1500.5L1051.3 1502.5L1052 1504.5L1052.6 1506.5L1053.4 1508.5L1054.1 1510.5L1054.9 1512.5L1055.7 1514.5L1056.5 1516.5L1057.4 1518.5L1058.2 1520.5L1059.1 1522.5L1060.1 1524.5L1061 1526.5L1062.1 1528.5L1063.2 1530.5L1064.4 1532.5L1065.7 1534.5L1067 1536.5L1068.3 1538.5L1069.5 1540.5L1070.9 1542.5L1072.4 1544.5L1073.6 1546.5L1074.3 1548.5L1075 1550.5L1075.4 1552.5L1075.7 1554.5L1075.5 1556.5L1075.1 1558.5L1074.4 1560.5L1073.8 1562.5L1072.9 1564.5L1071.8 1566.5L1070.6 1568.5L1069.2 1570.5L1067.7 1572.5L1065.8 1574.5L1063.7 1576.5L1061.5 1578.5L1059.1 1580.5L1056.7 1582.5L1054.1 1584.5L1051.4 1586.5L1048.8 1588.3L1026.6 1588.3L1024 1586.5L1021.3 1584.5L1018.7 1582.5L1016.3 1580.5L1013.9 1578.5L1011.7 1576.5L1009.6 1574.5L1007.7 1572.5L1006.2 1570.5L1004.8 1568.5L1003.6 1566.5L1002.5 1564.5L1001.6 1562.5L1001 1560.5L1000.3 1558.5L999.9 1556.5L999.7 1554.5L1000 1552.5L1000.4 1550.5L1001.1 1548.5L1001.8 1546.5L1003 1544.5L1004.5 1542.5L1005.9 1540.5L1007.1 1538.5L1008.4 1536.5L1009.7 1534.5L1011 1532.5L1012.2 1530.5L1013.3 1528.5L1014.4 1526.5L1015.3 1524.5L1016.3 1522.5L1017.2 1520.5L1018 1518.5L1018.9 1516.5L1019.7 1514.5L1020.5 1512.5L1021.3 1510.5L1022 1508.5L1022.8 1506.5L1023.4 1504.5L1024.1 1502.5L1024.7 1500.5L1025.3 1498.5L1025.9 1496.5L1026.5 1494.5L1027.1 1492.5L1027.6 1490.5L1028.2 1488.5L1028.8 1486.5L1029.3 1484.5L1029.8 1482.5L1030.2 1480.5L1030.6 1478.5L1031 1476.5L1031.3 1474.5L1031.6 1472.5L1031.8 1470.5L1031.9 1468.5L1031.9 1466.5L1031.8 1464.5L1031.7 1462.5L1031.6 1460.5L1031.5 1458.5L1031.5 1456.5L1031.5 1454.5L1031.7 1452.5L1031.9 1450.5L1032.2 1448.5L1032.4 1446.5L1032.6 1444.5L1032.8 1442.5L1032.9 1440.5L1033 1438.5L1033.1 1436.5L1033.2 1434.5L1033.4 1432.5L1033.5 1430.5L1033.6 1428.5L1033.7 1426.5L1033.8 1424.5L1033.9 1422.5L1034 1420.5L1034.1 1418.5L1034.2 1416.5L1034.3 1414.5L1034.4 1412.5L1034.5 1410.5L1034.6 1408.5L1034.7 1406.5L1034.8 1404.5L1034.9 1402.5L1035 1400.5L1035.1 1398.5L1035.2 1396.5L1035.3 1394.5L1035.4 1392.5L1035.5 1390.5L1035.6 1388.5L1035.7 1386.5L1035.8 1384.5L1035.9 1382.5L1035.9 1380.5L1036 1378.5L1036.1 1376.5L1036.2 1374.5L1036.3 1372.5L1036.4 1370.5L1036.5 1368.5L1036.5 1366.5L1036.6 1364.5L1036.7 1362.5L1036.7 1360.5L1036.8 1358.5L1036.8 1356.5L1036.9 1354.5L1036.9 1352.5L1037 1350.5L1037.1 1348.5L1037.1 1346.5L1037.1 1344.5L1037.2 1342.5L1037.2 1340.5L1037.2 1338.5L1037.2 1336.5L1037.2 1334.5L1037.2 1332.5L1037.1 1330.5L1037.1 1328.5L1037 1326.5L1036.9 1324.5L1036.8 1322.5L1036.7 1320.5L1036.7 1318.5L1036.6 1316.5L1036.5 1314.5L1036.5 1312.5L1036.5 1310.5L1036.5 1308.5L1036.4 1306.5L1036.4 1304.5L1036.4 1302.5L1036.4 1300.5L1036.4 1298.5L1036.3 1296.5L1036.3 1294.5L1036.3 1292.5L1036.3 1290.5L1036.3 1288.5L1036.3 1286.5L1036.3 1284.5L1036.3 1282.5L1036.3 1280.5L1036.3 1278.5L1036.3 1276.5L1036.3 1274.5L1036.3 1272.5L1036.4 1270.5L1036.4 1268.5L1036.5 1266.5L1036.6 1264.5L1036.7 1262.5L1036.8 1260.5L1036.8 1258.5L1036.9 1256.5L1037 1254.5L1037 1252.5L1037 1250.5L1037 1248.5L1036.9 1246.5L1036.9 1244.5L1036.9 1242.5L1036.9 1240.5L1036.8 1238.5L1036.8 1236.5L1036.8 1234.5L1036.7 1232.5L1036.7 1230.5L1036.7 1228.5L1036.7 1226.5L1036.7 1224.5L1036.7 1222.5L1036.6 1220.5L1036.6 1218.5L1036.6 1216.5L1036.6 1214.5L1036.6 1212.5L1036.6 1210.5L1036.6 1208.5L1036.6 1206.5L1036.6 1204.5L1036.6 1202.5L1036.6 1200.5L1036.6 1198.5L1036.6 1196.5L1036.5 1194.5L1036.5 1192.5L1036.5 1190.5L1036.5 1188.5L1036.4 1186.5L1036.3 1184.5L1036.2 1182.5L1036 1180.5L1035.9 1178.5L1035.7 1176.5L1035.6 1174.5L1035.5 1172.5L1035.5 1170.5L1035.5 1168.5L1035.5 1166.5L1035.5 1164.5L1035.5 1162.5L1035.5 1160.5L1035.5 1158.5L1035.6 1156.5L1035.6 1154.5L1035.6 1152.5L1035.7 1150.5Z" fill="#ec8bf5" stroke="#222" stroke-width="0.9" stroke-linejoin="round"/>
<path d="M226 1514.2V1562.1M226 1599.1V1603.4" stroke="#111" stroke-width="0.9" fill="none"/>
<rect x="218.1" y="1562.1" width="15.8" height="37" fill="#fff" stroke="#111" stroke-width="0.9"/>
<path d="M218.1 1587.9H233.9" stroke="#111" stroke-width="1.6"/>
<path d="M428.6 1516.8V1561.1M428.6 1592.2V1602.4" stroke="#111" stroke-width="0.9" fill="none"/>
<rect x="420.7" y="1561.1" width="15.8" height="31.1" fill="#fff" stroke="#111" stroke-width="0.9"/>
<path d="M420.7 1580.6H436.5" stroke="#111" stroke-width="1.6"/>
<path d="M631.4 1451.4V1553.8M631.4 1597.8V1603.4" stroke="#111" stroke-width="0.9" fill="none"/>
<rect x="623.5" y="1553.8" width="15.8" height="43.9" fill="#fff" stroke="#111" stroke-width="0.9"/>
<path d="M623.5 1587.2H639.3" stroke="#111" stroke-width="1.6"/>
<path d="M834.4 1505.5V1558.8M834.4 1599.2V1602.8" stroke="#111" stroke-width="0.9" fill="none"/>
<rect x="826.5" y="1558.8" width="15.8" height="40.4" fill="#fff" stroke="#111" stroke-width="0.9"/>
<path d="M826.5 1590.3H842.3" stroke="#111" stroke-width="1.6"/>
<path d="M1037.7 1432.2V1505.5M1037.7 1559.5V1588.3" stroke="#111" stroke-width="0.9" fill="none"/>
<rect x="1029.8" y="1505.5" width="15.8" height="54.1" fill="#fff" stroke="#111" stroke-width="0.9"/>
<path d="M1029.8 1540.1H1045.6" stroke="#111" stroke-width="1.6"/>
<path d="M104 1473H1153" stroke="#fff" stroke-width="0.8" opacity="0.9"/>
<path d="M103.3 942.5V1634.2H1160" fill="none" stroke="#000" stroke-width="2.2"/>
<text x="88" y="969.3" text-anchor="end" font-size="23.5" fill="#444">0.4</text>
<text x="88" y="1130.4" text-anchor="end" font-size="23.5" fill="#444">0.3</text>
<text x="88" y="1291.7" text-anchor="end" font-size="23.5" fill="#444">0.2</text>
<text x="88" y="1452.7" text-anchor="end" font-size="23.5" fill="#444">0.1</text>
<text x="88" y="1613.6" text-anchor="end" font-size="23.5" fill="#444">0.0</text>
<text x="225.8" y="1669" text-anchor="middle" font-size="24.7" fill="#444">Age</text>
<text x="428.2" y="1669" text-anchor="middle" font-size="24.7" fill="#444">Dietary PCs</text>
<text x="630.6" y="1669" text-anchor="middle" font-size="24.7" fill="#444">BMI</text>
<text x="833.3" y="1669" text-anchor="middle" font-size="24.7" fill="#444">Sex</text>
<text x="1037.3" y="1669" text-anchor="middle" font-size="24.7" fill="#444">Genetic PCs</text>
<path d="M95.5 958.9H103.3 M95.5 1120H103.3 M95.5 1281.3H103.3 M95.5 1442.3H103.3 M95.5 1603.2H103.3 M225.8 1634.2V1641.5 M428.2 1634.2V1641.5 M630.6 1634.2V1641.5 M833.3 1634.2V1641.5 M1037.3 1634.2V1641.5" stroke="#333" stroke-width="1.8" fill="none"/>
<text transform="translate(38.5,1290) rotate(-90)" text-anchor="middle" font-size="30.8" fill="#000">Partial R-squared</text>
<defs><linearGradient id="wg" x1="0" y1="0" x2="1" y2="0"><stop offset="0" stop-color="#ffffff"/><stop offset="0.5" stop-color="#efefef"/><stop offset="1" stop-color="#d5d5d5"/></linearGradient></defs>
<path d="M1159.5 1424L1303.5 1243.5V1726L1159.5 1608.5Z" fill="url(#wg)"/>
<rect x="1306.3" y="1242.4" width="678.5" height="481.8" fill="#fff" stroke="#a3a3a3" stroke-width="2.4"/>
<path d="M1421.8 1285.2L1421.8 1287.2L1421.7 1289.2L1421.7 1291.2L1421.7 1293.2L1421.6 1295.2L1421.6 1297.2L1421.6 1299.2L1421.5 1301.2L1421.5 1303.2L1421.5 1305.2L1421.4 1307.2L1421.3 1309.2L1421.3 1311.2L1421.3 1313.2L1421.2 1315.2L1421.2 1317.2L1421.2 1319.2L1421.2 1321.2L1421.2 1323.2L1421.2 1325.2L1421.2 1327.2L1421.2 1329.2L1421.2 1331.2L1421.2 1333.2L1421.2 1335.2L1421.2 1337.2L1421.2 1339.2L1421.2 1341.2L1421.2 1343.2L1421.2 1345.2L1421.2 1347.2L1421.3 1349.2L1421.3 1351.2L1421.3 1353.2L1421.3 1355.2L1421.4 1357.2L1421.4 1359.2L1421.4 1361.2L1421.5 1363.2L1421.5 1365.2L1421.5 1367.2L1421.6 1369.2L1421.6 1371.2L1421.6 1373.2L1421.7 1375.2L1421.8 1377.2L1421.8 1379.2L1421.9 1381.2L1422 1383.2L1422.1 1385.2L1422.2 1387.2L1422.4 1389.2L1422.5 1391.2L1422.6 1393.2L1422.8 1395.2L1422.9 1397.2L1423.1 1399.2L1423.2 1401.2L1423.4 1403.2L1423.5 1405.2L1423.7 1407.2L1423.9 1409.2L1424 1411.2L1424.2 1413.2L1424.4 1415.2L1424.5 1417.2L1424.6 1419.2L1424.8 1421.2L1424.9 1423.2L1425 1425.2L1425.1 1427.2L1425.2 1429.2L1425.3 1431.2L1425.4 1433.2L1425.6 1435.2L1425.7 1437.2L1425.9 1439.2L1426 1441.2L1426.2 1443.2L1426.4 1445.2L1426.6 1447.2L1426.8 1449.2L1427 1451.2L1427.3 1453.2L1427.5 1455.2L1427.7 1457.2L1428 1459.2L1428.2 1461.2L1428.5 1463.2L1428.7 1465.2L1429 1467.2L1429.3 1469.2L1429.6 1471.2L1429.9 1473.2L1430.2 1475.2L1430.5 1477.2L1430.8 1479.2L1431.2 1481.2L1431.5 1483.2L1431.8 1485.2L1432.2 1487.2L1432.5 1489.2L1432.9 1491.2L1433.3 1493.2L1433.7 1495.2L1434.2 1497.2L1434.6 1499.2L1435.1 1501.2L1435.6 1503.2L1436.2 1505.2L1436.8 1507.2L1437.4 1509.2L1438.2 1511.2L1439 1513.2L1440 1515.2L1441.2 1517.2L1442.5 1519.2L1443.8 1521.2L1445.2 1523.2L1446.5 1525.2L1447.9 1527.2L1449.3 1529.2L1450.8 1531.2L1452.3 1533.2L1453.7 1535.2L1455 1537.2L1456 1539.2L1456.9 1541.2L1457.7 1543.2L1458.5 1545.2L1459.1 1547.2L1459.6 1549.2L1459.8 1551.2L1459.7 1553.2L1459.3 1555.2L1458.7 1557.2L1457.9 1559.2L1456.7 1561.2L1455 1563.2L1454.9 1563.4L1385.9 1563.4L1385.8 1563.2L1384.1 1561.2L1382.9 1559.2L1382.1 1557.2L1381.5 1555.2L1381.1 1553.2L1381 1551.2L1381.2 1549.2L1381.7 1547.2L1382.3 1545.2L1383.1 1543.2L1383.9 1541.2L1384.8 1539.2L1385.8 1537.2L1387.1 1535.2L1388.5 1533.2L1390 1531.2L1391.5 1529.2L1392.9 1527.2L1394.3 1525.2L1395.6 1523.2L1397 1521.2L1398.3 1519.2L1399.6 1517.2L1400.8 1515.2L1401.8 1513.2L1402.6 1511.2L1403.4 1509.2L1404 1507.2L1404.6 1505.2L1405.2 1503.2L1405.7 1501.2L1406.2 1499.2L1406.6 1497.2L1407.1 1495.2L1407.5 1493.2L1407.9 1491.2L1408.3 1489.2L1408.6 1487.2L1409 1485.2L1409.3 1483.2L1409.6 1481.2L1410 1479.2L1410.3 1477.2L1410.6 1475.2L1410.9 1473.2L1411.2 1471.2L1411.5 1469.2L1411.8 1467.2L1412.1 1465.2L1412.3 1463.2L1412.6 1461.2L1412.8 1459.2L1413.1 1457.2L1413.3 1455.2L1413.5 1453.2L1413.8 1451.2L1414 1449.2L1414.2 1447.2L1414.4 1445.2L1414.6 1443.2L1414.8 1441.2L1414.9 1439.2L1415.1 1437.2L1415.2 1435.2L1415.4 1433.2L1415.5 1431.2L1415.6 1429.2L1415.7 1427.2L1415.8 1425.2L1415.9 1423.2L1416 1421.2L1416.2 1419.2L1416.3 1417.2L1416.4 1415.2L1416.6 1413.2L1416.8 1411.2L1416.9 1409.2L1417.1 1407.2L1417.3 1405.2L1417.4 1403.2L1417.6 1401.2L1417.7 1399.2L1417.9 1397.2L1418 1395.2L1418.2 1393.2L1418.3 1391.2L1418.4 1389.2L1418.6 1387.2L1418.7 1385.2L1418.8 1383.2L1418.9 1381.2L1419 1379.2L1419 1377.2L1419.1 1375.2L1419.2 1373.2L1419.2 1371.2L1419.2 1369.2L1419.3 1367.2L1419.3 1365.2L1419.3 1363.2L1419.4 1361.2L1419.4 1359.2L1419.4 1357.2L1419.5 1355.2L1419.5 1353.2L1419.5 1351.2L1419.5 1349.2L1419.6 1347.2L1419.6 1345.2L1419.6 1343.2L1419.6 1341.2L1419.6 1339.2L1419.6 1337.2L1419.6 1335.2L1419.6 1333.2L1419.6 1331.2L1419.6 1329.2L1419.6 1327.2L1419.6 1325.2L1419.6 1323.2L1419.6 1321.2L1419.6 1319.2L1419.6 1317.2L1419.6 1315.2L1419.5 1313.2L1419.5 1311.2L1419.5 1309.2L1419.4 1307.2L1419.3 1305.2L1419.3 1303.2L1419.3 1301.2L1419.2 1299.2L1419.2 1297.2L1419.2 1295.2L1419.1 1293.2L1419.1 1291.2L1419.1 1289.2L1419 1287.2L1419 1285.2Z" fill="#f98e87" stroke="#222" stroke-width="0.7" stroke-linejoin="round"/>
<path d="M1541 1293.1L1541 1295.1L1541 1297.1L1541 1299.1L1541 1301.1L1541 1303.1L1541 1305.1L1541 1307.1L1541 1309.1L1541 1311.1L1541 1313.1L1541 1315.1L1541 1317.1L1541 1319.1L1541 1321.1L1541 1323.1L1541 1325.1L1541 1327.1L1541.1 1329.1L1541.1 1331.1L1541.1 1333.1L1541.1 1335.1L1541.2 1337.1L1541.2 1339.1L1541.2 1341.1L1541.3 1343.1L1541.3 1345.1L1541.4 1347.1L1541.5 1349.1L1541.5 1351.1L1541.6 1353.1L1541.7 1355.1L1541.7 1357.1L1541.8 1359.1L1541.8 1361.1L1541.9 1363.1L1541.9 1365.1L1542 1367.1L1542 1369.1L1542 1371.1L1542.1 1373.1L1542.1 1375.1L1542.1 1377.1L1542.2 1379.1L1542.2 1381.1L1542.3 1383.1L1542.4 1385.1L1542.4 1387.1L1542.5 1389.1L1542.6 1391.1L1542.6 1393.1L1542.7 1395.1L1542.7 1397.1L1542.8 1399.1L1542.9 1401.1L1542.9 1403.1L1543 1405.1L1543 1407.1L1543.1 1409.1L1543.1 1411.1L1543.2 1413.1L1543.3 1415.1L1543.3 1417.1L1543.4 1419.1L1543.5 1421.1L1543.6 1423.1L1543.7 1425.1L1543.9 1427.1L1544 1429.1L1544.2 1431.1L1544.3 1433.1L1544.5 1435.1L1544.7 1437.1L1545 1439.1L1545.3 1441.1L1545.6 1443.1L1546 1445.1L1546.5 1447.1L1547 1449.1L1547.5 1451.1L1547.9 1453.1L1548.4 1455.1L1548.9 1457.1L1549.4 1459.1L1549.8 1461.1L1550.3 1463.1L1550.8 1465.1L1551.3 1467.1L1551.9 1469.1L1552.4 1471.1L1552.9 1473.1L1553.4 1475.1L1553.9 1477.1L1554.4 1479.1L1554.8 1481.1L1555.3 1483.1L1555.7 1485.1L1556.2 1487.1L1556.7 1489.1L1557.2 1491.1L1557.7 1493.1L1558.3 1495.1L1559 1497.1L1559.7 1499.1L1560.5 1501.1L1561.4 1503.1L1562.3 1505.1L1563.3 1507.1L1564.4 1509.1L1565.4 1511.1L1566.4 1513.1L1567.5 1515.1L1568.5 1517.1L1569.5 1519.1L1570.5 1521.1L1571.6 1523.1L1572.8 1525.1L1574.1 1527.1L1575.8 1529.1L1577.6 1531.1L1579.1 1533.1L1580.2 1535.1L1580.7 1537.1L1581 1539.1L1581.2 1541.1L1581.4 1543.1L1581.2 1545.1L1580.3 1547.1L1578.9 1549.1L1577.2 1551.1L1575.2 1553.1L1572.3 1555.1L1568.7 1557.1L1565.6 1558.4L1515.2 1558.4L1512.1 1557.1L1508.5 1555.1L1505.6 1553.1L1503.6 1551.1L1501.9 1549.1L1500.5 1547.1L1499.6 1545.1L1499.4 1543.1L1499.6 1541.1L1499.8 1539.1L1500.1 1537.1L1500.6 1535.1L1501.7 1533.1L1503.2 1531.1L1505 1529.1L1506.7 1527.1L1508 1525.1L1509.2 1523.1L1510.3 1521.1L1511.3 1519.1L1512.3 1517.1L1513.3 1515.1L1514.4 1513.1L1515.4 1511.1L1516.4 1509.1L1517.5 1507.1L1518.5 1505.1L1519.4 1503.1L1520.3 1501.1L1521.1 1499.1L1521.8 1497.1L1522.5 1495.1L1523.1 1493.1L1523.6 1491.1L1524.1 1489.1L1524.6 1487.1L1525.1 1485.1L1525.5 1483.1L1526 1481.1L1526.4 1479.1L1526.9 1477.1L1527.4 1475.1L1527.9 1473.1L1528.4 1471.1L1528.9 1469.1L1529.5 1467.1L1530 1465.1L1530.5 1463.1L1531 1461.1L1531.4 1459.1L1531.9 1457.1L1532.4 1455.1L1532.9 1453.1L1533.3 1451.1L1533.8 1449.1L1534.3 1447.1L1534.8 1445.1L1535.2 1443.1L1535.5 1441.1L1535.8 1439.1L1536.1 1437.1L1536.3 1435.1L1536.5 1433.1L1536.6 1431.1L1536.8 1429.1L1536.9 1427.1L1537.1 1425.1L1537.2 1423.1L1537.3 1421.1L1537.4 1419.1L1537.5 1417.1L1537.5 1415.1L1537.6 1413.1L1537.7 1411.1L1537.7 1409.1L1537.8 1407.1L1537.8 1405.1L1537.9 1403.1L1537.9 1401.1L1538 1399.1L1538.1 1397.1L1538.1 1395.1L1538.2 1393.1L1538.2 1391.1L1538.3 1389.1L1538.4 1387.1L1538.4 1385.1L1538.5 1383.1L1538.6 1381.1L1538.6 1379.1L1538.7 1377.1L1538.7 1375.1L1538.7 1373.1L1538.8 1371.1L1538.8 1369.1L1538.8 1367.1L1538.9 1365.1L1538.9 1363.1L1539 1361.1L1539 1359.1L1539.1 1357.1L1539.1 1355.1L1539.2 1353.1L1539.3 1351.1L1539.3 1349.1L1539.4 1347.1L1539.5 1345.1L1539.5 1343.1L1539.6 1341.1L1539.6 1339.1L1539.6 1337.1L1539.7 1335.1L1539.7 1333.1L1539.7 1331.1L1539.7 1329.1L1539.8 1327.1L1539.8 1325.1L1539.8 1323.1L1539.8 1321.1L1539.8 1319.1L1539.8 1317.1L1539.8 1315.1L1539.8 1313.1L1539.8 1311.1L1539.8 1309.1L1539.8 1307.1L1539.8 1305.1L1539.8 1303.1L1539.8 1301.1L1539.8 1299.1L1539.8 1297.1L1539.8 1295.1L1539.8 1293.1Z" fill="#b5b733" stroke="#222" stroke-width="0.7" stroke-linejoin="round"/>
<path d="M1661.4 1279.7L1661.4 1281.7L1661.4 1283.7L1661.5 1285.7L1661.5 1287.7L1661.5 1289.7L1661.5 1291.7L1661.6 1293.7L1661.6 1295.7L1661.6 1297.7L1661.6 1299.7L1661.6 1301.7L1661.6 1303.7L1661.6 1305.7L1661.6 1307.7L1661.6 1309.7L1661.6 1311.7L1661.6 1313.7L1661.6 1315.7L1661.6 1317.7L1661.6 1319.7L1661.6 1321.7L1661.6 1323.7L1661.6 1325.7L1661.6 1327.7L1661.7 1329.7L1661.7 1331.7L1661.7 1333.7L1661.7 1335.7L1661.8 1337.7L1661.8 1339.7L1661.8 1341.7L1661.9 1343.7L1661.9 1345.7L1661.9 1347.7L1662 1349.7L1662 1351.7L1662.1 1353.7L1662.1 1355.7L1662.2 1357.7L1662.2 1359.7L1662.3 1361.7L1662.3 1363.7L1662.4 1365.7L1662.5 1367.7L1662.6 1369.7L1662.7 1371.7L1662.8 1373.7L1662.8 1375.7L1662.9 1377.7L1663 1379.7L1663.1 1381.7L1663.3 1383.7L1663.4 1385.7L1663.5 1387.7L1663.6 1389.7L1663.8 1391.7L1663.9 1393.7L1664 1395.7L1664.1 1397.7L1664.2 1399.7L1664.3 1401.7L1664.4 1403.7L1664.5 1405.7L1664.6 1407.7L1664.7 1409.7L1664.8 1411.7L1664.9 1413.7L1665 1415.7L1665.1 1417.7L1665.2 1419.7L1665.3 1421.7L1665.4 1423.7L1665.5 1425.7L1665.6 1427.7L1665.7 1429.7L1665.8 1431.7L1665.9 1433.7L1666 1435.7L1666.1 1437.7L1666.3 1439.7L1666.4 1441.7L1666.6 1443.7L1666.7 1445.7L1666.9 1447.7L1667 1449.7L1667.2 1451.7L1667.4 1453.7L1667.6 1455.7L1667.8 1457.7L1668 1459.7L1668.2 1461.7L1668.4 1463.7L1668.6 1465.7L1668.9 1467.7L1669.1 1469.7L1669.4 1471.7L1669.6 1473.7L1669.9 1475.7L1670.2 1477.7L1670.5 1479.7L1670.8 1481.7L1671.1 1483.7L1671.4 1485.7L1671.8 1487.7L1672.1 1489.7L1672.5 1491.7L1672.9 1493.7L1673.3 1495.7L1673.7 1497.7L1674.2 1499.7L1674.7 1501.7L1675.2 1503.7L1675.8 1505.7L1676.4 1507.7L1677.1 1509.7L1677.8 1511.7L1678.7 1513.7L1679.5 1515.7L1680.5 1517.7L1681.6 1519.7L1682.9 1521.7L1684.2 1523.7L1685.5 1525.7L1686.8 1527.7L1688.2 1529.7L1689.7 1531.7L1691.1 1533.7L1692.5 1535.7L1693.8 1537.7L1695.2 1539.7L1696.5 1541.7L1697.5 1543.7L1698.2 1545.7L1698.9 1547.7L1699.5 1549.7L1699.9 1551.7L1700 1553.7L1699.7 1555.7L1699 1557.7L1698 1559.7L1696.5 1561.7L1694.5 1563.4L1626.7 1563.4L1624.7 1561.7L1623.2 1559.7L1622.2 1557.7L1621.5 1555.7L1621.2 1553.7L1621.3 1551.7L1621.7 1549.7L1622.3 1547.7L1623 1545.7L1623.7 1543.7L1624.7 1541.7L1626 1539.7L1627.4 1537.7L1628.7 1535.7L1630.1 1533.7L1631.5 1531.7L1633 1529.7L1634.4 1527.7L1635.7 1525.7L1637 1523.7L1638.3 1521.7L1639.6 1519.7L1640.7 1517.7L1641.7 1515.7L1642.5 1513.7L1643.4 1511.7L1644.1 1509.7L1644.8 1507.7L1645.4 1505.7L1646 1503.7L1646.5 1501.7L1647 1499.7L1647.5 1497.7L1647.9 1495.7L1648.3 1493.7L1648.7 1491.7L1649.1 1489.7L1649.4 1487.7L1649.8 1485.7L1650.1 1483.7L1650.4 1481.7L1650.7 1479.7L1651 1477.7L1651.3 1475.7L1651.6 1473.7L1651.8 1471.7L1652.1 1469.7L1652.3 1467.7L1652.6 1465.7L1652.8 1463.7L1653 1461.7L1653.2 1459.7L1653.4 1457.7L1653.6 1455.7L1653.8 1453.7L1654 1451.7L1654.2 1449.7L1654.3 1447.7L1654.5 1445.7L1654.6 1443.7L1654.8 1441.7L1654.9 1439.7L1655.1 1437.7L1655.2 1435.7L1655.3 1433.7L1655.4 1431.7L1655.5 1429.7L1655.6 1427.7L1655.7 1425.7L1655.8 1423.7L1655.9 1421.7L1656 1419.7L1656.1 1417.7L1656.2 1415.7L1656.3 1413.7L1656.4 1411.7L1656.5 1409.7L1656.6 1407.7L1656.7 1405.7L1656.8 1403.7L1656.9 1401.7L1657 1399.7L1657.1 1397.7L1657.2 1395.7L1657.3 1393.7L1657.4 1391.7L1657.6 1389.7L1657.7 1387.7L1657.8 1385.7L1657.9 1383.7L1658.1 1381.7L1658.2 1379.7L1658.3 1377.7L1658.4 1375.7L1658.4 1373.7L1658.5 1371.7L1658.6 1369.7L1658.7 1367.7L1658.8 1365.7L1658.9 1363.7L1658.9 1361.7L1659 1359.7L1659 1357.7L1659.1 1355.7L1659.1 1353.7L1659.2 1351.7L1659.2 1349.7L1659.3 1347.7L1659.3 1345.7L1659.3 1343.7L1659.4 1341.7L1659.4 1339.7L1659.4 1337.7L1659.5 1335.7L1659.5 1333.7L1659.5 1331.7L1659.5 1329.7L1659.6 1327.7L1659.6 1325.7L1659.6 1323.7L1659.6 1321.7L1659.6 1319.7L1659.6 1317.7L1659.6 1315.7L1659.6 1313.7L1659.6 1311.7L1659.6 1309.7L1659.6 1307.7L1659.6 1305.7L1659.6 1303.7L1659.6 1301.7L1659.6 1299.7L1659.6 1297.7L1659.6 1295.7L1659.6 1293.7L1659.7 1291.7L1659.7 1289.7L1659.7 1287.7L1659.7 1285.7L1659.8 1283.7L1659.8 1281.7L1659.8 1279.7Z" fill="#33cc99" stroke="#222" stroke-width="0.7" stroke-linejoin="round"/>
<path d="M1782.2 1280.5L1782.2 1282.5L1782.2 1284.5L1782.1 1286.5L1782.1 1288.5L1782.1 1290.5L1782.1 1292.5L1782.1 1294.5L1782.1 1296.5L1782.1 1298.5L1782.1 1300.5L1782 1302.5L1782 1304.5L1782 1306.5L1782 1308.5L1782 1310.5L1781.9 1312.5L1781.9 1314.5L1781.9 1316.5L1781.9 1318.5L1781.8 1320.5L1781.8 1322.5L1781.8 1324.5L1781.8 1326.5L1781.8 1328.5L1781.8 1330.5L1781.8 1332.5L1781.8 1334.5L1781.8 1336.5L1781.8 1338.5L1781.9 1340.5L1781.9 1342.5L1781.9 1344.5L1781.9 1346.5L1782 1348.5L1782 1350.5L1782.1 1352.5L1782.1 1354.5L1782.2 1356.5L1782.3 1358.5L1782.4 1360.5L1782.5 1362.5L1782.6 1364.5L1782.7 1366.5L1782.8 1368.5L1782.9 1370.5L1783.1 1372.5L1783.3 1374.5L1783.6 1376.5L1783.8 1378.5L1784.1 1380.5L1784.3 1382.5L1784.4 1384.5L1784.5 1386.5L1784.5 1388.5L1784.5 1390.5L1784.5 1392.5L1784.5 1394.5L1784.5 1396.5L1784.5 1398.5L1784.5 1400.5L1784.5 1402.5L1784.5 1404.5L1784.5 1406.5L1784.5 1408.5L1784.5 1410.5L1784.4 1412.5L1784.3 1414.5L1784.1 1416.5L1784 1418.5L1783.8 1420.5L1783.7 1422.5L1783.6 1424.5L1783.6 1426.5L1783.6 1428.5L1783.7 1430.5L1784 1432.5L1784.3 1434.5L1784.6 1436.5L1784.9 1438.5L1785.3 1440.5L1785.7 1442.5L1786.2 1444.5L1786.6 1446.5L1787 1448.5L1787.4 1450.5L1787.8 1452.5L1788.2 1454.5L1788.6 1456.5L1789 1458.5L1789.4 1460.5L1789.9 1462.5L1790.3 1464.5L1790.6 1466.5L1790.9 1468.5L1791.1 1470.5L1791.3 1472.5L1791.5 1474.5L1791.6 1476.5L1791.7 1478.5L1791.8 1480.5L1791.8 1482.5L1791.9 1484.5L1791.9 1486.5L1792 1488.5L1792 1490.5L1792.1 1492.5L1792.1 1494.5L1792.2 1496.5L1792.4 1498.5L1792.6 1500.5L1793 1502.5L1793.4 1504.5L1793.9 1506.5L1794.6 1508.5L1795.6 1510.5L1796.8 1512.5L1798.1 1514.5L1799.4 1516.5L1800.8 1518.5L1802.3 1520.5L1803.9 1522.5L1805.6 1524.5L1807.3 1526.5L1809 1528.5L1810.7 1530.5L1812.5 1532.5L1814.2 1534.5L1815.9 1536.5L1817.6 1538.5L1819.2 1540.5L1820.6 1542.5L1821.5 1544.5L1822.3 1546.5L1822.9 1548.5L1823.3 1550.5L1823.3 1552.5L1822.8 1554.5L1821.9 1556.5L1820.8 1558.5L1819.4 1560.5L1817.2 1562.5L1816.1 1563.4L1745.5 1563.4L1744.4 1562.5L1742.2 1560.5L1740.8 1558.5L1739.7 1556.5L1738.8 1554.5L1738.3 1552.5L1738.3 1550.5L1738.7 1548.5L1739.3 1546.5L1740.1 1544.5L1741 1542.5L1742.4 1540.5L1744 1538.5L1745.7 1536.5L1747.4 1534.5L1749.1 1532.5L1750.9 1530.5L1752.6 1528.5L1754.3 1526.5L1756 1524.5L1757.7 1522.5L1759.3 1520.5L1760.8 1518.5L1762.2 1516.5L1763.5 1514.5L1764.8 1512.5L1766 1510.5L1767 1508.5L1767.7 1506.5L1768.2 1504.5L1768.6 1502.5L1769 1500.5L1769.2 1498.5L1769.4 1496.5L1769.5 1494.5L1769.5 1492.5L1769.6 1490.5L1769.6 1488.5L1769.7 1486.5L1769.7 1484.5L1769.8 1482.5L1769.8 1480.5L1769.9 1478.5L1770 1476.5L1770.1 1474.5L1770.3 1472.5L1770.5 1470.5L1770.7 1468.5L1771 1466.5L1771.3 1464.5L1771.7 1462.5L1772.2 1460.5L1772.6 1458.5L1773 1456.5L1773.4 1454.5L1773.8 1452.5L1774.2 1450.5L1774.6 1448.5L1775 1446.5L1775.4 1444.5L1775.9 1442.5L1776.3 1440.5L1776.7 1438.5L1777 1436.5L1777.3 1434.5L1777.6 1432.5L1777.9 1430.5L1778 1428.5L1778 1426.5L1778 1424.5L1777.9 1422.5L1777.8 1420.5L1777.6 1418.5L1777.5 1416.5L1777.3 1414.5L1777.2 1412.5L1777.1 1410.5L1777.1 1408.5L1777.1 1406.5L1777.1 1404.5L1777.1 1402.5L1777.1 1400.5L1777.1 1398.5L1777.1 1396.5L1777.1 1394.5L1777.1 1392.5L1777.1 1390.5L1777.1 1388.5L1777.1 1386.5L1777.2 1384.5L1777.3 1382.5L1777.5 1380.5L1777.8 1378.5L1778 1376.5L1778.3 1374.5L1778.5 1372.5L1778.7 1370.5L1778.8 1368.5L1778.9 1366.5L1779 1364.5L1779.1 1362.5L1779.2 1360.5L1779.3 1358.5L1779.4 1356.5L1779.5 1354.5L1779.5 1352.5L1779.6 1350.5L1779.6 1348.5L1779.7 1346.5L1779.7 1344.5L1779.7 1342.5L1779.7 1340.5L1779.8 1338.5L1779.8 1336.5L1779.8 1334.5L1779.8 1332.5L1779.8 1330.5L1779.8 1328.5L1779.8 1326.5L1779.8 1324.5L1779.8 1322.5L1779.8 1320.5L1779.7 1318.5L1779.7 1316.5L1779.7 1314.5L1779.7 1312.5L1779.6 1310.5L1779.6 1308.5L1779.6 1306.5L1779.6 1304.5L1779.6 1302.5L1779.5 1300.5L1779.5 1298.5L1779.5 1296.5L1779.5 1294.5L1779.5 1292.5L1779.5 1290.5L1779.5 1288.5L1779.5 1286.5L1779.4 1284.5L1779.4 1282.5L1779.4 1280.5Z" fill="#35bdf7" stroke="#222" stroke-width="0.7" stroke-linejoin="round"/>
<path d="M1904.8 1284.6L1904.8 1286.6L1904.8 1288.6L1904.8 1290.6L1904.8 1292.6L1904.8 1294.6L1904.8 1296.6L1904.8 1298.6L1904.8 1300.6L1904.8 1302.6L1904.8 1304.6L1904.8 1306.6L1904.8 1308.6L1904.7 1310.6L1904.7 1312.6L1904.7 1314.6L1904.7 1316.6L1904.7 1318.6L1904.7 1320.6L1904.7 1322.6L1904.7 1324.6L1904.7 1326.6L1904.8 1328.6L1904.8 1330.6L1904.9 1332.6L1904.9 1334.6L1905 1336.6L1905 1338.6L1905.1 1340.6L1905.2 1342.6L1905.4 1344.6L1905.5 1346.6L1905.7 1348.6L1905.9 1350.6L1906 1352.6L1906.2 1354.6L1906.4 1356.6L1906.6 1358.6L1906.8 1360.6L1907.1 1362.6L1907.3 1364.6L1907.5 1366.6L1907.8 1368.6L1908 1370.6L1908.3 1372.6L1908.6 1374.6L1908.8 1376.6L1909 1378.6L1909.3 1380.6L1909.5 1382.6L1909.7 1384.6L1909.9 1386.6L1910.1 1388.6L1910.3 1390.6L1910.5 1392.6L1910.7 1394.6L1911 1396.6L1911.3 1398.6L1911.5 1400.6L1911.8 1402.6L1912.2 1404.6L1912.5 1406.6L1912.8 1408.6L1913.2 1410.6L1913.6 1412.6L1913.9 1414.6L1914.3 1416.6L1914.7 1418.6L1915.1 1420.6L1915.5 1422.6L1915.9 1424.6L1916.3 1426.6L1916.8 1428.6L1917.2 1430.6L1917.7 1432.6L1918.2 1434.6L1918.7 1436.6L1919.2 1438.6L1919.7 1440.6L1920.3 1442.6L1920.9 1444.6L1921.5 1446.6L1922.1 1448.6L1922.8 1450.6L1923.4 1452.6L1924 1454.6L1924.6 1456.6L1925.3 1458.6L1925.9 1460.6L1926.6 1462.6L1927.2 1464.6L1927.7 1466.6L1928 1468.6L1928.3 1470.6L1928.6 1472.6L1928.8 1474.6L1928.9 1476.6L1928.8 1478.6L1928.7 1480.6L1928.5 1482.6L1928.3 1484.6L1928.1 1486.6L1927.8 1488.6L1927.3 1490.6L1926.8 1492.6L1926.3 1494.6L1925.7 1496.6L1925 1498.6L1924.2 1500.6L1923.3 1502.6L1922.3 1504.6L1921.4 1506.6L1920.4 1508.6L1919.4 1510.6L1918.3 1512.6L1917.3 1514.6L1916.2 1516.6L1915.1 1518.6L1913.9 1520.6L1912.8 1522.6L1911.6 1524.6L1910.6 1526.6L1909.6 1528.6L1908.6 1530.6L1907.7 1532.6L1906.8 1534.6L1906.4 1535.4L1896.6 1535.4L1896.2 1534.6L1895.3 1532.6L1894.4 1530.6L1893.4 1528.6L1892.4 1526.6L1891.4 1524.6L1890.2 1522.6L1889.1 1520.6L1887.9 1518.6L1886.8 1516.6L1885.7 1514.6L1884.7 1512.6L1883.6 1510.6L1882.6 1508.6L1881.6 1506.6L1880.7 1504.6L1879.7 1502.6L1878.8 1500.6L1878 1498.6L1877.3 1496.6L1876.7 1494.6L1876.2 1492.6L1875.7 1490.6L1875.2 1488.6L1874.9 1486.6L1874.7 1484.6L1874.5 1482.6L1874.3 1480.6L1874.2 1478.6L1874.1 1476.6L1874.2 1474.6L1874.4 1472.6L1874.7 1470.6L1875 1468.6L1875.3 1466.6L1875.8 1464.6L1876.4 1462.6L1877.1 1460.6L1877.7 1458.6L1878.4 1456.6L1879 1454.6L1879.6 1452.6L1880.2 1450.6L1880.9 1448.6L1881.5 1446.6L1882.1 1444.6L1882.7 1442.6L1883.3 1440.6L1883.8 1438.6L1884.3 1436.6L1884.8 1434.6L1885.3 1432.6L1885.8 1430.6L1886.2 1428.6L1886.7 1426.6L1887.1 1424.6L1887.5 1422.6L1887.9 1420.6L1888.3 1418.6L1888.7 1416.6L1889.1 1414.6L1889.4 1412.6L1889.8 1410.6L1890.2 1408.6L1890.5 1406.6L1890.8 1404.6L1891.2 1402.6L1891.5 1400.6L1891.7 1398.6L1892 1396.6L1892.3 1394.6L1892.5 1392.6L1892.7 1390.6L1892.9 1388.6L1893.1 1386.6L1893.3 1384.6L1893.5 1382.6L1893.7 1380.6L1894 1378.6L1894.2 1376.6L1894.4 1374.6L1894.7 1372.6L1895 1370.6L1895.2 1368.6L1895.5 1366.6L1895.7 1364.6L1895.9 1362.6L1896.2 1360.6L1896.4 1358.6L1896.6 1356.6L1896.8 1354.6L1897 1352.6L1897.1 1350.6L1897.3 1348.6L1897.5 1346.6L1897.6 1344.6L1897.8 1342.6L1897.9 1340.6L1898 1338.6L1898 1336.6L1898.1 1334.6L1898.1 1332.6L1898.2 1330.6L1898.2 1328.6L1898.3 1326.6L1898.3 1324.6L1898.3 1322.6L1898.3 1320.6L1898.3 1318.6L1898.3 1316.6L1898.3 1314.6L1898.3 1312.6L1898.3 1310.6L1898.2 1308.6L1898.2 1306.6L1898.2 1304.6L1898.2 1302.6L1898.2 1300.6L1898.2 1298.6L1898.2 1296.6L1898.2 1294.6L1898.2 1292.6L1898.2 1290.6L1898.2 1288.6L1898.2 1286.6L1898.2 1284.6Z" fill="#ec8bf5" stroke="#222" stroke-width="0.7" stroke-linejoin="round"/>
<path d="M1420.4 1402.8V1490.9M1420.4 1555.5V1563.4" stroke="#111" stroke-width="0.7" fill="none"/>
<rect x="1415.7" y="1490.9" width="9.4" height="64.6" fill="#fff" stroke="#111" stroke-width="0.7"/>
<path d="M1415.7 1537.4H1425.1" stroke="#111" stroke-width="0.9"/>
<path d="M1540.4 1404.8V1488.5M1540.4 1543.7V1558.4" stroke="#111" stroke-width="0.7" fill="none"/>
<rect x="1535.7" y="1488.5" width="9.4" height="55.2" fill="#fff" stroke="#111" stroke-width="0.7"/>
<path d="M1535.7 1523.4H1545.1" stroke="#111" stroke-width="0.9"/>
<path d="M1660.6 1403.8V1488.5M1660.6 1555.9V1563.4" stroke="#111" stroke-width="0.7" fill="none"/>
<rect x="1655.9" y="1488.5" width="9.4" height="67.4" fill="#fff" stroke="#111" stroke-width="0.7"/>
<path d="M1655.9 1538.3H1665.3" stroke="#111" stroke-width="0.9"/>
<path d="M1780.8 1405.8V1492M1780.8 1555.9V1563.4" stroke="#111" stroke-width="0.7" fill="none"/>
<rect x="1776.1" y="1492" width="9.4" height="63.8" fill="#fff" stroke="#111" stroke-width="0.7"/>
<path d="M1776.1 1540.1H1785.5" stroke="#111" stroke-width="0.9"/>
<path d="M1901.5 1312.2V1416.2M1901.5 1487.5V1535.4" stroke="#111" stroke-width="0.7" fill="none"/>
<rect x="1896.8" y="1416.2" width="9.4" height="71.3" fill="#fff" stroke="#111" stroke-width="0.7"/>
<path d="M1896.8 1462.9H1906.2" stroke="#111" stroke-width="0.9"/>
<path d="M1348.7 1253.7V1670.2" fill="none" stroke="#222" stroke-width="1.1"/><path d="M1348.2 1669.7H1973" fill="none" stroke="#111" stroke-width="2"/>
<text x="1339.5" y="1335.4" text-anchor="end" font-size="15.2" fill="#333">0.08</text>
<text x="1339.5" y="1452.6" text-anchor="end" font-size="15.2" fill="#333">0.04</text>
<text x="1339.5" y="1569" text-anchor="end" font-size="15.2" fill="#333">0.00</text>
<text x="1420" y="1689.5" text-anchor="middle" font-size="14.8" fill="#333">Age</text>
<text x="1540.2" y="1689.5" text-anchor="middle" font-size="14.8" fill="#333">Dietary PCs</text>
<text x="1660.5" y="1689.5" text-anchor="middle" font-size="14.8" fill="#333">BMI</text>
<text x="1780.7" y="1689.5" text-anchor="middle" font-size="14.8" fill="#333">Sex</text>
<text x="1900.9" y="1689.5" text-anchor="middle" font-size="14.8" fill="#333">Genetic PCs</text>
<path d="M1345 1330.1H1348.7 M1345 1447.3H1348.7 M1345 1563.7H1348.7 M1420 1669.4V1673.5 M1540.2 1669.4V1673.5 M1660.5 1669.4V1673.5 M1780.7 1669.4V1673.5 M1900.9 1669.4V1673.5" stroke="#333" stroke-width="1.3" fill="none"/>
<text x="-4" y="39.5" font-size="54.5" font-weight="bold">a</text>
<text x="935.5" y="39.5" font-size="54.5" font-weight="bold">b</text>
<text x="-0.5" y="942" font-size="54.5" font-weight="bold">c</text>
</svg>
</body></html>
